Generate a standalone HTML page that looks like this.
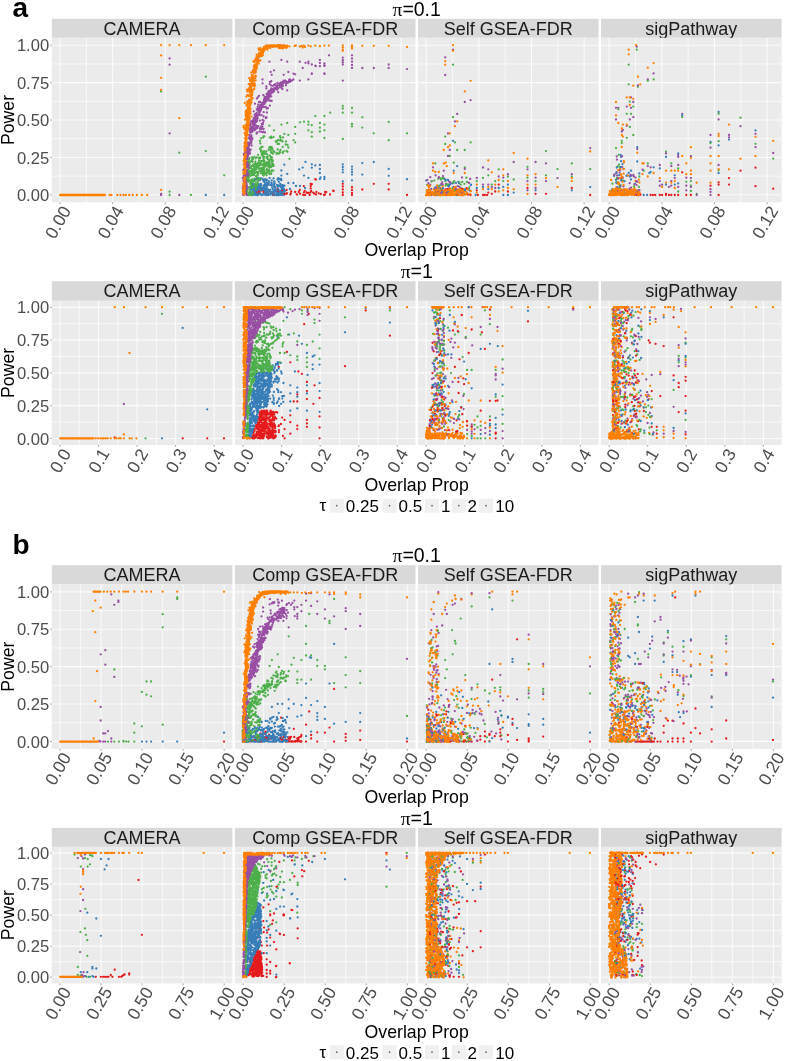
<!DOCTYPE html>
<html><head><meta charset="utf-8"><style>
html,body{margin:0;padding:0;background:#fff;width:785px;height:1061px;overflow:hidden}
svg{display:block;filter:blur(0.3px)}
text{font-family:"Liberation Sans", sans-serif}
</style></head><body>
<svg width="785" height="1061" viewBox="0 0 785 1061">
<text x="12.5" y="17.3" font-size="28" font-weight="bold" fill="#000">a</text>
<text x="12.5" y="554" font-size="28" font-weight="bold" fill="#000">b</text>
<text x="416.7" y="15.6" font-size="19.5" text-anchor="middle" fill="#000"><tspan font-family="Liberation Serif">π</tspan>=0.1</text>
<rect x="51.8" y="18.8" width="180.6" height="19" fill="#D9D9D9"/>
<text x="142.1" y="35" font-size="18" text-anchor="middle" fill="#1A1A1A">CAMERA</text>
<rect x="51.8" y="37.8" width="180.6" height="164.5" fill="#EBEBEB"/>
<path d="M51.8 176.13H232.4M51.8 138.74H232.4M51.8 101.36H232.4M51.8 63.97H232.4M86.32 37.8V202.3M138.94 37.8V202.3M191.57 37.8V202.3" stroke="#fff" stroke-opacity="0.75" stroke-width="0.9" fill="none"/>
<path d="M51.8 194.82H232.4M51.8 157.44H232.4M51.8 120.05H232.4M51.8 82.66H232.4M51.8 45.28H232.4M60.01 37.8V202.3M112.63 37.8V202.3M165.25 37.8V202.3M217.88 37.8V202.3" stroke="#fff" stroke-opacity="0.8" stroke-width="1.1" fill="none"/>
<path d="M60.01 202.3V204.1M112.63 202.3V204.1M165.25 202.3V204.1M217.88 202.3V204.1" stroke="#888" stroke-width="0.8" fill="none"/>
<text x="71.71" y="210.5" font-size="17.5" text-anchor="end" fill="#4D4D4D" transform="rotate(-60 71.71 210.5)">0.00</text>
<text x="124.33" y="210.5" font-size="17.5" text-anchor="end" fill="#4D4D4D" transform="rotate(-60 124.33 210.5)">0.04</text>
<text x="176.95" y="210.5" font-size="17.5" text-anchor="end" fill="#4D4D4D" transform="rotate(-60 176.95 210.5)">0.08</text>
<text x="229.58" y="210.5" font-size="17.5" text-anchor="end" fill="#4D4D4D" transform="rotate(-60 229.58 210.5)">0.12</text>
<path d="M205.8 195.0h0M224.2 195.0h0" stroke="#377EB8" stroke-width="2.3" stroke-linecap="round" fill="none"/>
<path d="M205.8 76.7h0M161.1 91.4h0M179.3 152.7h0M205.8 151.1h0M224.2 175.3h0M169.6 191.7h0M169.6 195.0h0M191.0 195.0h0" stroke="#4DAF4A" stroke-width="2.3" stroke-linecap="round" fill="none"/>
<path d="M169.6 58.4h0M169.6 64.7h0M169.6 133.4h0M161.1 193.8h0M161.1 195.0h0M179.3 195.0h0" stroke="#984EA3" stroke-width="2.3" stroke-linecap="round" fill="none"/>
<path d="M161.1 45.1h0M169.6 45.1h0M179.3 45.1h0M191.0 45.1h0M205.8 45.1h0M224.2 45.1h0M161.1 55.4h0M161.1 77.8h0M161.1 89.8h0M179.3 118.2h0M161.1 189.9h0M60.1 195.0h0M60.8 195.0h0M61.6 195.0h0M62.4 195.0h0M63.1 195.0h0M63.9 195.0h0M64.6 195.0h0M65.4 195.0h0M66.2 195.0h0M66.9 195.0h0M67.7 195.0h0M68.5 195.0h0M69.2 195.0h0M70.0 195.0h0M70.7 195.0h0M71.5 195.0h0M72.3 195.0h0M73.0 195.0h0M73.8 195.0h0M74.5 195.0h0M75.3 195.0h0M76.1 195.0h0M76.8 195.0h0M77.6 195.0h0M78.4 195.0h0M79.1 195.0h0M79.9 195.0h0M80.6 195.0h0M81.4 195.0h0M82.2 195.0h0M82.9 195.0h0M83.7 195.0h0M84.5 195.0h0M85.2 195.0h0M86.0 195.0h0M86.7 195.0h0M87.5 195.0h0M88.3 195.0h0M89.0 195.0h0M89.8 195.0h0M90.6 195.0h0M91.3 195.0h0M92.1 195.0h0M92.8 195.0h0M93.6 195.0h0M94.4 195.0h0M95.1 195.0h0M95.9 195.0h0M96.6 195.0h0M97.4 195.0h0M98.2 195.0h0M98.9 195.0h0M99.7 195.0h0M100.5 195.0h0M101.2 195.0h0M102.0 195.0h0M102.7 195.0h0M103.5 195.0h0M104.3 195.0h0M105.0 195.0h0M109.6 195.0h0M111.5 195.0h0M117.3 195.0h0M120.5 195.0h0M123.5 195.0h0M125.8 195.0h0M129.2 195.0h0M132.7 195.0h0M136.9 195.0h0M141.9 195.0h0M147.2 195.0h0" stroke="#FF7F00" stroke-width="2.3" stroke-linecap="round" fill="none"/>
<rect x="234.9" y="18.8" width="180.6" height="19" fill="#D9D9D9"/>
<text x="325.2" y="35" font-size="18" text-anchor="middle" fill="#1A1A1A">Comp GSEA-FDR</text>
<rect x="234.9" y="37.8" width="180.6" height="164.5" fill="#EBEBEB"/>
<path d="M234.9 176.13H415.5M234.9 138.74H415.5M234.9 101.36H415.5M234.9 63.97H415.5M269.42 37.8V202.3M322.04 37.8V202.3M374.67 37.8V202.3" stroke="#fff" stroke-opacity="0.75" stroke-width="0.9" fill="none"/>
<path d="M234.9 194.82H415.5M234.9 157.44H415.5M234.9 120.05H415.5M234.9 82.66H415.5M234.9 45.28H415.5M243.11 37.8V202.3M295.73 37.8V202.3M348.35 37.8V202.3M400.98 37.8V202.3" stroke="#fff" stroke-opacity="0.8" stroke-width="1.1" fill="none"/>
<path d="M243.11 202.3V204.1M295.73 202.3V204.1M348.35 202.3V204.1M400.98 202.3V204.1" stroke="#888" stroke-width="0.8" fill="none"/>
<text x="254.81" y="210.5" font-size="17.5" text-anchor="end" fill="#4D4D4D" transform="rotate(-60 254.81 210.5)">0.00</text>
<text x="307.43" y="210.5" font-size="17.5" text-anchor="end" fill="#4D4D4D" transform="rotate(-60 307.43 210.5)">0.04</text>
<text x="360.05" y="210.5" font-size="17.5" text-anchor="end" fill="#4D4D4D" transform="rotate(-60 360.05 210.5)">0.08</text>
<text x="412.68" y="210.5" font-size="17.5" text-anchor="end" fill="#4D4D4D" transform="rotate(-60 412.68 210.5)">0.12</text>
<path d="M303.9 192.3h0M277.9 193.0h0M277.1 192.7h0M278.4 191.0h0M280.8 191.6h0M281.8 191.1h0M283.6 193.4h0M303.2 194.9h0M316.4 191.9h0M333.6 191.1h0M282.2 192.9h0M318.8 193.4h0M326.3 192.1h0M323.9 195.0h0M300.1 193.8h0M257.9 193.6h0M268.3 193.3h0M256.7 192.0h0M268.5 194.7h0M267.5 194.7h0M286.6 190.0h0M261.6 190.5h0M263.5 192.2h0M274.9 190.7h0M256.1 191.7h0M286.5 193.5h0M284.0 194.2h0M259.3 193.1h0M258.0 189.4h0M266.9 189.3h0M256.0 190.0h0M259.2 191.4h0M256.8 194.7h0M275.7 190.0h0M303.8 186.1h0M310.7 186.0h0M310.7 188.4h0M315.3 179.2h0M342.8 183.8h0M342.8 186.5h0M342.8 189.5h0M342.8 192.5h0M342.8 195.0h0M352.0 187.2h0M352.0 195.0h0M362.3 189.5h0M373.8 183.8h0M315.9 179.6h0M325.0 194.5h0" stroke="#E41A1C" stroke-width="2.3" stroke-linecap="round" fill="none"/>
<path d="M261.1 185.4h0M251.4 194.9h0M266.8 185.7h0M267.3 184.3h0M279.5 192.0h0M255.0 192.9h0M267.0 193.0h0M277.7 192.5h0M256.7 190.0h0M257.7 192.0h0M283.2 188.2h0M255.8 186.4h0M278.6 189.5h0M281.4 193.0h0M275.1 189.5h0M260.1 193.2h0M283.8 188.6h0M262.4 194.9h0M253.9 185.7h0M254.4 193.5h0M254.0 184.2h0M283.8 191.5h0M266.7 194.7h0M263.5 194.0h0M257.5 187.4h0M257.2 190.7h0M257.7 188.8h0M254.0 194.5h0M263.0 194.6h0M265.9 190.1h0M263.7 186.1h0M274.1 190.4h0M259.9 190.0h0M267.8 193.0h0M253.3 190.4h0M257.4 187.2h0M275.9 189.8h0M281.5 189.1h0M266.2 192.0h0M265.0 194.8h0M273.1 194.1h0M282.7 187.0h0M267.9 194.8h0M278.6 185.6h0M253.7 189.1h0M252.5 186.8h0M254.6 192.2h0M271.7 185.6h0M262.3 189.6h0M284.6 193.6h0M254.8 189.0h0M266.4 187.9h0M255.8 187.7h0M274.0 184.2h0M267.7 189.1h0M251.3 187.8h0M252.3 195.0h0M253.3 187.1h0M251.7 193.0h0M263.1 194.5h0M268.3 192.1h0M252.9 184.7h0M272.7 188.9h0M252.3 193.9h0M267.7 194.7h0M258.0 185.5h0M266.8 186.7h0M253.4 185.9h0M259.4 187.5h0M260.5 184.2h0M255.6 189.5h0M282.4 185.2h0M277.8 189.0h0M265.6 193.6h0M272.7 195.0h0M260.4 193.6h0M273.4 191.3h0M252.4 192.5h0M254.7 189.1h0M257.9 195.0h0M283.9 190.3h0M257.3 195.0h0M259.3 188.1h0M251.0 188.4h0M264.9 189.8h0M256.0 189.8h0M251.1 187.0h0M251.8 184.3h0M275.1 191.6h0M262.0 187.8h0M284.4 185.7h0M274.1 191.4h0M280.6 191.2h0M274.5 193.3h0M254.2 190.0h0M254.0 188.1h0M265.4 184.0h0M274.6 186.9h0M252.5 187.1h0M274.3 186.4h0M265.6 188.4h0M271.0 184.9h0M268.2 184.1h0M252.2 187.1h0M272.2 187.3h0M280.7 186.3h0M284.1 194.8h0M264.0 187.1h0M256.2 194.9h0M264.1 187.5h0M278.5 185.4h0M281.0 187.3h0M261.0 188.9h0M258.2 184.6h0M253.2 193.6h0M257.4 187.1h0M266.2 186.2h0M282.6 190.3h0M273.6 178.4h0M274.0 181.6h0M266.2 180.7h0M260.9 183.9h0M271.7 180.4h0M257.0 179.3h0M258.2 185.2h0M279.2 186.0h0M265.5 179.1h0M262.3 178.7h0M269.1 185.1h0M274.5 181.3h0M264.4 182.2h0M263.3 180.7h0M267.1 183.0h0M277.9 179.7h0M264.0 181.6h0M276.8 184.8h0M281.2 180.0h0M255.3 179.2h0M271.4 184.1h0M342.8 164.3h0M342.8 169.6h0M342.8 181.5h0M352.0 169.3h0M352.0 172.0h0M362.3 163.1h0M388.7 168.9h0M388.7 175.8h0M311.8 164.3h0M324.4 177.0h0M324.4 179.0h0M269.4 164.7h0M284.3 164.7h0M305.5 161.9h0M299.2 169.3h0M281.4 170.5h0M304.0 175.6h0M308.4 177.9h0M320.6 177.3h0M264.3 179.6h0M271.7 183.0h0M305.0 188.0h0M290.0 189.0h0" stroke="#377EB8" stroke-width="2.3" stroke-linecap="round" fill="none"/>
<path d="M258.5 178.1h0M248.7 158.8h0M256.6 164.9h0M252.2 165.9h0M257.5 166.3h0M255.1 172.8h0M268.9 165.2h0M251.8 186.4h0M259.6 163.5h0M249.7 171.7h0M249.5 158.1h0M250.8 193.4h0M266.8 157.3h0M264.4 171.1h0M256.2 169.3h0M253.5 170.1h0M273.0 164.3h0M246.9 174.9h0M251.0 170.6h0M271.7 166.3h0M255.2 166.9h0M253.0 184.7h0M252.2 175.0h0M262.8 169.1h0M254.6 170.5h0M267.8 159.2h0M251.1 186.1h0M253.0 159.4h0M248.2 175.9h0M265.7 173.9h0M269.5 167.8h0M266.5 164.0h0M262.0 169.1h0M260.0 165.3h0M272.5 160.2h0M256.8 178.0h0M250.2 183.8h0M254.4 178.7h0M255.9 163.9h0M258.6 162.5h0M245.9 178.1h0M248.0 180.9h0M256.1 176.2h0M249.7 167.3h0M248.6 175.6h0M259.3 158.1h0M269.0 162.4h0M267.9 164.9h0M269.1 163.3h0M260.3 171.3h0M246.7 178.5h0M269.4 160.7h0M263.4 168.2h0M246.2 180.8h0M259.5 165.4h0M258.6 163.2h0M260.0 157.6h0M259.9 171.1h0M267.1 162.4h0M250.1 193.5h0M250.3 187.4h0M248.8 177.2h0M263.6 170.4h0M263.4 171.8h0M268.2 166.6h0M258.1 163.1h0M266.7 157.9h0M263.1 173.3h0M249.3 165.1h0M248.5 170.3h0M249.3 193.5h0M252.4 162.0h0M248.2 181.5h0M245.8 181.8h0M261.5 170.0h0M246.8 177.3h0M245.9 178.0h0M251.2 180.3h0M268.7 163.0h0M254.3 168.0h0M246.9 191.6h0M245.7 189.8h0M251.9 160.2h0M265.8 166.6h0M273.0 164.7h0M252.9 165.4h0M266.8 169.1h0M252.3 192.3h0M261.8 168.3h0M251.5 180.9h0M247.7 192.4h0M255.3 161.7h0M247.4 190.7h0M263.5 167.5h0M267.1 164.2h0M254.6 173.0h0M253.6 184.6h0M246.4 172.5h0M260.8 164.7h0M250.8 175.8h0M255.4 189.3h0M256.9 171.8h0M249.9 189.7h0M249.1 174.5h0M270.7 165.5h0M251.0 168.1h0M260.4 162.4h0M254.9 163.6h0M248.4 194.5h0M251.1 181.5h0M248.5 164.3h0M256.6 157.4h0M248.3 172.8h0M263.4 166.0h0M257.6 174.2h0M267.7 171.5h0M250.1 187.3h0M256.7 186.5h0M249.0 195.0h0M255.6 158.3h0M253.3 172.0h0M249.2 187.1h0M255.6 181.6h0M261.1 161.0h0M269.7 166.7h0M257.6 163.4h0M253.5 165.8h0M247.1 189.1h0M249.5 189.3h0M264.2 166.0h0M262.0 170.2h0M263.9 154.0h0M268.3 170.3h0M271.4 171.8h0M262.0 153.6h0M265.9 153.8h0M267.2 172.4h0M258.1 171.9h0M274.3 152.0h0M268.8 166.5h0M258.5 165.9h0M269.6 174.2h0M263.6 175.5h0M266.7 162.6h0M261.6 161.3h0M265.2 164.4h0M266.6 157.1h0M269.1 170.6h0M263.6 158.2h0M263.1 165.2h0M258.7 168.8h0M258.8 157.8h0M273.7 165.8h0M273.5 165.9h0M268.5 166.3h0M271.0 152.6h0M261.1 151.0h0M271.2 173.8h0M269.1 159.6h0M263.4 161.2h0M278.0 153.7h0M285.7 144.5h0M260.4 143.4h0M271.5 137.9h0M278.0 140.0h0M260.1 149.0h0M263.4 154.4h0M280.1 140.6h0M280.5 139.6h0M280.0 152.3h0M280.4 137.6h0M277.6 149.5h0M267.1 154.3h0M282.9 137.5h0M273.6 137.1h0M277.6 143.9h0M270.8 150.9h0M287.4 151.8h0M270.5 149.0h0M276.0 141.2h0M283.8 151.3h0M279.2 153.4h0M269.7 137.6h0M269.4 125.7h0M274.0 130.3h0M284.3 133.8h0M295.2 126.9h0M295.2 133.8h0M293.5 140.1h0M295.2 142.4h0M304.0 121.7h0M308.4 121.7h0M308.4 124.6h0M308.4 130.3h0M311.8 125.1h0M319.9 122.9h0M319.9 127.7h0M319.9 131.5h0M324.4 124.6h0M324.4 130.3h0M324.4 138.0h0M342.8 105.8h0M342.8 112.7h0M352.0 108.0h0M352.0 124.0h0M352.0 126.4h0M388.7 121.9h0M407.0 133.3h0M315.3 116.1h0M289.4 158.8h0M263.2 137.6h0M271.1 136.7h0M286.0 141.5h0M279.0 143.9h0" stroke="#4DAF4A" stroke-width="2.3" stroke-linecap="round" fill="none"/>
<path d="M265.8 99.8h0M255.7 115.7h0M267.5 95.9h0M257.5 118.8h0M246.2 171.4h0M246.1 189.6h0M243.5 180.0h0M244.4 174.3h0M289.9 79.5h0M254.5 124.0h0M251.8 139.1h0M271.2 92.7h0M246.7 185.0h0M281.1 85.9h0M251.6 145.5h0M252.2 139.5h0M289.0 81.1h0M245.1 155.2h0M244.7 182.5h0M247.7 165.6h0M284.2 82.0h0M244.8 177.3h0M247.5 159.0h0M244.4 173.5h0M247.0 162.7h0M292.1 80.5h0M290.0 81.5h0M255.4 121.9h0M266.2 97.2h0M251.6 131.7h0M256.0 114.2h0M255.5 120.3h0M261.8 103.2h0M273.5 89.8h0M244.7 177.5h0M273.8 90.5h0M248.7 145.1h0M277.1 87.8h0M250.6 128.3h0M245.6 192.6h0M246.6 172.1h0M270.6 93.1h0M261.4 106.1h0M263.3 104.1h0M244.7 179.8h0M272.2 91.8h0M250.3 139.2h0M252.4 138.2h0M282.3 85.1h0M256.5 114.9h0M268.7 96.7h0M271.6 92.2h0M253.6 126.5h0M255.5 116.4h0M248.7 148.6h0M253.0 123.2h0M248.1 175.7h0M251.3 138.4h0M250.0 137.4h0M244.8 176.1h0M264.5 99.6h0M266.7 93.9h0M264.6 97.8h0M284.3 81.6h0M268.8 95.4h0M262.6 104.4h0M253.2 124.0h0M268.7 95.1h0M246.1 183.4h0M274.4 88.2h0M254.0 129.6h0M255.1 125.4h0M283.1 81.8h0M251.8 121.5h0M284.3 82.2h0M253.4 125.8h0M254.6 130.3h0M276.3 87.2h0M245.3 157.3h0M267.0 97.9h0M255.0 118.8h0M253.7 111.3h0M245.5 174.3h0M246.0 183.6h0M245.6 173.8h0M274.2 85.1h0M247.3 188.7h0M248.6 143.6h0M248.4 153.9h0M268.2 96.4h0M246.4 157.1h0M246.8 188.5h0M262.7 105.7h0M247.9 148.1h0M245.8 162.6h0M253.3 127.0h0M247.7 143.8h0M246.8 155.0h0M260.5 111.1h0M247.1 148.1h0M251.1 141.5h0M277.0 86.8h0M248.9 159.5h0M258.3 111.0h0M263.7 101.7h0M245.2 190.9h0M246.7 154.1h0M244.6 162.8h0M250.7 149.7h0M266.8 97.7h0M248.1 166.9h0M265.2 99.6h0M253.0 128.5h0M269.0 95.7h0M251.4 136.9h0M253.9 123.5h0M266.4 98.0h0M246.4 158.1h0M243.7 181.3h0M245.7 170.5h0M279.3 83.4h0M281.8 83.1h0M246.7 163.4h0M244.1 169.3h0M282.6 86.1h0M264.6 103.5h0M266.7 96.7h0M257.6 110.2h0M271.6 91.8h0M245.4 157.2h0M244.0 155.2h0M244.3 183.3h0M254.0 122.5h0M245.9 180.0h0M244.1 182.8h0M250.6 131.4h0M256.2 122.1h0M256.8 119.8h0M247.5 180.3h0M245.8 181.0h0M247.4 172.6h0M268.3 99.1h0M245.0 189.1h0M246.7 154.9h0M245.6 172.3h0M243.7 180.8h0M257.7 118.2h0M245.9 180.6h0M246.5 156.3h0M246.7 175.5h0M261.9 104.2h0M244.1 194.3h0M253.7 128.5h0M258.7 108.9h0M256.4 119.3h0M255.0 120.6h0M251.1 135.4h0M244.9 175.5h0M249.1 153.0h0M273.9 88.7h0M244.5 187.8h0M260.1 101.9h0M245.8 186.4h0M287.0 82.4h0M247.5 161.8h0M246.5 159.5h0M274.1 88.3h0M265.6 101.6h0M254.7 124.4h0M281.2 85.6h0M264.0 99.3h0M259.7 108.5h0M268.2 94.0h0M253.6 118.6h0M246.1 159.7h0M286.3 81.6h0M253.4 127.1h0M242.9 194.6h0M245.0 192.1h0M251.2 129.8h0M282.4 84.1h0M245.5 169.5h0M248.0 174.6h0M248.1 163.5h0M256.4 115.2h0M249.3 137.7h0M249.9 139.5h0M264.8 98.4h0M246.8 158.2h0M278.4 88.2h0M254.2 118.6h0M277.2 89.7h0M248.8 145.9h0M248.8 168.6h0M247.8 156.5h0M245.4 175.1h0M249.8 150.0h0M243.7 190.5h0M249.9 139.3h0M256.5 116.9h0M256.1 117.6h0M261.0 109.5h0M266.4 117.5h0M257.8 110.3h0M263.6 116.5h0M261.6 115.1h0M259.6 112.1h0M259.9 120.6h0M257.6 115.9h0M256.8 109.5h0M263.7 112.2h0M255.0 103.7h0M259.2 102.2h0M267.8 99.1h0M264.5 102.0h0M267.2 98.2h0M266.3 101.1h0M263.5 103.4h0M264.4 100.2h0M264.4 100.9h0M269.6 97.1h0M258.1 104.7h0M261.9 104.8h0M256.9 98.6h0M262.1 107.0h0M281.5 82.9h0M271.0 85.4h0M266.4 88.4h0M262.6 83.3h0M280.4 84.6h0M283.5 82.2h0M272.9 85.8h0M272.0 89.4h0M271.1 89.7h0M269.9 81.9h0M249.4 129.3h0M262.4 126.8h0M256.6 133.5h0M260.4 127.8h0M263.0 123.0h0M249.1 134.8h0M253.4 124.7h0M254.0 124.6h0M262.7 128.8h0M257.2 126.9h0M249.8 125.3h0M262.9 132.2h0M252.2 121.7h0M257.6 126.2h0M258.3 126.1h0M261.8 123.8h0M263.7 128.8h0M269.4 61.7h0M308.4 63.4h0M319.9 59.9h0M302.7 68.0h0M270.6 72.0h0M271.7 74.8h0M283.7 74.8h0M293.5 73.7h0M293.5 79.4h0M342.8 57.6h0M342.8 62.2h0M342.8 64.5h0M342.8 80.6h0M352.0 61.7h0M352.0 65.0h0M352.0 68.0h0M373.8 68.0h0M388.7 68.0h0M319.9 63.0h0M324.4 65.7h0M329.0 55.3h0M324.4 73.7h0M311.8 73.7h0" stroke="#984EA3" stroke-width="2.3" stroke-linecap="round" fill="none"/>
<path d="M244.9 159.0h0M245.6 144.8h0M245.7 158.3h0M244.5 180.8h0M246.1 135.6h0M243.9 191.0h0M245.8 141.3h0M246.6 141.8h0M244.3 169.7h0M245.6 160.1h0M244.7 148.3h0M244.3 187.1h0M244.8 161.7h0M242.9 189.1h0M244.9 156.0h0M243.7 192.7h0M245.7 159.4h0M244.9 186.4h0M245.0 164.1h0M246.6 138.6h0M245.5 160.9h0M243.5 184.1h0M244.8 172.1h0M244.8 138.3h0M244.6 193.6h0M245.0 142.9h0M243.7 189.2h0M245.3 154.8h0M244.0 192.3h0M245.6 149.2h0M244.5 142.8h0M245.0 168.9h0M246.8 129.1h0M245.1 160.5h0M245.8 152.9h0M246.4 147.9h0M247.2 133.2h0M246.2 139.6h0M245.3 160.3h0M246.6 131.3h0M246.0 141.2h0M246.4 149.9h0M245.4 169.3h0M245.5 141.8h0M246.0 140.5h0M245.2 163.2h0M245.2 142.9h0M245.0 170.8h0M244.8 176.4h0M246.5 143.6h0M244.9 177.1h0M244.9 179.5h0M245.6 137.6h0M244.6 132.7h0M245.3 160.7h0M245.3 134.1h0M245.5 158.1h0M245.7 169.6h0M246.1 152.3h0M245.3 165.9h0M244.9 151.3h0M243.8 164.7h0M245.0 156.7h0M244.6 168.1h0M244.5 175.9h0M245.6 151.4h0M245.3 150.7h0M245.0 173.3h0M246.6 139.4h0M244.1 184.2h0M243.3 177.4h0M244.8 179.7h0M245.2 170.8h0M244.1 175.7h0M246.8 145.3h0M244.9 152.2h0M243.7 173.9h0M245.0 174.1h0M246.6 137.1h0M245.6 138.5h0M244.2 168.4h0M246.3 138.2h0M246.0 145.4h0M246.8 139.0h0M245.1 148.7h0M244.5 177.9h0M245.2 144.0h0M246.3 141.7h0M245.3 159.8h0M246.0 160.4h0M243.3 193.1h0M243.4 189.7h0M245.3 158.7h0M245.3 164.7h0M245.2 149.5h0M244.7 173.7h0M244.8 178.2h0M245.6 150.0h0M244.6 156.0h0M245.5 181.8h0M245.2 147.5h0M245.0 173.1h0M243.4 185.3h0M245.6 142.8h0M246.1 164.2h0M244.7 143.6h0M245.0 162.7h0M270.9 46.5h0M247.6 106.3h0M255.2 72.7h0M257.9 62.0h0M257.4 62.0h0M277.2 46.4h0M256.3 66.8h0M250.5 79.9h0M259.3 54.6h0M250.2 85.2h0M247.8 102.7h0M256.8 65.8h0M286.8 47.4h0M266.3 46.8h0M285.5 46.1h0M247.3 104.1h0M258.1 60.9h0M250.7 113.6h0M248.9 109.2h0M276.1 46.1h0M269.2 45.7h0M266.9 47.6h0M246.7 129.0h0M253.9 71.4h0M262.6 50.6h0M246.8 119.6h0M264.2 50.5h0M249.7 84.9h0M279.8 45.1h0M245.7 124.9h0M251.5 95.4h0M265.4 46.7h0M252.5 85.4h0M246.2 112.2h0M279.0 46.2h0M251.1 81.2h0M261.7 49.9h0M251.6 102.4h0M255.4 64.8h0M247.5 123.1h0M251.2 91.2h0M249.6 99.7h0M272.5 46.8h0M258.0 58.1h0M249.3 109.1h0M248.9 110.8h0M284.5 47.4h0M248.3 114.3h0M250.1 90.2h0M249.6 102.3h0M248.9 109.9h0M275.9 46.7h0M270.2 46.7h0M253.2 83.3h0M253.4 78.8h0M252.4 82.6h0M247.3 91.3h0M255.4 70.4h0M280.8 46.0h0M252.4 79.7h0M285.3 46.5h0M244.4 127.7h0M254.3 73.2h0M255.5 64.4h0M278.2 46.5h0M248.6 107.9h0M279.6 47.0h0M249.2 78.2h0M255.2 76.7h0M249.4 105.9h0M252.4 91.1h0M251.1 72.6h0M247.3 124.4h0M274.3 45.1h0M254.5 86.5h0M249.0 118.8h0M252.6 98.2h0M248.7 84.1h0M256.4 64.8h0M276.0 45.9h0M248.6 90.1h0M244.5 129.2h0M283.7 45.5h0M248.0 126.9h0M253.4 85.0h0M258.8 54.9h0M255.2 78.1h0M245.7 114.4h0M264.4 48.0h0M248.8 107.9h0M273.1 45.4h0M260.3 54.0h0M251.5 116.6h0M247.2 114.9h0M249.9 102.1h0M250.1 113.1h0M250.3 109.0h0M248.5 125.7h0M256.3 68.3h0M267.1 46.5h0M246.6 118.8h0M248.8 116.2h0M247.7 102.5h0M248.4 107.4h0M256.6 54.6h0M247.9 109.2h0M249.9 102.3h0M264.9 47.6h0M283.9 45.4h0M250.0 95.5h0M256.5 64.6h0M255.6 76.4h0M273.7 46.4h0M246.1 117.0h0M264.6 49.0h0M258.2 59.1h0M247.6 90.5h0M280.3 45.7h0M251.6 80.1h0M250.3 125.7h0M254.4 88.8h0M246.5 126.1h0M248.5 115.6h0M251.3 84.3h0M249.9 103.6h0M273.9 46.5h0M249.0 113.2h0M248.4 110.3h0M272.9 46.2h0M260.5 48.1h0M268.1 47.4h0M262.4 52.1h0M269.3 47.1h0M246.7 115.3h0M266.8 48.1h0M281.2 45.1h0M260.3 60.5h0M253.0 71.1h0M247.5 119.3h0M259.9 53.7h0M256.6 69.0h0M267.7 46.3h0M253.1 83.9h0M247.9 108.2h0M244.9 119.7h0M264.8 48.6h0M250.1 86.5h0M248.3 109.0h0M252.9 75.4h0M285.2 46.2h0M267.4 49.7h0M254.6 68.5h0M251.6 90.5h0M278.9 45.8h0M279.9 45.8h0M249.9 84.4h0M249.0 120.0h0M260.3 52.7h0M256.8 64.7h0M259.7 53.2h0M281.3 46.3h0M248.0 121.0h0M286.4 47.9h0M249.5 104.0h0M247.9 110.1h0M246.9 110.2h0M253.3 80.3h0M248.4 114.7h0M258.3 56.4h0M271.4 45.4h0M257.4 56.4h0M263.7 47.1h0M252.2 92.7h0M277.0 45.9h0M251.9 90.0h0M252.1 79.3h0M256.4 63.7h0M249.8 90.5h0M247.5 123.0h0M279.0 45.4h0M253.6 89.3h0M248.3 118.4h0M254.3 62.1h0M252.3 90.8h0M251.1 88.4h0M253.8 80.2h0M247.5 94.9h0M274.4 45.7h0M248.8 115.4h0M261.7 56.1h0M265.0 48.2h0M264.4 48.3h0M254.7 67.5h0M287.0 45.6h0M282.6 47.2h0M263.9 51.1h0M256.7 67.4h0M252.3 83.6h0M248.9 116.9h0M258.8 60.9h0M255.9 66.8h0M253.4 79.9h0M281.8 46.2h0M263.2 51.5h0M251.0 91.0h0M250.2 80.1h0M248.6 118.1h0M252.1 95.5h0M254.8 83.3h0M257.2 56.4h0M284.4 46.2h0M254.2 71.1h0M256.4 58.4h0M256.7 59.1h0M250.9 97.3h0M258.4 57.2h0M269.9 46.5h0M280.3 48.1h0M251.2 85.8h0M270.3 46.4h0M289.4 46.4h0M252.4 72.1h0M245.9 112.9h0M246.3 112.6h0M251.8 79.0h0M263.6 50.8h0M268.3 46.8h0M278.9 45.6h0M248.5 122.9h0M249.9 104.2h0M249.2 115.5h0M247.9 112.8h0M253.1 75.6h0M294.6 46.0h0M310.7 46.4h0M329.0 45.6h0M342.8 50.8h0M373.8 45.8h0M299.8 46.5h0M302.7 47.5h0" stroke="#FF7F00" stroke-width="2.3" stroke-linecap="round" fill="none"/>
<path d="M291.2 191.3h0M311.2 190.9h0M297.1 194.6h0M309.7 195.0h0M306.5 192.5h0M333.3 190.7h0M325.1 191.9h0M290.4 194.6h0M310.5 192.4h0M304.7 190.8h0M278.0 191.5h0M313.2 192.6h0M290.7 193.4h0M298.8 192.0h0M320.8 194.0h0M286.9 193.4h0M296.7 194.3h0M277.2 193.8h0M314.1 193.5h0M306.7 192.8h0M276.7 195.0h0M282.3 190.8h0M261.4 189.8h0M257.9 194.0h0M260.1 190.6h0M258.6 191.9h0M273.6 194.7h0M282.2 194.6h0M264.9 191.7h0M267.8 192.7h0M272.5 193.0h0M277.6 189.4h0M284.8 194.1h0M268.6 191.6h0M262.7 190.1h0M264.1 191.3h0M310.7 183.8h0M352.0 190.0h0M352.0 193.0h0M388.7 183.8h0M388.7 189.5h0M407.0 195.0h0M311.8 184.2h0M299.8 190.0h0M295.2 192.0h0M308.4 193.0h0M316.0 194.5h0M330.0 194.5h0M305.0 195.0h0" stroke="#E41A1C" stroke-width="2.3" stroke-linecap="round" fill="none"/>
<path d="M278.9 195.0h0M264.6 189.6h0M252.8 185.2h0M260.4 187.0h0M278.1 185.9h0M266.8 195.0h0M257.8 188.2h0M260.0 186.6h0M277.5 195.0h0M279.1 193.3h0M260.8 184.3h0M251.5 187.2h0M283.2 189.1h0M282.4 195.0h0M256.5 186.6h0M270.3 194.4h0M271.4 193.2h0M252.8 191.6h0M255.3 193.1h0M274.1 186.0h0M281.2 193.3h0M284.2 191.6h0M260.7 190.3h0M278.0 186.4h0M260.8 189.3h0M268.8 194.4h0M266.6 184.2h0M251.0 193.2h0M255.1 189.4h0M268.0 192.7h0M269.9 189.8h0M264.1 190.1h0M252.5 191.7h0M276.4 194.3h0M280.3 195.0h0M256.5 195.0h0M270.3 189.9h0M276.6 195.0h0M258.1 185.5h0M277.8 187.0h0M254.5 194.6h0M252.5 194.8h0M270.7 193.2h0M252.7 193.8h0M264.2 187.9h0M251.9 186.3h0M275.4 187.3h0M265.8 186.0h0M257.5 184.2h0M274.4 190.3h0M262.1 189.8h0M262.5 188.0h0M252.0 185.5h0M257.6 185.9h0M252.8 193.7h0M279.8 191.7h0M258.4 186.8h0M258.8 189.3h0M252.9 188.6h0M259.2 186.7h0M268.9 190.1h0M273.8 194.1h0M251.8 193.6h0M266.0 193.6h0M277.2 193.5h0M268.8 194.3h0M272.5 192.0h0M256.8 184.4h0M253.3 193.6h0M267.9 191.2h0M270.4 191.8h0M276.9 192.6h0M265.9 190.2h0M271.6 184.8h0M274.7 195.0h0M265.1 191.9h0M275.7 191.1h0M254.4 186.9h0M274.8 187.5h0M272.1 192.0h0M266.4 189.3h0M264.6 185.4h0M251.3 189.3h0M277.8 195.0h0M256.2 190.7h0M254.3 190.0h0M283.1 185.5h0M277.8 189.9h0M280.4 192.1h0M256.9 194.3h0M265.3 184.3h0M251.0 189.7h0M254.2 188.0h0M259.5 193.7h0M251.0 192.6h0M282.0 192.2h0M261.4 188.5h0M285.0 190.8h0M258.6 194.8h0M261.4 195.0h0M280.3 193.3h0M270.6 194.5h0M274.6 183.2h0M260.6 178.4h0M279.8 179.0h0M281.3 180.1h0M268.7 181.2h0M266.9 179.8h0M257.8 178.7h0M259.2 180.1h0M253.9 180.2h0M281.0 179.0h0M260.1 180.0h0M280.6 184.8h0M278.2 178.2h0M253.0 183.7h0M278.9 181.8h0M269.6 178.0h0M263.7 185.4h0M267.7 183.5h0M280.2 183.8h0M342.8 167.0h0M342.8 172.3h0M352.0 166.6h0M352.0 174.6h0M352.0 180.3h0M362.3 174.6h0M373.8 162.0h0M407.0 179.2h0M311.8 167.7h0M315.3 165.4h0M319.9 165.0h0M319.9 169.0h0M319.9 173.0h0M319.9 179.0h0M302.7 167.6h0M287.2 173.9h0M281.4 175.6h0M277.6 179.6h0M288.3 183.0h0M293.5 183.0h0M259.8 184.3h0M269.4 182.5h0M296.0 186.0h0M300.0 186.0h0M284.0 190.0h0" stroke="#377EB8" stroke-width="2.3" stroke-linecap="round" fill="none"/>
<path d="M246.6 187.3h0M252.1 192.8h0M263.9 168.2h0M249.1 166.1h0M260.4 179.3h0M262.6 156.4h0M254.1 174.4h0M254.3 156.9h0M252.0 157.4h0M265.0 163.9h0M259.9 164.2h0M251.9 172.7h0M251.6 195.0h0M247.2 171.7h0M272.7 160.9h0M255.7 188.9h0M271.1 157.2h0M267.4 157.6h0M254.5 167.0h0M256.5 166.0h0M257.8 175.7h0M272.0 163.3h0M252.5 158.6h0M246.5 178.1h0M252.2 172.7h0M264.4 160.8h0M261.7 170.9h0M252.6 165.8h0M249.9 191.4h0M246.7 167.7h0M248.9 163.6h0M252.9 187.1h0M251.7 170.7h0M249.5 164.2h0M252.8 180.0h0M264.1 164.1h0M264.8 163.4h0M254.4 164.1h0M263.7 159.6h0M257.2 167.3h0M255.7 172.7h0M266.2 164.1h0M245.7 192.1h0M251.1 161.1h0M251.7 172.0h0M249.0 165.9h0M267.1 157.5h0M257.5 179.3h0M257.6 182.4h0M258.2 173.5h0M259.0 160.3h0M249.2 173.2h0M248.1 173.7h0M263.6 159.3h0M260.1 158.2h0M272.6 161.4h0M251.0 195.0h0M271.6 162.6h0M247.4 170.0h0M271.1 167.0h0M268.7 161.7h0M251.4 166.5h0M259.9 168.8h0M248.5 195.0h0M255.8 186.6h0M268.9 166.1h0M264.1 156.9h0M251.9 179.3h0M262.3 164.2h0M263.3 175.0h0M257.0 166.6h0M263.9 173.8h0M252.6 192.1h0M257.1 165.5h0M247.2 187.2h0M272.3 161.7h0M252.1 157.6h0M255.1 186.0h0M261.3 173.4h0M253.1 181.7h0M248.5 193.2h0M247.4 179.6h0M248.6 164.2h0M248.3 159.9h0M256.0 168.8h0M255.4 184.2h0M270.1 159.6h0M268.9 162.8h0M252.9 193.8h0M253.6 164.6h0M248.6 181.5h0M247.8 187.5h0M263.4 170.2h0M270.9 159.4h0M270.8 157.0h0M251.4 166.5h0M252.2 174.4h0M255.4 169.1h0M250.3 173.6h0M249.9 162.2h0M252.6 169.1h0M248.4 171.4h0M266.4 173.4h0M263.5 174.5h0M249.5 180.1h0M257.0 185.6h0M257.5 165.1h0M263.8 174.2h0M254.4 181.1h0M263.2 172.4h0M250.7 182.2h0M246.6 177.7h0M248.4 179.0h0M251.5 183.4h0M257.5 183.9h0M255.5 166.6h0M251.9 185.7h0M251.7 188.1h0M256.7 164.5h0M258.9 178.5h0M251.9 194.6h0M258.8 167.8h0M269.3 170.2h0M256.2 166.1h0M254.1 175.2h0M257.7 181.5h0M264.3 170.5h0M263.5 156.6h0M245.8 194.1h0M248.4 161.7h0M273.4 170.6h0M260.9 173.2h0M269.4 173.2h0M261.4 168.0h0M267.0 169.3h0M265.5 172.9h0M267.4 156.9h0M266.4 151.5h0M266.4 163.0h0M266.0 164.6h0M269.3 171.9h0M264.4 160.9h0M273.3 150.9h0M270.2 166.3h0M263.8 172.4h0M264.2 162.3h0M266.9 170.0h0M272.1 157.6h0M272.1 160.5h0M266.6 175.3h0M268.8 170.4h0M273.1 164.2h0M258.1 154.9h0M269.2 170.5h0M269.8 165.5h0M269.6 155.5h0M269.3 161.9h0M272.0 170.5h0M267.6 156.7h0M263.1 161.0h0M261.5 146.8h0M261.1 138.3h0M282.7 146.9h0M276.6 153.8h0M287.5 145.0h0M264.2 136.3h0M262.5 152.5h0M263.6 136.3h0M261.4 150.7h0M272.9 153.7h0M280.1 136.2h0M260.4 148.4h0M268.7 149.9h0M264.6 152.4h0M270.3 146.9h0M272.3 148.9h0M264.1 151.1h0M270.2 148.3h0M286.5 150.9h0M275.9 141.6h0M261.7 154.5h0M279.7 151.7h0M269.3 147.5h0M276.8 141.9h0M272.0 152.9h0M276.8 153.0h0M282.6 141.4h0M260.0 141.0h0M271.8 147.1h0M282.8 152.9h0M261.2 151.8h0M282.7 152.5h0M281.4 124.6h0M287.2 122.9h0M288.3 134.9h0M300.0 122.3h0M311.8 132.2h0M311.8 136.7h0M324.4 116.0h0M330.2 112.7h0M342.8 108.5h0M342.8 139.0h0M352.0 112.7h0M362.3 117.3h0M362.3 127.6h0M373.8 133.3h0M388.7 140.2h0M281.4 140.6h0M262.5 146.8h0M288.3 147.5h0M280.5 150.0h0" stroke="#4DAF4A" stroke-width="2.3" stroke-linecap="round" fill="none"/>
<path d="M254.3 122.8h0M246.0 170.4h0M269.3 93.3h0M250.8 127.7h0M260.3 106.8h0M248.3 142.7h0M252.9 127.8h0M245.0 191.2h0M272.0 89.1h0M244.8 161.1h0M284.2 81.5h0M289.1 80.8h0M244.8 164.0h0M279.0 85.3h0M267.1 94.6h0M267.2 99.0h0M244.5 179.3h0M244.4 193.1h0M245.6 190.4h0M282.7 82.8h0M249.0 138.2h0M250.7 132.7h0M248.3 167.1h0M255.8 125.5h0M246.0 160.9h0M281.5 87.9h0M246.5 186.9h0M245.0 167.9h0M244.4 185.2h0M244.7 187.0h0M247.9 150.8h0M270.6 91.6h0M250.7 138.1h0M246.6 185.9h0M245.3 187.2h0M245.9 192.7h0M275.3 89.0h0M270.9 92.3h0M248.3 146.8h0M251.0 128.2h0M254.5 117.2h0M263.8 107.0h0M250.6 131.1h0M256.2 118.3h0M254.9 120.4h0M251.2 142.9h0M247.9 152.2h0M280.8 83.0h0M242.9 188.1h0M243.4 187.0h0M247.0 195.0h0M244.0 190.2h0M259.7 109.7h0M280.3 83.8h0M249.5 128.9h0M246.3 159.4h0M242.9 178.0h0M252.2 129.9h0M245.0 179.4h0M247.0 158.2h0M254.8 123.1h0M254.2 120.8h0M260.4 105.0h0M246.8 165.1h0M248.5 145.2h0M287.9 82.7h0M248.5 165.4h0M257.7 107.0h0M268.1 92.4h0M245.4 178.7h0M247.1 146.2h0M250.6 138.4h0M243.8 175.7h0M243.3 169.8h0M246.3 194.5h0M251.9 127.0h0M247.1 148.0h0M244.1 183.4h0M258.6 114.8h0M250.0 153.5h0M262.5 103.6h0M246.7 172.3h0M253.5 120.5h0M259.3 113.7h0M243.6 195.0h0M250.8 130.2h0M254.4 121.3h0M268.7 91.1h0M247.3 187.5h0M247.2 152.0h0M277.6 85.1h0M250.0 136.9h0M249.2 137.4h0M249.4 152.9h0M244.3 153.8h0M252.8 130.6h0M249.6 151.5h0M252.1 126.8h0M248.1 150.2h0M247.0 158.6h0M258.8 110.5h0M272.8 92.4h0M272.2 90.7h0M286.0 85.3h0M252.3 131.0h0M245.0 177.4h0M277.0 85.3h0M276.7 89.2h0M246.5 171.4h0M244.5 187.6h0M245.1 178.0h0M258.6 109.7h0M271.7 91.8h0M248.1 173.4h0M246.8 155.9h0M270.2 90.3h0M273.3 89.6h0M248.4 164.8h0M244.6 183.1h0M246.5 183.3h0M281.0 82.3h0M270.2 90.9h0M244.4 187.2h0M267.9 99.4h0M285.3 80.7h0M247.8 163.1h0M249.6 142.6h0M244.8 175.8h0M246.5 165.7h0M247.7 155.8h0M253.2 124.3h0M258.1 108.9h0M244.7 188.4h0M260.8 105.8h0M246.2 153.1h0M245.8 173.5h0M289.1 80.0h0M264.4 103.7h0M267.4 96.7h0M271.2 90.8h0M246.4 170.3h0M247.1 146.8h0M271.4 92.1h0M252.8 120.3h0M250.9 131.0h0M246.6 155.9h0M261.3 108.2h0M286.8 82.0h0M250.8 139.8h0M246.0 193.1h0M245.9 151.7h0M248.2 150.3h0M243.9 153.8h0M281.8 82.9h0M283.6 80.7h0M244.0 186.1h0M250.6 131.9h0M248.1 150.3h0M245.2 169.5h0M253.7 120.9h0M247.1 170.8h0M242.9 186.7h0M253.4 122.0h0M243.8 193.0h0M275.0 85.1h0M256.9 121.2h0M264.8 96.7h0M283.8 82.7h0M271.3 96.3h0M259.7 109.4h0M251.2 135.7h0M269.4 96.2h0M245.8 192.9h0M246.3 173.7h0M275.1 87.9h0M248.2 154.8h0M246.4 148.5h0M248.7 144.8h0M245.7 159.6h0M251.3 121.1h0M290.8 80.8h0M268.1 96.5h0M256.8 112.9h0M247.7 156.2h0M282.3 82.7h0M265.8 97.3h0M256.8 114.7h0M250.3 142.7h0M248.4 148.2h0M248.1 149.8h0M254.4 122.4h0M249.5 150.1h0M250.0 139.1h0M252.3 131.7h0M249.6 144.7h0M246.1 182.8h0M248.4 151.3h0M251.2 141.7h0M245.8 151.7h0M246.4 161.8h0M277.4 83.0h0M243.2 186.9h0M248.3 152.7h0M245.5 176.2h0M255.0 119.3h0M266.0 99.3h0M264.0 100.4h0M246.3 165.0h0M245.1 180.9h0M256.0 113.6h0M243.6 187.1h0M282.3 84.2h0M246.2 167.0h0M289.7 81.9h0M247.4 173.1h0M246.1 159.6h0M290.1 81.7h0M245.4 172.8h0M276.8 87.4h0M246.9 162.9h0M287.7 82.8h0M255.7 114.3h0M255.9 113.6h0M259.0 114.5h0M266.9 112.5h0M257.0 120.6h0M257.7 108.9h0M254.6 114.6h0M259.7 115.2h0M259.1 108.1h0M263.7 120.8h0M266.2 117.3h0M259.4 113.0h0M259.7 109.9h0M268.0 108.1h0M262.5 120.0h0M259.3 111.1h0M265.8 118.2h0M266.7 108.6h0M266.6 101.1h0M260.7 106.6h0M270.4 100.6h0M265.7 106.9h0M268.4 98.9h0M259.0 102.0h0M259.8 105.8h0M259.0 95.8h0M271.7 100.9h0M263.3 102.3h0M269.9 105.6h0M270.6 94.6h0M269.7 95.6h0M257.8 97.3h0M269.5 100.8h0M263.2 95.1h0M279.8 86.8h0M273.9 91.4h0M279.4 85.8h0M275.1 84.1h0M271.3 81.2h0M269.7 84.1h0M278.2 92.2h0M266.4 86.5h0M282.4 89.0h0M271.0 81.6h0M280.2 84.8h0M282.9 85.6h0M271.4 88.5h0M286.0 83.5h0M287.2 90.3h0M261.1 126.3h0M257.4 128.0h0M263.4 131.6h0M256.4 127.5h0M256.0 127.9h0M257.2 132.5h0M259.7 131.4h0M255.4 121.6h0M259.9 128.8h0M261.3 131.8h0M250.9 124.1h0M250.2 132.4h0M250.6 122.2h0M261.1 128.9h0M249.9 130.5h0M249.9 130.7h0M255.7 129.2h0M265.0 132.4h0M254.3 128.3h0M262.7 124.6h0M256.4 127.8h0M249.8 125.4h0M257.5 126.7h0M281.4 59.9h0M287.2 61.7h0M299.8 61.7h0M305.5 62.8h0M308.4 61.7h0M311.8 64.5h0M315.8 66.2h0M319.9 66.2h0M324.4 63.4h0M324.4 65.7h0M274.0 70.3h0M288.3 72.0h0M295.2 74.3h0M311.8 73.7h0M324.4 73.7h0M262.5 79.4h0M299.8 80.6h0M308.4 79.4h0M342.8 60.0h0M352.0 55.3h0M352.0 58.5h0M362.3 68.0h0M388.7 64.5h0M407.0 69.1h0M315.3 65.7h0" stroke="#984EA3" stroke-width="2.3" stroke-linecap="round" fill="none"/>
<path d="M245.3 142.2h0M245.2 134.9h0M243.2 191.8h0M244.1 191.5h0M245.3 157.4h0M245.1 150.4h0M246.4 135.8h0M244.4 186.4h0M244.4 167.4h0M244.8 158.3h0M244.6 184.5h0M246.4 131.5h0M247.7 134.9h0M244.2 146.3h0M244.0 188.0h0M246.2 142.3h0M242.9 191.4h0M245.4 172.1h0M244.3 178.3h0M245.7 144.1h0M245.2 143.1h0M243.7 192.8h0M245.8 153.9h0M243.9 173.1h0M245.2 171.7h0M244.6 182.3h0M244.3 179.5h0M245.0 178.0h0M244.6 163.3h0M247.3 131.5h0M244.5 193.9h0M245.4 146.8h0M244.8 173.1h0M243.5 183.1h0M245.4 145.6h0M244.0 188.1h0M245.1 184.1h0M245.2 165.1h0M245.6 140.8h0M244.8 166.4h0M245.9 134.5h0M244.8 167.8h0M244.6 165.8h0M244.6 149.9h0M244.1 191.7h0M244.4 182.2h0M244.2 179.1h0M244.4 159.1h0M244.5 190.0h0M244.1 159.3h0M246.0 135.4h0M243.8 193.2h0M246.7 132.7h0M243.6 160.9h0M245.5 169.9h0M245.6 156.0h0M246.7 133.3h0M246.6 134.5h0M245.1 167.0h0M243.5 171.1h0M245.2 164.5h0M245.6 144.9h0M244.9 146.0h0M245.4 150.6h0M244.2 160.0h0M244.4 178.1h0M245.0 157.8h0M244.8 167.7h0M243.5 173.0h0M245.5 168.7h0M244.1 160.2h0M243.4 191.3h0M243.7 183.7h0M245.9 161.2h0M243.1 189.5h0M243.3 186.5h0M244.3 189.6h0M243.7 194.4h0M245.0 177.5h0M245.1 158.6h0M244.9 154.8h0M244.9 179.9h0M244.5 157.7h0M247.1 127.9h0M244.7 173.5h0M244.6 161.7h0M246.9 145.7h0M245.5 147.7h0M246.5 130.8h0M244.7 189.5h0M244.7 187.5h0M244.7 192.8h0M247.0 133.4h0M259.0 53.2h0M248.0 127.5h0M255.6 80.4h0M262.2 53.1h0M254.8 80.7h0M262.1 51.2h0M247.3 127.0h0M250.0 118.5h0M255.6 75.7h0M251.9 74.8h0M253.9 72.1h0M270.1 45.4h0M247.3 116.2h0M254.9 85.3h0M285.7 46.2h0M249.2 122.9h0M254.2 65.4h0M278.6 45.1h0M252.5 82.9h0M279.6 46.7h0M248.8 103.5h0M283.9 45.1h0M261.8 50.7h0M276.8 45.8h0M264.2 46.9h0M265.3 47.6h0M268.2 47.8h0M247.0 89.6h0M255.5 71.5h0M277.2 45.1h0M247.9 121.1h0M261.1 53.5h0M248.6 109.9h0M255.3 60.0h0M255.4 76.3h0M247.2 120.1h0M256.7 56.7h0M248.9 119.3h0M250.6 104.0h0M255.8 58.4h0M255.0 68.9h0M247.2 128.0h0M282.4 47.5h0M251.1 88.0h0M249.7 89.5h0M260.6 54.3h0M258.8 50.0h0M284.4 45.9h0M249.1 111.0h0M247.2 123.3h0M251.9 81.6h0M257.3 59.2h0M245.7 127.8h0M269.1 46.6h0M270.3 47.9h0M248.8 111.6h0M246.2 126.3h0M247.8 128.4h0M286.9 46.7h0M283.1 47.2h0M250.3 92.6h0M245.7 129.5h0M250.1 80.3h0M248.1 115.6h0M284.2 46.7h0M253.9 67.2h0M282.9 48.6h0M266.1 46.0h0M247.9 118.8h0M284.1 46.6h0M259.0 56.6h0M247.3 120.6h0M251.4 77.4h0M259.3 53.7h0M252.8 83.2h0M254.5 85.2h0M248.9 103.8h0M257.9 58.2h0M249.2 106.6h0M280.5 45.7h0M255.8 59.3h0M250.2 101.0h0M250.5 108.6h0M260.6 53.0h0M247.7 130.9h0M246.8 130.4h0M248.6 95.9h0M259.1 57.2h0M259.9 53.3h0M250.8 87.6h0M266.4 47.1h0M247.0 117.7h0M263.0 53.0h0M250.4 89.5h0M250.0 88.1h0M252.2 76.8h0M245.9 116.3h0M252.1 98.2h0M263.1 49.2h0M245.6 111.8h0M249.6 113.2h0M249.1 99.7h0M255.6 66.0h0M260.1 53.0h0M249.3 108.9h0M267.1 47.3h0M244.8 102.9h0M246.2 110.6h0M281.4 47.9h0M250.0 90.2h0M248.3 120.2h0M249.4 83.9h0M262.7 49.2h0M255.5 60.8h0M272.0 46.0h0M265.5 46.4h0M248.2 107.4h0M266.2 48.0h0M247.3 122.0h0M250.3 81.1h0M282.2 47.5h0M273.4 46.5h0M283.2 45.7h0M280.6 46.3h0M251.5 82.1h0M262.0 50.1h0M276.9 46.1h0M261.7 53.1h0M243.6 127.4h0M257.3 61.1h0M255.8 66.0h0M248.4 102.2h0M255.0 65.3h0M270.8 46.3h0M246.0 114.9h0M250.5 85.0h0M248.4 112.8h0M281.5 46.5h0M261.0 54.8h0M249.4 92.0h0M273.1 46.2h0M258.1 61.7h0M251.3 84.4h0M246.2 115.7h0M251.6 86.8h0M248.4 95.1h0M255.9 71.9h0M277.4 45.9h0M250.7 93.4h0M259.9 56.2h0M250.1 105.5h0M260.5 49.7h0M249.0 119.8h0M248.6 107.1h0M258.7 48.4h0M247.7 126.0h0M246.3 126.3h0M287.6 46.3h0M248.8 111.5h0M250.5 91.6h0M253.8 72.5h0M252.5 81.1h0M255.7 64.7h0M251.6 99.8h0M267.3 45.3h0M257.8 57.8h0M248.7 101.2h0M271.3 46.4h0M265.3 49.1h0M260.6 54.2h0M261.0 54.4h0M247.2 101.5h0M283.4 46.1h0M249.0 124.1h0M262.9 52.2h0M246.3 126.5h0M272.1 46.2h0M258.9 54.2h0M250.4 111.3h0M253.0 78.0h0M279.1 48.2h0M258.8 63.7h0M253.9 61.7h0M266.0 45.6h0M246.3 105.3h0M284.7 46.0h0M249.5 112.7h0M253.0 77.6h0M254.6 68.9h0M249.4 111.8h0M256.8 67.0h0M249.6 108.4h0M253.4 61.3h0M254.0 61.3h0M285.2 46.4h0M254.9 71.4h0M249.0 115.9h0M262.9 55.3h0M243.6 125.8h0M249.8 96.0h0M253.1 84.2h0M248.8 110.2h0M251.9 76.6h0M261.6 51.2h0M248.8 88.4h0M258.8 61.1h0M249.8 102.8h0M253.0 70.2h0M248.2 128.7h0M249.1 103.6h0M268.9 46.9h0M246.6 119.5h0M246.4 96.4h0M252.2 94.0h0M252.0 83.8h0M261.1 49.8h0M247.6 110.8h0M295.8 45.5h0M301.5 46.0h0M303.8 45.6h0M305.0 47.0h0M308.4 45.6h0M315.3 45.6h0M319.9 46.2h0M324.4 45.6h0M342.8 45.3h0M342.8 47.5h0M342.8 49.8h0M352.0 45.3h0M352.0 47.0h0M352.0 48.5h0M362.3 45.8h0M388.7 45.8h0M407.0 47.0h0" stroke="#FF7F00" stroke-width="2.3" stroke-linecap="round" fill="none"/>
<rect x="418" y="18.8" width="180.6" height="19" fill="#D9D9D9"/>
<text x="508.3" y="35" font-size="18" text-anchor="middle" fill="#1A1A1A">Self GSEA-FDR</text>
<rect x="418" y="37.8" width="180.6" height="164.5" fill="#EBEBEB"/>
<path d="M418 176.13H598.6M418 138.74H598.6M418 101.36H598.6M418 63.97H598.6M452.52 37.8V202.3M505.14 37.8V202.3M557.77 37.8V202.3" stroke="#fff" stroke-opacity="0.75" stroke-width="0.9" fill="none"/>
<path d="M418 194.82H598.6M418 157.44H598.6M418 120.05H598.6M418 82.66H598.6M418 45.28H598.6M426.21 37.8V202.3M478.83 37.8V202.3M531.45 37.8V202.3M584.08 37.8V202.3" stroke="#fff" stroke-opacity="0.8" stroke-width="1.1" fill="none"/>
<path d="M426.21 202.3V204.1M478.83 202.3V204.1M531.45 202.3V204.1M584.08 202.3V204.1" stroke="#888" stroke-width="0.8" fill="none"/>
<text x="437.91" y="210.5" font-size="17.5" text-anchor="end" fill="#4D4D4D" transform="rotate(-60 437.91 210.5)">0.00</text>
<text x="490.53" y="210.5" font-size="17.5" text-anchor="end" fill="#4D4D4D" transform="rotate(-60 490.53 210.5)">0.04</text>
<text x="543.15" y="210.5" font-size="17.5" text-anchor="end" fill="#4D4D4D" transform="rotate(-60 543.15 210.5)">0.08</text>
<text x="595.78" y="210.5" font-size="17.5" text-anchor="end" fill="#4D4D4D" transform="rotate(-60 595.78 210.5)">0.12</text>
<path d="M436.1 191.2h0M457.0 195.0h0M445.4 189.3h0M430.6 192.1h0M448.0 189.6h0M462.4 190.4h0M452.1 195.0h0M507.9 191.5h0" stroke="#E41A1C" stroke-width="2.3" stroke-linecap="round" fill="none"/>
<path d="M430.2 191.7h0M443.2 190.8h0M426.2 180.6h0M469.7 190.4h0M468.7 189.1h0M438.5 188.1h0M448.7 186.7h0M461.2 188.3h0M442.2 184.9h0M436.6 192.6h0M453.7 170.7h0M476.8 188.0h0M507.9 184.6h0M571.8 190.3h0M590.2 187.1h0" stroke="#377EB8" stroke-width="2.3" stroke-linecap="round" fill="none"/>
<path d="M455.5 190.1h0M438.3 178.8h0M456.2 195.0h0M461.8 191.2h0M440.2 195.0h0M445.3 181.2h0M431.4 194.3h0M427.0 184.8h0M441.0 190.2h0M453.5 183.1h0M453.1 187.1h0M453.0 117.2h0M454.9 142.4h0M470.6 142.4h0M464.8 150.0h0M571.8 163.4h0M476.8 181.1h0M483.0 177.9h0M535.6 181.1h0" stroke="#4DAF4A" stroke-width="2.3" stroke-linecap="round" fill="none"/>
<path d="M431.3 195.0h0M447.6 195.0h0M450.7 183.4h0M430.2 184.9h0M448.9 181.3h0M457.6 186.1h0M449.0 185.6h0M442.2 182.3h0M444.1 178.7h0M446.1 183.8h0M442.9 190.6h0M427.4 179.9h0M454.9 121.4h0M448.0 156.0h0M590.2 148.1h0M483.0 167.5h0M488.3 184.6h0M495.2 188.0h0M498.7 176.5h0M443.8 170.7h0M431.8 181.1h0M459.5 186.9h0" stroke="#984EA3" stroke-width="2.3" stroke-linecap="round" fill="none"/>
<path d="M452.5 191.6h0M449.4 190.9h0M447.8 191.3h0M439.9 192.9h0M450.9 190.3h0M461.6 195.0h0M442.8 195.0h0M458.9 191.1h0M449.8 190.4h0M436.7 195.0h0M460.5 195.0h0M463.7 192.9h0M447.1 194.0h0M458.9 190.6h0M433.6 195.0h0M436.8 194.7h0M457.7 191.5h0M434.6 191.3h0M439.6 191.2h0M439.3 194.6h0M446.0 190.7h0M461.0 193.1h0M440.4 193.7h0M434.4 192.9h0M462.3 191.0h0M429.9 192.7h0M434.5 195.0h0M433.0 193.7h0M445.2 195.0h0M426.7 195.0h0M455.3 193.7h0M455.8 191.9h0M428.6 194.1h0M452.4 190.7h0M447.0 194.7h0M435.5 190.0h0M453.6 190.3h0M434.6 189.0h0M438.6 190.3h0M464.0 191.2h0M457.7 193.1h0M460.0 192.7h0M459.0 190.0h0M463.3 189.1h0M449.9 194.1h0M458.1 193.1h0M451.1 194.2h0M441.1 193.3h0M441.9 190.4h0M446.0 191.9h0M442.6 191.3h0M462.9 192.1h0M450.7 195.0h0M459.3 191.1h0M441.9 189.4h0M430.9 193.1h0M434.5 190.0h0M429.5 191.1h0M435.7 191.4h0M454.3 190.2h0M452.5 193.8h0M445.0 191.0h0M429.3 195.0h0M460.0 191.7h0M435.9 195.0h0M464.0 194.2h0M456.9 193.6h0M429.1 195.0h0M437.2 185.5h0M434.7 187.9h0M428.8 187.6h0M460.1 191.6h0M450.4 195.0h0M467.0 189.1h0M469.5 194.6h0M465.6 191.3h0M453.3 189.3h0M446.0 194.8h0M445.2 61.2h0M470.6 80.8h0M454.9 126.2h0M491.8 172.3h0M476.8 192.6h0M513.7 189.2h0M527.5 184.6h0M527.5 193.8h0M535.6 184.6h0M571.8 181.1h0M438.8 171.9h0M445.7 162.7h0M426.1 195.0h0" stroke="#FF7F00" stroke-width="2.3" stroke-linecap="round" fill="none"/>
<path d="M455.8 188.8h0M466.7 188.1h0M435.0 188.7h0M456.2 189.8h0M429.2 192.4h0M468.1 194.6h0M447.4 189.2h0M428.1 193.8h0M462.1 188.9h0M452.3 193.9h0M441.7 193.6h0M476.8 190.3h0M483.0 195.0h0M488.3 192.6h0M491.8 193.8h0M527.5 188.0h0M571.8 188.0h0M477.9 195.0h0M484.9 195.0h0" stroke="#E41A1C" stroke-width="2.3" stroke-linecap="round" fill="none"/>
<path d="M442.6 191.5h0M438.5 195.0h0M458.3 181.8h0M466.9 192.6h0M447.8 185.4h0M452.5 183.5h0M455.9 182.9h0M439.1 186.4h0M459.0 183.3h0M457.2 166.1h0M483.0 186.9h0M488.3 189.2h0M513.7 192.6h0M535.6 190.3h0M448.0 180.0h0M444.5 178.8h0M471.0 184.6h0M507.9 195.0h0" stroke="#377EB8" stroke-width="2.3" stroke-linecap="round" fill="none"/>
<path d="M442.3 178.2h0M441.2 179.7h0M448.0 184.5h0M458.1 194.2h0M464.2 193.7h0M445.8 185.4h0M434.3 180.6h0M452.8 182.4h0M443.1 177.9h0M442.8 191.7h0M454.2 181.1h0M452.4 188.3h0M440.1 185.3h0M442.4 194.3h0M445.2 136.6h0M449.8 156.0h0M546.0 151.1h0M495.2 181.1h0M503.3 181.1h0M507.9 176.5h0M513.7 179.5h0M527.5 177.7h0M546.0 175.3h0M435.3 163.4h0" stroke="#4DAF4A" stroke-width="2.3" stroke-linecap="round" fill="none"/>
<path d="M437.0 187.5h0M438.2 191.5h0M461.0 192.8h0M437.8 191.0h0M442.7 184.3h0M442.8 193.2h0M453.7 187.0h0M438.8 177.1h0M431.2 189.0h0M441.3 184.0h0M436.5 191.7h0M453.0 49.7h0M445.2 57.3h0M445.2 75.0h0M464.8 102.0h0M470.6 100.2h0M457.2 114.0h0M448.0 133.4h0M513.7 162.0h0M546.0 163.4h0M527.5 169.3h0M483.0 184.6h0M491.8 186.9h0M527.5 190.3h0M535.6 177.7h0M535.6 188.0h0M557.5 178.1h0M571.8 174.2h0M433.0 167.3h0" stroke="#984EA3" stroke-width="2.3" stroke-linecap="round" fill="none"/>
<path d="M444.0 191.1h0M450.6 190.5h0M445.5 192.0h0M451.9 193.5h0M442.9 195.0h0M447.6 194.8h0M453.8 191.6h0M458.2 190.9h0M426.7 195.0h0M427.1 192.2h0M456.3 191.8h0M461.3 195.0h0M453.9 191.3h0M429.6 195.0h0M452.5 192.6h0M462.4 192.4h0M445.5 193.3h0M427.1 194.8h0M454.4 195.0h0M451.1 192.6h0M433.6 194.6h0M429.7 191.7h0M435.7 195.0h0M447.1 193.9h0M442.7 194.3h0M440.8 190.7h0M446.5 192.9h0M433.7 189.5h0M446.5 191.3h0M453.7 191.3h0M447.9 194.2h0M440.2 193.1h0M429.9 195.0h0M459.2 189.6h0M440.2 195.0h0M452.6 194.9h0M441.7 195.0h0M441.0 192.0h0M428.8 195.0h0M445.6 192.9h0M442.7 194.9h0M432.8 192.6h0M433.9 194.1h0M438.4 193.9h0M438.9 190.5h0M451.6 191.8h0M446.8 195.0h0M428.7 195.0h0M427.0 194.6h0M462.9 192.5h0M445.8 192.8h0M461.8 195.0h0M435.1 193.6h0M437.6 193.8h0M458.0 189.6h0M462.0 192.7h0M448.8 195.0h0M453.5 191.7h0M442.7 191.8h0M448.4 191.9h0M436.5 194.1h0M444.9 191.3h0M440.3 192.7h0M463.7 195.0h0M449.4 191.1h0M428.9 186.8h0M427.9 185.4h0M442.7 186.4h0M456.4 190.3h0M453.6 190.3h0M465.9 194.6h0M467.1 193.0h0M460.1 188.8h0M454.2 187.8h0M449.6 193.5h0M454.0 194.7h0M456.7 190.4h0M464.8 91.4h0M449.8 133.4h0M449.8 145.4h0M443.8 150.0h0M513.7 153.0h0M503.3 169.3h0M495.2 184.6h0M498.7 191.5h0M503.3 175.3h0M507.9 181.1h0M557.5 186.9h0M433.0 163.4h0M435.3 171.9h0M443.8 163.4h0M453.7 173.0h0" stroke="#FF7F00" stroke-width="2.3" stroke-linecap="round" fill="none"/>
<path d="M441.1 190.2h0M444.1 193.6h0M470.6 195.0h0M456.2 192.0h0M447.8 189.1h0M456.9 193.7h0M440.5 188.5h0M495.2 191.5h0M498.7 184.6h0M535.6 193.8h0M546.0 193.8h0M590.2 195.0h0M487.2 195.0h0" stroke="#E41A1C" stroke-width="2.3" stroke-linecap="round" fill="none"/>
<path d="M445.8 180.0h0M464.9 190.2h0M433.1 194.0h0M442.0 194.1h0M470.9 185.1h0M465.0 189.5h0M434.9 188.3h0M442.9 188.2h0M450.0 184.4h0M460.7 191.3h0M437.3 194.9h0M449.0 186.0h0M457.9 193.2h0M447.8 191.8h0M435.6 187.3h0M442.2 192.1h0M453.0 140.8h0M498.7 188.0h0M503.3 186.9h0M503.3 195.0h0M475.6 195.0h0" stroke="#377EB8" stroke-width="2.3" stroke-linecap="round" fill="none"/>
<path d="M454.6 190.4h0M469.3 187.3h0M462.2 181.9h0M438.2 186.6h0M438.7 194.7h0M464.4 183.8h0M464.4 194.1h0M460.8 184.6h0M445.8 185.0h0M427.0 190.1h0M435.1 193.4h0M467.0 182.0h0M440.5 178.3h0M440.7 189.5h0M431.6 181.6h0M453.0 64.7h0M445.2 144.0h0M457.2 150.0h0M590.2 169.1h0M557.5 169.1h0M498.7 169.3h0M527.5 166.8h0M488.3 175.3h0M491.8 184.6h0M571.8 176.5h0M453.7 162.7h0M464.8 167.3h0M466.4 177.7h0M459.5 182.3h0" stroke="#4DAF4A" stroke-width="2.3" stroke-linecap="round" fill="none"/>
<path d="M436.9 193.1h0M443.0 176.1h0M461.9 192.2h0M428.5 183.2h0M436.3 188.3h0M462.0 177.5h0M445.9 195.0h0M435.6 175.4h0M430.3 177.2h0M470.2 178.9h0M435.5 193.6h0M469.0 183.0h0M450.0 182.1h0M440.8 192.9h0M469.1 182.8h0M455.9 189.1h0M446.6 192.6h0M449.8 150.0h0M535.6 162.0h0M488.3 169.3h0M476.8 177.9h0M503.3 177.7h0M507.9 174.2h0M527.5 181.1h0M546.0 181.1h0M464.8 168.9h0M438.8 177.7h0" stroke="#984EA3" stroke-width="2.3" stroke-linecap="round" fill="none"/>
<path d="M462.6 194.4h0M451.8 193.2h0M432.7 194.1h0M447.0 190.5h0M444.5 194.0h0M431.2 192.0h0M449.5 194.9h0M463.0 195.0h0M449.3 189.4h0M457.6 193.4h0M452.3 193.5h0M460.3 192.2h0M428.6 189.9h0M432.1 191.8h0M452.7 193.0h0M456.0 193.0h0M445.4 195.0h0M439.5 195.0h0M450.3 193.1h0M426.1 195.0h0M449.9 190.4h0M455.6 191.8h0M458.9 195.0h0M451.9 195.0h0M445.5 190.7h0M433.3 193.1h0M435.7 190.0h0M444.7 191.5h0M437.5 193.0h0M427.5 194.8h0M451.2 193.6h0M443.6 193.7h0M435.4 193.6h0M440.1 195.0h0M431.1 191.9h0M453.2 194.6h0M426.9 192.9h0M456.2 191.9h0M430.5 194.6h0M440.1 190.9h0M441.0 194.8h0M436.7 190.3h0M427.7 192.9h0M442.8 194.8h0M436.6 190.7h0M443.0 195.0h0M453.1 189.8h0M461.2 190.3h0M437.5 194.6h0M426.8 192.4h0M426.7 190.7h0M445.8 190.6h0M457.3 192.7h0M429.9 189.8h0M430.4 193.3h0M445.2 194.6h0M463.4 195.0h0M430.1 185.8h0M437.7 187.7h0M463.3 193.7h0M462.2 190.6h0M470.1 194.0h0M470.8 191.2h0M464.5 193.5h0M468.0 189.3h0M450.0 188.3h0M451.3 194.7h0M455.7 187.0h0M453.0 45.1h0M453.0 50.8h0M445.2 64.7h0M457.2 121.4h0M448.0 147.2h0M590.2 151.4h0M527.5 158.7h0M488.3 160.4h0M476.8 184.6h0M483.0 189.2h0M488.3 186.9h0M491.8 189.2h0M498.7 180.0h0M503.3 190.3h0M507.9 188.0h0M527.5 175.3h0M535.6 174.2h0M546.0 178.1h0M571.8 178.1h0M433.0 170.7h0M446.8 166.1h0M464.8 173.0h0M427.2 195.0h0" stroke="#FF7F00" stroke-width="2.3" stroke-linecap="round" fill="none"/>
<rect x="601" y="18.8" width="180.6" height="19" fill="#D9D9D9"/>
<text x="691.3" y="35" font-size="18" text-anchor="middle" fill="#1A1A1A">sigPathway</text>
<rect x="601" y="37.8" width="180.6" height="164.5" fill="#EBEBEB"/>
<path d="M601 176.13H781.6M601 138.74H781.6M601 101.36H781.6M601 63.97H781.6M635.52 37.8V202.3M688.14 37.8V202.3M740.77 37.8V202.3" stroke="#fff" stroke-opacity="0.75" stroke-width="0.9" fill="none"/>
<path d="M601 194.82H781.6M601 157.44H781.6M601 120.05H781.6M601 82.66H781.6M601 45.28H781.6M609.21 37.8V202.3M661.83 37.8V202.3M714.45 37.8V202.3M767.08 37.8V202.3" stroke="#fff" stroke-opacity="0.8" stroke-width="1.1" fill="none"/>
<path d="M609.21 202.3V204.1M661.83 202.3V204.1M714.45 202.3V204.1M767.08 202.3V204.1" stroke="#888" stroke-width="0.8" fill="none"/>
<text x="620.91" y="210.5" font-size="17.5" text-anchor="end" fill="#4D4D4D" transform="rotate(-60 620.91 210.5)">0.00</text>
<text x="673.53" y="210.5" font-size="17.5" text-anchor="end" fill="#4D4D4D" transform="rotate(-60 673.53 210.5)">0.04</text>
<text x="726.15" y="210.5" font-size="17.5" text-anchor="end" fill="#4D4D4D" transform="rotate(-60 726.15 210.5)">0.08</text>
<text x="778.78" y="210.5" font-size="17.5" text-anchor="end" fill="#4D4D4D" transform="rotate(-60 778.78 210.5)">0.12</text>
<path d="M636.1 195.0h0M755.5 186.2h0M718.6 184.6h0M674.8 195.0h0M669.0 195.0h0M666.0 193.8h0M659.8 195.0h0M662.1 195.0h0M650.6 195.0h0" stroke="#E41A1C" stroke-width="2.3" stroke-linecap="round" fill="none"/>
<path d="M729.0 139.6h0M718.6 145.4h0M710.5 141.9h0M678.2 183.4h0M628.7 173.0h0M626.8 175.3h0M629.8 176.5h0M643.7 195.0h0M621.2 180.5h0M620.7 154.9h0M621.0 156.9h0M614.1 175.9h0M634.9 183.8h0M621.5 179.3h0M616.0 179.9h0" stroke="#377EB8" stroke-width="2.3" stroke-linecap="round" fill="none"/>
<path d="M636.7 49.7h0M629.8 101.6h0M631.0 113.8h0M633.3 135.0h0M616.0 148.1h0M755.5 143.8h0M666.0 151.6h0M690.9 185.7h0M647.8 163.4h0M643.7 170.7h0M616.9 178.8h0M621.5 189.6h0M620.0 167.5h0M619.6 185.6h0M617.9 166.4h0M620.0 169.9h0M619.4 187.3h0M616.9 178.0h0M623.1 180.6h0M639.3 176.5h0" stroke="#4DAF4A" stroke-width="2.3" stroke-linecap="round" fill="none"/>
<path d="M647.8 79.4h0M631.0 97.4h0M616.0 107.8h0M618.3 107.8h0M616.0 119.5h0M629.8 119.5h0M622.9 129.9h0M621.8 131.5h0M682.2 113.8h0M729.0 135.0h0M755.5 147.2h0M773.2 153.0h0M718.6 165.0h0M678.2 156.9h0M678.2 165.0h0M671.3 166.1h0M659.8 165.0h0M669.0 186.9h0M642.5 169.6h0M621.1 178.0h0M619.6 172.6h0M617.0 159.7h0M616.6 172.2h0M622.7 177.5h0M616.8 183.2h0M616.5 173.1h0M634.4 184.3h0M629.7 183.2h0" stroke="#984EA3" stroke-width="2.3" stroke-linecap="round" fill="none"/>
<path d="M628.7 49.7h0M647.8 67.7h0M629.8 97.4h0M622.9 124.6h0M622.9 136.6h0M621.8 147.0h0M718.6 133.8h0M755.5 156.2h0M710.5 163.4h0M682.2 156.2h0M666.0 170.7h0M671.3 170.7h0M666.0 182.7h0M710.5 182.7h0M643.7 163.4h0M618.1 170.1h0M623.8 161.2h0M621.2 174.3h0M617.8 183.5h0M638.8 179.7h0M618.2 188.7h0M639.4 182.6h0M629.7 191.5h0M614.9 194.6h0M623.3 193.8h0M627.7 193.3h0M621.4 192.6h0M623.0 195.0h0M631.1 190.4h0M634.5 195.0h0M621.3 194.2h0M633.5 192.5h0M616.0 191.8h0M629.0 191.6h0M615.7 192.3h0M627.8 193.9h0M620.1 193.9h0M636.6 195.0h0M618.1 194.1h0M615.4 191.5h0M617.7 189.7h0M612.9 191.0h0M625.6 194.3h0M631.7 190.8h0M626.7 191.9h0M629.9 189.6h0M628.7 191.5h0M613.9 192.3h0M612.3 193.1h0M616.0 194.2h0M619.7 191.2h0M632.5 192.9h0M638.1 191.1h0M622.4 195.0h0M622.9 192.8h0M634.5 190.2h0M617.7 188.4h0M613.5 195.0h0M613.4 191.4h0M613.4 195.0h0M616.7 191.7h0M613.1 191.4h0M610.4 195.0h0M632.7 190.5h0M626.4 192.8h0M619.9 194.7h0M633.4 192.2h0M626.7 195.0h0M632.7 192.6h0M613.3 191.5h0M621.4 191.5h0M631.6 191.2h0M623.7 190.6h0M638.1 193.0h0M619.3 191.6h0M619.4 192.9h0M628.6 193.2h0M617.4 191.6h0M615.2 189.1h0M621.5 194.3h0M636.7 190.9h0M630.9 191.7h0M625.6 189.7h0M614.8 190.7h0M630.4 192.4h0M619.4 190.0h0M620.0 194.4h0M633.7 193.7h0M627.4 191.5h0M617.2 194.9h0M618.5 188.8h0M639.5 193.2h0M630.4 190.3h0M612.7 189.4h0M631.8 195.0h0M619.1 189.2h0M635.6 193.6h0M612.7 193.6h0M619.2 189.1h0M614.4 191.3h0M612.0 190.7h0M637.8 194.2h0M617.2 188.8h0M630.7 191.0h0" stroke="#FF7F00" stroke-width="2.3" stroke-linecap="round" fill="none"/>
<path d="M637.5 194.3h0M740.5 170.7h0M755.5 167.7h0M773.2 188.7h0M729.0 178.1h0M678.2 195.0h0M718.6 195.0h0M652.9 195.0h0M655.2 195.0h0" stroke="#E41A1C" stroke-width="2.3" stroke-linecap="round" fill="none"/>
<path d="M637.2 147.2h0M718.6 111.9h0M718.6 173.0h0M659.8 168.4h0M674.8 184.6h0M666.0 184.6h0M637.2 161.5h0M631.0 179.5h0M653.6 167.3h0M649.4 173.0h0M624.0 189.3h0M616.2 182.4h0M616.8 167.5h0M621.1 161.2h0M639.3 173.4h0M619.0 175.1h0M617.0 187.1h0" stroke="#377EB8" stroke-width="2.3" stroke-linecap="round" fill="none"/>
<path d="M628.7 64.7h0M653.6 79.4h0M626.8 137.8h0M621.8 140.8h0M718.6 141.2h0M710.5 143.1h0M773.2 158.7h0M718.6 170.3h0M671.3 163.4h0M690.9 181.1h0M686.3 181.8h0M690.9 191.0h0M678.2 191.5h0M617.5 182.3h0M618.7 154.8h0M618.9 187.9h0M617.3 178.5h0" stroke="#4DAF4A" stroke-width="2.3" stroke-linecap="round" fill="none"/>
<path d="M633.3 102.0h0M626.8 106.6h0M631.0 107.8h0M633.3 117.2h0M626.8 125.8h0M740.5 126.2h0M755.5 133.8h0M678.2 155.1h0M690.9 156.2h0M686.3 185.7h0M690.9 186.9h0M686.3 190.3h0M671.3 185.7h0M662.1 184.6h0M659.8 181.1h0M659.8 185.7h0M710.5 195.0h0M650.6 167.3h0M617.2 175.6h0M623.4 186.4h0M623.5 169.0h0M622.1 166.9h0M618.6 178.3h0M616.7 156.5h0M620.0 170.3h0M622.4 177.9h0M622.1 156.2h0M626.8 192.7h0M631.1 187.6h0M624.1 190.3h0M614.3 174.6h0M637.3 181.7h0M621.3 192.6h0M622.4 194.1h0" stroke="#984EA3" stroke-width="2.3" stroke-linecap="round" fill="none"/>
<path d="M636.0 45.1h0M653.6 63.1h0M640.2 84.3h0M626.8 97.4h0M633.3 98.8h0M616.0 115.4h0M618.3 123.0h0M626.8 124.6h0M621.8 128.5h0M621.8 135.0h0M637.2 152.7h0M718.6 136.1h0M729.0 169.3h0M710.5 156.2h0M718.6 169.1h0M690.9 158.1h0M690.9 170.7h0M690.9 174.2h0M662.1 186.9h0M642.5 163.4h0M622.5 181.8h0M622.3 177.5h0M620.4 169.2h0M619.7 190.7h0M634.2 189.3h0M634.5 188.2h0M619.0 184.0h0M618.4 182.5h0M638.3 192.7h0M635.5 181.0h0M620.0 194.5h0M630.1 192.3h0M619.6 189.9h0M633.5 193.8h0M621.0 195.0h0M610.2 192.4h0M632.6 192.0h0M610.4 194.2h0M619.9 188.8h0M627.1 189.4h0M612.3 190.1h0M630.8 192.6h0M617.2 195.0h0M619.5 190.6h0M635.1 190.5h0M609.7 195.0h0M637.7 194.4h0M620.1 192.0h0M623.8 195.0h0M615.5 192.4h0M635.5 194.3h0M612.5 194.3h0M635.8 193.5h0M638.6 195.0h0M611.8 193.7h0M632.2 189.7h0M613.8 195.0h0M625.1 194.5h0M622.3 190.2h0M629.3 192.6h0M636.8 192.2h0M630.9 193.9h0M631.8 189.7h0M634.2 195.0h0M629.3 193.3h0M627.5 192.0h0M622.3 191.5h0M620.6 190.0h0M609.8 195.0h0M638.3 190.3h0M621.3 189.9h0M634.0 195.0h0M627.6 195.0h0M634.3 193.4h0M623.9 195.0h0M622.3 190.0h0M638.0 193.9h0M613.1 189.9h0M631.6 190.7h0M612.7 191.3h0M628.4 195.0h0M625.2 190.1h0M637.2 191.5h0M639.5 192.3h0M617.7 189.1h0M617.3 189.7h0M618.3 190.3h0M636.6 193.3h0M625.6 194.7h0M615.4 194.5h0M617.7 188.7h0M628.2 190.8h0M615.1 191.5h0M629.6 192.1h0M614.9 195.0h0M616.8 192.2h0M627.9 194.3h0M613.3 190.4h0M633.8 191.3h0M613.2 191.1h0M626.3 192.5h0M621.8 194.5h0M625.9 194.4h0M636.3 190.6h0" stroke="#FF7F00" stroke-width="2.3" stroke-linecap="round" fill="none"/>
<path d="M640.5 194.7h0M636.9 194.3h0M638.5 195.0h0M636.8 194.8h0M729.0 184.6h0M718.6 182.3h0M682.2 172.3h0M686.3 195.0h0M690.9 195.0h0M671.3 195.0h0M666.0 195.0h0M710.5 185.7h0" stroke="#E41A1C" stroke-width="2.3" stroke-linecap="round" fill="none"/>
<path d="M682.2 115.4h0M755.5 130.4h0M666.0 156.9h0M678.2 153.4h0M674.8 175.3h0M631.0 170.7h0M650.6 171.9h0M647.1 195.0h0M617.0 187.8h0M620.6 167.2h0M622.5 164.1h0M616.1 173.3h0M637.1 190.6h0M612.2 189.3h0M626.6 175.9h0M631.6 175.7h0M623.0 194.1h0M624.6 181.2h0" stroke="#377EB8" stroke-width="2.3" stroke-linecap="round" fill="none"/>
<path d="M647.8 80.8h0M637.9 86.8h0M628.7 84.3h0M633.3 106.6h0M618.3 109.2h0M626.8 113.8h0M629.8 126.9h0M621.8 143.1h0M682.2 117.0h0M718.6 113.8h0M740.5 117.7h0M678.2 168.4h0M696.7 193.8h0M620.6 185.1h0M619.3 187.9h0M619.1 164.7h0M634.0 186.5h0M612.4 183.7h0M638.9 187.0h0M624.5 193.5h0M613.6 192.6h0" stroke="#4DAF4A" stroke-width="2.3" stroke-linecap="round" fill="none"/>
<path d="M636.7 46.7h0M653.6 73.4h0M637.9 85.4h0M637.2 149.1h0M718.6 119.5h0M710.5 135.0h0M729.0 137.3h0M710.5 147.7h0M666.0 153.4h0M686.3 177.7h0M690.9 178.1h0M696.7 195.0h0M674.8 178.1h0M671.3 181.1h0M678.2 186.9h0M710.5 189.2h0M710.5 191.9h0M647.8 166.1h0M620.4 186.4h0M621.7 191.1h0M623.6 193.7h0M621.6 192.5h0M636.2 181.5h0M635.6 177.6h0M639.4 190.2h0M635.9 193.9h0M636.5 185.1h0M618.0 178.4h0M636.8 191.9h0M616.9 187.8h0M630.8 175.6h0M618.2 189.4h0M614.2 175.3h0M633.4 175.0h0M630.6 174.8h0M618.2 191.4h0M633.9 176.4h0M636.2 192.0h0M629.6 188.7h0M624.2 192.4h0" stroke="#984EA3" stroke-width="2.3" stroke-linecap="round" fill="none"/>
<path d="M628.7 54.3h0M637.9 76.7h0M633.3 85.7h0M629.8 105.0h0M616.0 102.0h0M729.0 124.6h0M690.9 147.2h0M755.5 136.8h0M773.2 140.8h0M740.5 158.7h0M718.6 156.2h0M710.5 170.7h0M686.3 163.4h0M674.8 170.7h0M678.2 170.7h0M686.3 174.2h0M696.7 182.7h0M674.8 181.1h0M674.8 188.0h0M671.3 182.7h0M659.8 178.1h0M647.8 176.5h0M642.5 174.2h0M653.6 173.0h0M609.1 195.0h0M623.8 169.0h0M623.6 185.0h0M619.3 192.0h0M624.0 162.3h0M623.0 193.3h0M611.1 180.0h0M627.8 175.6h0M613.7 190.4h0M620.3 191.7h0M623.6 173.7h0M620.1 178.2h0M627.4 191.3h0M621.2 175.7h0M609.9 191.0h0M615.2 195.0h0M618.6 189.9h0M631.6 190.9h0M632.8 192.7h0M609.6 195.0h0M619.0 189.7h0M629.9 194.2h0M631.9 193.4h0M615.4 190.5h0M625.2 190.2h0M613.0 189.5h0M617.0 192.7h0M623.1 190.5h0M619.5 189.1h0M636.7 192.9h0M612.3 195.0h0M630.9 189.9h0M625.8 194.8h0M617.8 189.0h0M614.7 194.4h0M639.2 195.0h0M612.4 195.0h0M631.6 190.6h0M630.5 191.3h0M634.1 191.8h0M634.4 190.5h0M631.8 192.9h0M609.8 195.0h0M610.2 195.0h0M629.8 192.7h0M638.8 194.8h0M630.8 192.0h0M624.5 189.2h0M625.1 195.0h0M615.9 188.2h0M619.5 190.6h0M624.3 195.0h0M613.0 189.7h0M612.6 193.9h0M632.3 193.3h0M626.6 190.9h0M620.8 195.0h0M623.2 192.8h0M611.1 195.0h0M635.1 190.0h0M617.2 193.7h0M633.9 191.8h0M631.4 191.7h0M612.4 192.8h0M619.9 192.6h0M638.5 195.0h0M613.1 192.5h0M614.6 190.5h0M627.4 190.3h0M615.9 190.7h0M621.5 194.2h0M621.8 191.9h0M630.4 191.1h0M609.4 193.8h0M634.7 192.5h0M614.4 190.1h0M616.8 195.0h0M632.6 190.8h0M610.7 195.0h0M612.9 193.3h0M620.3 195.0h0M614.4 193.1h0M624.0 192.5h0M614.1 193.3h0M638.1 195.0h0M621.9 192.4h0M612.4 193.7h0M633.9 194.5h0M636.5 190.6h0M613.8 194.2h0" stroke="#FF7F00" stroke-width="2.3" stroke-linecap="round" fill="none"/>
<text x="49.2" y="200.92" font-size="16.6" text-anchor="end" fill="#4D4D4D">0.00</text>
<text x="49.2" y="163.54" font-size="16.6" text-anchor="end" fill="#4D4D4D">0.25</text>
<text x="49.2" y="126.15" font-size="16.6" text-anchor="end" fill="#4D4D4D">0.50</text>
<text x="49.2" y="88.76" font-size="16.6" text-anchor="end" fill="#4D4D4D">0.75</text>
<text x="49.2" y="51.38" font-size="16.6" text-anchor="end" fill="#4D4D4D">1.00</text>
<path d="M50.2 194.82H51.8M50.2 157.44H51.8M50.2 120.05H51.8M50.2 82.66H51.8M50.2 45.28H51.8" stroke="#888" stroke-width="0.8" fill="none"/>
<text x="14.3" y="120.05" font-size="17.7" text-anchor="middle" fill="#000" transform="rotate(-90 14.3 120.05)">Power</text>
<text x="416.7" y="256.1" font-size="17.7" text-anchor="middle" fill="#000">Overlap Prop</text>
<text x="416.7" y="278" font-size="19.5" text-anchor="middle" fill="#000"><tspan font-family="Liberation Serif">π</tspan>=1</text>
<rect x="51.8" y="281.2" width="180.6" height="19.6" fill="#D9D9D9"/>
<text x="142.1" y="297.4" font-size="18" text-anchor="middle" fill="#1A1A1A">CAMERA</text>
<rect x="51.8" y="300.8" width="180.6" height="144.2" fill="#EBEBEB"/>
<path d="M51.8 422.06H232.4M51.8 389.29H232.4M51.8 356.51H232.4M51.8 323.74H232.4M79.28 300.8V445M117.82 300.8V445M156.36 300.8V445M194.9 300.8V445" stroke="#fff" stroke-opacity="0.75" stroke-width="0.9" fill="none"/>
<path d="M51.8 438.45H232.4M51.8 405.67H232.4M51.8 372.9H232.4M51.8 340.13H232.4M51.8 307.35H232.4M60.01 300.8V445M98.55 300.8V445M137.09 300.8V445M175.63 300.8V445M214.17 300.8V445" stroke="#fff" stroke-opacity="0.8" stroke-width="1.1" fill="none"/>
<path d="M60.01 445V446.8M98.55 445V446.8M137.09 445V446.8M175.63 445V446.8M214.17 445V446.8" stroke="#888" stroke-width="0.8" fill="none"/>
<text x="71.71" y="453.2" font-size="17.5" text-anchor="end" fill="#4D4D4D" transform="rotate(-60 71.71 453.2)">0.0</text>
<text x="110.25" y="453.2" font-size="17.5" text-anchor="end" fill="#4D4D4D" transform="rotate(-60 110.25 453.2)">0.1</text>
<text x="148.79" y="453.2" font-size="17.5" text-anchor="end" fill="#4D4D4D" transform="rotate(-60 148.79 453.2)">0.2</text>
<text x="187.33" y="453.2" font-size="17.5" text-anchor="end" fill="#4D4D4D" transform="rotate(-60 187.33 453.2)">0.3</text>
<text x="225.87" y="453.2" font-size="17.5" text-anchor="end" fill="#4D4D4D" transform="rotate(-60 225.87 453.2)">0.4</text>
<path d="M114.7 437.4h0M182.7 438.3h0M207.2 438.3h0M224.0 438.3h0" stroke="#E41A1C" stroke-width="2.3" stroke-linecap="round" fill="none"/>
<path d="M182.7 327.9h0M207.2 409.3h0M162.0 438.3h0" stroke="#377EB8" stroke-width="2.3" stroke-linecap="round" fill="none"/>
<path d="M162.0 313.8h0M145.6 438.3h0" stroke="#4DAF4A" stroke-width="2.3" stroke-linecap="round" fill="none"/>
<path d="M123.9 404.0h0" stroke="#984EA3" stroke-width="2.3" stroke-linecap="round" fill="none"/>
<path d="M114.7 307.2h0M123.9 307.2h0M145.6 307.2h0M162.0 307.2h0M182.7 307.2h0M207.2 307.2h0M224.0 307.2h0M129.5 353.0h0M123.9 434.4h0M60.1 438.3h0M60.8 438.3h0M61.6 438.3h0M62.3 438.3h0M63.1 438.3h0M63.9 438.3h0M64.6 438.3h0M65.4 438.3h0M66.1 438.3h0M66.9 438.3h0M67.7 438.3h0M68.4 438.3h0M69.2 438.3h0M69.9 438.3h0M70.7 438.3h0M71.5 438.3h0M72.2 438.3h0M73.0 438.3h0M73.7 438.3h0M74.5 438.3h0M75.3 438.3h0M76.0 438.3h0M76.8 438.3h0M77.5 438.3h0M78.3 438.3h0M79.1 438.3h0M79.8 438.3h0M80.6 438.3h0M81.3 438.3h0M82.1 438.3h0M82.9 438.3h0M83.6 438.3h0M84.4 438.3h0M85.1 438.3h0M85.9 438.3h0M86.7 438.3h0M87.4 438.3h0M88.2 438.3h0M88.9 438.3h0M89.7 438.3h0M90.5 438.3h0M91.2 438.3h0M92.0 438.3h0M92.7 438.3h0M93.5 438.3h0M95.8 438.3h0M98.1 438.3h0M100.4 438.3h0M102.3 438.3h0M103.9 438.3h0M105.7 438.3h0M107.8 438.3h0M110.8 438.3h0M114.7 438.3h0M116.6 438.3h0M118.9 438.3h0M120.7 438.3h0M123.9 438.3h0M129.5 438.3h0M131.8 438.3h0M136.4 438.3h0" stroke="#FF7F00" stroke-width="2.3" stroke-linecap="round" fill="none"/>
<rect x="234.9" y="281.2" width="180.6" height="19.6" fill="#D9D9D9"/>
<text x="325.2" y="297.4" font-size="18" text-anchor="middle" fill="#1A1A1A">Comp GSEA-FDR</text>
<rect x="234.9" y="300.8" width="180.6" height="144.2" fill="#EBEBEB"/>
<path d="M234.9 422.06H415.5M234.9 389.29H415.5M234.9 356.51H415.5M234.9 323.74H415.5M262.38 300.8V445M300.92 300.8V445M339.46 300.8V445M378 300.8V445" stroke="#fff" stroke-opacity="0.75" stroke-width="0.9" fill="none"/>
<path d="M234.9 438.45H415.5M234.9 405.67H415.5M234.9 372.9H415.5M234.9 340.13H415.5M234.9 307.35H415.5M243.11 300.8V445M281.65 300.8V445M320.19 300.8V445M358.73 300.8V445M397.27 300.8V445" stroke="#fff" stroke-opacity="0.8" stroke-width="1.1" fill="none"/>
<path d="M243.11 445V446.8M281.65 445V446.8M320.19 445V446.8M358.73 445V446.8M397.27 445V446.8" stroke="#888" stroke-width="0.8" fill="none"/>
<text x="254.81" y="453.2" font-size="17.5" text-anchor="end" fill="#4D4D4D" transform="rotate(-60 254.81 453.2)">0.0</text>
<text x="293.35" y="453.2" font-size="17.5" text-anchor="end" fill="#4D4D4D" transform="rotate(-60 293.35 453.2)">0.1</text>
<text x="331.89" y="453.2" font-size="17.5" text-anchor="end" fill="#4D4D4D" transform="rotate(-60 331.89 453.2)">0.2</text>
<text x="370.43" y="453.2" font-size="17.5" text-anchor="end" fill="#4D4D4D" transform="rotate(-60 370.43 453.2)">0.3</text>
<text x="408.97" y="453.2" font-size="17.5" text-anchor="end" fill="#4D4D4D" transform="rotate(-60 408.97 453.2)">0.4</text>
<path d="M259.6 414.2h0M271.8 423.0h0M271.3 419.6h0M259.0 424.5h0M269.6 435.1h0M259.8 429.7h0M261.1 434.5h0M270.0 425.7h0M260.1 417.7h0M273.1 432.8h0M255.9 437.5h0M264.2 425.7h0M264.5 421.6h0M264.9 412.4h0M274.0 412.8h0M254.5 429.1h0M267.0 433.0h0M268.3 436.5h0M256.9 432.2h0M270.3 414.3h0M264.2 435.7h0M269.7 421.2h0M263.0 417.8h0M275.0 432.3h0M268.0 418.5h0M269.3 423.8h0M271.0 420.2h0M273.0 429.4h0M262.3 426.0h0M271.1 425.0h0M273.4 430.3h0M263.2 434.2h0M268.8 433.4h0M260.3 438.3h0M267.2 411.1h0M265.2 419.0h0M257.5 422.6h0M253.0 435.9h0M272.0 425.8h0M262.1 418.7h0M266.1 419.8h0M275.4 437.2h0M269.2 433.5h0M259.6 413.4h0M261.6 438.1h0M271.9 437.3h0M258.5 429.1h0M265.0 426.9h0M258.5 430.9h0M268.2 430.3h0M262.8 423.1h0M262.7 427.5h0M255.7 434.5h0M273.0 434.3h0M271.4 423.8h0M269.4 438.1h0M259.8 419.8h0M265.9 413.0h0M272.1 419.5h0M273.7 419.2h0M275.1 426.7h0M271.6 411.6h0M264.6 430.8h0M275.6 436.7h0M274.9 417.1h0M251.6 437.0h0M257.6 425.9h0M260.0 426.4h0M274.3 437.0h0M272.9 417.2h0M261.4 436.9h0M257.4 420.3h0M265.5 416.6h0M268.7 428.5h0M253.4 436.2h0M259.7 413.9h0M252.9 438.4h0M271.0 423.0h0M270.9 437.6h0M274.2 425.1h0M257.9 424.7h0M275.5 430.8h0M267.7 434.0h0M261.2 425.8h0M272.2 415.5h0M264.4 426.3h0M254.7 436.3h0M262.0 415.1h0M261.3 426.8h0M253.3 430.3h0M271.2 434.5h0M273.0 414.8h0M266.0 420.3h0M256.9 426.7h0M262.0 438.1h0M259.1 418.9h0M262.9 414.5h0M261.1 429.9h0M259.1 432.7h0M266.7 422.8h0M274.0 412.8h0M269.7 429.0h0M260.3 413.5h0M266.3 431.6h0M262.8 423.4h0M268.1 427.3h0M261.6 415.1h0M262.6 425.6h0M273.4 438.4h0M264.9 419.2h0M256.6 427.9h0M269.5 416.9h0M268.3 438.5h0M260.8 436.7h0M261.9 428.5h0M272.7 415.6h0M259.6 438.0h0M262.9 431.2h0M266.8 436.5h0M261.8 410.6h0M264.1 428.0h0M256.1 434.4h0M261.3 437.4h0M259.9 427.6h0M264.5 417.3h0M273.1 424.2h0M266.2 433.0h0M253.7 432.2h0M260.8 424.8h0M261.5 422.4h0M275.8 436.2h0M273.9 430.9h0M268.5 413.9h0M267.8 427.9h0M258.8 417.5h0M274.0 425.1h0M259.7 411.7h0M275.5 435.7h0M261.4 413.0h0M269.1 433.0h0M270.7 432.5h0M253.3 434.0h0M271.7 424.6h0M256.9 434.4h0M261.4 431.9h0M271.0 426.5h0M275.7 432.0h0M274.2 437.4h0M253.1 431.3h0M259.5 438.2h0M254.2 438.4h0M263.4 429.9h0M264.0 431.8h0M259.4 421.7h0M269.6 430.0h0M273.2 418.7h0M272.2 431.0h0M265.3 421.5h0M265.2 412.0h0M268.9 430.8h0M266.4 415.7h0M269.1 433.5h0M266.5 416.3h0M265.1 421.1h0M272.6 427.9h0M274.3 414.7h0M257.6 424.4h0M264.5 423.6h0M273.7 426.4h0M266.9 426.6h0M270.6 420.3h0M270.8 413.4h0M267.5 413.6h0M260.6 415.7h0M261.4 420.1h0M271.9 431.0h0M256.8 435.6h0M262.4 415.7h0M271.5 435.4h0M265.0 413.2h0M259.0 427.5h0M267.8 427.8h0M266.5 420.6h0M271.9 434.6h0M273.6 412.0h0M270.2 414.7h0M259.7 415.5h0M272.5 433.3h0M271.8 420.7h0M274.4 417.3h0M265.4 429.1h0M256.8 420.8h0M253.5 432.7h0M257.9 428.2h0M266.9 424.9h0M272.3 431.4h0M256.2 425.1h0M259.8 435.2h0M267.4 412.3h0M256.5 426.8h0M264.2 410.6h0M266.0 412.1h0M270.3 416.7h0M265.7 425.0h0M259.5 437.0h0M260.9 421.9h0M264.5 433.9h0M275.7 431.9h0M264.5 430.4h0M267.0 437.3h0M275.3 431.6h0M256.4 426.1h0M262.0 416.4h0M270.5 416.1h0M268.7 423.8h0M261.7 430.1h0M269.1 438.2h0M257.6 429.0h0M263.4 436.8h0M262.2 420.1h0M264.3 418.6h0M262.1 419.8h0M263.5 425.0h0M260.7 413.6h0M275.3 417.9h0M259.8 419.0h0M269.6 424.0h0M260.2 421.3h0M260.6 437.5h0M262.0 426.3h0M275.1 428.2h0M265.9 433.6h0M274.9 425.1h0M265.6 411.7h0M269.6 420.5h0M267.1 417.9h0M274.0 420.4h0M257.9 435.5h0M263.2 438.0h0M270.9 412.0h0M261.4 432.3h0M268.8 432.6h0M253.9 435.3h0M259.9 433.2h0M262.8 435.4h0M262.9 417.2h0M272.9 426.3h0M272.6 414.1h0M263.0 423.2h0M274.0 430.6h0M263.7 427.3h0M272.5 437.2h0M265.9 411.2h0M272.8 414.5h0M263.8 426.5h0M262.5 423.3h0M254.5 430.4h0M264.4 418.7h0M271.8 436.7h0M274.1 438.1h0M262.2 417.2h0M269.6 435.8h0M275.2 435.3h0M262.3 412.8h0M262.4 424.7h0M270.6 415.1h0M258.0 438.1h0M253.4 431.3h0M261.6 436.4h0M256.6 435.0h0M260.7 437.7h0M259.9 430.4h0M264.5 412.6h0M265.5 422.6h0M259.2 433.6h0M268.3 413.3h0M257.6 428.1h0M275.2 437.6h0M272.6 413.4h0M270.8 431.7h0M262.8 438.4h0M266.0 413.2h0M266.3 427.7h0M251.2 437.7h0M272.7 413.0h0M270.8 435.5h0M265.1 427.3h0M266.3 431.9h0M263.9 413.1h0M256.6 428.5h0M257.3 432.7h0M264.7 420.0h0M275.1 426.5h0M257.0 426.0h0M272.4 420.4h0M261.9 426.4h0M255.5 426.5h0M259.0 423.4h0M263.7 418.8h0M266.0 433.4h0M262.7 427.9h0M258.2 417.1h0M263.8 425.1h0M256.6 431.8h0M263.5 420.0h0M257.3 433.8h0M273.6 436.7h0M266.8 410.5h0M272.4 429.3h0M259.4 422.5h0M268.1 414.4h0M260.1 432.4h0M268.0 426.6h0M267.0 426.2h0M274.1 425.7h0M274.0 423.3h0M263.9 417.9h0M262.6 436.7h0M259.8 415.5h0M266.6 424.4h0M262.9 436.4h0M270.1 412.3h0M265.9 428.5h0M263.5 410.8h0M262.3 433.8h0M266.0 411.1h0M254.1 435.8h0M264.6 414.5h0M268.7 436.3h0M272.6 428.3h0M277.2 412.5h0M268.6 433.1h0M266.2 414.1h0M278.9 430.1h0M262.0 411.8h0M270.7 437.2h0M272.2 435.0h0M262.7 426.4h0M263.6 419.5h0M263.2 423.2h0M262.2 428.7h0M272.9 435.8h0M276.1 412.2h0M279.0 425.5h0M281.0 424.0h0M262.5 430.1h0M263.5 438.0h0M270.3 435.7h0M269.3 419.3h0M273.3 430.2h0M268.6 417.9h0M267.7 430.4h0M264.3 414.5h0M269.1 428.8h0M262.4 417.7h0M282.1 417.6h0M276.2 418.7h0M262.5 423.9h0M279.0 432.1h0M262.2 430.0h0M272.3 423.7h0M273.4 424.9h0M263.6 429.8h0M263.0 418.8h0M278.5 426.2h0M269.7 430.2h0M269.3 420.9h0M270.6 410.6h0M266.4 411.1h0M282.9 435.9h0M304.2 324.2h0M308.8 313.8h0M365.7 310.4h0M389.9 335.7h0M345.0 366.2h0M286.9 351.9h0M301.9 373.8h0M298.4 371.5h0M314.5 385.3h0M306.9 381.9h0M306.9 391.1h0M306.9 399.1h0M297.3 394.5h0M297.3 401.5h0M293.8 401.5h0M313.4 403.8h0M319.6 398.0h0M319.6 416.4h0M319.6 427.5h0M319.6 438.3h0M306.9 419.9h0M306.9 423.4h0M306.9 426.8h0M297.3 425.7h0M297.3 429.1h0M290.3 415.3h0M290.3 422.2h0M290.3 433.7h0M284.6 419.9h0M284.6 429.1h0M284.6 438.3h0M278.8 366.9h0M290.3 362.3h0" stroke="#E41A1C" stroke-width="2.3" stroke-linecap="round" fill="none"/>
<path d="M264.1 382.5h0M269.1 390.8h0M268.8 388.9h0M257.9 396.0h0M249.5 430.2h0M264.9 404.6h0M260.1 389.2h0M253.2 416.6h0M254.6 406.2h0M249.5 405.4h0M256.8 390.4h0M271.1 375.5h0M249.3 435.2h0M263.9 397.9h0M258.3 412.5h0M252.5 414.2h0M266.2 382.5h0M264.5 383.9h0M256.1 393.6h0M255.9 377.1h0M258.7 402.6h0M260.8 403.8h0M258.5 375.9h0M271.2 381.1h0M269.9 375.0h0M264.0 381.7h0M254.2 400.0h0M266.6 400.9h0M258.1 398.8h0M260.7 390.7h0M271.6 384.7h0M250.9 408.5h0M256.5 420.0h0M255.2 400.8h0M255.6 407.5h0M254.7 416.5h0M254.9 402.4h0M264.0 400.5h0M252.2 416.0h0M253.5 388.3h0M253.9 425.9h0M264.6 400.5h0M258.7 378.1h0M257.0 414.5h0M249.8 423.5h0M257.0 406.1h0M254.0 386.0h0M250.8 417.7h0M258.6 400.2h0M251.3 408.4h0M254.5 380.1h0M269.7 391.5h0M262.1 390.4h0M268.5 385.9h0M255.8 377.3h0M259.9 406.8h0M268.2 385.5h0M252.3 392.3h0M267.8 387.4h0M263.6 374.1h0M249.7 419.1h0M260.1 379.5h0M257.5 409.0h0M258.2 405.6h0M248.7 430.7h0M262.2 395.1h0M254.8 384.4h0M257.1 412.1h0M261.5 385.3h0M251.7 409.6h0M251.7 415.5h0M264.2 406.7h0M247.9 435.7h0M248.7 427.5h0M259.6 386.4h0M257.8 377.0h0M262.2 386.6h0M265.3 383.6h0M255.0 417.4h0M262.7 389.4h0M259.1 398.3h0M259.3 378.5h0M268.8 377.9h0M269.8 387.0h0M251.0 422.1h0M264.7 399.3h0M261.2 402.7h0M250.4 418.0h0M261.3 395.5h0M269.4 384.2h0M252.3 394.3h0M258.9 392.1h0M258.2 386.9h0M256.7 416.0h0M260.0 372.8h0M260.5 383.6h0M258.8 387.5h0M262.7 379.5h0M249.8 408.5h0M255.4 421.5h0M262.9 384.2h0M252.3 418.8h0M268.0 376.2h0M258.1 390.8h0M266.9 390.5h0M263.2 396.9h0M259.6 407.3h0M264.4 383.2h0M268.7 382.7h0M271.6 374.5h0M271.7 385.4h0M251.7 422.0h0M256.6 377.6h0M259.5 395.0h0M266.2 404.8h0M251.9 433.0h0M260.9 383.3h0M255.7 386.6h0M252.5 412.8h0M255.8 423.0h0M249.8 428.3h0M253.6 418.3h0M262.3 381.3h0M255.2 422.0h0M255.9 403.7h0M249.4 405.9h0M254.1 411.2h0M254.1 385.7h0M266.1 389.9h0M261.6 372.6h0M250.4 406.5h0M263.3 376.8h0M255.3 419.3h0M249.4 427.7h0M253.9 425.3h0M264.9 403.0h0M264.5 398.6h0M260.2 405.8h0M253.0 389.4h0M264.4 372.5h0M252.8 403.1h0M268.4 374.2h0M269.5 389.1h0M254.3 379.0h0M268.4 388.6h0M252.4 419.3h0M255.6 407.0h0M249.5 427.4h0M265.0 394.6h0M259.6 373.0h0M251.0 431.1h0M250.8 421.8h0M267.6 393.0h0M263.2 397.7h0M258.2 393.0h0M265.0 384.1h0M250.3 411.8h0M264.6 376.2h0M259.7 389.9h0M262.9 398.4h0M259.1 407.8h0M254.7 390.3h0M255.3 376.4h0M253.9 405.4h0M255.9 378.0h0M248.7 425.5h0M271.7 386.7h0M263.9 381.7h0M253.4 403.7h0M252.9 429.9h0M263.3 376.0h0M261.0 390.5h0M260.6 386.2h0M252.9 405.8h0M259.2 405.9h0M264.7 380.0h0M254.1 392.9h0M256.5 404.7h0M266.1 396.7h0M251.6 413.8h0M255.7 381.6h0M267.9 399.6h0M256.4 402.8h0M252.0 396.6h0M256.2 383.8h0M259.6 380.8h0M264.1 399.3h0M253.8 417.6h0M255.9 373.6h0M269.7 391.5h0M254.3 418.3h0M251.3 436.3h0M251.2 411.4h0M249.6 436.6h0M266.5 384.0h0M253.7 374.6h0M261.5 377.4h0M250.1 424.5h0M256.1 374.8h0M250.1 420.1h0M252.6 390.6h0M252.9 428.6h0M265.3 382.3h0M265.9 374.6h0M259.4 389.1h0M264.8 385.1h0M265.1 372.6h0M256.7 406.5h0M264.0 406.3h0M267.0 404.6h0M258.0 394.3h0M257.5 386.7h0M255.5 421.7h0M268.9 380.3h0M267.3 397.8h0M256.3 379.5h0M262.0 398.9h0M266.6 380.9h0M262.7 384.6h0M249.9 418.9h0M254.0 404.4h0M270.5 377.9h0M267.1 372.9h0M263.4 407.5h0M249.5 405.9h0M267.6 379.8h0M256.2 385.9h0M264.2 372.0h0M258.1 373.5h0M250.9 425.8h0M260.9 406.9h0M264.7 398.9h0M249.9 403.8h0M249.5 408.7h0M250.4 407.9h0M254.1 401.0h0M260.9 397.2h0M261.8 378.0h0M257.7 405.6h0M266.2 397.4h0M265.5 385.3h0M263.1 373.1h0M256.5 421.1h0M248.1 430.3h0M249.9 435.2h0M248.5 423.9h0M264.9 383.9h0M254.0 426.5h0M258.7 399.8h0M259.4 380.3h0M252.0 431.8h0M258.9 388.2h0M261.8 392.7h0M268.5 374.8h0M263.6 394.5h0M258.2 408.1h0M261.8 385.1h0M267.5 404.3h0M261.4 380.7h0M259.2 376.2h0M257.2 381.0h0M258.6 376.0h0M262.9 387.2h0M253.1 414.4h0M270.9 372.9h0M259.9 400.0h0M260.8 394.3h0M260.1 379.0h0M266.6 406.5h0M251.8 430.3h0M267.5 394.4h0M271.0 373.3h0M253.6 392.6h0M269.0 378.8h0M253.7 420.9h0M262.1 380.7h0M254.8 376.4h0M254.0 384.7h0M260.9 392.9h0M251.1 421.7h0M256.1 378.9h0M270.8 376.2h0M262.6 386.8h0M249.6 421.4h0M259.0 380.3h0M261.7 389.6h0M259.0 400.7h0M269.9 391.8h0M265.5 386.3h0M267.2 393.9h0M255.7 422.6h0M268.9 381.3h0M254.5 397.1h0M260.9 407.1h0M255.0 376.0h0M265.1 398.4h0M269.2 373.2h0M261.6 406.8h0M253.3 406.9h0M249.3 415.6h0M260.4 407.8h0M270.7 379.7h0M268.3 393.3h0M257.4 406.8h0M267.3 375.9h0M265.7 394.7h0M257.2 417.3h0M260.9 404.2h0M268.7 390.0h0M254.8 398.1h0M264.0 382.3h0M266.0 399.4h0M262.0 378.0h0M259.2 373.9h0M253.8 394.4h0M264.0 383.6h0M259.8 390.0h0M263.3 377.6h0M264.1 404.2h0M253.4 415.2h0M258.8 402.2h0M260.1 396.8h0M253.4 418.0h0M263.4 375.6h0M254.7 391.5h0M262.2 396.8h0M251.9 401.6h0M254.8 416.8h0M269.9 376.7h0M255.4 380.9h0M258.5 396.2h0M263.8 380.8h0M269.9 381.3h0M251.8 432.0h0M249.3 413.1h0M267.6 393.4h0M256.8 393.9h0M256.8 386.7h0M258.7 392.7h0M257.7 400.1h0M257.4 372.5h0M260.9 395.6h0M264.6 404.5h0M249.9 427.3h0M266.8 403.8h0M260.1 403.6h0M266.1 394.3h0M267.2 397.0h0M264.6 397.1h0M267.2 397.3h0M256.5 400.8h0M262.8 374.2h0M249.2 431.3h0M266.6 400.0h0M250.6 428.8h0M253.1 405.2h0M260.6 396.2h0M259.9 402.4h0M252.1 423.3h0M257.2 411.7h0M255.2 417.1h0M268.6 396.1h0M258.2 396.4h0M256.2 399.4h0M269.0 376.0h0M255.1 422.8h0M260.2 386.6h0M263.8 401.7h0M263.7 384.3h0M262.1 384.3h0M261.3 393.6h0M254.2 421.2h0M266.5 397.0h0M248.4 428.0h0M270.5 372.6h0M258.0 410.2h0M268.5 380.8h0M268.9 392.7h0M253.9 374.5h0M251.9 391.2h0M257.0 414.6h0M256.5 416.5h0M264.5 376.4h0M251.6 399.2h0M260.1 398.4h0M268.7 392.0h0M257.8 417.2h0M258.5 398.7h0M252.9 395.6h0M267.5 384.5h0M259.6 390.9h0M250.5 404.3h0M252.3 415.0h0M264.7 386.7h0M253.4 392.2h0M257.5 402.4h0M252.7 402.6h0M271.6 378.1h0M257.5 385.0h0M268.9 392.0h0M259.9 375.5h0M265.0 406.2h0M266.4 389.5h0M253.9 411.8h0M248.8 434.3h0M265.8 404.8h0M256.7 377.1h0M264.9 403.2h0M267.5 399.4h0M255.7 407.7h0M262.4 402.0h0M268.2 388.8h0M260.3 408.1h0M262.3 373.1h0M251.6 428.9h0M270.6 375.7h0M256.0 382.9h0M263.6 386.6h0M252.0 407.9h0M259.1 402.9h0M254.0 378.1h0M257.7 383.1h0M259.3 382.9h0M255.8 376.8h0M271.9 377.6h0M251.3 419.9h0M257.2 389.0h0M251.1 433.8h0M255.4 395.4h0M258.5 379.0h0M256.8 391.3h0M248.8 431.8h0M249.5 424.4h0M262.6 390.9h0M257.1 418.0h0M266.8 384.9h0M261.3 379.1h0M258.4 384.1h0M258.3 412.4h0M255.8 373.6h0M268.3 380.3h0M263.8 392.4h0M259.8 405.5h0M261.3 374.9h0M253.2 415.3h0M250.5 414.8h0M256.3 397.8h0M266.4 401.7h0M249.6 432.0h0M264.2 385.1h0M251.8 432.4h0M265.3 396.3h0M251.8 402.3h0M251.2 403.5h0M250.1 420.3h0M250.3 414.0h0M263.8 385.2h0M263.1 384.3h0M263.2 388.2h0M260.5 400.6h0M255.0 402.0h0M252.6 393.1h0M264.5 380.7h0M270.3 375.6h0M249.0 438.2h0M257.8 408.9h0M262.6 379.9h0M256.1 396.5h0M265.1 384.0h0M252.0 395.2h0M259.2 407.2h0M268.8 378.4h0M262.7 393.1h0M258.1 382.1h0M256.9 402.5h0M253.1 406.6h0M254.9 375.2h0M269.0 381.0h0M262.6 397.1h0M254.6 393.8h0M250.1 431.3h0M257.9 397.4h0M269.7 377.8h0M248.1 434.6h0M252.5 426.1h0M257.8 386.9h0M262.7 375.6h0M254.1 398.8h0M254.8 395.6h0M260.3 387.8h0M260.3 375.7h0M256.4 409.9h0M253.4 397.8h0M261.7 396.2h0M252.2 430.2h0M249.3 432.3h0M250.0 408.8h0M261.3 399.2h0M255.6 376.0h0M252.6 430.4h0M257.4 393.5h0M270.6 382.7h0M256.2 418.0h0M267.4 379.3h0M263.7 393.9h0M265.1 391.8h0M252.3 389.9h0M249.2 425.8h0M254.1 419.7h0M259.9 401.5h0M266.5 402.6h0M261.0 375.6h0M269.6 382.0h0M262.2 390.0h0M257.2 403.0h0M254.9 383.4h0M249.6 436.7h0M254.7 396.2h0M250.1 410.2h0M263.3 389.1h0M273.7 381.6h0M282.2 396.2h0M275.7 365.0h0M273.7 397.9h0M274.9 379.2h0M278.2 363.8h0M278.4 392.2h0M269.8 380.4h0M281.7 373.5h0M276.5 377.2h0M276.8 379.2h0M273.5 402.7h0M279.1 405.9h0M273.4 382.5h0M273.8 400.1h0M273.9 391.9h0M270.8 385.9h0M272.3 402.2h0M273.9 403.9h0M277.1 377.0h0M276.8 403.0h0M279.1 398.3h0M277.1 389.2h0M270.2 398.6h0M278.2 390.5h0M272.9 395.6h0M276.4 376.1h0M283.9 396.0h0M278.9 399.0h0M279.1 378.9h0M283.3 401.9h0M278.7 381.1h0M276.0 364.0h0M282.2 398.6h0M277.5 382.5h0M280.9 362.9h0M274.4 373.0h0M277.7 377.6h0M277.7 401.5h0M274.6 367.1h0M268.2 398.8h0M275.5 381.4h0M268.5 366.5h0M268.0 401.4h0M268.8 376.2h0M271.5 367.7h0M266.4 368.5h0M274.8 371.8h0M263.9 365.0h0M264.1 364.9h0M266.3 362.3h0M278.1 364.8h0M276.9 370.1h0M277.9 362.2h0M273.7 370.5h0M274.6 368.0h0M270.5 370.2h0M272.7 365.5h0M271.9 366.7h0M265.7 368.7h0M278.7 368.5h0M262.2 366.1h0M277.3 363.3h0M272.1 368.8h0M272.7 365.3h0M262.3 369.0h0M265.3 368.0h0M272.5 369.2h0M264.2 371.7h0M277.0 370.7h0M345.0 332.3h0M389.9 322.6h0M365.7 308.1h0M389.9 307.2h0M301.9 343.8h0M314.5 355.3h0M319.6 364.6h0M312.7 369.2h0M306.9 353.0h0M286.9 317.3h0M277.7 336.9h0M289.2 334.6h0M299.1 335.7h0M307.6 374.9h0M294.9 371.5h0M281.1 371.5h0M277.7 378.4h0M283.4 383.0h0M290.3 385.3h0M290.3 393.4h0M290.3 401.5h0M297.3 387.6h0M297.3 392.2h0M297.3 396.8h0M306.9 385.3h0M306.9 393.4h0M319.6 383.0h0M319.6 391.1h0M319.6 411.8h0M306.9 410.7h0M297.3 408.4h0M290.3 410.7h0M281.1 392.2h0M281.1 403.8h0M312.7 356.5h0M312.7 364.6h0" stroke="#377EB8" stroke-width="2.3" stroke-linecap="round" fill="none"/>
<path d="M249.0 413.2h0M248.0 429.1h0M247.8 359.2h0M260.8 369.8h0M256.4 366.1h0M263.6 360.2h0M246.0 412.8h0M252.1 353.5h0M254.6 360.7h0M256.3 362.1h0M249.8 373.7h0M267.8 369.2h0M251.2 384.3h0M249.0 396.8h0M246.8 387.1h0M247.9 380.9h0M253.1 349.3h0M264.5 351.7h0M259.9 357.3h0M266.2 350.9h0M250.7 375.8h0M248.8 354.4h0M260.8 361.2h0M247.6 436.0h0M263.1 367.4h0M253.7 365.3h0M250.7 392.3h0M247.8 369.5h0M265.0 349.7h0M264.3 371.4h0M257.6 367.3h0M254.3 374.7h0M259.4 360.7h0M270.3 368.9h0M255.8 360.6h0M266.2 364.7h0M249.6 360.6h0M251.4 362.8h0M248.1 427.0h0M248.1 368.7h0M248.2 398.6h0M266.3 350.8h0M256.4 356.5h0M247.7 386.3h0M250.7 349.9h0M249.8 371.4h0M262.1 363.6h0M255.9 359.8h0M246.7 412.2h0M260.7 368.0h0M259.4 351.9h0M247.1 385.5h0M247.9 397.4h0M266.1 358.4h0M248.3 391.5h0M250.4 350.3h0M264.7 365.3h0M247.6 395.1h0M266.2 368.2h0M247.9 401.8h0M270.6 366.2h0M270.2 371.1h0M252.4 365.4h0M254.3 358.6h0M246.2 368.2h0M246.3 429.9h0M270.4 367.3h0M248.5 372.8h0M269.1 371.7h0M252.0 357.7h0M248.9 371.8h0M249.2 399.7h0M252.8 367.5h0M259.7 350.7h0M259.9 350.3h0M259.4 367.6h0M266.6 363.2h0M250.2 388.8h0M253.4 348.4h0M246.4 394.9h0M253.9 369.0h0M246.5 398.1h0M248.6 373.5h0M252.3 381.7h0M249.0 367.3h0M246.2 373.7h0M260.3 358.4h0M247.1 397.7h0M254.4 368.3h0M244.6 437.2h0M247.1 370.8h0M246.5 372.3h0M255.3 354.5h0M261.6 353.2h0M252.5 364.2h0M256.2 371.2h0M246.6 407.6h0M264.3 365.7h0M250.9 351.5h0M261.3 352.0h0M256.6 371.5h0M247.5 406.5h0M246.1 373.1h0M255.0 350.1h0M264.2 355.8h0M252.0 383.7h0M257.7 350.3h0M251.3 350.9h0M249.9 354.1h0M269.1 361.0h0M262.0 369.1h0M248.4 371.2h0M249.3 357.7h0M247.3 369.9h0M253.6 380.3h0M262.8 369.9h0M266.3 365.7h0M267.1 368.7h0M246.1 415.2h0M246.5 401.1h0M246.2 414.2h0M253.5 382.1h0M265.2 364.8h0M251.7 352.1h0M255.1 352.8h0M261.0 370.6h0M262.6 361.8h0M249.9 390.6h0M254.8 367.1h0M252.7 357.5h0M255.2 368.4h0M248.1 390.7h0M262.3 357.6h0M257.5 363.7h0M247.6 436.3h0M253.2 381.2h0M247.0 390.6h0M252.2 363.1h0M272.3 367.4h0M247.4 414.4h0M251.2 357.9h0M267.3 357.8h0M263.7 363.9h0M264.2 352.9h0M246.2 426.5h0M252.7 368.5h0M252.4 372.7h0M262.3 350.8h0M266.9 356.0h0M245.7 405.6h0M266.6 368.2h0M259.0 349.7h0M251.7 374.2h0M263.0 350.5h0M262.1 360.7h0M244.9 425.2h0M249.0 352.9h0M260.5 357.9h0M261.8 348.0h0M270.5 366.9h0M259.8 365.1h0M256.6 371.9h0M253.9 374.1h0M245.2 415.6h0M256.7 348.4h0M246.5 430.2h0M246.0 384.0h0M263.2 351.3h0M270.8 366.7h0M246.2 393.8h0M247.3 385.0h0M258.5 351.7h0M266.0 357.2h0M269.1 353.7h0M254.7 367.8h0M270.5 369.1h0M247.9 413.3h0M245.8 430.7h0M268.8 350.2h0M255.7 360.8h0M250.7 386.6h0M251.0 391.7h0M247.6 366.7h0M247.6 393.2h0M263.7 354.7h0M258.6 364.6h0M247.5 414.7h0M267.3 371.1h0M255.7 369.5h0M254.9 360.4h0M248.3 386.2h0M253.6 361.5h0M248.6 372.9h0M261.7 354.1h0M248.7 357.2h0M258.2 357.8h0M246.1 393.4h0M247.4 405.1h0M248.8 373.2h0M247.1 429.0h0M247.8 409.0h0M245.9 411.7h0M247.7 391.5h0M249.0 391.8h0M253.1 352.9h0M247.7 372.0h0M253.3 363.5h0M262.8 358.0h0M245.4 428.9h0M262.1 351.6h0M249.7 387.9h0M247.4 366.2h0M255.6 365.5h0M255.7 360.7h0M269.3 350.1h0M271.9 369.9h0M259.7 365.4h0M252.5 369.7h0M268.2 364.5h0M266.0 365.8h0M247.3 400.6h0M245.6 409.3h0M244.4 433.0h0M265.3 353.5h0M245.7 406.7h0M247.7 423.0h0M249.1 355.8h0M252.9 373.4h0M258.9 351.1h0M252.6 350.7h0M265.9 367.1h0M244.5 436.8h0M264.0 364.7h0M262.2 350.5h0M245.6 400.7h0M247.6 419.0h0M249.2 381.0h0M261.9 371.2h0M267.8 360.7h0M248.7 367.2h0M250.4 392.9h0M261.1 371.6h0M266.8 367.2h0M255.3 352.4h0M246.7 407.0h0M248.3 369.4h0M255.0 374.5h0M268.0 365.4h0M260.8 365.9h0M248.0 358.4h0M251.3 358.6h0M247.6 396.7h0M253.9 359.9h0M248.7 370.1h0M246.4 436.4h0M256.0 366.3h0M252.4 358.3h0M248.7 393.4h0M248.6 353.0h0M268.3 349.7h0M251.0 384.2h0M251.5 370.5h0M247.2 377.9h0M246.6 435.0h0M245.3 430.5h0M249.6 372.5h0M247.6 396.4h0M264.5 368.4h0M247.4 394.6h0M254.4 362.9h0M247.2 413.8h0M251.2 382.1h0M267.1 359.3h0M250.4 375.5h0M248.1 425.4h0M255.1 371.3h0M253.8 375.0h0M249.5 363.1h0M248.6 375.4h0M257.0 351.2h0M258.0 349.9h0M247.4 416.7h0M247.3 398.1h0M269.9 354.9h0M256.8 348.1h0M247.6 429.6h0M252.3 362.8h0M259.2 366.8h0M248.9 412.4h0M270.7 366.4h0M250.6 360.9h0M249.7 368.4h0M255.8 369.5h0M263.0 369.7h0M251.4 385.9h0M248.5 352.6h0M263.3 352.4h0M253.0 352.9h0M248.2 361.0h0M249.7 377.9h0M246.6 403.7h0M249.4 394.2h0M256.7 367.2h0M254.3 374.3h0M250.8 368.5h0M269.5 369.4h0M250.1 352.3h0M244.2 431.5h0M271.6 369.5h0M248.8 372.6h0M250.4 394.4h0M269.1 365.8h0M268.5 369.8h0M257.2 371.2h0M247.7 401.5h0M245.9 401.0h0M251.5 379.4h0M259.6 368.7h0M248.1 371.5h0M246.5 365.1h0M247.8 382.1h0M247.8 373.3h0M248.6 373.0h0M266.5 364.8h0M249.7 358.6h0M252.2 375.9h0M267.6 353.9h0M253.4 369.8h0M254.5 378.7h0M270.8 356.9h0M248.1 353.9h0M249.6 355.6h0M248.8 355.2h0M262.8 363.5h0M256.3 361.6h0M246.3 391.8h0M248.4 378.0h0M268.4 363.1h0M249.4 393.3h0M249.6 393.9h0M256.1 366.3h0M248.5 401.3h0M253.3 364.0h0M269.4 361.3h0M266.6 358.7h0M247.5 359.0h0M251.3 348.5h0M249.1 370.0h0M252.0 389.2h0M247.6 391.6h0M257.0 349.3h0M248.0 393.2h0M253.8 357.4h0M261.1 367.9h0M262.9 368.3h0M245.0 430.2h0M266.9 363.1h0M258.1 349.4h0M244.7 434.5h0M250.0 386.6h0M247.1 432.4h0M251.5 389.9h0M248.5 408.4h0M248.2 405.7h0M247.0 438.5h0M246.5 405.5h0M259.5 359.3h0M261.6 371.8h0M248.1 377.5h0M265.8 360.8h0M249.6 395.3h0M249.6 359.3h0M266.9 369.7h0M249.6 351.5h0M252.8 373.6h0M257.0 367.0h0M249.0 408.5h0M251.4 367.2h0M270.0 363.5h0M254.6 364.9h0M249.3 377.0h0M253.6 358.5h0M262.1 353.7h0M250.3 379.2h0M259.0 368.7h0M257.2 372.0h0M253.0 358.6h0M266.1 361.8h0M247.4 428.2h0M246.7 398.5h0M253.3 365.4h0M246.5 376.1h0M246.9 392.7h0M244.4 434.1h0M251.8 362.4h0M245.8 397.0h0M258.9 365.0h0M259.1 355.2h0M248.0 395.3h0M247.5 427.8h0M245.6 436.0h0M263.8 351.3h0M247.6 357.6h0M267.2 349.0h0M245.8 431.2h0M247.3 391.1h0M254.1 349.1h0M250.0 364.9h0M250.5 375.1h0M259.0 368.2h0M257.7 349.0h0M256.4 358.5h0M270.3 358.4h0M260.2 354.0h0M249.1 399.3h0M254.8 379.7h0M269.2 365.6h0M255.3 348.9h0M247.4 428.1h0M250.2 368.6h0M252.2 381.0h0M250.2 370.8h0M247.5 436.4h0M246.8 436.3h0M269.6 356.6h0M256.3 348.8h0M260.4 369.6h0M269.3 368.3h0M254.1 371.8h0M250.5 357.3h0M252.3 376.7h0M267.6 348.6h0M248.2 410.8h0M252.7 356.5h0M248.0 366.5h0M247.5 376.4h0M248.7 364.6h0M257.1 366.4h0M252.8 378.7h0M246.3 383.0h0M265.1 351.0h0M262.6 365.4h0M267.5 366.1h0M245.8 402.0h0M246.4 424.1h0M247.8 394.4h0M265.5 351.4h0M264.2 359.2h0M254.6 362.9h0M246.0 396.4h0M247.9 417.6h0M247.3 400.6h0M269.0 363.9h0M249.3 398.0h0M247.1 372.2h0M258.2 353.6h0M262.8 352.2h0M272.0 366.3h0M249.6 389.8h0M256.0 364.2h0M255.2 353.7h0M258.6 361.0h0M246.6 382.2h0M247.2 411.4h0M245.5 423.6h0M249.2 395.9h0M269.1 361.8h0M248.5 389.8h0M246.8 410.3h0M252.2 352.9h0M247.9 432.0h0M270.6 368.5h0M267.2 370.7h0M257.4 367.7h0M264.5 356.8h0M248.0 368.6h0M256.5 371.6h0M248.1 424.5h0M246.3 369.2h0M256.0 368.5h0M266.6 327.0h0M263.3 341.5h0M261.3 339.4h0M267.9 344.0h0M272.7 343.5h0M272.4 347.8h0M251.4 330.8h0M256.9 340.7h0M260.3 337.9h0M271.5 327.9h0M258.9 337.4h0M251.9 344.6h0M282.5 346.4h0M269.9 333.9h0M268.7 346.3h0M257.1 334.1h0M264.8 342.3h0M252.9 334.0h0M254.5 334.1h0M278.7 338.2h0M266.4 322.7h0M282.6 344.1h0M273.7 330.0h0M263.9 329.3h0M259.6 322.2h0M272.8 333.5h0M265.1 340.5h0M267.6 322.9h0M259.4 334.8h0M273.3 337.0h0M276.1 328.7h0M276.8 335.5h0M258.9 321.8h0M271.9 343.4h0M283.3 342.5h0M278.8 335.7h0M258.6 326.9h0M266.9 334.5h0M257.0 341.9h0M255.7 347.6h0M255.8 342.0h0M270.5 344.2h0M276.9 339.5h0M251.5 346.3h0M260.2 331.9h0M268.4 334.7h0M279.9 333.7h0M253.4 333.1h0M256.6 331.0h0M275.2 340.6h0M255.7 326.6h0M256.5 336.3h0M258.7 320.2h0M254.9 338.3h0M252.1 318.5h0M250.7 339.9h0M255.3 319.4h0M264.2 327.7h0M256.7 342.5h0M253.7 337.0h0M255.0 337.6h0M254.5 323.9h0M265.8 337.8h0M254.1 338.1h0M273.9 335.5h0M263.5 342.6h0M252.2 334.4h0M269.0 345.5h0M263.4 335.9h0M263.3 319.9h0M254.9 322.6h0M250.5 345.3h0M254.9 334.9h0M270.7 326.5h0M273.6 342.2h0M257.2 324.9h0M264.4 335.9h0M281.1 335.7h0M259.3 339.8h0M255.3 321.2h0M270.2 331.9h0M269.4 323.6h0M257.4 335.5h0M264.1 333.0h0M256.9 323.7h0M263.4 322.8h0M260.7 320.1h0M262.9 341.5h0M269.1 344.8h0M271.6 337.3h0M264.9 343.1h0M265.7 322.2h0M257.9 341.9h0M252.0 323.4h0M271.9 338.5h0M266.3 337.6h0M264.7 335.7h0M251.4 330.4h0M261.9 336.7h0M264.6 342.6h0M273.4 327.0h0M262.4 342.1h0M262.7 345.4h0M267.0 344.0h0M254.5 330.1h0M251.2 343.7h0M266.3 347.1h0M263.5 327.2h0M254.8 345.6h0M278.1 333.8h0M284.6 307.2h0M290.3 309.2h0M301.9 310.4h0M301.9 313.8h0M307.6 310.4h0M314.5 319.6h0M314.5 323.1h0M319.6 334.6h0M345.0 317.3h0M389.9 310.4h0M312.7 341.5h0M319.6 348.4h0M306.9 345.0h0M297.3 341.5h0M293.8 333.4h0M288.0 334.6h0M283.4 320.8h0M280.0 330.0h0M276.5 331.1h0M290.3 355.3h0M297.3 356.5h0M297.3 359.9h0M306.9 357.6h0M306.9 362.3h0M306.9 366.9h0M319.6 358.8h0M284.6 353.0h0M280.0 353.0h0M280.0 362.3h0" stroke="#4DAF4A" stroke-width="2.3" stroke-linecap="round" fill="none"/>
<path d="M247.9 357.1h0M250.6 330.2h0M247.2 372.8h0M277.0 310.8h0M250.4 318.0h0M271.9 310.3h0M248.4 341.8h0M249.4 362.4h0M280.4 309.7h0M255.9 333.9h0M260.0 320.3h0M252.0 337.3h0M249.0 341.7h0M273.9 313.8h0M253.3 309.5h0M248.2 323.7h0M248.0 350.0h0M264.6 312.5h0M251.1 312.6h0M249.9 313.0h0M270.6 315.7h0M257.8 330.3h0M249.7 356.5h0M248.9 334.3h0M278.4 311.1h0M250.3 345.7h0M256.4 310.3h0M254.4 335.5h0M255.8 322.3h0M255.8 322.5h0M252.3 334.9h0M254.7 328.4h0M266.5 311.0h0M248.8 349.9h0M269.0 312.8h0M250.4 344.7h0M246.0 395.3h0M253.0 335.2h0M257.5 313.0h0M252.4 313.3h0M266.7 310.3h0M248.2 365.4h0M249.6 328.4h0M269.0 311.1h0M248.2 325.6h0M271.8 314.4h0M245.6 396.3h0M261.1 319.7h0M246.2 395.3h0M249.7 328.8h0M271.0 315.2h0M272.1 314.6h0M247.1 353.8h0M251.8 314.5h0M258.2 318.0h0M254.0 324.2h0M269.6 312.1h0M263.2 319.8h0M259.8 323.7h0M254.8 325.4h0M249.1 358.4h0M271.4 312.9h0M255.2 319.1h0M255.8 325.0h0M261.0 319.8h0M248.7 351.5h0M258.8 327.5h0M258.2 324.8h0M247.0 360.7h0M275.3 308.6h0M258.3 314.0h0M256.9 308.9h0M267.2 311.5h0M255.3 327.6h0M251.8 334.1h0M251.7 345.4h0M254.9 332.1h0M252.4 341.1h0M254.8 336.3h0M274.8 308.7h0M248.0 320.0h0M246.2 360.5h0M260.3 319.2h0M247.2 378.3h0M262.3 319.9h0M254.0 328.7h0M243.6 422.9h0M250.9 323.2h0M266.4 314.7h0M246.9 325.3h0M249.8 317.8h0M245.6 409.5h0M244.9 424.4h0M248.5 346.0h0M260.7 315.8h0M264.5 321.2h0M276.0 310.9h0M253.3 319.3h0M252.2 337.0h0M249.0 362.6h0M253.7 310.2h0M257.2 311.7h0M252.8 322.5h0M248.7 368.0h0M256.5 328.4h0M253.9 329.3h0M253.0 324.4h0M244.4 410.1h0M270.7 312.2h0M262.8 321.0h0M259.9 326.8h0M248.9 370.3h0M271.4 310.7h0M247.8 368.2h0M249.4 366.3h0M257.6 319.4h0M247.3 330.3h0M245.5 406.8h0M260.1 326.3h0M256.2 322.9h0M274.3 314.3h0M251.7 350.4h0M259.8 325.5h0M254.8 315.4h0M264.5 320.5h0M252.5 332.8h0M265.0 313.4h0M274.1 311.2h0M254.5 313.4h0M266.8 317.2h0M246.0 390.2h0M247.6 385.6h0M248.8 336.7h0M261.1 322.2h0M247.2 366.4h0M250.1 323.6h0M253.5 332.9h0M249.6 331.6h0M249.7 356.7h0M260.4 317.1h0M245.4 382.8h0M248.8 309.1h0M268.1 313.0h0M250.1 337.4h0M247.3 338.9h0M266.0 313.9h0M248.4 331.2h0M255.9 333.7h0M270.5 316.4h0M258.4 316.0h0M267.6 309.0h0M252.4 325.8h0M247.0 331.5h0M247.8 326.9h0M248.0 312.3h0M246.4 399.9h0M245.3 417.6h0M249.5 332.5h0M262.4 310.6h0M260.2 325.2h0M250.6 356.1h0M263.3 308.9h0M249.9 319.5h0M258.9 326.7h0M256.7 324.9h0M251.9 308.7h0M256.0 317.2h0M269.1 313.3h0M250.9 349.3h0M255.7 314.9h0M249.0 351.6h0M265.2 314.6h0M249.6 339.2h0M248.2 359.7h0M266.4 314.7h0M246.4 396.3h0M282.4 309.8h0M244.7 415.1h0M262.1 322.3h0M253.6 319.7h0M247.0 376.2h0M267.9 309.1h0M260.6 310.9h0M245.0 396.8h0M248.9 344.2h0M246.9 339.8h0M269.0 309.1h0M258.6 327.8h0M246.4 376.9h0M246.3 390.4h0M256.7 315.8h0M247.6 352.6h0M259.2 315.8h0M259.6 323.5h0M252.7 338.4h0M242.9 437.9h0M248.6 316.0h0M249.9 316.7h0M248.0 345.2h0M260.0 314.6h0M247.0 381.4h0M251.6 327.6h0M261.6 311.0h0M246.9 369.8h0M254.8 329.8h0M255.3 326.7h0M247.3 319.2h0M276.9 312.1h0M249.9 340.5h0M257.2 311.8h0M253.4 325.7h0M247.2 338.4h0M245.7 413.5h0M246.7 352.5h0M250.4 350.1h0M245.4 407.7h0M246.6 402.3h0M271.2 309.4h0M246.4 404.0h0M251.1 343.4h0M248.7 362.3h0M246.8 368.1h0M247.6 379.5h0M246.7 335.8h0M251.8 348.0h0M244.6 405.3h0M266.9 309.0h0M250.3 337.5h0M249.3 344.3h0M275.7 312.6h0M250.6 309.0h0M263.3 313.9h0M246.4 341.2h0M248.2 350.4h0M280.3 309.7h0M251.7 343.3h0M266.8 313.8h0M243.5 428.7h0M246.8 362.4h0M247.9 381.4h0M244.4 426.4h0M247.1 393.2h0M244.4 422.4h0M248.9 354.7h0M255.7 317.8h0M259.2 315.2h0M250.6 354.7h0M268.2 309.7h0M257.4 325.6h0M248.2 356.9h0M255.4 333.1h0M243.0 431.8h0M273.7 309.3h0M253.4 318.5h0M264.3 309.6h0M249.2 365.2h0M256.6 316.6h0M249.2 326.2h0M255.9 331.0h0M256.0 311.1h0M256.4 331.7h0M265.9 311.0h0M246.2 369.9h0M251.1 318.3h0M277.1 310.1h0M265.8 309.8h0M249.2 325.6h0M278.8 311.3h0M243.5 430.3h0M257.6 328.9h0M247.1 374.3h0M249.7 344.5h0M258.6 326.3h0M275.9 312.1h0M248.2 314.8h0M244.9 421.9h0M272.2 312.9h0M244.3 423.5h0M246.6 350.2h0M267.7 316.3h0M266.8 313.1h0M266.2 315.7h0M251.5 317.1h0M246.7 342.1h0M253.2 330.9h0M255.1 316.0h0M253.9 316.8h0M252.1 313.6h0M247.7 348.7h0M258.3 324.3h0M247.3 349.3h0M263.4 321.0h0M267.2 315.7h0M247.7 318.7h0M265.1 319.9h0M251.8 346.4h0M252.1 330.6h0M251.7 313.2h0M252.7 342.7h0M249.9 325.2h0M246.8 347.1h0M249.9 328.8h0M262.5 318.1h0M251.6 330.7h0M250.4 359.7h0M251.9 334.4h0M249.9 335.9h0M247.4 371.1h0M264.3 319.6h0M245.0 415.0h0M252.1 335.9h0M251.3 337.2h0M263.8 318.9h0M245.6 417.7h0M251.9 315.4h0M248.1 344.9h0M251.2 314.9h0M247.9 330.5h0M246.6 358.7h0M260.0 322.7h0M272.0 310.0h0M251.2 331.7h0M262.7 313.1h0M250.1 359.5h0M249.7 353.9h0M245.6 385.7h0M252.4 336.3h0M246.6 403.3h0M246.3 364.6h0M252.8 335.6h0M251.9 320.3h0M248.1 332.5h0M247.7 327.7h0M250.0 317.9h0M252.4 329.6h0M247.2 359.7h0M249.3 317.8h0M252.7 311.8h0M254.0 330.2h0M250.3 345.7h0M261.1 312.9h0M244.1 434.3h0M254.6 325.1h0M251.4 311.6h0M260.9 323.1h0M244.2 407.2h0M254.7 310.1h0M247.0 331.8h0M251.1 313.5h0M253.7 333.1h0M252.9 311.6h0M248.4 331.3h0M249.0 337.9h0M244.5 411.0h0M256.6 332.6h0M256.1 319.3h0M249.5 314.5h0M244.5 412.5h0M258.2 327.6h0M244.0 433.5h0M249.6 357.9h0M246.9 368.0h0M243.7 423.9h0M248.0 340.3h0M249.7 308.8h0M264.9 309.0h0M248.9 341.5h0M258.4 313.6h0M247.0 372.8h0M254.2 337.4h0M247.7 312.9h0M279.8 310.5h0M247.4 379.0h0M257.3 322.7h0M270.7 311.5h0M243.6 430.7h0M246.3 378.8h0M255.8 315.9h0M248.2 316.9h0M267.9 308.9h0M248.5 327.5h0M252.3 308.9h0M248.3 373.6h0M264.3 316.0h0M249.9 308.8h0M245.3 384.9h0M278.4 311.3h0M246.7 333.6h0M247.1 382.8h0M258.4 324.3h0M255.7 315.5h0M248.1 361.7h0M261.7 311.6h0M246.3 397.9h0M256.3 327.8h0M244.7 406.2h0M247.4 388.5h0M243.1 433.6h0M256.0 331.6h0M248.4 335.2h0M265.3 318.1h0M247.4 354.7h0M263.4 317.4h0M246.7 383.3h0M249.9 348.6h0M253.8 326.5h0M248.0 381.2h0M253.1 330.6h0M254.2 325.6h0M250.0 356.1h0M245.6 416.0h0M247.1 388.1h0M282.9 310.1h0M246.2 408.7h0M266.9 314.9h0M249.7 312.1h0M268.4 317.0h0M260.0 316.8h0M247.0 335.2h0M250.8 333.6h0M248.4 345.1h0M249.2 358.3h0M247.7 376.7h0M247.4 313.0h0M250.7 352.4h0M256.1 326.3h0M247.0 346.9h0M247.4 373.5h0M259.7 314.9h0M259.3 311.3h0M248.6 351.6h0M248.1 331.2h0M247.0 371.3h0M248.4 310.7h0M246.8 317.2h0M244.5 420.4h0M247.2 317.2h0M246.8 370.5h0M248.4 365.9h0M244.6 407.0h0M257.1 322.4h0M265.2 308.9h0M255.6 332.7h0M245.4 404.0h0M273.0 312.7h0M256.4 317.9h0M258.2 311.6h0M264.6 313.2h0M254.3 328.9h0M253.3 325.3h0M248.3 334.7h0M246.4 347.2h0M247.3 390.9h0M251.2 349.6h0M249.6 341.8h0M246.5 384.7h0M268.7 309.1h0M246.0 372.5h0M246.5 367.0h0M251.6 338.8h0M250.3 320.3h0M273.5 312.5h0M246.9 325.9h0M252.6 310.8h0M262.5 310.8h0M247.8 320.7h0M255.0 318.5h0M265.2 312.3h0M246.5 360.7h0M249.0 313.5h0M271.2 312.5h0M247.2 382.8h0M250.5 313.3h0M242.9 437.2h0M259.1 309.8h0M247.2 355.9h0M258.0 312.6h0M243.4 424.2h0M245.3 406.3h0M256.3 318.2h0M248.5 331.3h0M243.5 431.5h0M246.5 381.4h0M257.0 322.9h0M265.0 318.1h0M251.1 323.3h0M249.4 334.7h0M247.0 352.9h0M255.5 316.0h0M248.9 323.0h0M254.5 321.5h0M258.5 322.7h0M254.2 322.3h0M254.5 313.6h0M251.9 331.5h0M247.1 374.0h0M252.9 337.5h0M253.2 310.7h0M257.8 308.7h0M248.7 358.6h0M282.7 308.9h0M248.0 310.6h0M268.7 317.2h0M247.2 348.6h0M247.0 310.7h0M259.6 323.8h0M267.3 318.1h0M247.0 384.7h0M247.5 327.5h0M247.5 331.1h0M244.1 420.9h0M248.1 317.9h0M253.9 312.0h0M248.1 361.1h0M247.5 389.7h0M247.5 326.4h0M266.6 313.4h0M244.6 403.5h0M246.4 358.4h0M255.5 309.7h0M249.8 361.2h0M264.8 311.1h0M247.5 372.8h0M248.8 347.0h0M246.4 373.5h0M245.7 393.1h0M258.3 321.5h0M247.7 360.3h0M249.9 313.9h0M273.8 311.9h0M260.3 319.7h0M257.6 325.7h0M264.1 316.5h0M261.9 318.2h0M257.7 308.6h0M248.0 371.4h0M270.2 314.4h0M264.9 313.5h0M273.7 310.1h0M247.2 313.4h0M249.7 315.5h0M262.3 318.3h0M252.5 312.4h0M248.5 351.2h0M273.6 310.9h0M270.4 308.6h0M265.8 314.9h0M247.0 350.3h0M249.0 354.0h0M247.2 315.2h0M250.7 318.3h0M245.1 411.8h0M249.4 336.8h0M257.4 328.5h0M250.4 324.0h0M261.9 317.6h0M248.3 348.4h0M248.1 313.1h0M273.1 308.9h0M251.7 322.4h0M246.6 370.4h0M246.0 380.6h0M249.9 321.7h0M263.9 317.6h0M250.4 352.7h0M253.3 312.9h0M258.3 325.6h0M243.8 424.5h0M248.2 321.6h0M263.6 313.2h0M257.9 319.6h0M248.1 346.8h0M246.3 375.6h0M255.9 332.2h0M248.0 370.5h0M255.4 313.3h0M247.4 338.6h0M256.7 313.7h0M244.9 418.5h0M269.8 312.1h0M267.2 315.8h0M246.4 341.7h0M247.5 349.8h0M249.9 345.2h0M274.1 311.3h0M247.3 327.4h0M256.6 316.0h0M246.4 374.6h0M248.5 376.1h0M246.0 408.5h0M248.8 368.8h0M248.8 310.2h0M257.7 314.1h0M266.3 315.3h0M256.8 324.6h0M246.2 370.0h0M268.8 314.9h0M255.6 326.7h0M248.2 352.9h0M251.4 337.7h0M268.7 314.2h0M247.7 369.1h0M268.1 314.7h0M263.4 315.5h0M257.8 316.8h0M259.5 311.6h0M249.1 308.8h0M246.9 376.7h0M250.3 346.5h0M267.5 315.0h0M267.8 316.2h0M267.3 311.6h0M267.7 315.7h0M246.7 367.4h0M272.6 315.5h0M251.4 332.7h0M246.8 324.1h0M248.4 369.2h0M247.8 372.4h0M258.8 324.0h0M299.6 309.2h0M307.6 309.2h0M307.6 312.0h0M307.6 315.0h0M314.5 308.1h0M319.6 308.1h0M319.6 313.8h0M319.6 320.8h0M297.3 345.0h0M283.4 311.5h0M389.9 308.1h0M294.9 309.7h0M292.6 311.1h0M288.0 312.7h0" stroke="#984EA3" stroke-width="2.3" stroke-linecap="round" fill="none"/>
<path d="M243.5 362.9h0M244.8 360.2h0M246.2 352.3h0M245.4 321.0h0M243.4 361.6h0M246.0 349.3h0M247.0 316.6h0M243.8 338.7h0M244.2 322.0h0M244.1 435.2h0M245.7 316.8h0M245.3 387.4h0M244.5 337.8h0M244.0 384.9h0M244.5 336.1h0M243.9 435.7h0M244.7 363.0h0M243.4 377.2h0M243.6 425.6h0M244.5 390.7h0M243.6 414.2h0M244.1 314.8h0M244.5 395.8h0M245.6 344.9h0M245.0 308.0h0M244.1 320.3h0M247.0 332.0h0M243.7 407.9h0M243.8 315.1h0M246.1 309.2h0M245.9 320.6h0M244.2 359.4h0M246.0 352.2h0M244.4 404.3h0M244.7 355.9h0M243.7 343.2h0M246.3 308.8h0M245.4 344.7h0M245.9 338.8h0M246.9 324.9h0M243.5 324.5h0M244.2 360.9h0M243.4 334.9h0M243.8 319.0h0M245.5 374.9h0M243.9 373.3h0M245.1 350.6h0M245.6 352.2h0M245.7 359.7h0M243.8 406.7h0M244.6 315.4h0M244.8 335.2h0M246.1 309.7h0M243.8 403.0h0M244.9 385.0h0M244.5 326.6h0M244.7 384.1h0M246.3 356.7h0M243.6 421.5h0M244.0 328.8h0M244.6 398.3h0M245.0 361.2h0M244.0 408.8h0M246.8 311.7h0M245.2 356.6h0M247.0 311.8h0M246.2 342.8h0M243.5 414.4h0M245.5 381.5h0M243.8 394.0h0M243.7 332.3h0M244.4 376.6h0M244.6 356.6h0M245.3 326.5h0M245.4 309.4h0M245.0 385.5h0M245.4 309.1h0M244.8 342.1h0M244.2 322.1h0M245.8 326.7h0M245.9 325.1h0M245.1 391.8h0M245.9 347.7h0M243.6 317.7h0M244.2 310.5h0M243.6 433.6h0M244.1 394.5h0M244.6 358.6h0M245.3 343.8h0M243.8 349.5h0M243.6 404.3h0M246.7 307.2h0M246.1 339.2h0M243.8 358.5h0M243.5 423.0h0M243.5 422.4h0M244.0 316.6h0M245.4 346.5h0M244.9 361.7h0M244.7 324.7h0M243.5 354.3h0M246.0 343.4h0M246.3 331.9h0M246.6 352.4h0M243.9 365.1h0M244.1 366.3h0M244.2 402.3h0M244.7 383.8h0M246.4 340.9h0M244.2 321.5h0M245.9 316.1h0M246.9 315.4h0M245.6 307.2h0M244.6 343.6h0M243.8 310.9h0M244.1 313.8h0M243.5 347.0h0M243.9 428.0h0M243.8 380.5h0M243.5 323.5h0M245.7 352.8h0M245.3 359.9h0M245.9 320.4h0M244.1 319.9h0M244.1 422.3h0M244.0 333.4h0M245.7 370.7h0M244.7 394.4h0M243.6 357.8h0M244.5 344.4h0M243.7 311.0h0M244.7 361.7h0M245.5 312.2h0M244.1 365.7h0M246.1 320.5h0M244.3 337.0h0M246.4 353.6h0M243.5 319.8h0M244.8 318.9h0M245.2 346.1h0M243.7 414.1h0M244.0 395.7h0M246.5 337.4h0M244.0 430.9h0M243.6 322.8h0M245.7 368.6h0M245.9 365.4h0M243.4 362.0h0M244.3 360.6h0M243.6 360.5h0M243.9 343.7h0M243.5 383.2h0M243.6 345.2h0M244.9 342.6h0M244.0 309.3h0M245.4 319.1h0M244.1 400.0h0M243.9 385.6h0M246.3 353.5h0M243.9 378.3h0M245.8 311.3h0M245.2 325.7h0M246.9 320.1h0M244.7 374.1h0M246.4 327.4h0M243.6 361.0h0M245.3 331.3h0M244.0 360.4h0M243.4 350.7h0M245.4 342.3h0M245.2 357.3h0M243.9 415.4h0M244.1 424.4h0M244.7 352.8h0M245.8 326.2h0M244.6 382.9h0M245.9 347.3h0M245.7 344.0h0M245.6 348.5h0M245.1 331.8h0M245.0 336.8h0M246.1 334.6h0M246.1 367.7h0M245.0 383.1h0M244.2 348.9h0M243.9 390.0h0M246.9 314.8h0M244.4 321.8h0M244.0 415.5h0M244.9 377.2h0M245.7 347.5h0M244.0 366.8h0M244.4 307.2h0M246.9 334.4h0M244.4 359.1h0M243.8 379.4h0M244.6 307.2h0M244.2 361.6h0M246.9 335.7h0M244.7 358.1h0M245.3 348.9h0M245.6 326.3h0M244.1 316.7h0M243.4 339.9h0M244.8 378.6h0M244.3 339.1h0M245.4 307.4h0M246.1 348.6h0M246.6 333.4h0M245.0 382.6h0M243.4 380.4h0M247.2 309.4h0M244.7 387.1h0M246.6 314.4h0M246.6 313.7h0M245.6 353.9h0M244.5 372.9h0M247.1 317.5h0M243.5 408.8h0M244.8 330.1h0M246.6 315.4h0M243.7 391.9h0M244.7 350.6h0M246.9 338.7h0M244.2 412.2h0M244.8 357.8h0M243.5 327.4h0M244.7 401.7h0M244.7 353.1h0M245.0 308.7h0M246.5 346.7h0M246.1 314.9h0M245.4 349.1h0M244.1 345.7h0M244.9 349.2h0M244.7 368.1h0M244.1 315.3h0M246.2 351.3h0M243.7 354.6h0M246.5 335.4h0M245.9 352.9h0M246.8 308.7h0M245.7 344.6h0M245.8 348.1h0M243.8 342.5h0M244.9 312.6h0M246.7 319.2h0M244.2 377.4h0M244.2 364.4h0M244.8 363.8h0M243.7 425.5h0M245.9 315.5h0M244.8 327.1h0M246.3 309.3h0M246.3 311.2h0M243.5 425.9h0M243.7 387.1h0M246.5 313.5h0M246.5 352.6h0M245.2 386.7h0M245.0 318.7h0M243.7 369.7h0M244.3 358.4h0M245.7 342.5h0M244.7 310.6h0M244.9 354.6h0M243.7 366.3h0M243.8 431.5h0M244.7 373.9h0M244.6 344.7h0M245.6 318.7h0M246.1 366.8h0M243.7 356.3h0M243.9 313.8h0M244.2 423.9h0M243.6 396.8h0M243.5 307.3h0M246.7 341.9h0M243.9 414.0h0M246.3 340.8h0M243.6 434.3h0M244.0 390.3h0M244.6 370.4h0M246.4 323.7h0M244.5 362.6h0M244.6 392.9h0M245.9 344.4h0M246.1 329.9h0M245.7 366.4h0M245.9 317.3h0M245.3 360.7h0M246.7 317.8h0M244.5 327.1h0M244.3 398.9h0M244.3 409.7h0M243.6 422.4h0M245.4 322.9h0M243.5 325.8h0M243.9 360.3h0M245.4 357.0h0M250.3 307.2h0M253.6 307.4h0M267.9 307.2h0M265.0 308.2h0M277.9 308.1h0M276.0 307.5h0M264.2 307.2h0M280.9 307.4h0M247.0 308.2h0M272.9 307.8h0M254.3 307.2h0M267.2 307.2h0M265.6 307.9h0M259.5 308.1h0M277.6 308.4h0M247.8 307.5h0M273.0 307.2h0M272.4 307.2h0M264.2 308.4h0M260.3 307.2h0M266.1 307.2h0M264.7 308.2h0M280.8 307.9h0M271.2 307.4h0M269.5 307.6h0M260.8 307.2h0M263.2 307.2h0M272.6 307.7h0M258.6 307.9h0M272.7 307.5h0M265.9 307.2h0M248.0 308.1h0M256.5 307.9h0M260.8 308.0h0M277.3 307.2h0M251.8 307.4h0M249.9 307.2h0M261.2 307.2h0M279.4 308.1h0M247.4 307.7h0M272.3 307.2h0M247.4 307.2h0M273.6 307.2h0M251.9 307.9h0M262.9 307.6h0M250.3 307.2h0M260.2 307.5h0M261.2 308.1h0M272.3 307.9h0M269.9 307.2h0M267.5 307.2h0M278.7 307.3h0M268.2 307.9h0M272.1 307.2h0M248.0 307.2h0M265.3 307.2h0M256.1 308.0h0M251.1 307.2h0M263.1 307.2h0M275.8 307.7h0M278.5 307.2h0M264.9 307.5h0M276.2 307.3h0M269.1 308.3h0M262.2 307.2h0M271.5 307.2h0M269.5 308.4h0M278.5 307.2h0M249.6 308.3h0M258.9 307.2h0M264.7 307.2h0M267.2 307.2h0M274.0 308.2h0M276.0 308.3h0M255.2 307.2h0M261.5 307.2h0M264.8 307.2h0M277.0 307.2h0M254.8 307.2h0M272.0 307.5h0M257.4 307.6h0M266.9 308.2h0M250.8 307.6h0M255.5 307.2h0M279.9 308.0h0M254.7 308.1h0M253.0 307.2h0M255.8 308.3h0M278.1 307.9h0M256.6 308.2h0M269.5 307.2h0M279.1 307.3h0M277.3 307.2h0M279.6 307.2h0M277.5 307.6h0M247.2 307.3h0M262.8 308.3h0M271.3 307.2h0M260.7 308.4h0M272.2 307.4h0M255.7 308.3h0M251.5 307.3h0M263.1 307.7h0M276.4 307.9h0M267.3 308.0h0M273.2 307.2h0M250.2 308.2h0M272.2 307.2h0M265.9 307.4h0M257.8 307.2h0M272.5 307.2h0M249.0 307.3h0M258.1 308.2h0M253.7 307.2h0M280.5 307.5h0M256.3 308.1h0M263.5 307.3h0M264.0 307.7h0M246.5 308.3h0M262.7 307.7h0M275.2 307.8h0M247.2 307.8h0M258.7 307.5h0M274.2 307.2h0M251.4 307.2h0M281.6 307.6h0M266.4 308.0h0M279.9 308.4h0M254.9 308.4h0M281.8 307.4h0M243.5 438.3h0M244.8 437.6h0M246.8 438.5h0M244.1 438.1h0M249.0 438.1h0M249.6 438.5h0M244.1 437.8h0M248.2 437.7h0M246.7 438.2h0M244.1 437.9h0M301.9 307.2h0M304.2 307.2h0M306.5 307.2h0M309.2 307.2h0M312.2 307.2h0M314.5 307.2h0M317.3 307.2h0M319.6 307.2h0M328.6 307.2h0M345.0 307.2h0M365.7 307.2h0M389.9 307.2h0M407.0 307.2h0" stroke="#FF7F00" stroke-width="2.3" stroke-linecap="round" fill="none"/>
<rect x="418" y="281.2" width="180.6" height="19.6" fill="#D9D9D9"/>
<text x="508.3" y="297.4" font-size="18" text-anchor="middle" fill="#1A1A1A">Self GSEA-FDR</text>
<rect x="418" y="300.8" width="180.6" height="144.2" fill="#EBEBEB"/>
<path d="M418 422.06H598.6M418 389.29H598.6M418 356.51H598.6M418 323.74H598.6M445.48 300.8V445M484.02 300.8V445M522.56 300.8V445M561.1 300.8V445" stroke="#fff" stroke-opacity="0.75" stroke-width="0.9" fill="none"/>
<path d="M418 438.45H598.6M418 405.67H598.6M418 372.9H598.6M418 340.13H598.6M418 307.35H598.6M426.21 300.8V445M464.75 300.8V445M503.29 300.8V445M541.83 300.8V445M580.37 300.8V445" stroke="#fff" stroke-opacity="0.8" stroke-width="1.1" fill="none"/>
<path d="M426.21 445V446.8M464.75 445V446.8M503.29 445V446.8M541.83 445V446.8M580.37 445V446.8" stroke="#888" stroke-width="0.8" fill="none"/>
<text x="437.91" y="453.2" font-size="17.5" text-anchor="end" fill="#4D4D4D" transform="rotate(-60 437.91 453.2)">0.0</text>
<text x="476.45" y="453.2" font-size="17.5" text-anchor="end" fill="#4D4D4D" transform="rotate(-60 476.45 453.2)">0.1</text>
<text x="514.99" y="453.2" font-size="17.5" text-anchor="end" fill="#4D4D4D" transform="rotate(-60 514.99 453.2)">0.2</text>
<text x="553.53" y="453.2" font-size="17.5" text-anchor="end" fill="#4D4D4D" transform="rotate(-60 553.53 453.2)">0.3</text>
<text x="592.07" y="453.2" font-size="17.5" text-anchor="end" fill="#4D4D4D" transform="rotate(-60 592.07 453.2)">0.4</text>
<path d="M436.6 358.0h0M439.3 355.0h0M439.9 318.2h0M433.8 351.3h0M442.4 409.9h0M437.6 408.1h0M433.6 401.3h0M432.9 412.6h0M432.0 387.8h0M441.8 397.4h0M447.1 408.4h0M456.6 420.3h0M443.3 421.4h0M495.7 400.8h0M489.9 309.7h0M481.9 332.3h0M454.9 366.9h0" stroke="#E41A1C" stroke-width="2.3" stroke-linecap="round" fill="none"/>
<path d="M444.5 325.9h0M441.9 339.7h0M444.1 350.0h0M441.8 355.6h0M434.3 366.7h0M444.3 353.2h0M443.2 348.5h0M437.1 320.8h0M440.0 361.2h0M438.1 383.1h0M439.0 387.9h0M432.4 413.2h0M432.6 385.2h0M432.2 424.3h0M441.9 381.1h0M434.0 384.6h0M461.2 407.2h0M431.0 421.9h0M430.0 419.7h0M430.0 419.9h0M480.7 348.9h0M471.7 388.3h0M448.0 354.4h0M471.7 438.3h0" stroke="#377EB8" stroke-width="2.3" stroke-linecap="round" fill="none"/>
<path d="M440.8 354.1h0M435.7 345.6h0M438.9 335.4h0M442.9 362.3h0M443.8 363.6h0M435.4 312.0h0M443.0 331.0h0M436.4 323.7h0M443.4 320.3h0M444.5 404.5h0M444.2 377.6h0M443.4 403.9h0M434.7 395.8h0M440.1 394.4h0M437.4 395.2h0M435.9 424.4h0M437.5 373.3h0M451.0 373.1h0M502.6 409.5h0M495.7 369.9h0M489.9 324.2h0M448.0 327.7h0M477.5 427.4h0M485.3 438.3h0" stroke="#4DAF4A" stroke-width="2.3" stroke-linecap="round" fill="none"/>
<path d="M436.8 352.1h0M438.8 339.1h0M432.3 347.2h0M437.1 368.8h0M440.7 344.0h0M436.9 345.0h0M442.4 343.7h0M432.7 363.1h0M436.7 348.5h0M439.1 322.8h0M438.3 337.8h0M434.1 316.9h0M445.2 423.8h0M437.1 387.7h0M443.2 409.8h0M445.3 376.3h0M445.5 422.5h0M435.6 399.5h0M432.0 422.5h0M445.5 415.3h0M435.5 404.8h0M442.4 423.9h0M443.3 420.1h0M434.6 371.0h0M438.7 421.4h0M438.9 403.3h0M429.7 424.0h0M442.7 403.7h0M453.9 423.1h0M441.6 423.0h0M430.8 426.2h0M437.2 429.8h0M438.7 418.6h0M454.9 324.4h0M458.4 377.9h0M471.7 426.8h0M502.6 438.3h0" stroke="#984EA3" stroke-width="2.3" stroke-linecap="round" fill="none"/>
<path d="M435.1 320.6h0M434.8 342.0h0M444.0 336.1h0M439.5 334.9h0M444.1 340.7h0M434.2 360.7h0M442.0 408.2h0M436.6 404.5h0M442.6 418.2h0M442.7 403.9h0M435.4 416.1h0M439.3 385.5h0M443.4 370.1h0M434.0 409.3h0M464.1 437.2h0M434.2 435.5h0M460.0 425.1h0M452.4 418.0h0M435.0 431.4h0M429.6 409.8h0M432.3 427.9h0M440.2 434.1h0M462.9 422.0h0M436.4 429.2h0M436.0 436.2h0M432.5 422.9h0M455.5 414.1h0M432.8 421.6h0M448.6 393.3h0M426.3 437.2h0M435.8 433.8h0M430.7 438.5h0M445.6 433.6h0M427.8 435.6h0M426.3 434.3h0M444.8 438.0h0M426.3 435.3h0M460.8 435.3h0M430.9 434.6h0M440.2 433.6h0M434.7 436.6h0M427.7 437.8h0M454.5 437.2h0M442.0 435.9h0M437.4 433.3h0M436.8 437.4h0M434.6 438.2h0M432.6 437.0h0M446.4 434.9h0M428.3 433.4h0M434.5 436.8h0M448.9 434.0h0M444.2 436.6h0M429.0 437.2h0M459.6 435.6h0M452.1 434.7h0M443.0 434.6h0M445.3 433.9h0M463.1 438.5h0M447.9 435.5h0M456.6 433.3h0M453.7 436.1h0M453.9 438.1h0M461.9 433.3h0M445.7 434.3h0M429.3 435.3h0M429.4 435.1h0M434.7 435.2h0M430.3 438.2h0M430.3 433.4h0M432.9 437.0h0M435.3 436.9h0M435.2 307.5h0M432.3 307.2h0M432.7 307.2h0M433.6 307.2h0M433.3 307.2h0M432.7 307.8h0M443.8 307.2h0M442.1 307.2h0M441.6 307.2h0M439.5 307.2h0M437.5 307.5h0M442.0 307.2h0M440.8 307.2h0M461.8 307.2h0M471.5 307.2h0M487.2 307.2h0M471.7 317.3h0M447.3 368.7h0M480.7 400.5h0M497.5 331.1h0M474.5 433.8h0M474.5 438.3h0M480.7 421.6h0" stroke="#FF7F00" stroke-width="2.3" stroke-linecap="round" fill="none"/>
<path d="M440.5 353.5h0M437.6 342.3h0M438.4 378.5h0M435.0 413.8h0M440.6 380.4h0M435.5 424.0h0M444.2 399.4h0M440.1 394.0h0M432.0 416.3h0M437.0 399.5h0M432.5 373.2h0M436.5 375.4h0M436.2 399.9h0M454.1 436.0h0M434.0 419.9h0M449.1 430.1h0M463.4 378.4h0M458.6 393.0h0M461.2 407.6h0M484.9 348.9h0M468.7 353.0h0M528.0 321.4h0M573.2 308.5h0M480.7 410.7h0M471.7 426.4h0M489.9 420.2h0" stroke="#E41A1C" stroke-width="2.3" stroke-linecap="round" fill="none"/>
<path d="M438.8 342.1h0M438.7 323.0h0M435.8 344.0h0M438.9 363.1h0M441.4 382.7h0M440.9 410.5h0M443.7 378.4h0M443.6 391.9h0M445.6 408.4h0M444.7 413.9h0M445.6 404.7h0M443.5 418.6h0M433.9 394.3h0M430.2 436.0h0M452.5 402.0h0M464.1 361.6h0M448.1 385.8h0M502.6 414.6h0M489.9 425.7h0M528.0 310.8h0M451.4 354.4h0M495.7 417.9h0" stroke="#377EB8" stroke-width="2.3" stroke-linecap="round" fill="none"/>
<path d="M434.1 312.7h0M444.3 350.7h0M440.2 321.1h0M439.5 366.8h0M433.2 334.0h0M434.7 369.1h0M435.7 358.5h0M437.1 314.8h0M438.3 314.1h0M440.3 345.5h0M436.1 309.3h0M437.0 313.0h0M438.5 319.2h0M438.7 390.6h0M435.0 403.1h0M440.4 413.9h0M439.0 420.1h0M442.4 389.8h0M440.1 372.9h0M441.2 383.2h0M458.3 416.9h0M459.2 415.0h0M444.0 426.5h0M458.4 332.2h0M502.6 359.5h0M495.7 396.8h0M484.9 310.4h0M471.7 436.0h0M477.5 416.4h0M477.5 438.3h0M489.9 416.5h0" stroke="#4DAF4A" stroke-width="2.3" stroke-linecap="round" fill="none"/>
<path d="M443.0 324.3h0M441.8 351.0h0M432.8 350.1h0M437.3 330.6h0M442.3 361.7h0M436.9 342.6h0M434.1 341.8h0M438.9 329.1h0M435.3 415.4h0M444.5 413.5h0M433.6 387.2h0M434.2 422.8h0M441.0 413.9h0M440.4 386.8h0M438.1 384.6h0M445.7 397.8h0M440.3 395.6h0M436.7 395.3h0M438.3 411.4h0M434.3 422.1h0M450.4 421.3h0M429.9 426.4h0M430.5 434.3h0M445.1 430.2h0M452.0 400.4h0M482.6 307.2h0M472.2 345.4h0M465.7 338.0h0M480.7 327.0h0M452.6 381.9h0M573.2 309.7h0M467.1 429.9h0M471.7 433.7h0M485.3 428.1h0M489.9 431.1h0" stroke="#984EA3" stroke-width="2.3" stroke-linecap="round" fill="none"/>
<path d="M434.9 344.5h0M437.0 319.3h0M437.5 310.0h0M434.4 334.1h0M443.4 355.6h0M442.4 383.0h0M442.4 414.4h0M437.1 388.0h0M439.2 379.1h0M432.6 412.6h0M437.2 416.4h0M434.1 403.9h0M432.0 393.4h0M437.3 418.3h0M441.4 376.2h0M439.0 378.2h0M442.5 432.4h0M439.0 428.3h0M450.6 417.3h0M432.4 433.7h0M431.3 427.3h0M435.4 425.3h0M448.0 427.6h0M446.3 430.1h0M429.7 431.0h0M437.1 425.0h0M460.8 376.5h0M455.2 436.4h0M438.6 434.5h0M431.0 437.1h0M458.8 436.8h0M433.2 435.1h0M431.0 437.7h0M428.2 434.7h0M433.1 434.9h0M438.1 437.2h0M457.7 438.4h0M452.0 434.2h0M434.1 434.3h0M439.4 433.4h0M439.4 438.4h0M449.0 437.2h0M444.3 437.6h0M430.6 436.8h0M447.4 435.2h0M428.1 437.5h0M427.7 435.2h0M460.5 436.5h0M431.6 436.4h0M450.0 436.2h0M435.8 435.5h0M441.0 438.6h0M435.0 435.5h0M444.6 434.7h0M429.2 438.1h0M456.5 435.0h0M438.6 435.5h0M426.5 436.4h0M431.3 436.7h0M455.1 434.8h0M449.0 438.3h0M436.4 436.7h0M427.4 431.6h0M437.3 438.0h0M428.0 428.8h0M427.9 438.1h0M430.6 433.8h0M426.3 437.1h0M430.9 434.7h0M439.8 307.9h0M440.7 307.2h0M439.4 307.2h0M442.8 307.2h0M436.5 307.2h0M435.2 307.2h0M439.2 307.2h0M441.5 307.5h0M432.2 307.2h0M442.6 307.5h0M439.4 307.2h0M453.7 307.2h0M468.7 307.2h0M490.9 307.2h0M489.9 315.0h0M468.7 383.0h0M468.7 400.5h0M467.1 421.5h0" stroke="#FF7F00" stroke-width="2.3" stroke-linecap="round" fill="none"/>
<path d="M432.5 342.8h0M437.8 328.7h0M443.1 363.1h0M442.6 396.8h0M436.2 393.4h0M441.0 402.9h0M444.8 406.2h0M443.5 381.6h0M437.3 385.4h0M456.2 431.4h0M462.3 414.2h0M430.0 420.5h0M433.6 429.9h0M429.7 425.9h0M435.7 437.9h0M464.1 384.2h0M495.7 433.7h0M489.9 400.8h0M471.7 329.5h0M458.4 381.9h0M461.8 315.0h0M497.5 400.5h0M466.9 421.1h0M467.1 425.7h0M495.7 438.3h0" stroke="#E41A1C" stroke-width="2.3" stroke-linecap="round" fill="none"/>
<path d="M443.1 355.3h0M438.5 351.8h0M442.2 334.8h0M435.7 317.1h0M433.9 364.0h0M440.4 361.7h0M433.7 399.4h0M440.1 386.6h0M439.1 405.8h0M437.1 404.7h0M441.8 394.4h0M438.8 393.3h0M459.3 411.1h0M456.1 433.3h0M448.7 415.9h0M436.8 436.4h0M433.2 415.4h0M446.0 433.6h0M431.8 420.6h0M445.7 378.6h0M449.5 330.7h0M502.6 384.6h0M495.7 424.5h0M489.9 343.8h0M497.8 346.1h0M468.7 307.2h0M449.8 315.0h0M480.7 434.1h0M489.9 423.8h0M495.7 428.1h0" stroke="#377EB8" stroke-width="2.3" stroke-linecap="round" fill="none"/>
<path d="M441.9 345.0h0M443.9 341.0h0M443.7 325.7h0M444.4 365.3h0M436.8 343.6h0M433.8 318.4h0M441.6 366.3h0M439.2 340.7h0M440.2 376.7h0M441.6 400.1h0M444.4 414.2h0M442.9 418.0h0M435.6 375.7h0M431.3 407.9h0M462.6 357.1h0M502.6 396.1h0M471.7 369.9h0M465.7 336.9h0M454.9 334.6h0M467.1 434.1h0M474.5 424.8h0M480.7 425.8h0M480.7 438.3h0M502.6 423.9h0" stroke="#4DAF4A" stroke-width="2.3" stroke-linecap="round" fill="none"/>
<path d="M443.7 329.1h0M438.2 314.1h0M443.8 344.8h0M435.6 347.5h0M436.9 333.9h0M435.6 325.6h0M441.5 339.9h0M437.9 331.4h0M435.2 367.6h0M435.1 360.5h0M440.8 390.5h0M444.2 381.1h0M435.7 419.5h0M434.5 418.7h0M433.7 378.1h0M436.8 388.7h0M439.7 404.0h0M439.9 377.9h0M444.1 396.8h0M435.9 386.5h0M435.4 410.4h0M435.2 383.4h0M434.3 437.2h0M437.5 434.1h0M438.9 429.4h0M448.4 409.0h0M447.1 434.3h0M463.4 395.9h0M453.3 347.4h0M451.3 357.9h0M502.6 368.7h0M495.7 373.8h0M489.9 318.9h0M474.5 429.3h0M480.7 429.9h0M485.3 433.2h0M502.6 431.1h0" stroke="#984EA3" stroke-width="2.3" stroke-linecap="round" fill="none"/>
<path d="M442.3 322.1h0M439.1 366.8h0M440.6 313.1h0M436.6 321.8h0M437.9 363.0h0M444.2 355.4h0M440.7 351.0h0M434.6 411.6h0M438.0 394.3h0M433.7 401.6h0M444.9 386.4h0M438.6 408.8h0M444.7 404.4h0M441.4 388.1h0M432.1 417.8h0M437.1 411.7h0M452.7 432.8h0M433.7 429.0h0M435.1 433.1h0M433.1 435.1h0M433.6 436.9h0M447.0 430.5h0M439.7 433.7h0M446.3 422.9h0M452.6 429.7h0M442.6 433.2h0M434.1 437.8h0M445.1 420.8h0M439.1 434.6h0M439.7 410.2h0M450.1 403.1h0M456.0 401.9h0M448.7 339.8h0M454.2 323.4h0M426.3 436.0h0M430.5 437.3h0M433.9 436.4h0M427.3 438.5h0M438.8 437.7h0M453.1 437.0h0M429.4 434.2h0M426.6 437.5h0M426.5 437.7h0M461.8 433.5h0M443.3 438.6h0M437.7 438.2h0M442.0 436.6h0M455.4 434.5h0M446.0 434.6h0M458.1 437.4h0M434.1 437.3h0M461.5 436.9h0M427.2 436.2h0M456.5 435.9h0M442.0 434.3h0M447.0 434.1h0M460.1 438.2h0M438.3 437.2h0M430.9 434.5h0M435.8 435.8h0M442.7 435.7h0M439.5 436.9h0M430.9 434.8h0M443.5 434.9h0M442.4 438.4h0M427.2 434.9h0M438.9 435.7h0M438.9 437.7h0M445.3 436.7h0M443.4 437.1h0M438.5 435.4h0M461.7 433.8h0M441.7 436.8h0M463.4 436.7h0M434.5 435.3h0M429.1 433.4h0M427.6 431.0h0M430.6 436.6h0M431.3 438.0h0M427.4 429.0h0M432.0 435.1h0M430.3 433.6h0M437.8 307.9h0M438.7 307.9h0M434.4 307.9h0M442.5 307.6h0M437.7 307.4h0M432.7 307.2h0M438.5 307.2h0M433.1 307.4h0M449.1 307.2h0M458.4 307.2h0M484.9 307.2h0M528.0 307.2h0M548.7 307.2h0M590.0 307.2h0M502.6 346.1h0M502.6 372.6h0M465.7 328.1h0M454.9 377.9h0M466.9 374.2h0M453.7 317.3h0M471.7 429.1h0M489.9 438.3h0" stroke="#FF7F00" stroke-width="2.3" stroke-linecap="round" fill="none"/>
<path d="M438.0 329.9h0M432.4 419.1h0M436.9 418.8h0M442.6 408.1h0M445.4 415.5h0M432.5 386.9h0M432.5 406.7h0M437.5 410.2h0M441.8 387.0h0M443.4 419.4h0M431.1 409.9h0M434.9 435.3h0M457.4 431.2h0M429.6 428.5h0M456.6 432.9h0M457.9 331.1h0M453.0 330.5h0M459.5 359.3h0M495.7 432.6h0" stroke="#E41A1C" stroke-width="2.3" stroke-linecap="round" fill="none"/>
<path d="M435.3 323.0h0M432.5 310.5h0M443.0 363.4h0M436.8 359.1h0M443.5 327.7h0M435.9 324.8h0M437.8 328.9h0M440.0 315.4h0M433.5 386.8h0M440.1 410.3h0M441.0 382.9h0M436.2 415.0h0M441.2 393.3h0M441.8 405.2h0M436.7 384.5h0M434.3 404.8h0M435.4 410.5h0M457.8 418.8h0M449.2 413.9h0M431.3 427.1h0M439.9 403.2h0M449.8 412.1h0M440.9 416.1h0M495.7 394.5h0M465.7 379.3h0M454.9 321.9h0M489.9 434.7h0" stroke="#377EB8" stroke-width="2.3" stroke-linecap="round" fill="none"/>
<path d="M437.3 346.4h0M439.7 349.5h0M440.8 329.0h0M441.7 363.1h0M440.0 347.5h0M439.4 309.9h0M434.3 360.6h0M440.2 366.5h0M444.4 344.3h0M440.6 380.3h0M436.9 390.3h0M442.6 401.8h0M439.1 384.8h0M437.9 406.0h0M441.3 372.6h0M448.7 420.1h0M464.0 394.0h0M467.1 369.9h0M480.7 334.6h0M449.8 310.4h0" stroke="#4DAF4A" stroke-width="2.3" stroke-linecap="round" fill="none"/>
<path d="M440.7 309.3h0M438.3 321.2h0M443.7 319.0h0M442.7 367.7h0M438.1 333.7h0M438.6 337.7h0M442.6 330.3h0M439.6 343.6h0M443.9 337.1h0M432.5 348.6h0M443.9 333.1h0M432.1 378.9h0M444.0 417.4h0M441.1 395.1h0M435.7 394.5h0M437.2 398.7h0M443.0 374.1h0M459.2 419.3h0M446.9 434.1h0M443.8 413.4h0M440.9 428.3h0M463.6 409.1h0M454.1 418.9h0M449.1 387.2h0M451.4 338.6h0M450.5 342.0h0M445.7 354.8h0M495.7 375.4h0M495.7 379.5h0M497.5 327.0h0M454.9 342.7h0M471.7 424.5h0M471.7 431.4h0" stroke="#984EA3" stroke-width="2.3" stroke-linecap="round" fill="none"/>
<path d="M443.0 368.8h0M438.3 314.1h0M443.1 360.2h0M436.6 329.2h0M444.1 368.4h0M442.6 420.9h0M439.8 415.9h0M441.0 375.3h0M433.1 405.1h0M443.5 398.6h0M444.6 410.5h0M436.5 422.8h0M435.1 423.5h0M439.5 422.1h0M434.0 408.9h0M443.7 418.5h0M441.7 405.0h0M438.7 375.7h0M438.6 423.6h0M447.1 414.3h0M459.7 428.1h0M442.5 422.4h0M431.7 438.2h0M437.5 419.7h0M448.3 406.4h0M435.8 416.2h0M430.2 436.3h0M430.1 428.2h0M462.6 426.8h0M439.5 426.2h0M460.5 432.8h0M430.7 416.3h0M442.1 427.9h0M458.3 347.0h0M436.9 435.5h0M439.5 435.3h0M430.1 436.5h0M430.9 434.2h0M429.6 437.0h0M427.8 438.1h0M457.6 433.5h0M429.1 436.6h0M446.3 433.3h0M438.1 434.0h0M431.9 435.4h0M463.9 435.6h0M456.0 436.4h0M436.0 434.3h0M432.1 434.7h0M451.5 436.3h0M429.8 434.5h0M443.2 437.5h0M432.8 438.0h0M455.9 434.1h0M444.2 433.9h0M426.3 434.2h0M444.9 435.5h0M436.5 437.4h0M460.6 437.1h0M457.8 436.9h0M434.7 437.4h0M460.3 438.5h0M460.8 437.9h0M430.1 437.8h0M444.0 438.6h0M429.1 433.4h0M462.2 437.9h0M437.3 436.0h0M449.8 435.9h0M451.2 434.3h0M438.8 434.6h0M437.6 437.5h0M426.7 431.0h0M427.1 428.0h0M434.7 438.0h0M426.5 432.4h0M428.0 435.7h0M429.6 432.1h0M428.7 430.8h0M428.7 438.5h0M434.3 435.2h0M438.9 307.2h0M434.5 307.8h0M433.0 307.2h0M441.2 307.2h0M440.5 307.2h0M437.8 307.2h0M440.1 307.2h0M437.5 307.2h0M483.0 307.2h0M511.6 307.2h0M573.2 307.2h0M495.7 366.9h0M457.7 326.5h0M467.1 438.3h0M474.5 420.3h0M485.3 422.9h0M489.9 427.4h0" stroke="#FF7F00" stroke-width="2.3" stroke-linecap="round" fill="none"/>
<rect x="601" y="281.2" width="180.6" height="19.6" fill="#D9D9D9"/>
<text x="691.3" y="297.4" font-size="18" text-anchor="middle" fill="#1A1A1A">sigPathway</text>
<rect x="601" y="300.8" width="180.6" height="144.2" fill="#EBEBEB"/>
<path d="M601 422.06H781.6M601 389.29H781.6M601 356.51H781.6M601 323.74H781.6M628.48 300.8V445M667.02 300.8V445M705.56 300.8V445M744.1 300.8V445" stroke="#fff" stroke-opacity="0.75" stroke-width="0.9" fill="none"/>
<path d="M601 438.45H781.6M601 405.67H781.6M601 372.9H781.6M601 340.13H781.6M601 307.35H781.6M609.21 300.8V445M647.75 300.8V445M686.29 300.8V445M724.83 300.8V445M763.37 300.8V445" stroke="#fff" stroke-opacity="0.8" stroke-width="1.1" fill="none"/>
<path d="M609.21 445V446.8M647.75 445V446.8M686.29 445V446.8M724.83 445V446.8M763.37 445V446.8" stroke="#888" stroke-width="0.8" fill="none"/>
<text x="620.91" y="453.2" font-size="17.5" text-anchor="end" fill="#4D4D4D" transform="rotate(-60 620.91 453.2)">0.0</text>
<text x="659.45" y="453.2" font-size="17.5" text-anchor="end" fill="#4D4D4D" transform="rotate(-60 659.45 453.2)">0.1</text>
<text x="697.99" y="453.2" font-size="17.5" text-anchor="end" fill="#4D4D4D" transform="rotate(-60 697.99 453.2)">0.2</text>
<text x="736.53" y="453.2" font-size="17.5" text-anchor="end" fill="#4D4D4D" transform="rotate(-60 736.53 453.2)">0.3</text>
<text x="775.07" y="453.2" font-size="17.5" text-anchor="end" fill="#4D4D4D" transform="rotate(-60 775.07 453.2)">0.4</text>
<path d="M614.7 429.5h0M616.1 318.9h0M638.3 421.2h0M615.9 409.5h0M624.4 371.8h0M617.1 414.0h0M621.9 311.8h0M636.2 413.6h0M629.3 382.7h0M635.0 375.5h0M625.3 407.2h0M632.7 378.0h0M632.4 376.6h0M634.7 370.5h0M613.2 431.2h0M620.8 321.3h0M631.4 421.5h0M673.6 317.3h0M663.7 346.1h0M648.7 340.4h0M678.7 383.0h0M685.6 376.8h0M660.3 396.1h0M685.6 434.4h0M656.8 426.8h0" stroke="#E41A1C" stroke-width="2.3" stroke-linecap="round" fill="none"/>
<path d="M640.7 421.0h0M638.3 325.7h0M616.8 314.2h0M614.1 340.7h0M625.6 409.5h0M618.9 357.8h0M628.9 362.1h0M631.3 312.7h0M635.0 400.2h0M636.9 410.4h0M615.9 418.5h0M634.2 408.8h0M623.8 313.0h0M626.8 363.6h0M640.5 390.7h0M615.7 422.7h0M651.8 416.1h0M678.7 360.4h0M641.4 336.9h0" stroke="#377EB8" stroke-width="2.3" stroke-linecap="round" fill="none"/>
<path d="M624.6 394.8h0M620.8 321.4h0M624.0 362.2h0M615.7 384.6h0M615.1 340.1h0M613.1 328.8h0M615.9 339.3h0M616.8 374.6h0M625.3 420.6h0M628.8 357.0h0M639.7 403.0h0M617.9 426.0h0M622.6 414.5h0M614.8 381.1h0M628.4 318.3h0M623.7 336.3h0M614.0 381.5h0M624.4 363.5h0M633.3 344.3h0M613.0 313.5h0M622.6 360.7h0M636.5 425.1h0M633.9 384.6h0M644.3 433.0h0M685.6 342.7h0M678.7 362.3h0M685.6 357.6h0M641.4 328.8h0" stroke="#4DAF4A" stroke-width="2.3" stroke-linecap="round" fill="none"/>
<path d="M627.6 405.2h0M620.1 393.9h0M625.4 333.0h0M613.5 408.6h0M617.9 369.1h0M613.7 343.1h0M622.1 363.9h0M618.9 376.0h0M633.6 383.9h0M616.0 419.8h0M620.7 317.5h0M617.5 341.0h0M620.0 389.3h0M613.0 375.0h0M613.6 318.4h0M615.3 379.5h0M621.4 322.8h0M615.7 357.5h0M641.1 321.4h0M629.8 315.1h0M613.9 311.9h0M620.2 335.2h0M613.1 345.7h0M619.8 335.2h0M621.7 416.0h0M634.8 340.7h0M638.0 402.5h0M634.4 334.7h0M617.5 324.7h0M620.0 392.5h0M615.6 382.8h0M630.2 394.4h0M620.5 376.9h0M613.1 424.8h0M624.1 321.8h0M653.5 432.5h0M648.2 394.8h0M646.3 379.4h0M655.6 318.9h0M678.7 345.2h0M673.6 406.8h0M647.1 396.8h0M649.9 413.0h0" stroke="#984EA3" stroke-width="2.3" stroke-linecap="round" fill="none"/>
<path d="M626.0 317.6h0M630.5 384.4h0M613.0 386.1h0M613.2 333.3h0M615.1 332.6h0M640.2 312.7h0M618.3 324.8h0M621.3 316.5h0M623.9 382.7h0M625.3 397.0h0M617.3 370.0h0M614.5 333.0h0M626.7 382.5h0M627.9 368.3h0M616.9 342.5h0M637.6 433.9h0M628.4 403.4h0M621.9 378.1h0M637.2 380.5h0M631.9 426.7h0M625.6 434.3h0M617.5 385.7h0M619.0 340.4h0M638.1 311.7h0M617.8 361.1h0M613.2 383.6h0M614.2 377.8h0M616.5 392.1h0M617.2 361.8h0M636.4 360.8h0M631.5 315.1h0M619.9 344.5h0M613.4 376.0h0M635.3 410.8h0M619.9 339.7h0M613.2 325.7h0M615.9 424.4h0M620.6 342.1h0M615.9 374.8h0M629.1 370.2h0M639.6 411.3h0M643.7 407.5h0M630.8 416.0h0M650.9 417.3h0M652.7 434.8h0M612.6 398.3h0M612.2 340.7h0M617.8 437.9h0M612.6 362.3h0M613.2 325.1h0M615.8 353.1h0M619.1 332.3h0M615.9 370.2h0M613.8 374.4h0M618.0 315.7h0M613.2 437.6h0M618.5 395.3h0M612.7 388.8h0M617.9 331.8h0M618.8 397.3h0M618.0 330.2h0M613.1 429.6h0M618.1 310.1h0M615.4 313.6h0M612.2 422.2h0M619.8 331.5h0M612.7 388.2h0M613.0 438.0h0M613.9 342.1h0M614.4 329.8h0M612.3 382.1h0M617.7 370.2h0M613.4 371.5h0M617.1 323.9h0M615.9 413.6h0M616.3 377.1h0M615.8 321.4h0M617.0 389.7h0M615.3 325.6h0M617.9 389.9h0M619.8 328.6h0M614.6 373.1h0M612.1 436.5h0M619.9 383.9h0M613.8 419.9h0M613.2 422.0h0M616.2 314.1h0M612.8 388.8h0M615.8 414.1h0M613.9 380.3h0M612.6 396.4h0M617.2 408.6h0M619.3 414.6h0M614.4 332.6h0M619.0 431.3h0M617.8 435.3h0M617.3 378.9h0M634.0 434.1h0M609.9 438.2h0M624.7 432.1h0M609.8 435.4h0M638.5 434.5h0M626.4 435.1h0M613.8 433.9h0M611.2 432.3h0M610.2 436.9h0M629.6 436.1h0M613.1 436.3h0M609.4 438.2h0M622.5 434.5h0M613.4 433.8h0M614.2 437.5h0M609.3 436.6h0M638.5 432.4h0M609.9 438.5h0M618.9 435.6h0M609.9 435.4h0M615.9 438.6h0M615.8 436.2h0M611.9 433.8h0M624.5 438.2h0M611.1 438.1h0M637.6 434.9h0M628.5 435.8h0M637.3 438.1h0M633.1 437.1h0M625.8 438.0h0M633.7 434.3h0M635.0 432.8h0M618.4 434.6h0M616.2 429.3h0M623.4 437.4h0M633.1 433.8h0M619.6 438.6h0M623.5 434.2h0M611.6 438.5h0M617.8 307.2h0M625.2 307.2h0M616.4 307.4h0M628.4 307.4h0M622.9 307.2h0M624.2 307.2h0M626.1 307.2h0M626.0 307.7h0M624.0 307.5h0M624.6 307.5h0M617.9 307.2h0M626.7 307.2h0M622.3 307.2h0M616.7 307.4h0M639.0 307.2h0M667.9 307.2h0M673.9 307.2h0M681.0 311.1h0M655.6 321.9h0M649.9 324.0h0M685.6 366.4h0M673.6 433.7h0M663.7 426.8h0" stroke="#FF7F00" stroke-width="2.3" stroke-linecap="round" fill="none"/>
<path d="M635.4 396.5h0M635.9 336.1h0M614.6 391.1h0M632.1 433.2h0M613.0 339.1h0M625.0 397.2h0M638.8 429.3h0M627.4 311.2h0M615.8 399.4h0M636.4 377.6h0M613.9 401.0h0M636.5 416.3h0M626.5 374.3h0M622.5 383.4h0M638.8 381.3h0M614.5 381.8h0M616.2 338.8h0M613.8 404.4h0M638.8 402.3h0M617.7 405.9h0M614.9 412.2h0M628.7 375.6h0M619.2 318.2h0M626.6 431.6h0M622.8 357.5h0M634.6 410.8h0M632.7 434.1h0M643.8 411.0h0M685.6 380.7h0M651.7 426.8h0" stroke="#E41A1C" stroke-width="2.3" stroke-linecap="round" fill="none"/>
<path d="M630.6 410.2h0M617.7 357.0h0M625.9 382.0h0M632.4 310.6h0M616.7 401.1h0M638.2 398.9h0M619.2 309.4h0M617.9 385.8h0M614.2 355.7h0M627.9 424.7h0M616.4 392.0h0M621.0 328.2h0M624.4 378.2h0M624.9 427.2h0M614.6 409.9h0M619.8 312.8h0M638.3 351.2h0M638.4 333.5h0M614.0 343.4h0M615.1 316.3h0M632.9 357.6h0M640.6 405.4h0M621.6 421.0h0M614.4 406.0h0M614.4 410.0h0M614.2 432.1h0M653.0 434.2h0M644.2 430.6h0M630.5 411.3h0M643.7 407.5h0M649.9 311.1h0M649.9 320.1h0M685.6 343.8h0M673.6 380.2h0" stroke="#377EB8" stroke-width="2.3" stroke-linecap="round" fill="none"/>
<path d="M616.2 360.4h0M616.3 410.6h0M613.1 320.1h0M626.0 371.8h0M623.6 312.2h0M634.0 409.5h0M613.0 308.8h0M634.7 351.2h0M613.1 343.5h0M625.8 350.5h0M621.0 397.0h0M630.4 359.5h0M621.8 373.3h0M614.0 397.7h0M624.9 376.8h0M621.6 370.5h0M624.7 422.4h0M631.8 330.4h0M640.0 326.7h0M638.7 392.6h0M621.5 319.2h0M623.1 397.0h0M622.4 409.3h0M623.2 323.0h0M614.0 360.7h0M614.0 433.1h0M646.1 407.3h0M640.8 429.5h0M636.1 382.3h0M649.5 427.7h0M673.6 389.9h0M656.8 430.3h0M648.3 405.6h0" stroke="#4DAF4A" stroke-width="2.3" stroke-linecap="round" fill="none"/>
<path d="M638.7 336.9h0M618.5 344.4h0M614.9 428.7h0M614.8 323.9h0M632.1 419.1h0M613.1 425.2h0M623.2 329.5h0M613.7 374.3h0M637.4 344.0h0M627.5 418.6h0M617.7 418.0h0M622.9 356.0h0M617.7 339.9h0M618.6 352.8h0M616.8 309.6h0M615.7 399.6h0M619.2 355.7h0M624.5 351.8h0M628.3 369.0h0M634.7 335.6h0M640.9 395.7h0M613.0 317.7h0M618.8 309.6h0M647.6 423.0h0M635.5 417.2h0M649.9 317.3h0M673.6 431.0h0M647.1 392.2h0" stroke="#984EA3" stroke-width="2.3" stroke-linecap="round" fill="none"/>
<path d="M613.3 423.7h0M614.8 401.0h0M615.2 424.6h0M616.9 399.8h0M624.9 394.1h0M630.5 368.0h0M614.1 309.9h0M613.7 407.0h0M626.0 361.8h0M617.8 342.3h0M623.4 401.1h0M619.9 390.3h0M628.9 368.0h0M613.9 427.5h0M615.2 318.8h0M628.2 366.9h0M613.0 325.4h0M628.0 420.0h0M613.2 404.3h0M637.6 383.0h0M616.7 318.5h0M620.4 373.2h0M613.3 403.0h0M613.8 378.2h0M618.4 392.0h0M614.2 422.7h0M617.9 362.9h0M616.6 401.3h0M643.6 416.4h0M645.0 404.3h0M616.7 387.8h0M612.5 309.7h0M619.4 375.7h0M615.5 340.1h0M612.3 382.5h0M616.8 367.0h0M616.3 377.6h0M617.2 417.8h0M613.2 321.9h0M617.0 389.9h0M618.2 428.2h0M616.4 375.9h0M616.0 366.2h0M616.0 415.9h0M615.7 344.5h0M617.5 365.0h0M614.7 378.1h0M617.9 417.3h0M612.3 387.9h0M619.3 340.1h0M619.6 429.4h0M619.4 406.8h0M618.0 422.4h0M612.9 394.6h0M612.8 392.7h0M614.2 349.8h0M618.5 374.3h0M613.1 366.4h0M616.4 401.4h0M617.0 413.5h0M613.9 400.8h0M615.3 380.6h0M612.6 354.3h0M616.2 347.8h0M615.6 357.7h0M618.3 427.5h0M613.5 415.4h0M617.2 429.9h0M613.8 406.2h0M616.2 398.8h0M618.3 409.0h0M615.1 311.1h0M616.0 432.3h0M614.3 310.4h0M616.0 387.9h0M616.7 436.1h0M616.4 330.2h0M617.7 398.9h0M615.1 342.7h0M613.5 409.3h0M615.1 381.1h0M617.3 370.7h0M613.4 311.0h0M619.5 406.5h0M613.2 335.0h0M618.2 406.6h0M619.2 411.4h0M619.6 417.1h0M618.1 390.1h0M617.5 339.3h0M627.4 438.0h0M618.1 435.2h0M633.6 431.1h0M623.5 437.3h0M622.4 431.1h0M616.2 436.2h0M633.6 434.2h0M611.5 435.4h0M627.1 430.0h0M625.9 437.4h0M624.1 438.6h0M627.2 437.7h0M625.4 432.3h0M614.4 436.2h0M624.5 432.4h0M617.5 434.2h0M624.7 438.6h0M634.8 436.9h0M626.0 436.0h0M636.1 436.2h0M627.9 435.8h0M632.9 436.9h0M626.5 438.0h0M633.3 438.6h0M613.8 432.5h0M624.0 432.9h0M611.1 433.4h0M617.1 435.5h0M629.8 430.2h0M623.2 307.3h0M617.1 307.2h0M622.2 307.4h0M613.8 307.2h0M614.1 307.4h0M625.3 307.2h0M616.0 307.2h0M619.6 307.7h0M617.5 307.8h0M618.8 307.7h0M621.5 307.3h0M618.3 307.2h0M626.3 307.4h0M619.8 307.2h0M614.7 307.4h0M636.7 307.2h0M644.8 307.2h0M651.7 307.2h0M654.5 307.2h0M665.1 307.2h0M670.2 307.2h0M694.6 307.2h0M731.7 307.2h0M773.0 307.2h0M673.6 309.7h0M678.7 327.0h0M678.7 347.7h0M660.3 371.9h0" stroke="#FF7F00" stroke-width="2.3" stroke-linecap="round" fill="none"/>
<path d="M616.3 401.2h0M636.1 355.7h0M621.5 364.9h0M613.5 404.6h0M634.0 396.9h0M633.8 416.0h0M616.5 403.7h0M613.4 314.3h0M625.0 308.9h0M635.9 382.7h0M616.6 330.8h0M639.7 406.3h0M613.2 353.3h0M626.1 423.6h0M627.6 319.3h0M613.0 381.8h0M626.7 338.2h0M630.3 314.5h0M648.5 399.3h0M649.9 342.7h0M673.6 375.4h0M678.7 387.2h0M685.6 396.1h0M678.7 412.1h0M685.6 410.7h0M656.8 433.7h0" stroke="#E41A1C" stroke-width="2.3" stroke-linecap="round" fill="none"/>
<path d="M634.1 384.7h0M613.1 345.9h0M641.3 309.3h0M613.6 342.6h0M614.3 418.3h0M618.8 419.8h0M630.0 355.3h0M617.9 435.0h0M633.6 377.7h0M641.1 358.0h0M634.9 389.6h0M634.5 414.7h0M616.4 375.6h0M619.2 369.8h0M633.0 409.7h0M613.5 326.3h0M618.4 321.2h0M614.0 324.6h0M615.6 408.8h0M624.9 385.7h0M621.0 410.3h0M634.0 433.8h0M647.8 400.2h0M651.1 407.5h0M685.6 356.0h0M673.6 428.0h0M651.7 423.4h0" stroke="#377EB8" stroke-width="2.3" stroke-linecap="round" fill="none"/>
<path d="M633.2 406.3h0M626.9 382.1h0M620.7 427.3h0M615.8 349.6h0M628.5 316.1h0M615.7 361.2h0M614.0 385.8h0M623.9 377.4h0M613.6 335.0h0M613.0 387.8h0M630.9 336.3h0M637.2 426.1h0M632.2 328.8h0M627.7 348.2h0M616.9 388.4h0M616.9 408.3h0M613.5 366.1h0M614.6 354.5h0M628.5 372.9h0M633.5 315.7h0M616.7 316.0h0M627.3 397.5h0M613.0 325.3h0M621.6 325.5h0M648.4 414.9h0M645.9 412.1h0M685.6 419.9h0M651.7 399.1h0" stroke="#4DAF4A" stroke-width="2.3" stroke-linecap="round" fill="none"/>
<path d="M618.2 368.1h0M636.5 417.4h0M613.0 395.1h0M615.8 425.3h0M614.8 355.7h0M615.7 396.5h0M613.8 363.7h0M629.2 309.5h0M639.2 398.1h0M613.7 347.7h0M620.3 335.7h0M619.3 355.0h0M614.1 423.9h0M613.8 367.5h0M626.7 340.4h0M618.8 381.7h0M613.9 309.9h0M615.0 350.6h0M631.2 370.6h0M620.9 323.1h0M627.9 320.3h0M628.5 384.8h0M617.2 341.8h0M638.4 380.4h0M623.8 422.5h0M633.5 398.8h0M643.0 401.4h0M685.6 338.5h0M678.7 358.8h0M678.7 366.2h0M685.6 362.3h0M660.3 374.2h0M651.7 374.9h0" stroke="#984EA3" stroke-width="2.3" stroke-linecap="round" fill="none"/>
<path d="M626.6 400.4h0M636.6 433.4h0M620.0 357.9h0M623.2 366.2h0M620.6 350.5h0M625.2 369.1h0M613.7 406.6h0M625.5 412.1h0M613.5 374.3h0M624.4 365.8h0M614.2 337.4h0M624.8 414.4h0M613.9 377.0h0M621.0 376.8h0M629.9 379.1h0M619.6 365.0h0M616.5 415.0h0M631.9 343.4h0M627.7 313.1h0M633.4 388.3h0M617.1 414.8h0M622.3 423.1h0M621.8 347.1h0M617.9 374.4h0M614.5 391.7h0M635.5 430.6h0M615.1 313.7h0M615.3 421.9h0M626.5 422.5h0M619.9 364.4h0M626.3 337.5h0M626.3 383.7h0M617.9 309.1h0M626.0 308.8h0M636.7 394.4h0M637.3 420.7h0M615.3 371.5h0M613.7 410.7h0M632.2 420.1h0M649.1 432.9h0M640.6 402.7h0M650.1 385.8h0M649.4 396.2h0M652.2 407.1h0M613.4 371.1h0M619.0 339.8h0M618.7 366.1h0M616.7 384.7h0M612.6 421.1h0M619.6 421.5h0M616.9 403.7h0M617.2 331.9h0M618.5 329.9h0M618.9 357.0h0M615.3 421.6h0M617.4 330.2h0M619.4 399.1h0M612.2 324.3h0M612.3 343.3h0M616.0 326.2h0M612.7 385.0h0M617.1 354.8h0M613.5 355.2h0M613.3 427.6h0M614.0 384.0h0M616.0 434.7h0M617.9 309.1h0M614.3 341.0h0M613.5 334.5h0M615.1 367.7h0M614.3 376.1h0M615.3 418.0h0M615.2 385.7h0M615.5 361.9h0M613.1 374.2h0M615.3 372.2h0M615.0 385.8h0M619.5 325.3h0M614.3 394.9h0M614.4 310.4h0M616.4 375.7h0M615.9 346.8h0M616.5 382.2h0M619.7 315.4h0M618.5 347.5h0M619.7 355.9h0M617.5 397.7h0M613.1 424.1h0M618.4 315.1h0M619.5 329.6h0M615.6 365.5h0M615.9 377.0h0M615.4 315.1h0M618.8 336.4h0M617.2 404.1h0M618.4 387.2h0M630.3 437.2h0M621.9 434.7h0M611.0 438.3h0M613.5 436.0h0M618.3 437.7h0M620.3 434.5h0M638.4 435.2h0M611.9 434.9h0M610.6 433.5h0M636.0 433.2h0M635.3 437.8h0M613.0 438.3h0M632.9 436.3h0M625.8 438.5h0M631.5 433.9h0M624.4 437.8h0M613.8 434.2h0M629.8 435.2h0M635.9 438.3h0M619.2 438.6h0M616.4 438.5h0M619.0 435.0h0M620.7 438.6h0M635.4 438.6h0M634.1 437.3h0M609.5 433.3h0M610.5 437.2h0M628.9 438.6h0M611.7 436.4h0M613.4 438.6h0M623.0 437.4h0M629.3 437.0h0M616.4 435.1h0M613.5 438.6h0M630.2 438.4h0M612.3 438.3h0M610.3 436.6h0M610.0 436.7h0M623.2 437.6h0M617.2 432.6h0M614.1 435.0h0M615.9 437.2h0M623.3 429.9h0M630.3 431.7h0M633.5 438.5h0M620.0 436.5h0M612.3 435.1h0M609.9 438.4h0M623.1 437.3h0M619.3 432.8h0M625.6 436.0h0M614.3 438.2h0M609.2 434.3h0M619.8 431.8h0M619.1 307.2h0M618.3 307.2h0M624.8 307.7h0M622.5 307.2h0M711.0 307.2h0M756.2 307.2h0M663.7 315.0h0M685.6 332.3h0M663.7 437.2h0M656.8 437.9h0M641.4 326.5h0" stroke="#FF7F00" stroke-width="2.3" stroke-linecap="round" fill="none"/>
<path d="M618.6 382.9h0M616.5 428.2h0M626.6 323.2h0M613.1 369.8h0M627.1 421.0h0M634.5 405.8h0M613.2 401.4h0M617.6 323.3h0M620.9 341.1h0M628.4 357.8h0M613.0 399.9h0M618.3 406.0h0M614.1 410.6h0M618.4 362.7h0M637.7 373.9h0M636.5 351.1h0M625.3 404.6h0M614.2 408.9h0M625.0 333.3h0M618.2 365.7h0M622.7 378.2h0M613.0 415.1h0M631.8 402.2h0M636.9 399.4h0M618.9 343.8h0M625.7 310.4h0M618.0 422.9h0M632.0 395.0h0M635.4 414.2h0M655.6 343.8h0M651.7 391.1h0" stroke="#E41A1C" stroke-width="2.3" stroke-linecap="round" fill="none"/>
<path d="M626.3 330.7h0M619.9 382.4h0M614.9 361.4h0M618.9 383.2h0M634.4 341.0h0M624.3 368.3h0M633.9 344.4h0M613.1 430.6h0M615.3 385.1h0M619.1 338.3h0M613.8 378.8h0M628.3 358.2h0M616.5 335.2h0M631.5 317.4h0M621.3 415.1h0M663.7 317.3h0M685.6 413.4h0" stroke="#377EB8" stroke-width="2.3" stroke-linecap="round" fill="none"/>
<path d="M632.4 394.9h0M613.2 366.3h0M620.0 407.4h0M614.9 368.8h0M639.3 419.8h0M623.4 410.1h0M628.3 431.7h0M613.1 410.5h0M621.5 318.6h0M613.1 390.2h0M613.6 396.9h0M615.1 421.9h0M635.6 312.1h0M614.7 364.4h0M623.5 370.4h0M613.7 315.2h0M616.8 381.1h0M634.1 373.8h0M632.9 337.4h0M626.1 367.7h0M613.0 404.9h0M628.6 368.9h0M614.8 417.4h0M623.9 371.1h0M639.6 339.3h0M637.2 354.4h0M639.7 359.9h0M649.7 434.1h0M640.2 431.3h0M629.1 430.2h0M678.7 356.0h0M649.9 416.9h0M641.4 330.0h0" stroke="#4DAF4A" stroke-width="2.3" stroke-linecap="round" fill="none"/>
<path d="M629.0 429.4h0M620.8 312.5h0M621.1 346.1h0M615.6 370.5h0M620.4 391.2h0M625.8 320.2h0M613.0 418.4h0M628.8 431.6h0M614.8 320.7h0M613.1 404.5h0M619.3 330.2h0M625.4 387.9h0M626.2 380.6h0M629.3 427.6h0M618.1 367.6h0M613.5 409.0h0M613.5 310.2h0M632.0 342.7h0M638.4 317.9h0M622.8 326.1h0M614.5 393.3h0M614.8 317.6h0M618.1 371.5h0M632.1 383.2h0M620.8 335.5h0M636.2 349.4h0M624.4 399.0h0M614.6 352.0h0M621.5 423.9h0M625.2 392.5h0M630.4 422.3h0M681.0 308.8h0M685.6 364.6h0M685.6 431.9h0M663.7 433.7h0" stroke="#984EA3" stroke-width="2.3" stroke-linecap="round" fill="none"/>
<path d="M616.4 427.0h0M626.5 328.4h0M629.3 428.7h0M620.5 366.4h0M623.4 387.0h0M614.7 418.5h0M614.0 324.9h0M635.2 361.0h0M630.8 332.2h0M622.3 314.6h0M619.5 356.4h0M613.0 390.8h0M625.1 337.7h0M613.7 379.3h0M613.4 345.7h0M618.1 323.6h0M624.8 432.5h0M613.0 384.0h0M613.0 425.6h0M613.1 340.3h0M617.4 356.9h0M632.3 435.0h0M613.1 316.7h0M617.9 353.9h0M634.5 389.8h0M630.2 395.6h0M623.9 328.6h0M638.0 406.4h0M616.5 380.0h0M618.1 352.6h0M613.5 416.1h0M616.0 369.9h0M615.8 409.5h0M621.2 353.3h0M621.6 373.7h0M613.2 427.5h0M618.7 314.9h0M623.5 318.1h0M639.1 406.1h0M645.9 395.2h0M646.8 417.8h0M616.6 338.4h0M619.0 402.9h0M614.8 367.6h0M615.2 350.7h0M618.6 364.7h0M612.3 408.8h0M612.4 341.8h0M612.3 431.5h0M612.7 406.1h0M615.9 374.6h0M616.2 404.9h0M615.8 311.2h0M618.6 345.1h0M616.3 429.9h0M615.6 351.5h0M618.9 365.9h0M613.4 362.6h0M616.9 403.0h0M618.5 400.1h0M616.2 435.5h0M615.6 410.2h0M619.5 331.8h0M614.6 374.0h0M613.4 419.7h0M616.5 322.2h0M612.1 389.6h0M619.5 368.9h0M614.2 408.6h0M613.4 421.2h0M616.9 354.7h0M614.9 395.6h0M618.9 346.4h0M617.4 336.2h0M612.7 313.9h0M613.6 326.2h0M617.3 387.2h0M613.1 397.9h0M616.4 427.5h0M613.0 398.5h0M617.5 435.5h0M612.6 425.8h0M612.4 348.7h0M614.1 344.7h0M615.6 314.4h0M612.5 410.6h0M614.5 397.6h0M615.5 379.7h0M614.9 338.5h0M613.1 364.5h0M614.9 418.8h0M616.1 413.3h0M617.1 341.4h0M612.5 366.7h0M617.9 405.9h0M615.9 348.5h0M616.2 422.9h0M617.6 430.6h0M613.2 434.6h0M617.8 432.9h0M611.1 432.8h0M638.5 438.0h0M630.8 436.4h0M630.5 433.8h0M625.3 436.8h0M615.7 435.2h0M612.8 434.7h0M622.2 438.3h0M632.4 437.9h0M609.8 435.9h0M620.7 437.4h0M629.0 436.6h0M610.0 436.1h0M629.5 438.4h0M636.5 434.5h0M620.7 435.3h0M617.2 432.5h0M611.7 437.4h0M609.9 436.3h0M613.1 435.8h0M627.8 434.1h0M625.9 437.7h0M613.6 435.1h0M613.1 436.0h0M609.2 437.6h0M627.5 307.5h0M615.1 307.2h0M615.1 307.2h0M619.2 307.2h0M621.5 307.2h0M626.2 307.2h0M615.8 307.7h0M632.1 307.2h0M649.9 313.1h0M685.6 359.9h0M673.6 437.9h0M685.6 438.3h0M663.7 430.3h0M642.5 373.8h0" stroke="#FF7F00" stroke-width="2.3" stroke-linecap="round" fill="none"/>
<text x="49.2" y="444.55" font-size="16.6" text-anchor="end" fill="#4D4D4D">0.00</text>
<text x="49.2" y="411.77" font-size="16.6" text-anchor="end" fill="#4D4D4D">0.25</text>
<text x="49.2" y="379" font-size="16.6" text-anchor="end" fill="#4D4D4D">0.50</text>
<text x="49.2" y="346.23" font-size="16.6" text-anchor="end" fill="#4D4D4D">0.75</text>
<text x="49.2" y="313.45" font-size="16.6" text-anchor="end" fill="#4D4D4D">1.00</text>
<path d="M50.2 438.45H51.8M50.2 405.67H51.8M50.2 372.9H51.8M50.2 340.13H51.8M50.2 307.35H51.8" stroke="#888" stroke-width="0.8" fill="none"/>
<text x="14.3" y="372.9" font-size="17.7" text-anchor="middle" fill="#000" transform="rotate(-90 14.3 372.9)">Power</text>
<text x="416.7" y="490.5" font-size="17.7" text-anchor="middle" fill="#000">Overlap Prop</text>
<text x="319.5" y="511.2" font-size="17" fill="#000" font-family="Liberation Serif">τ</text>
<rect x="329.7" y="498.7" width="14.1" height="14" fill="#F0F0F0"/>
<circle cx="336.75" cy="505.7" r="0.85" fill="#666"/>
<text x="345.8" y="512.4" font-size="17" fill="#000">0.25</text>
<rect x="382.5" y="498.7" width="14.1" height="14" fill="#F0F0F0"/>
<circle cx="389.55" cy="505.7" r="0.85" fill="#666"/>
<text x="398.6" y="512.4" font-size="17" fill="#000">0.5</text>
<rect x="425" y="498.7" width="14.1" height="14" fill="#F0F0F0"/>
<circle cx="432.05" cy="505.7" r="0.85" fill="#666"/>
<text x="441.1" y="512.4" font-size="17" fill="#000">1</text>
<rect x="451.8" y="498.7" width="14.1" height="14" fill="#F0F0F0"/>
<circle cx="458.85" cy="505.7" r="0.85" fill="#666"/>
<text x="467.6" y="512.4" font-size="17" fill="#000">2</text>
<rect x="479" y="498.7" width="14.1" height="14" fill="#F0F0F0"/>
<circle cx="486.05" cy="505.7" r="0.85" fill="#666"/>
<text x="495.3" y="512.4" font-size="17" fill="#000">10</text>
<text x="416.7" y="562" font-size="19.5" text-anchor="middle" fill="#000"><tspan font-family="Liberation Serif">π</tspan>=0.1</text>
<rect x="51.8" y="565.2" width="180.6" height="19.2" fill="#D9D9D9"/>
<text x="142.1" y="581.4" font-size="18" text-anchor="middle" fill="#1A1A1A">CAMERA</text>
<rect x="51.8" y="584.4" width="180.6" height="164.5" fill="#EBEBEB"/>
<path d="M51.8 722.73H232.4M51.8 685.34H232.4M51.8 647.96H232.4M51.8 610.57H232.4M80.53 584.4V748.9M121.58 584.4V748.9M162.62 584.4V748.9M203.67 584.4V748.9" stroke="#fff" stroke-opacity="0.75" stroke-width="0.9" fill="none"/>
<path d="M51.8 741.42H232.4M51.8 704.04H232.4M51.8 666.65H232.4M51.8 629.26H232.4M51.8 591.88H232.4M60.01 584.4V748.9M101.05 584.4V748.9M142.1 584.4V748.9M183.15 584.4V748.9M224.19 584.4V748.9" stroke="#fff" stroke-opacity="0.8" stroke-width="1.1" fill="none"/>
<path d="M60.01 748.9V750.7M101.05 748.9V750.7M142.1 748.9V750.7M183.15 748.9V750.7M224.19 748.9V750.7" stroke="#888" stroke-width="0.8" fill="none"/>
<text x="71.71" y="757.1" font-size="17.5" text-anchor="end" fill="#4D4D4D" transform="rotate(-60 71.71 757.1)">0.00</text>
<text x="112.75" y="757.1" font-size="17.5" text-anchor="end" fill="#4D4D4D" transform="rotate(-60 112.75 757.1)">0.05</text>
<text x="153.8" y="757.1" font-size="17.5" text-anchor="end" fill="#4D4D4D" transform="rotate(-60 153.8 757.1)">0.10</text>
<text x="194.85" y="757.1" font-size="17.5" text-anchor="end" fill="#4D4D4D" transform="rotate(-60 194.85 757.1)">0.15</text>
<text x="235.89" y="757.1" font-size="17.5" text-anchor="end" fill="#4D4D4D" transform="rotate(-60 235.89 757.1)">0.20</text>
<path d="M224.0 741.6h0" stroke="#E41A1C" stroke-width="2.3" stroke-linecap="round" fill="none"/>
<path d="M224.0 732.7h0M141.9 741.6h0M146.5 741.6h0M151.1 741.6h0M162.7 741.6h0M177.2 741.6h0" stroke="#377EB8" stroke-width="2.3" stroke-linecap="round" fill="none"/>
<path d="M162.7 614.2h0M162.7 627.3h0M177.2 597.4h0M177.2 599.0h0M114.3 669.5h0M146.5 681.5h0M151.1 681.5h0M141.9 691.9h0M146.5 694.7h0M151.1 696.3h0M134.3 723.5h0M141.9 726.3h0M162.7 724.7h0M134.3 732.7h0M108.0 741.6h0M114.3 741.6h0M118.9 741.6h0M123.5 740.8h0M123.5 741.6h0M126.2 741.6h0M128.6 741.6h0M134.3 741.6h0" stroke="#4DAF4A" stroke-width="2.3" stroke-linecap="round" fill="none"/>
<path d="M111.3 594.4h0M118.4 600.6h0M118.4 602.0h0M114.3 604.8h0M105.3 650.2h0M100.7 654.3h0M105.3 664.7h0M114.3 676.9h0M100.7 706.9h0M100.7 720.5h0M103.2 733.4h0M105.3 733.4h0M108.0 731.1h0M111.3 738.5h0M99.3 740.8h0M100.4 741.6h0M103.2 741.6h0M105.3 741.6h0M111.3 741.6h0" stroke="#984EA3" stroke-width="2.3" stroke-linecap="round" fill="none"/>
<path d="M93.5 591.7h0M94.7 591.7h0M95.8 591.7h0M97.0 591.7h0M98.1 591.7h0M99.3 591.7h0M100.4 591.7h0M103.9 591.7h0M107.3 591.7h0M110.8 591.7h0M114.3 591.7h0M118.9 591.7h0M123.5 591.7h0M125.8 591.7h0M128.1 591.7h0M134.3 591.7h0M141.9 591.7h0M146.5 591.7h0M151.1 591.7h0M162.7 591.7h0M177.2 591.7h0M224.0 591.7h0M95.3 600.6h0M100.7 607.7h0M92.8 611.2h0M95.3 632.2h0M97.0 671.2h0M95.3 701.1h0M93.7 738.5h0M60.1 741.6h0M60.8 741.6h0M61.6 741.6h0M62.4 741.6h0M63.2 741.6h0M64.0 741.6h0M64.7 741.6h0M65.5 741.6h0M66.3 741.6h0M67.1 741.6h0M67.8 741.6h0M68.6 741.6h0M69.4 741.6h0M70.2 741.6h0M70.9 741.6h0M71.7 741.6h0M72.5 741.6h0M73.3 741.6h0M74.0 741.6h0M74.8 741.6h0M75.6 741.6h0M76.4 741.6h0M77.2 741.6h0M77.9 741.6h0M78.7 741.6h0M79.5 741.6h0M80.3 741.6h0M81.0 741.6h0M81.8 741.6h0M82.6 741.6h0M83.4 741.6h0M84.1 741.6h0M84.9 741.6h0M85.7 741.6h0M86.5 741.6h0M87.2 741.6h0M88.0 741.6h0M88.8 741.6h0M89.6 741.6h0M90.4 741.6h0M91.1 741.6h0M91.9 741.6h0M92.7 741.6h0M93.5 741.6h0M94.2 741.6h0M95.0 741.6h0M95.8 741.6h0M96.6 741.6h0M97.3 741.6h0M98.1 741.6h0" stroke="#FF7F00" stroke-width="2.3" stroke-linecap="round" fill="none"/>
<rect x="234.9" y="565.2" width="180.6" height="19.2" fill="#D9D9D9"/>
<text x="325.2" y="581.4" font-size="18" text-anchor="middle" fill="#1A1A1A">Comp GSEA-FDR</text>
<rect x="234.9" y="584.4" width="180.6" height="164.5" fill="#EBEBEB"/>
<path d="M234.9 722.73H415.5M234.9 685.34H415.5M234.9 647.96H415.5M234.9 610.57H415.5M263.63 584.4V748.9M304.68 584.4V748.9M345.72 584.4V748.9M386.77 584.4V748.9" stroke="#fff" stroke-opacity="0.75" stroke-width="0.9" fill="none"/>
<path d="M234.9 741.42H415.5M234.9 704.04H415.5M234.9 666.65H415.5M234.9 629.26H415.5M234.9 591.88H415.5M243.11 584.4V748.9M284.15 584.4V748.9M325.2 584.4V748.9M366.25 584.4V748.9M407.29 584.4V748.9" stroke="#fff" stroke-opacity="0.8" stroke-width="1.1" fill="none"/>
<path d="M243.11 748.9V750.7M284.15 748.9V750.7M325.2 748.9V750.7M366.25 748.9V750.7M407.29 748.9V750.7" stroke="#888" stroke-width="0.8" fill="none"/>
<text x="254.81" y="757.1" font-size="17.5" text-anchor="end" fill="#4D4D4D" transform="rotate(-60 254.81 757.1)">0.00</text>
<text x="295.85" y="757.1" font-size="17.5" text-anchor="end" fill="#4D4D4D" transform="rotate(-60 295.85 757.1)">0.05</text>
<text x="336.9" y="757.1" font-size="17.5" text-anchor="end" fill="#4D4D4D" transform="rotate(-60 336.9 757.1)">0.10</text>
<text x="377.95" y="757.1" font-size="17.5" text-anchor="end" fill="#4D4D4D" transform="rotate(-60 377.95 757.1)">0.15</text>
<text x="418.99" y="757.1" font-size="17.5" text-anchor="end" fill="#4D4D4D" transform="rotate(-60 418.99 757.1)">0.20</text>
<path d="M297.3 738.4h0M287.8 741.6h0M289.5 737.4h0M300.4 741.6h0M280.6 736.9h0M297.1 740.7h0M261.9 738.2h0M289.4 737.4h0M282.5 739.7h0M301.4 741.5h0M273.8 739.2h0M267.4 737.9h0M298.6 739.9h0M259.3 741.6h0M292.0 741.3h0M274.6 741.4h0M264.1 740.1h0M298.2 738.1h0M295.4 741.6h0M281.8 738.9h0M264.8 733.8h0M261.6 739.0h0M254.1 737.0h0M260.5 733.5h0M262.4 739.8h0M267.3 739.6h0M265.3 733.9h0M268.4 739.7h0M281.1 717.7h0M309.2 711.5h0M334.1 688.9h0M293.8 728.8h0M311.1 735.0h0M301.4 735.0h0M345.7 733.9h0M345.7 737.3h0M345.7 740.8h0M317.3 741.6h0M293.8 741.6h0M297.3 738.5h0" stroke="#E41A1C" stroke-width="2.3" stroke-linecap="round" fill="none"/>
<path d="M260.9 741.6h0M271.1 736.8h0M257.7 736.3h0M255.0 727.5h0M275.6 741.6h0M254.0 735.8h0M255.9 730.9h0M279.1 726.7h0M283.3 735.0h0M269.6 737.0h0M246.2 727.6h0M267.8 728.9h0M271.6 738.1h0M255.4 731.4h0M283.2 729.5h0M259.1 741.6h0M283.3 741.2h0M246.2 733.4h0M282.5 741.6h0M280.8 728.6h0M244.9 741.6h0M256.8 740.1h0M253.2 741.2h0M283.3 739.1h0M285.4 736.4h0M257.4 727.7h0M271.1 738.9h0M259.7 736.2h0M244.6 726.9h0M263.1 729.5h0M277.0 734.0h0M273.3 738.2h0M281.1 733.9h0M282.7 732.1h0M259.8 741.6h0M251.1 739.3h0M244.9 738.4h0M279.3 730.4h0M276.1 741.6h0M278.4 733.4h0M248.6 741.2h0M266.4 736.7h0M254.0 739.6h0M273.2 741.0h0M259.4 740.3h0M247.9 741.6h0M255.5 741.6h0M260.2 739.3h0M272.3 741.6h0M259.9 739.8h0M253.5 739.8h0M245.3 731.8h0M263.4 740.0h0M260.8 729.9h0M265.4 738.8h0M259.8 734.8h0M256.8 731.4h0M270.9 737.5h0M254.6 731.9h0M249.4 726.8h0M249.1 737.9h0M260.6 730.3h0M283.5 733.5h0M263.1 730.7h0M251.7 730.9h0M262.8 738.4h0M247.5 735.8h0M253.7 741.1h0M273.7 741.6h0M261.1 740.4h0M269.3 728.9h0M284.8 735.0h0M245.4 731.9h0M253.0 728.9h0M251.2 736.7h0M271.2 737.0h0M252.0 741.6h0M285.5 736.5h0M281.2 734.5h0M284.3 729.4h0M256.0 741.5h0M245.4 740.5h0M244.6 737.9h0M268.4 741.6h0M261.9 740.1h0M270.9 728.5h0M287.7 737.1h0M264.0 729.0h0M257.7 740.4h0M247.4 732.4h0M285.1 741.0h0M267.4 731.9h0M245.1 732.0h0M271.8 728.0h0M285.2 740.4h0M266.1 733.0h0M255.7 733.5h0M258.0 739.3h0M275.1 730.5h0M258.9 728.6h0M282.7 727.1h0M262.5 729.8h0M281.1 730.3h0M264.7 741.6h0M274.2 737.1h0M274.2 739.8h0M280.6 725.8h0M283.8 732.0h0M282.2 738.1h0M273.9 735.1h0M268.3 735.9h0M251.3 738.5h0M247.8 740.1h0M280.8 735.4h0M266.0 738.4h0M280.8 741.6h0M269.1 738.1h0M246.6 734.9h0M249.8 732.4h0M245.9 734.5h0M258.0 741.6h0M256.2 730.9h0M271.8 741.6h0M257.0 740.8h0M274.3 731.5h0M267.6 731.5h0M273.4 716.9h0M265.8 727.8h0M277.6 718.9h0M282.7 718.1h0M285.0 720.0h0M272.0 721.6h0M275.0 722.9h0M274.8 726.6h0M270.0 718.3h0M265.7 720.9h0M270.4 719.6h0M258.1 717.0h0M274.0 723.7h0M283.6 726.6h0M282.3 703.9h0M293.8 703.9h0M301.4 705.1h0M311.1 705.1h0M317.3 701.1h0M271.9 706.9h0M278.8 713.1h0M297.3 716.6h0M301.4 715.4h0M317.3 716.6h0M317.3 720.0h0M324.9 718.9h0M334.1 723.7h0M345.7 721.9h0M360.2 713.1h0M360.2 721.9h0M311.1 657.8h0M309.9 657.3h0M306.0 683.6h0M276.5 720.0h0M283.4 721.2h0M311.1 731.6h0" stroke="#377EB8" stroke-width="2.3" stroke-linecap="round" fill="none"/>
<path d="M259.5 694.3h0M264.7 687.0h0M245.3 728.0h0M245.8 737.4h0M242.9 735.1h0M255.8 708.5h0M283.9 677.6h0M253.1 714.2h0M253.4 692.2h0M277.2 677.0h0M243.8 719.2h0M251.7 724.2h0M280.6 677.7h0M242.9 730.8h0M255.0 722.3h0M242.9 737.9h0M259.6 692.5h0M249.9 708.9h0M258.4 704.4h0M249.1 705.8h0M256.5 704.5h0M242.9 721.9h0M244.3 732.3h0M258.5 692.8h0M249.2 708.4h0M253.9 706.1h0M254.5 697.3h0M252.3 704.9h0M249.1 730.4h0M244.5 723.2h0M267.0 686.3h0M262.7 691.7h0M267.5 687.5h0M258.1 701.8h0M242.9 734.9h0M251.8 721.7h0M265.6 696.5h0M260.0 699.6h0M252.7 701.3h0M249.4 707.0h0M253.8 706.3h0M254.0 701.9h0M282.3 677.8h0M242.9 731.8h0M249.6 722.7h0M254.9 696.4h0M245.3 714.4h0M268.2 685.7h0M248.5 708.9h0M247.9 716.9h0M285.5 681.2h0M251.4 701.9h0M283.8 678.0h0M258.7 692.4h0M255.6 701.6h0M286.0 676.9h0M262.7 690.5h0M243.8 727.9h0M265.8 688.8h0M249.5 716.5h0M267.4 681.5h0M242.9 741.6h0M263.6 695.3h0M286.3 675.4h0M271.4 677.9h0M267.3 685.5h0M242.9 730.6h0M242.9 739.2h0M247.8 723.2h0M252.1 698.5h0M261.2 699.4h0M266.4 686.2h0M248.7 702.7h0M250.2 717.9h0M247.0 737.5h0M246.7 735.1h0M274.7 690.8h0M263.3 686.0h0M246.5 715.9h0M242.9 726.8h0M271.6 684.4h0M251.1 724.3h0M269.1 686.0h0M254.8 698.2h0M255.3 699.7h0M256.6 698.4h0M242.9 735.2h0M246.5 726.3h0M248.7 712.1h0M250.6 704.9h0M248.6 729.9h0M244.6 719.9h0M243.4 727.4h0M264.4 695.7h0M276.9 684.9h0M244.6 726.5h0M270.5 688.0h0M246.3 724.6h0M279.8 682.6h0M244.3 718.5h0M255.5 698.1h0M244.4 732.8h0M260.3 703.4h0M260.8 692.0h0M261.5 688.2h0M250.6 707.5h0M278.6 684.3h0M242.9 732.4h0M244.4 724.0h0M248.0 711.9h0M254.9 714.0h0M242.9 738.2h0M280.9 682.1h0M256.3 704.2h0M255.7 693.5h0M276.2 687.7h0M242.9 722.4h0M247.1 711.9h0M249.2 713.4h0M268.7 686.1h0M277.5 681.2h0M263.3 691.0h0M244.7 729.2h0M268.5 685.8h0M251.3 707.0h0M248.9 717.9h0M280.4 678.6h0M245.6 720.3h0M246.9 721.6h0M258.3 735.2h0M248.1 721.8h0M259.7 722.2h0M256.9 722.6h0M249.5 722.2h0M257.2 738.0h0M249.4 727.9h0M260.3 720.2h0M255.8 736.8h0M254.1 726.1h0M251.7 715.7h0M257.7 721.5h0M253.9 732.3h0M258.5 730.1h0M254.3 715.2h0M255.8 714.9h0M246.9 727.8h0M260.0 718.6h0M248.8 732.7h0M257.1 738.2h0M251.3 734.8h0M255.9 716.3h0M250.3 717.3h0M247.6 729.9h0M244.4 727.2h0M249.6 730.9h0M277.7 654.3h0M278.8 667.0h0M301.4 660.1h0M297.3 671.6h0M306.0 655.5h0M311.1 655.5h0M317.3 660.1h0M324.9 665.9h0M324.9 669.3h0M288.7 671.2h0M297.3 679.7h0M329.5 623.2h0M334.1 683.1h0M360.2 683.1h0M407.0 715.9h0M288.7 636.3h0M306.0 626.0h0M309.2 614.0h0M283.4 673.9h0M276.5 671.6h0" stroke="#4DAF4A" stroke-width="2.3" stroke-linecap="round" fill="none"/>
<path d="M269.6 604.3h0M277.7 599.7h0M278.3 602.4h0M291.0 604.8h0M294.3 600.6h0M297.3 614.0h0M297.3 616.3h0M297.3 618.6h0M306.0 600.6h0M311.1 605.9h0M317.3 601.3h0M317.3 614.0h0M324.9 609.4h0M324.9 618.6h0M329.5 594.4h0M345.7 611.2h0M360.2 626.0h0M297.3 607.1h0M285.7 614.0h0M281.1 609.4h0M283.4 620.9h0M246.0 714.1h0M248.1 685.6h0M245.3 723.9h0M246.3 694.4h0M247.8 701.9h0M245.6 715.7h0M242.9 736.6h0M243.3 722.9h0M248.0 694.4h0M244.4 724.5h0M249.9 677.7h0M248.8 675.1h0M246.9 692.8h0M251.6 677.5h0M244.8 703.1h0M244.7 701.4h0M247.8 685.1h0M245.5 720.5h0M247.9 681.7h0M245.3 717.8h0M245.4 717.4h0M242.9 732.9h0M244.3 739.7h0M245.9 716.3h0M245.9 718.7h0M246.1 725.3h0M244.1 736.1h0M244.7 726.6h0M246.3 720.1h0M247.0 708.0h0M246.2 690.2h0M245.2 728.8h0M243.9 722.8h0M249.7 688.3h0M248.6 685.5h0M245.9 707.8h0M245.2 733.3h0M246.7 686.8h0M245.5 713.1h0M246.9 702.9h0M249.2 680.8h0M247.0 720.0h0M251.4 674.8h0M252.1 674.3h0M247.4 700.6h0M249.0 676.3h0M246.2 715.1h0M250.8 675.2h0M244.7 728.6h0M248.4 694.4h0M243.5 736.2h0M249.7 679.9h0M247.5 699.7h0M245.8 738.7h0M242.9 739.9h0M247.3 726.8h0M250.3 676.4h0M248.8 687.5h0M244.6 726.7h0M243.7 730.1h0M245.2 738.6h0M247.2 702.1h0M246.6 698.2h0M242.9 741.6h0M243.7 738.7h0M246.0 711.1h0M243.9 735.1h0M246.0 700.0h0M244.1 731.5h0M248.5 722.6h0M244.4 722.7h0M246.4 741.6h0M247.2 692.9h0M244.3 736.2h0M269.7 628.8h0M262.8 638.2h0M273.0 620.5h0M267.4 624.4h0M261.7 641.3h0M267.7 628.5h0M284.3 608.4h0M273.6 618.4h0M280.9 616.2h0M264.9 637.7h0M265.6 632.4h0M278.4 621.0h0M255.5 657.4h0M277.6 617.9h0M261.0 644.1h0M265.4 626.9h0M257.6 639.1h0M253.5 666.7h0M282.5 610.9h0M254.7 662.5h0M261.3 640.2h0M259.2 648.6h0M265.4 631.7h0M277.0 618.0h0M273.9 619.7h0M268.2 619.0h0M263.8 637.9h0M250.2 671.9h0M252.4 666.5h0M253.3 673.8h0M257.5 650.4h0M254.4 664.1h0M255.4 655.0h0M264.0 632.2h0M264.1 628.0h0M275.8 615.0h0M267.5 625.9h0M255.3 655.0h0M261.5 645.3h0M254.7 659.5h0M265.6 637.9h0M268.1 625.4h0M259.0 635.9h0M254.8 664.8h0M252.6 671.9h0M260.8 638.1h0M275.3 619.3h0M257.5 650.1h0M281.8 613.8h0M259.6 648.9h0M257.4 661.7h0M255.0 676.2h0M263.8 630.0h0M283.0 615.7h0M255.5 668.0h0M255.1 670.2h0M274.8 619.2h0M250.2 670.2h0M273.1 619.0h0M273.5 618.9h0M271.4 627.8h0M264.1 632.5h0M263.2 641.9h0M256.4 661.5h0M254.2 665.8h0M258.6 659.8h0M272.3 624.8h0M276.0 614.7h0M251.1 664.5h0M257.2 647.5h0M282.9 609.5h0M271.8 617.9h0M263.3 628.8h0M252.1 663.1h0M250.9 666.5h0M253.9 669.8h0M258.8 661.4h0M260.3 646.3h0M266.3 625.2h0M252.1 674.2h0M254.9 662.1h0M258.0 645.9h0M258.4 647.5h0M272.8 622.9h0M254.2 647.5h0M255.1 666.0h0M251.1 657.9h0M251.4 661.7h0M252.9 670.6h0M270.8 613.4h0M252.1 668.1h0M266.6 629.0h0M255.7 668.9h0M257.8 642.4h0M266.0 626.4h0M259.3 657.4h0M251.2 671.3h0M282.3 608.0h0M260.8 648.9h0M263.4 634.2h0M258.4 666.8h0M259.6 649.6h0M250.7 668.2h0M277.4 611.9h0M279.5 616.6h0M267.3 629.3h0M258.1 651.4h0M273.7 615.3h0M255.5 667.3h0M262.7 635.2h0M267.6 632.0h0M257.4 655.8h0M250.1 671.7h0M255.1 652.8h0M260.5 648.2h0M260.3 644.2h0M254.7 644.2h0M268.5 625.0h0M273.5 621.5h0M259.5 631.7h0M259.2 657.2h0M258.6 640.5h0M264.3 635.1h0M255.4 661.5h0M255.2 654.2h0M249.7 671.2h0M279.2 618.1h0M256.6 671.6h0M257.8 670.0h0M283.9 616.8h0M270.3 627.5h0M260.2 642.8h0M287.0 604.2h0M257.8 659.8h0M279.7 612.1h0M260.8 640.8h0M255.4 669.0h0M264.9 638.4h0M258.5 648.4h0M255.0 653.7h0M262.1 647.4h0M256.5 660.2h0M281.1 618.2h0M256.3 664.0h0M270.1 620.3h0M258.9 642.7h0M256.9 650.2h0M250.5 672.2h0M267.3 623.5h0M262.2 634.5h0M256.3 658.4h0M264.8 630.2h0M286.8 610.1h0M271.0 621.4h0M268.4 628.4h0M258.5 648.1h0M257.6 651.0h0M283.2 611.6h0M266.7 628.8h0M254.6 664.9h0M258.8 635.2h0M260.4 644.7h0M279.0 612.7h0M254.9 664.9h0M279.5 612.7h0M271.8 603.4h0M267.6 617.6h0M278.2 605.6h0M273.2 619.5h0M286.5 605.0h0M288.9 603.1h0M274.3 602.2h0" stroke="#984EA3" stroke-width="2.3" stroke-linecap="round" fill="none"/>
<path d="M242.9 731.1h0M243.1 719.4h0M245.0 679.4h0M244.2 717.0h0M244.3 735.5h0M244.5 732.0h0M245.5 674.6h0M247.0 670.4h0M244.0 705.7h0M245.5 669.5h0M246.2 670.6h0M246.5 698.0h0M246.6 688.0h0M245.1 702.2h0M247.9 667.0h0M244.4 729.6h0M248.3 666.6h0M244.5 696.0h0M245.1 694.8h0M247.2 656.6h0M243.0 706.4h0M246.9 655.5h0M244.9 730.8h0M247.4 665.5h0M244.8 663.3h0M246.5 688.0h0M245.9 681.6h0M243.7 719.5h0M245.7 720.1h0M244.4 713.3h0M245.5 674.0h0M246.5 687.2h0M244.0 684.6h0M247.7 664.6h0M245.7 661.7h0M244.9 717.3h0M242.9 735.5h0M245.4 717.6h0M245.2 739.6h0M243.6 719.1h0M245.9 675.3h0M245.7 654.4h0M245.2 719.1h0M246.0 667.3h0M244.1 696.3h0M247.7 664.0h0M244.5 687.8h0M245.3 738.0h0M246.2 685.4h0M245.5 675.4h0M246.1 712.6h0M245.3 678.6h0M244.2 731.9h0M243.2 719.2h0M244.8 736.7h0M249.0 654.2h0M243.8 724.9h0M245.8 662.3h0M242.9 716.7h0M246.8 686.0h0M244.9 677.8h0M246.9 676.3h0M246.6 663.9h0M245.4 702.2h0M245.8 698.0h0M245.3 672.9h0M245.6 719.0h0M243.5 726.5h0M248.3 667.5h0M242.9 734.0h0M244.3 714.5h0M245.6 661.3h0M242.9 716.2h0M244.3 710.9h0M244.5 739.4h0M247.2 680.6h0M244.7 716.4h0M244.5 729.7h0M247.3 664.5h0M246.6 683.1h0M246.4 678.8h0M245.3 687.3h0M249.4 659.1h0M248.2 665.9h0M246.9 655.4h0M245.1 713.3h0M244.1 721.9h0M244.5 701.8h0M243.8 735.5h0M245.7 680.1h0M244.9 691.8h0M244.4 700.9h0M246.4 664.7h0M248.2 660.1h0M244.0 698.3h0M245.9 663.0h0M248.6 653.5h0M245.5 730.6h0M244.2 715.7h0M245.8 688.3h0M242.9 733.9h0M243.5 709.0h0M242.9 730.3h0M247.3 656.9h0M244.2 700.9h0M245.1 711.6h0M244.5 682.5h0M246.4 658.6h0M247.4 664.6h0M244.0 731.4h0M243.9 715.5h0M245.9 703.2h0M245.7 718.9h0M245.0 689.3h0M245.8 698.9h0M242.9 722.2h0M244.1 694.9h0M246.6 688.0h0M244.6 704.4h0M244.3 708.6h0M246.1 675.3h0M244.8 724.1h0M246.0 681.6h0M245.2 651.7h0M249.1 621.5h0M251.5 613.6h0M249.4 625.3h0M252.1 610.0h0M249.2 627.1h0M260.2 594.6h0M250.3 616.9h0M252.9 603.6h0M249.7 619.2h0M249.0 635.7h0M254.0 613.6h0M253.4 609.7h0M251.7 622.7h0M250.2 616.5h0M250.6 614.9h0M245.6 647.6h0M250.3 648.5h0M252.7 602.0h0M248.8 624.0h0M247.7 648.2h0M251.1 612.1h0M251.1 615.6h0M252.5 614.9h0M249.6 649.2h0M251.7 612.4h0M249.1 616.3h0M250.9 629.8h0M247.8 649.4h0M264.3 597.2h0M249.3 632.9h0M247.2 645.5h0M247.6 630.3h0M257.0 601.3h0M244.8 638.3h0M248.9 641.6h0M248.6 636.3h0M246.4 634.7h0M248.7 642.4h0M248.9 639.8h0M248.7 629.3h0M245.6 651.1h0M251.3 618.3h0M258.3 598.5h0M251.7 617.1h0M259.1 596.4h0M254.4 604.7h0M253.1 605.7h0M247.5 652.8h0M262.6 594.6h0M252.7 605.2h0M262.2 594.0h0M247.2 648.5h0M246.7 645.7h0M245.3 645.4h0M257.3 597.2h0M251.8 618.7h0M249.2 630.3h0M255.5 599.6h0M252.8 609.7h0M249.5 622.5h0M248.1 638.8h0M255.1 603.2h0M244.4 644.3h0M249.1 626.0h0M250.0 602.7h0M249.5 622.3h0M247.9 645.3h0M255.8 601.1h0M259.9 594.9h0M252.1 612.7h0M249.5 627.2h0M249.2 618.9h0M248.7 639.0h0M248.7 653.3h0M257.1 598.7h0M252.2 611.9h0M254.5 602.7h0M249.3 619.4h0M247.2 652.1h0M250.9 621.0h0M261.1 594.6h0M250.6 620.6h0M252.2 607.1h0M249.1 632.2h0M254.3 603.8h0M247.5 649.2h0M251.3 612.8h0M247.6 640.6h0M251.7 606.7h0M249.3 638.2h0M251.4 612.8h0M252.9 604.2h0M263.1 593.6h0M252.8 611.2h0M259.9 594.5h0M254.4 602.0h0M252.0 613.1h0M254.1 598.3h0M251.6 604.9h0M247.8 644.8h0M248.2 632.1h0M251.4 618.2h0M248.2 644.6h0M262.7 594.7h0M249.0 640.8h0M249.8 627.8h0M250.2 614.9h0M249.1 640.8h0M254.1 605.3h0M262.0 594.7h0M260.7 594.4h0M253.3 612.2h0M249.7 607.9h0M252.2 612.7h0M248.1 618.0h0M254.8 602.5h0M246.3 650.9h0M250.3 625.8h0M255.6 600.0h0M251.4 637.4h0M250.7 621.9h0M253.6 602.5h0M256.3 601.2h0M254.5 606.8h0M247.7 639.9h0M247.3 625.2h0M244.3 652.3h0M248.3 641.5h0M248.9 634.5h0M251.0 615.7h0M247.5 645.4h0M252.4 609.9h0M249.6 644.2h0M258.8 596.6h0M251.8 623.2h0M250.2 620.0h0M249.3 624.5h0M260.7 595.3h0M247.0 636.2h0M249.7 617.1h0M252.9 618.9h0M249.7 613.4h0M248.3 643.8h0M256.5 601.8h0M248.7 645.2h0M248.5 630.2h0M253.9 608.1h0M250.1 630.3h0M247.8 644.3h0M247.4 620.8h0M246.5 629.9h0M247.4 646.2h0M248.0 651.7h0M250.6 621.8h0M248.6 621.8h0M250.6 615.9h0M245.0 650.9h0M248.9 643.2h0M285.7 593.8h0M264.9 593.9h0M272.9 592.3h0M280.6 591.7h0M273.8 592.0h0M278.2 592.5h0M281.0 591.7h0M285.4 591.7h0M281.5 592.2h0M287.5 592.1h0M273.5 592.7h0M287.6 591.7h0M273.4 592.2h0M264.1 592.9h0M286.5 591.8h0M277.2 592.6h0M262.9 592.6h0M277.6 591.9h0M270.5 592.0h0M286.3 592.0h0M265.9 592.2h0M287.0 591.9h0M264.4 591.7h0M272.6 592.1h0M287.6 591.7h0M266.6 592.5h0M264.6 593.3h0M275.2 591.8h0M264.4 593.0h0M273.7 592.8h0M274.5 591.7h0M269.4 592.1h0M266.0 593.3h0M267.8 592.0h0M287.8 592.0h0M280.1 591.7h0M275.6 592.0h0M267.2 591.7h0M272.3 592.8h0M281.7 592.2h0M286.0 591.7h0M264.2 592.0h0M266.9 593.4h0M275.3 591.7h0M276.3 591.9h0M273.9 592.1h0M275.5 593.0h0M264.0 592.8h0M264.1 594.1h0M279.7 591.7h0M279.9 591.7h0M272.1 592.0h0M271.5 591.7h0M288.6 592.8h0M293.8 592.3h0M297.3 592.3h0M301.9 592.8h0M308.8 593.2h0M329.5 592.3h0M334.1 592.3h0M345.7 594.1h0M360.2 594.4h0M360.2 597.4h0M407.0 597.4h0M281.1 592.8h0" stroke="#FF7F00" stroke-width="2.3" stroke-linecap="round" fill="none"/>
<path d="M280.4 739.2h0M298.2 741.1h0M280.4 738.7h0M291.0 736.9h0M270.0 738.5h0M289.0 741.6h0M279.2 739.3h0M291.0 741.6h0M270.3 736.7h0M283.6 736.9h0M292.0 741.6h0M262.4 740.7h0M284.5 740.3h0M270.3 737.9h0M260.8 737.6h0M261.7 741.6h0M289.8 738.3h0M274.7 737.4h0M271.2 736.4h0M294.3 737.0h0M299.3 737.3h0M286.2 741.6h0M290.0 738.9h0M287.1 739.8h0M287.2 740.2h0M300.3 741.4h0M288.8 737.9h0M289.1 740.1h0M282.0 739.8h0M295.4 741.0h0M299.2 737.3h0M297.6 741.6h0M256.1 739.1h0M301.0 736.6h0M285.3 739.7h0M255.3 740.0h0M257.2 738.5h0M249.9 741.6h0M269.0 734.7h0M264.4 737.9h0M266.0 737.0h0M249.6 737.5h0M263.8 733.3h0M257.8 737.7h0M253.0 740.6h0M265.4 731.6h0M252.1 740.5h0M256.6 740.7h0M253.9 741.0h0M263.3 733.2h0M267.0 739.9h0M258.3 740.7h0M329.5 727.6h0M324.9 732.7h0M317.3 732.3h0M306.0 724.7h0M311.1 738.5h0M360.2 730.6h0M360.2 739.9h0M407.0 741.6h0M334.1 741.6h0M306.0 741.6h0" stroke="#E41A1C" stroke-width="2.3" stroke-linecap="round" fill="none"/>
<path d="M244.9 728.7h0M262.4 733.9h0M270.3 741.6h0M260.3 740.5h0M262.8 741.2h0M284.5 734.6h0M248.7 728.5h0M251.5 737.6h0M271.5 736.4h0M262.9 737.0h0M277.1 737.2h0M285.1 737.6h0M247.1 741.6h0M256.2 739.0h0M267.8 739.6h0M254.9 728.4h0M246.9 730.2h0M261.0 738.8h0M263.8 739.2h0M266.2 741.1h0M256.4 730.7h0M269.5 735.2h0M250.1 741.0h0M287.3 740.6h0M245.9 734.0h0M260.5 735.4h0M272.3 737.1h0M263.5 741.5h0M270.6 737.5h0M284.9 737.2h0M251.0 735.4h0M254.8 737.5h0M257.5 728.5h0M273.2 734.0h0M269.0 730.0h0M270.8 732.1h0M256.1 734.6h0M279.4 741.1h0M272.1 732.4h0M246.0 734.1h0M259.0 728.9h0M287.3 732.4h0M246.8 730.3h0M244.4 740.0h0M250.0 733.6h0M245.7 734.8h0M267.6 741.0h0M257.3 730.7h0M267.0 727.7h0M285.9 734.2h0M281.6 741.6h0M277.5 733.5h0M245.3 741.5h0M244.4 735.4h0M261.1 736.6h0M263.0 741.6h0M279.4 734.9h0M277.8 739.7h0M249.9 736.5h0M260.5 734.2h0M264.0 740.6h0M279.6 738.8h0M255.1 741.6h0M245.5 730.4h0M269.4 741.6h0M262.8 735.0h0M262.1 739.7h0M265.1 739.3h0M247.5 740.4h0M266.3 735.8h0M263.4 734.0h0M265.5 733.8h0M268.7 735.8h0M284.1 734.5h0M246.0 741.6h0M278.4 734.8h0M273.4 739.6h0M249.1 732.9h0M244.5 740.8h0M258.6 740.2h0M244.3 726.9h0M261.8 727.6h0M283.0 741.6h0M279.3 741.6h0M272.8 731.2h0M262.1 730.5h0M245.7 741.3h0M252.8 736.6h0M273.1 734.2h0M244.8 733.7h0M275.1 737.8h0M281.3 731.2h0M287.5 740.9h0M277.1 740.5h0M285.0 740.1h0M245.4 741.3h0M273.1 737.7h0M245.5 726.7h0M259.7 726.8h0M258.3 738.8h0M248.2 741.6h0M246.3 732.9h0M251.4 738.8h0M284.0 740.4h0M247.6 741.6h0M246.1 727.1h0M272.2 737.9h0M247.6 741.6h0M275.4 732.1h0M263.0 736.4h0M272.8 735.4h0M253.5 741.4h0M264.0 737.1h0M263.3 732.7h0M250.9 736.6h0M270.6 727.8h0M275.7 739.1h0M257.4 741.6h0M251.4 730.2h0M269.4 736.2h0M245.2 734.9h0M280.8 736.1h0M249.7 739.0h0M249.4 740.4h0M260.9 738.4h0M286.0 741.6h0M260.2 734.9h0M269.1 738.6h0M279.0 738.4h0M257.2 738.6h0M285.1 736.5h0M275.5 736.6h0M284.8 732.2h0M285.2 736.2h0M246.9 733.2h0M268.6 726.6h0M284.8 720.1h0M286.0 722.7h0M282.9 721.1h0M268.3 726.2h0M261.7 722.0h0M281.9 724.9h0M287.1 717.0h0M289.3 728.1h0M269.3 722.6h0M269.3 730.6h0M276.9 717.2h0M267.5 721.1h0M285.3 720.3h0M277.8 726.6h0M288.7 699.3h0M306.0 697.9h0M277.7 703.9h0M324.9 706.9h0M288.7 708.5h0M317.3 713.1h0M329.5 683.6h0M334.1 643.9h0M407.0 738.5h0M271.9 717.7h0M306.0 736.2h0" stroke="#377EB8" stroke-width="2.3" stroke-linecap="round" fill="none"/>
<path d="M276.4 676.8h0M245.7 736.8h0M245.8 741.5h0M247.5 705.8h0M277.5 685.5h0M253.7 703.3h0M243.3 724.0h0M285.5 680.5h0M265.2 685.8h0M255.7 712.2h0M247.7 709.3h0M246.9 718.9h0M249.1 702.1h0M282.0 670.8h0M258.0 686.6h0M269.8 685.3h0M259.6 700.7h0M271.9 682.3h0M249.6 737.4h0M257.7 691.7h0M277.7 675.5h0M268.4 681.3h0M265.5 687.8h0M260.4 691.8h0M263.6 686.0h0M288.0 676.1h0M248.8 709.5h0M245.5 716.2h0M251.4 723.1h0M256.7 697.1h0M250.2 711.1h0M247.0 721.0h0M251.4 725.0h0M276.9 682.0h0M248.0 721.3h0M277.6 673.8h0M255.8 700.0h0M243.3 731.1h0M251.1 716.7h0M258.3 699.7h0M245.6 725.0h0M255.7 697.0h0M244.3 735.0h0M258.9 691.2h0M267.9 690.5h0M273.9 687.0h0M250.1 702.9h0M254.9 707.6h0M262.9 692.2h0M246.3 735.1h0M243.2 724.7h0M243.4 736.0h0M248.7 714.8h0M272.0 681.8h0M257.0 703.3h0M259.0 699.8h0M255.1 701.5h0M245.8 717.2h0M250.6 712.2h0M249.5 718.0h0M275.4 686.5h0M243.4 740.4h0M251.3 731.3h0M244.3 723.6h0M248.3 740.8h0M271.3 685.1h0M250.8 693.8h0M242.9 734.0h0M248.1 716.0h0M245.1 723.1h0M265.1 688.4h0M257.5 702.9h0M271.7 683.7h0M272.2 681.2h0M242.9 722.8h0M265.3 692.9h0M252.2 710.7h0M264.3 689.5h0M264.5 689.2h0M280.7 674.5h0M267.5 680.4h0M249.5 712.8h0M245.8 711.8h0M245.4 727.8h0M275.4 675.8h0M249.4 731.3h0M242.9 738.5h0M273.4 675.5h0M245.1 734.8h0M243.9 735.6h0M268.0 694.8h0M284.0 672.0h0M272.1 684.2h0M246.7 699.7h0M245.6 727.0h0M264.8 690.4h0M272.8 678.7h0M251.9 711.4h0M242.9 731.6h0M243.4 741.6h0M249.4 725.9h0M269.1 684.0h0M264.1 685.1h0M250.4 731.9h0M248.2 722.6h0M242.9 720.7h0M243.6 718.8h0M246.6 740.9h0M267.6 685.0h0M260.3 691.5h0M250.0 699.0h0M282.8 678.7h0M254.7 696.8h0M242.9 730.2h0M247.5 707.4h0M271.3 684.3h0M249.2 704.9h0M252.7 710.7h0M246.8 734.6h0M255.7 701.6h0M275.8 672.6h0M278.2 680.4h0M257.5 694.6h0M243.1 718.6h0M275.3 685.0h0M250.8 724.7h0M248.7 705.8h0M251.4 703.8h0M266.7 684.0h0M252.3 700.1h0M253.6 697.7h0M254.6 703.1h0M244.0 716.0h0M245.5 731.4h0M252.0 733.1h0M248.4 737.3h0M244.7 731.7h0M247.1 725.3h0M244.4 736.8h0M244.9 717.0h0M256.1 736.6h0M248.6 735.9h0M247.4 728.1h0M259.7 738.1h0M249.2 713.9h0M244.6 719.6h0M250.8 733.3h0M258.9 721.4h0M258.7 719.8h0M254.4 731.0h0M257.2 734.7h0M257.0 716.5h0M253.1 719.5h0M256.5 729.0h0M246.2 721.2h0M259.7 725.0h0M257.4 738.3h0M249.4 734.5h0M252.5 740.2h0M258.2 725.2h0M257.5 720.7h0M246.0 725.6h0M256.3 735.5h0M258.6 735.8h0M257.6 740.2h0M271.9 660.1h0M269.6 665.9h0M291.5 664.7h0M293.8 657.8h0M317.3 665.9h0M285.7 680.8h0M297.3 683.1h0M301.4 679.7h0M311.1 679.7h0M329.5 620.9h0M334.1 599.0h0M345.7 657.3h0M345.7 675.1h0M345.7 687.3h0M360.2 671.2h0M306.0 643.9h0M281.1 672.8h0" stroke="#4DAF4A" stroke-width="2.3" stroke-linecap="round" fill="none"/>
<path d="M263.1 607.5h0M273.0 602.4h0M294.3 607.1h0M294.3 609.4h0M301.4 604.8h0M301.4 611.2h0M306.0 593.7h0M311.1 593.2h0M334.1 616.3h0M345.7 608.2h0M345.7 629.0h0M360.2 614.0h0M407.0 658.9h0M288.7 627.3h0M261.5 616.3h0M258.1 634.7h0M255.8 650.9h0M258.1 629.0h0M246.1 715.2h0M250.3 684.9h0M249.7 694.2h0M248.8 678.8h0M242.9 741.4h0M247.5 703.4h0M248.5 701.7h0M248.5 685.1h0M249.3 684.5h0M247.9 717.7h0M245.4 693.6h0M243.7 713.0h0M245.0 741.6h0M249.5 674.1h0M247.3 686.5h0M246.3 730.5h0M245.2 704.0h0M245.3 737.5h0M244.1 734.1h0M246.8 696.7h0M245.3 710.1h0M245.5 729.9h0M244.6 708.1h0M243.4 732.3h0M245.5 703.4h0M244.9 727.9h0M245.0 721.7h0M244.0 741.1h0M249.4 680.3h0M245.4 725.5h0M243.9 721.0h0M245.3 732.0h0M247.7 702.9h0M244.4 721.0h0M245.0 723.8h0M250.3 686.8h0M250.4 683.7h0M247.0 696.4h0M247.3 685.8h0M244.3 708.1h0M244.0 705.0h0M247.1 701.3h0M246.5 720.1h0M250.6 678.7h0M245.2 726.4h0M244.0 724.4h0M248.0 684.9h0M246.7 684.2h0M247.0 704.2h0M245.6 722.1h0M244.6 723.1h0M245.3 719.6h0M245.5 728.1h0M244.9 715.7h0M243.7 732.9h0M249.1 693.1h0M246.4 695.2h0M243.7 737.7h0M246.0 711.9h0M247.7 685.4h0M243.5 717.6h0M242.9 707.1h0M248.1 722.3h0M245.8 689.7h0M243.2 737.1h0M252.0 677.2h0M245.4 708.3h0M249.0 677.0h0M244.7 727.4h0M245.1 717.3h0M246.4 701.9h0M247.5 677.3h0M243.6 724.0h0M245.0 724.2h0M243.0 737.3h0M246.1 728.3h0M253.7 662.6h0M258.0 645.6h0M252.8 670.4h0M258.7 645.3h0M253.4 656.3h0M260.8 637.5h0M283.0 610.9h0M260.1 634.2h0M280.8 609.1h0M255.8 653.7h0M260.1 626.6h0M260.0 656.2h0M265.9 629.3h0M254.1 654.1h0M253.8 672.8h0M281.5 609.4h0M247.0 670.3h0M256.4 646.8h0M252.2 667.1h0M283.6 616.8h0M262.7 633.5h0M260.3 640.4h0M258.9 648.3h0M259.7 646.8h0M264.4 640.2h0M252.2 659.2h0M282.5 613.2h0M270.5 626.7h0M255.6 664.9h0M262.2 640.8h0M257.6 643.1h0M258.5 643.7h0M251.7 665.1h0M282.5 610.2h0M277.3 613.0h0M253.2 646.7h0M280.4 612.8h0M262.2 641.6h0M270.8 620.4h0M258.1 646.6h0M263.5 627.7h0M279.5 609.4h0M277.2 617.7h0M269.5 621.4h0M257.8 651.3h0M284.5 611.5h0M271.7 626.6h0M269.6 627.7h0M250.6 664.5h0M282.1 608.6h0M260.6 642.7h0M279.5 614.0h0M255.2 664.6h0M257.6 665.6h0M270.5 621.1h0M261.6 647.8h0M267.3 631.8h0M253.3 673.5h0M251.7 665.6h0M265.5 633.3h0M274.9 613.7h0M267.1 633.6h0M256.7 643.2h0M252.9 658.1h0M255.9 662.8h0M254.8 669.3h0M260.4 640.9h0M257.3 652.5h0M284.1 612.9h0M284.2 612.9h0M261.8 635.7h0M256.3 671.5h0M266.6 631.2h0M266.4 624.2h0M280.5 613.0h0M280.7 611.7h0M254.6 666.2h0M267.9 627.0h0M278.4 615.3h0M268.7 628.0h0M262.7 638.8h0M269.0 622.9h0M280.4 615.8h0M254.3 672.6h0M259.8 659.0h0M276.5 619.7h0M276.9 616.9h0M250.4 673.5h0M253.9 671.7h0M257.3 656.8h0M262.8 642.4h0M256.9 654.9h0M262.7 630.9h0M259.0 631.7h0M280.3 617.4h0M264.3 639.6h0M276.6 616.8h0M288.0 612.7h0M269.8 617.3h0M260.6 632.1h0M281.9 608.3h0M284.6 610.1h0M254.0 658.1h0M262.9 633.0h0M278.3 616.9h0M258.9 650.3h0M265.0 624.3h0M266.9 633.4h0M262.3 639.7h0M268.1 624.9h0M256.9 645.2h0M283.1 609.0h0M261.5 640.3h0M265.8 630.4h0M266.9 628.8h0M272.1 616.7h0M259.0 637.1h0M257.0 652.4h0M263.2 634.6h0M256.1 658.7h0M267.7 629.1h0M253.3 660.9h0M283.1 611.8h0M279.9 612.9h0M259.6 647.7h0M262.8 633.6h0M258.9 642.4h0M251.7 671.7h0M252.2 657.0h0M260.3 643.8h0M278.4 616.9h0M261.5 643.2h0M253.5 675.3h0M258.8 647.7h0M280.6 612.8h0M251.4 665.2h0M254.5 667.9h0M258.4 665.6h0M271.8 619.3h0M256.9 663.6h0M249.3 674.8h0M252.6 668.0h0M284.2 608.0h0M248.9 675.1h0M253.4 668.6h0M282.6 607.8h0M252.3 670.5h0M253.6 657.6h0M254.0 673.6h0M261.6 645.5h0M253.3 664.4h0M265.7 632.2h0M270.8 629.5h0M265.6 626.9h0M260.8 649.0h0M259.7 641.3h0M257.5 657.7h0M259.7 659.0h0M260.4 639.3h0M262.6 626.3h0M265.9 628.3h0M279.0 615.2h0M257.5 654.1h0M253.3 655.0h0M278.4 611.7h0M294.8 616.1h0M278.9 602.7h0M270.6 610.5h0M269.9 599.1h0M286.6 616.0h0M292.4 603.0h0M286.5 618.3h0M273.8 619.7h0M273.7 603.1h0M282.0 600.7h0M263.1 611.6h0" stroke="#984EA3" stroke-width="2.3" stroke-linecap="round" fill="none"/>
<path d="M245.5 686.4h0M247.4 669.1h0M246.8 694.2h0M246.1 676.3h0M245.8 667.3h0M245.5 691.9h0M246.4 682.9h0M244.5 707.1h0M245.3 663.3h0M243.7 726.3h0M243.2 721.8h0M246.7 652.8h0M244.0 702.5h0M243.3 711.6h0M247.3 682.2h0M244.5 703.2h0M244.1 700.3h0M245.6 670.2h0M242.9 735.1h0M243.6 721.1h0M245.5 655.5h0M246.7 664.1h0M246.8 683.4h0M247.3 678.8h0M245.5 690.7h0M244.2 725.3h0M243.2 701.5h0M246.3 665.9h0M246.1 721.6h0M242.9 736.7h0M243.8 673.7h0M247.3 652.5h0M243.2 727.5h0M246.8 665.2h0M245.4 675.8h0M246.2 669.5h0M245.9 690.5h0M245.6 700.6h0M247.4 668.5h0M244.9 676.0h0M246.1 655.6h0M245.6 659.9h0M244.1 704.4h0M246.1 695.2h0M244.0 731.3h0M246.7 666.1h0M245.5 665.1h0M245.9 665.4h0M246.5 677.6h0M243.9 729.6h0M246.9 670.1h0M245.8 706.0h0M244.9 722.4h0M246.7 661.5h0M246.1 689.7h0M243.3 731.7h0M246.6 688.1h0M245.6 685.7h0M245.1 687.8h0M245.3 682.3h0M247.2 654.0h0M244.9 734.3h0M245.2 683.4h0M246.0 681.3h0M248.0 667.4h0M247.6 682.0h0M246.5 664.6h0M246.2 677.8h0M245.2 715.1h0M245.3 680.9h0M243.6 736.5h0M244.5 700.9h0M245.3 684.6h0M246.4 679.7h0M245.5 696.0h0M243.0 719.8h0M247.4 659.7h0M244.6 737.0h0M247.2 660.0h0M243.0 738.2h0M244.6 711.2h0M244.9 671.2h0M244.2 695.5h0M246.5 665.5h0M244.5 736.0h0M244.6 703.9h0M243.1 725.5h0M246.0 665.0h0M246.3 669.4h0M244.6 708.5h0M245.5 656.0h0M244.6 713.9h0M246.1 680.0h0M246.2 673.1h0M247.0 669.6h0M243.6 733.3h0M244.3 710.9h0M245.5 656.7h0M244.2 717.1h0M244.4 703.8h0M244.6 704.7h0M243.0 722.3h0M246.8 655.3h0M244.0 690.3h0M244.4 741.6h0M242.9 725.6h0M244.2 711.0h0M246.3 667.8h0M244.8 683.0h0M243.2 741.6h0M244.1 731.9h0M242.9 732.0h0M246.8 662.8h0M246.7 671.7h0M243.8 733.9h0M246.8 663.8h0M246.1 668.1h0M245.2 713.0h0M243.4 715.7h0M244.6 674.4h0M244.7 698.4h0M244.3 718.6h0M245.1 706.9h0M247.4 659.8h0M247.4 655.0h0M243.1 699.1h0M246.7 678.9h0M258.1 599.4h0M254.0 603.1h0M248.4 610.3h0M254.4 606.2h0M251.0 610.5h0M250.0 635.8h0M249.6 614.8h0M246.8 650.5h0M251.7 619.5h0M252.4 603.2h0M251.3 616.0h0M255.8 600.8h0M248.3 637.4h0M246.8 650.5h0M247.6 630.0h0M251.6 617.9h0M249.7 607.7h0M251.9 623.6h0M251.9 610.0h0M251.0 627.3h0M246.0 644.3h0M253.0 608.5h0M250.4 628.2h0M250.1 638.7h0M248.3 626.1h0M252.7 603.2h0M247.3 639.7h0M250.3 617.9h0M260.5 596.2h0M250.9 614.3h0M252.1 615.4h0M261.4 593.1h0M250.3 610.9h0M246.2 648.5h0M253.5 606.9h0M254.9 599.5h0M261.0 595.5h0M255.0 602.3h0M250.2 612.8h0M263.5 593.9h0M251.4 607.9h0M251.4 610.3h0M247.0 650.1h0M255.5 606.0h0M248.4 623.1h0M250.6 616.6h0M245.1 651.1h0M250.8 626.4h0M248.0 643.0h0M254.8 598.9h0M252.4 616.3h0M257.2 595.6h0M250.2 609.3h0M247.5 640.5h0M257.7 596.6h0M246.3 636.2h0M248.8 629.1h0M248.1 632.4h0M250.6 622.0h0M247.7 646.2h0M247.2 628.0h0M255.2 603.7h0M256.6 602.7h0M247.8 646.6h0M246.9 651.7h0M257.0 598.9h0M246.0 648.0h0M247.3 638.3h0M252.0 609.4h0M248.9 633.0h0M249.8 618.1h0M251.1 601.9h0M246.3 641.8h0M248.9 629.6h0M247.7 651.8h0M247.0 641.5h0M254.7 600.7h0M250.4 612.5h0M259.1 592.1h0M249.0 624.6h0M254.9 599.2h0M258.9 595.3h0M256.6 602.4h0M250.1 615.8h0M247.0 649.2h0M248.0 622.9h0M251.4 611.2h0M261.3 592.9h0M249.7 621.4h0M260.0 595.0h0M252.0 613.6h0M248.4 649.9h0M247.4 642.9h0M252.7 612.7h0M249.1 635.6h0M250.1 616.9h0M247.7 643.6h0M248.8 648.3h0M262.4 593.1h0M248.1 641.8h0M256.0 600.6h0M250.4 615.8h0M246.5 645.2h0M245.0 650.3h0M252.0 609.8h0M258.9 596.2h0M248.2 647.0h0M249.7 625.2h0M252.1 614.7h0M251.3 614.9h0M246.1 653.6h0M250.8 628.7h0M249.3 628.4h0M246.5 652.4h0M247.6 632.7h0M246.7 645.7h0M253.0 615.1h0M259.6 597.6h0M252.6 620.3h0M249.5 650.7h0M252.7 605.4h0M257.5 597.9h0M249.1 619.9h0M249.6 644.1h0M247.4 644.6h0M247.7 639.1h0M250.4 626.0h0M252.1 632.9h0M249.1 619.7h0M247.4 651.0h0M251.0 627.2h0M264.4 593.7h0M248.2 642.0h0M249.3 633.1h0M257.2 597.0h0M255.7 602.6h0M258.5 598.6h0M246.4 630.6h0M249.1 619.8h0M255.9 599.5h0M248.7 630.3h0M255.2 606.1h0M248.5 644.6h0M250.6 610.5h0M252.7 611.3h0M254.9 602.0h0M253.7 607.3h0M248.6 626.8h0M256.9 598.3h0M247.7 632.9h0M251.5 613.2h0M251.7 612.5h0M246.7 648.2h0M246.1 649.4h0M247.1 648.5h0M251.9 614.4h0M251.7 611.1h0M256.3 600.2h0M262.2 593.5h0M254.7 605.9h0M247.1 638.7h0M247.6 645.3h0M254.6 603.4h0M254.1 601.2h0M250.4 609.4h0M248.1 647.6h0M249.5 620.0h0M247.6 652.0h0M247.3 652.3h0M250.0 616.8h0M252.2 610.4h0M265.0 592.2h0M286.1 591.7h0M277.7 591.7h0M273.6 591.7h0M273.1 592.1h0M276.4 592.0h0M273.3 592.8h0M268.7 593.2h0M275.3 591.8h0M280.3 591.7h0M278.4 591.7h0M262.2 593.1h0M268.0 593.1h0M279.0 592.2h0M267.1 594.1h0M280.6 593.9h0M262.3 594.4h0M276.4 591.7h0M264.6 592.8h0M270.6 591.7h0M284.0 592.9h0M278.3 591.7h0M264.3 593.3h0M283.8 593.0h0M285.7 591.7h0M269.9 593.4h0M267.1 591.7h0M270.4 591.8h0M268.0 591.7h0M272.1 591.7h0M272.2 591.7h0M267.9 591.8h0M277.8 591.7h0M273.2 592.2h0M273.6 591.7h0M269.9 591.7h0M280.3 592.5h0M276.7 591.7h0M270.4 592.3h0M271.0 592.6h0M269.1 591.7h0M266.8 591.7h0M267.6 592.3h0M273.7 591.7h0M273.2 593.0h0M275.4 591.9h0M265.8 592.5h0M269.9 591.7h0M266.0 592.0h0M264.6 594.0h0M274.5 591.7h0M262.6 592.2h0M269.7 591.7h0M283.2 591.7h0M282.7 591.9h0M273.2 591.7h0M270.3 591.8h0M268.8 592.2h0M276.8 591.7h0M270.5 591.7h0M277.5 591.7h0M284.3 592.0h0M281.9 591.7h0M274.4 591.7h0M272.1 592.1h0M281.9 592.5h0M267.2 592.6h0M263.2 592.7h0M266.0 593.8h0M270.4 591.7h0M279.6 591.7h0M285.8 592.7h0M269.7 592.5h0M266.2 591.7h0M285.3 591.7h0M283.4 591.7h0M290.3 592.3h0M305.3 592.3h0M311.1 592.3h0M317.3 592.3h0M324.9 592.3h0M334.1 594.1h0M345.7 592.3h0M284.6 593.2h0" stroke="#FF7F00" stroke-width="2.3" stroke-linecap="round" fill="none"/>
<rect x="418" y="565.2" width="180.6" height="19.2" fill="#D9D9D9"/>
<text x="508.3" y="581.4" font-size="18" text-anchor="middle" fill="#1A1A1A">Self GSEA-FDR</text>
<rect x="418" y="584.4" width="180.6" height="164.5" fill="#EBEBEB"/>
<path d="M418 722.73H598.6M418 685.34H598.6M418 647.96H598.6M418 610.57H598.6M446.73 584.4V748.9M487.78 584.4V748.9M528.82 584.4V748.9M569.87 584.4V748.9" stroke="#fff" stroke-opacity="0.75" stroke-width="0.9" fill="none"/>
<path d="M418 741.42H598.6M418 704.04H598.6M418 666.65H598.6M418 629.26H598.6M418 591.88H598.6M426.21 584.4V748.9M467.25 584.4V748.9M508.3 584.4V748.9M549.35 584.4V748.9M590.39 584.4V748.9" stroke="#fff" stroke-opacity="0.8" stroke-width="1.1" fill="none"/>
<path d="M426.21 748.9V750.7M467.25 748.9V750.7M508.3 748.9V750.7M549.35 748.9V750.7M590.39 748.9V750.7" stroke="#888" stroke-width="0.8" fill="none"/>
<text x="437.91" y="757.1" font-size="17.5" text-anchor="end" fill="#4D4D4D" transform="rotate(-60 437.91 757.1)">0.00</text>
<text x="478.95" y="757.1" font-size="17.5" text-anchor="end" fill="#4D4D4D" transform="rotate(-60 478.95 757.1)">0.05</text>
<text x="520" y="757.1" font-size="17.5" text-anchor="end" fill="#4D4D4D" transform="rotate(-60 520 757.1)">0.10</text>
<text x="561.05" y="757.1" font-size="17.5" text-anchor="end" fill="#4D4D4D" transform="rotate(-60 561.05 757.1)">0.15</text>
<text x="602.09" y="757.1" font-size="17.5" text-anchor="end" fill="#4D4D4D" transform="rotate(-60 602.09 757.1)">0.20</text>
<path d="M428.6 738.2h0M430.5 719.7h0M433.2 741.6h0M453.1 736.4h0M437.0 715.5h0M446.8 740.8h0M449.0 705.3h0M431.3 722.4h0M432.5 739.2h0M465.3 726.0h0M446.6 741.6h0M464.9 740.3h0M446.5 711.4h0M428.0 736.3h0M492.2 679.7h0M543.2 736.6h0M489.5 733.9h0M477.5 740.8h0M468.7 741.6h0M466.4 741.6h0" stroke="#E41A1C" stroke-width="2.3" stroke-linecap="round" fill="none"/>
<path d="M426.8 714.6h0M428.4 729.6h0M436.0 732.3h0M427.2 716.4h0M444.2 720.6h0M430.3 732.5h0M441.1 722.2h0M431.1 739.7h0M427.6 727.8h0M441.4 741.6h0M445.4 732.1h0M455.3 739.4h0M455.3 721.8h0M447.0 734.0h0M465.1 732.8h0M438.8 738.1h0M441.1 695.3h0M448.5 711.8h0M474.5 713.1h0M488.3 701.5h0M497.8 719.6h0M492.2 738.1h0M492.2 609.4h0M512.5 658.9h0M512.5 661.9h0M517.1 728.1h0M543.2 718.9h0M477.5 728.1h0M500.3 710.8h0" stroke="#377EB8" stroke-width="2.3" stroke-linecap="round" fill="none"/>
<path d="M435.2 651.8h0M437.5 631.1h0M431.1 648.2h0M431.6 639.9h0M431.9 657.8h0M430.2 653.4h0M470.6 714.5h0M461.0 738.3h0M433.8 741.6h0M436.3 741.0h0M428.6 718.2h0M444.4 731.1h0M443.2 718.6h0M461.0 735.8h0M430.5 727.8h0M446.7 737.0h0M444.8 727.7h0M426.8 705.5h0M429.8 729.5h0M458.9 719.6h0M432.7 741.6h0M427.8 737.6h0M470.7 727.7h0M428.4 738.0h0M445.1 707.6h0M456.3 696.2h0M501.3 735.2h0M486.9 737.3h0M501.5 715.4h0M460.7 618.6h0M489.5 597.4h0M471.7 606.4h0M528.7 664.0h0M590.0 693.5h0M543.2 688.9h0" stroke="#4DAF4A" stroke-width="2.3" stroke-linecap="round" fill="none"/>
<path d="M433.6 678.2h0M436.8 679.2h0M433.8 668.0h0M433.3 676.2h0M436.2 664.5h0M437.9 697.2h0M428.8 643.3h0M433.3 637.5h0M438.6 673.9h0M430.6 674.8h0M438.6 633.0h0M460.0 734.1h0M437.5 738.1h0M426.9 730.4h0M427.0 734.5h0M427.3 725.4h0M462.8 732.6h0M455.0 726.6h0M430.1 740.4h0M438.9 725.7h0M446.8 725.8h0M431.6 729.2h0M457.6 741.3h0M427.3 725.7h0M431.0 728.1h0M437.4 731.7h0M466.9 712.9h0M428.8 713.4h0M441.8 737.0h0M433.2 735.3h0M447.6 699.1h0M483.5 720.5h0M498.4 721.5h0M503.0 700.6h0M481.6 714.5h0M474.2 736.8h0M479.6 713.5h0M496.1 733.4h0M501.3 739.5h0M495.6 711.9h0M476.2 711.6h0M498.0 717.8h0M472.6 710.0h0M461.3 599.0h0M452.6 604.8h0M454.9 603.6h0M445.2 609.8h0M446.8 614.0h0M442.2 625.5h0M543.2 694.0h0M528.7 693.5h0M517.1 699.3h0" stroke="#984EA3" stroke-width="2.3" stroke-linecap="round" fill="none"/>
<path d="M430.4 659.9h0M430.6 651.3h0M436.5 685.9h0M430.2 666.1h0M435.0 701.1h0M432.3 703.0h0M436.5 658.3h0M435.5 684.9h0M433.7 676.5h0M437.5 682.2h0M438.7 675.3h0M430.4 653.3h0M431.2 649.4h0M432.5 657.6h0M435.5 674.8h0M435.2 687.1h0M436.3 691.4h0M432.0 650.1h0M435.6 650.6h0M438.1 700.6h0M447.5 717.5h0M429.3 741.2h0M449.9 738.0h0M450.4 724.3h0M440.7 720.5h0M437.1 723.4h0M460.3 735.4h0M450.5 721.9h0M441.9 731.7h0M428.7 716.2h0M469.6 725.4h0M438.9 714.9h0M429.8 738.8h0M460.5 735.8h0M450.8 731.4h0M436.9 720.4h0M427.0 718.8h0M427.2 725.5h0M451.9 740.8h0M436.2 737.7h0M452.4 723.0h0M451.9 737.9h0M430.3 741.4h0M442.5 728.6h0M439.3 733.4h0M461.5 736.4h0M466.4 733.4h0M441.6 709.7h0M444.2 721.0h0M454.3 734.4h0M438.6 723.3h0M463.8 740.2h0M428.0 738.8h0M437.6 734.3h0M453.8 723.9h0M429.1 727.7h0M448.1 733.0h0M438.5 741.6h0M440.7 741.6h0M432.0 729.9h0M427.9 740.4h0M429.1 738.2h0M429.0 732.2h0M456.0 726.9h0M448.3 732.0h0M440.9 737.2h0M431.6 733.3h0M439.1 733.4h0M427.0 739.2h0M456.4 706.6h0M429.3 737.4h0M437.6 741.6h0M442.6 737.1h0M433.0 734.0h0M444.9 738.0h0M436.4 741.5h0M443.5 740.0h0M444.1 738.8h0M443.0 739.3h0M436.0 735.7h0M445.5 734.1h0M452.4 738.3h0M453.0 737.2h0M456.9 740.0h0M435.9 735.2h0M453.8 734.4h0M447.6 741.6h0M450.3 740.4h0M447.5 741.1h0M427.1 735.2h0M438.7 736.4h0M436.3 741.6h0M437.7 739.6h0M456.2 741.6h0M449.8 739.5h0M427.0 741.6h0M450.2 741.2h0M429.3 738.8h0M449.4 741.6h0M427.1 737.3h0M450.1 738.9h0M427.9 739.9h0M445.2 738.7h0M435.4 736.6h0M427.6 737.0h0M438.2 735.4h0M457.6 738.4h0M429.4 741.6h0M427.1 734.7h0M447.8 738.5h0M431.3 734.0h0M440.7 739.6h0M444.5 741.6h0M445.0 734.2h0M477.8 729.1h0M473.0 705.6h0M478.1 706.0h0M488.7 705.6h0M474.8 699.3h0M438.3 593.7h0M454.9 595.5h0M452.1 600.6h0M461.3 599.7h0M446.8 603.6h0M445.2 607.1h0M431.4 609.4h0M431.4 619.7h0M492.2 591.7h0M512.5 591.7h0M543.2 666.3h0M543.2 699.3h0M507.9 696.3h0M465.3 680.1h0M457.2 687.3h0" stroke="#FF7F00" stroke-width="2.3" stroke-linecap="round" fill="none"/>
<path d="M434.9 731.7h0M428.9 728.6h0M436.2 714.5h0M428.3 709.7h0M447.9 739.9h0M450.8 723.1h0M446.0 714.4h0M426.9 741.6h0M427.8 740.8h0M517.1 639.3h0M512.5 718.9h0M528.7 740.3h0M507.9 735.0h0M590.0 741.6h0M500.3 732.7h0M484.9 731.6h0M484.9 741.6h0M480.3 736.2h0M480.3 739.6h0M471.7 741.6h0" stroke="#E41A1C" stroke-width="2.3" stroke-linecap="round" fill="none"/>
<path d="M443.6 714.2h0M441.5 739.9h0M426.8 732.1h0M436.3 711.8h0M429.7 738.6h0M429.0 719.3h0M440.0 732.6h0M433.6 740.7h0M442.9 730.1h0M431.9 723.3h0M436.4 728.5h0M435.8 740.2h0M427.2 725.2h0M436.2 741.6h0M459.2 692.2h0M512.5 723.0h0M528.7 714.3h0M528.7 724.2h0M474.0 728.1h0" stroke="#377EB8" stroke-width="2.3" stroke-linecap="round" fill="none"/>
<path d="M437.4 655.7h0M437.0 684.5h0M432.6 647.5h0M437.8 630.4h0M432.1 662.5h0M430.0 665.4h0M429.9 643.9h0M430.3 730.0h0M427.8 720.4h0M461.4 741.3h0M430.9 728.1h0M451.5 733.1h0M428.7 741.6h0M427.8 741.6h0M467.2 737.9h0M466.4 741.6h0M426.8 741.6h0M458.7 707.9h0M474.7 714.0h0M498.7 723.2h0M454.9 641.0h0M452.6 654.3h0M543.2 691.7h0M528.7 690.5h0M465.3 675.1h0M471.7 689.6h0M500.3 687.3h0M500.3 690.1h0" stroke="#4DAF4A" stroke-width="2.3" stroke-linecap="round" fill="none"/>
<path d="M429.6 704.4h0M437.5 651.1h0M430.7 641.6h0M432.1 703.1h0M429.1 698.8h0M432.6 696.3h0M436.7 670.7h0M436.7 646.4h0M436.6 681.9h0M433.4 666.1h0M434.3 666.2h0M435.6 667.2h0M431.3 684.9h0M429.8 683.5h0M452.4 735.9h0M452.6 719.2h0M428.6 717.0h0M461.6 723.6h0M429.1 737.8h0M448.0 737.1h0M440.4 726.4h0M429.0 735.4h0M438.5 725.0h0M438.2 736.0h0M439.3 730.9h0M440.1 740.4h0M441.2 741.6h0M448.8 706.9h0M470.6 741.4h0M435.3 738.3h0M454.0 738.9h0M434.5 720.3h0M443.4 714.2h0M443.8 705.5h0M449.4 704.8h0M491.4 731.6h0M438.3 592.1h0M489.5 593.2h0M543.2 664.0h0M500.3 675.1h0M471.7 687.8h0M500.3 696.5h0" stroke="#984EA3" stroke-width="2.3" stroke-linecap="round" fill="none"/>
<path d="M428.4 682.5h0M435.6 654.7h0M436.4 656.2h0M437.2 697.6h0M436.0 636.9h0M430.1 665.6h0M438.5 697.7h0M434.4 667.4h0M438.5 682.0h0M432.7 672.3h0M430.5 684.6h0M432.0 686.2h0M429.2 661.4h0M431.0 643.3h0M428.9 673.4h0M428.5 672.4h0M432.9 653.0h0M434.5 704.4h0M435.5 641.6h0M436.0 657.5h0M436.6 630.1h0M433.7 726.9h0M431.2 740.7h0M450.8 726.7h0M429.7 725.8h0M426.9 732.5h0M456.0 735.1h0M457.3 741.6h0M444.3 718.1h0M429.3 740.4h0M432.6 715.7h0M427.2 721.5h0M428.3 737.9h0M442.5 740.2h0M443.7 728.9h0M440.7 719.5h0M460.3 722.9h0M470.6 713.4h0M428.0 736.2h0M426.8 724.3h0M431.6 741.6h0M452.8 733.9h0M462.5 720.4h0M434.8 731.1h0M462.2 734.3h0M439.0 732.9h0M431.0 738.4h0M437.5 740.1h0M429.0 741.6h0M448.5 725.8h0M431.1 739.9h0M426.8 739.7h0M443.6 733.1h0M433.2 712.6h0M468.4 739.9h0M429.1 734.7h0M428.2 724.8h0M429.4 741.6h0M448.7 730.2h0M428.7 740.3h0M461.1 732.7h0M446.7 741.6h0M428.0 732.2h0M465.6 726.7h0M452.5 694.7h0M453.3 689.3h0M466.9 701.0h0M466.9 706.3h0M460.8 700.8h0M458.7 737.3h0M427.2 737.4h0M437.2 737.9h0M456.5 736.0h0M429.1 738.6h0M441.0 737.6h0M438.7 741.6h0M449.1 741.6h0M432.7 734.1h0M457.8 736.7h0M444.3 735.7h0M457.4 734.7h0M428.3 740.7h0M428.1 737.2h0M436.6 736.6h0M458.6 741.4h0M442.3 739.1h0M436.0 734.1h0M438.0 741.6h0M429.5 741.6h0M436.8 735.9h0M441.3 736.7h0M446.9 740.6h0M432.1 736.3h0M437.8 740.3h0M436.3 741.6h0M446.0 738.4h0M440.2 741.6h0M443.2 739.1h0M436.9 738.6h0M454.6 733.9h0M456.3 737.7h0M445.6 740.4h0M433.8 738.7h0M428.5 735.8h0M426.9 739.6h0M439.5 734.3h0M453.3 735.6h0M444.8 741.6h0M436.5 735.3h0M453.2 734.8h0M481.4 711.2h0M489.4 740.9h0M442.2 614.0h0M471.7 594.4h0M512.5 594.4h0M517.1 591.7h0M528.7 639.3h0M528.7 669.3h0M590.0 657.3h0M528.7 687.8h0M500.3 692.4h0" stroke="#FF7F00" stroke-width="2.3" stroke-linecap="round" fill="none"/>
<path d="M469.4 738.0h0M463.3 741.6h0M435.3 725.2h0M450.4 741.6h0M432.8 732.5h0M463.7 734.1h0M512.5 724.7h0M528.7 738.5h0M528.7 741.6h0M517.1 739.9h0M507.9 741.6h0M500.3 729.3h0M500.3 736.2h0M494.8 736.2h0M489.5 735.0h0M484.9 736.2h0M464.1 741.6h0" stroke="#E41A1C" stroke-width="2.3" stroke-linecap="round" fill="none"/>
<path d="M432.4 687.6h0M447.8 717.8h0M427.9 736.7h0M469.1 713.3h0M443.2 739.7h0M438.4 726.2h0M433.7 725.2h0M463.7 718.8h0M428.1 729.8h0M438.8 732.4h0M426.8 725.8h0M432.0 733.1h0M427.0 741.5h0M440.4 734.7h0M450.8 739.7h0M462.3 708.0h0M458.1 728.8h0M443.8 728.3h0M430.1 723.6h0M436.5 741.6h0M431.7 736.5h0M432.8 717.4h0M462.9 696.8h0M502.7 727.7h0M501.3 715.6h0M489.5 664.0h0M507.9 717.7h0M528.7 725.8h0M543.2 724.7h0M590.0 732.7h0M489.5 741.6h0M507.9 716.6h0" stroke="#377EB8" stroke-width="2.3" stroke-linecap="round" fill="none"/>
<path d="M436.8 653.7h0M437.3 703.2h0M432.2 683.3h0M451.5 730.8h0M471.0 739.5h0M460.4 736.3h0M443.6 722.1h0M466.3 734.1h0M458.1 733.2h0M428.4 726.3h0M434.3 733.0h0M429.8 718.6h0M467.6 733.3h0M468.7 740.6h0M430.0 739.0h0M467.5 736.9h0M438.5 740.7h0M427.6 734.0h0M428.4 741.6h0M464.3 729.5h0M451.0 718.6h0M426.9 730.1h0M469.8 737.1h0M441.2 715.2h0M454.1 700.1h0M444.0 710.3h0M457.3 704.6h0M475.4 732.8h0M484.8 723.9h0M471.5 699.1h0M452.1 630.1h0M455.6 643.5h0M512.5 600.6h0M528.7 697.7h0M445.2 660.1h0M446.8 669.3h0M445.2 678.1h0M477.5 684.3h0M484.9 690.5h0M489.5 693.5h0M494.8 687.8h0" stroke="#4DAF4A" stroke-width="2.3" stroke-linecap="round" fill="none"/>
<path d="M436.2 672.6h0M432.6 699.4h0M434.0 669.8h0M437.6 670.1h0M432.6 691.2h0M438.2 645.8h0M431.8 703.5h0M432.5 697.1h0M428.1 730.3h0M462.8 731.8h0M439.3 707.5h0M469.6 736.1h0M453.1 741.1h0M440.2 732.8h0M430.1 730.6h0M430.4 729.3h0M459.6 741.5h0M426.9 707.6h0M428.9 736.9h0M427.3 720.7h0M459.3 740.4h0M443.6 736.0h0M432.2 735.2h0M430.4 725.0h0M434.7 719.2h0M429.8 741.6h0M431.5 731.2h0M440.5 740.5h0M434.4 736.1h0M430.0 735.9h0M451.8 720.7h0M426.8 721.1h0M447.3 721.8h0M439.4 730.2h0M443.3 741.6h0M454.8 711.1h0M467.9 704.6h0M446.1 689.8h0M472.4 713.1h0M479.9 708.8h0M498.4 723.8h0M476.9 740.7h0M433.7 614.0h0M436.9 626.7h0M431.4 630.1h0M471.7 593.2h0M528.7 634.7h0M590.0 666.3h0" stroke="#984EA3" stroke-width="2.3" stroke-linecap="round" fill="none"/>
<path d="M436.3 653.8h0M438.3 687.9h0M438.1 666.6h0M429.5 655.8h0M430.4 632.7h0M429.3 643.0h0M432.4 680.3h0M437.7 696.0h0M438.1 696.6h0M437.0 688.7h0M435.6 634.3h0M436.9 649.8h0M437.8 653.8h0M434.0 652.8h0M430.6 633.8h0M431.2 684.6h0M437.3 686.9h0M430.7 689.5h0M430.4 641.5h0M427.1 739.6h0M435.1 735.5h0M426.9 721.0h0M431.0 710.6h0M435.9 733.2h0M427.3 740.4h0M435.1 717.2h0M426.8 727.7h0M446.3 724.7h0M435.1 738.5h0M427.7 740.2h0M444.6 736.7h0M444.7 714.1h0M469.9 715.3h0M450.8 738.0h0M428.6 724.1h0M437.6 723.2h0M426.8 714.3h0M427.6 705.9h0M446.9 740.1h0M457.7 739.4h0M428.6 727.8h0M428.2 731.4h0M447.6 741.0h0M448.6 740.5h0M448.0 736.6h0M432.5 741.6h0M453.1 722.1h0M427.5 734.3h0M432.2 723.8h0M439.9 722.1h0M470.7 739.7h0M444.7 730.5h0M427.8 741.4h0M442.6 725.5h0M427.6 735.2h0M454.2 739.9h0M436.1 734.3h0M461.5 716.0h0M450.1 730.6h0M453.0 724.0h0M437.8 735.5h0M449.9 739.1h0M448.6 700.9h0M457.5 691.0h0M453.7 690.6h0M457.4 699.0h0M434.2 736.4h0M443.8 736.7h0M446.3 735.9h0M454.3 735.5h0M435.5 734.8h0M458.5 741.6h0M435.6 735.1h0M445.1 736.9h0M448.2 741.6h0M456.9 741.6h0M428.5 734.4h0M455.6 741.0h0M445.7 738.5h0M457.6 737.5h0M446.5 737.7h0M430.3 736.1h0M440.8 736.0h0M434.2 741.6h0M429.3 734.5h0M433.5 736.4h0M455.8 737.6h0M433.5 738.9h0M429.6 739.3h0M449.4 738.6h0M438.7 741.6h0M452.8 738.6h0M438.5 741.6h0M445.4 740.2h0M429.1 740.6h0M432.2 740.6h0M454.0 740.3h0M429.4 735.4h0M448.6 735.5h0M441.5 736.1h0M454.9 738.7h0M477.4 698.1h0M503.2 722.0h0M455.6 599.0h0M433.7 602.0h0M436.4 634.7h0M500.3 664.0h0M477.5 687.3h0M461.3 690.5h0M451.4 693.5h0M494.8 691.2h0" stroke="#FF7F00" stroke-width="2.3" stroke-linecap="round" fill="none"/>
<rect x="601" y="565.2" width="180.6" height="19.2" fill="#D9D9D9"/>
<text x="691.3" y="581.4" font-size="18" text-anchor="middle" fill="#1A1A1A">sigPathway</text>
<rect x="601" y="584.4" width="180.6" height="164.5" fill="#EBEBEB"/>
<path d="M601 722.73H781.6M601 685.34H781.6M601 647.96H781.6M601 610.57H781.6M629.73 584.4V748.9M670.78 584.4V748.9M711.82 584.4V748.9M752.87 584.4V748.9" stroke="#fff" stroke-opacity="0.75" stroke-width="0.9" fill="none"/>
<path d="M601 741.42H781.6M601 704.04H781.6M601 666.65H781.6M601 629.26H781.6M601 591.88H781.6M609.21 584.4V748.9M650.25 584.4V748.9M691.3 584.4V748.9M732.35 584.4V748.9M773.39 584.4V748.9" stroke="#fff" stroke-opacity="0.8" stroke-width="1.1" fill="none"/>
<path d="M609.21 748.9V750.7M650.25 748.9V750.7M691.3 748.9V750.7M732.35 748.9V750.7M773.39 748.9V750.7" stroke="#888" stroke-width="0.8" fill="none"/>
<text x="620.91" y="757.1" font-size="17.5" text-anchor="end" fill="#4D4D4D" transform="rotate(-60 620.91 757.1)">0.00</text>
<text x="661.95" y="757.1" font-size="17.5" text-anchor="end" fill="#4D4D4D" transform="rotate(-60 661.95 757.1)">0.05</text>
<text x="703" y="757.1" font-size="17.5" text-anchor="end" fill="#4D4D4D" transform="rotate(-60 703 757.1)">0.10</text>
<text x="744.05" y="757.1" font-size="17.5" text-anchor="end" fill="#4D4D4D" transform="rotate(-60 744.05 757.1)">0.15</text>
<text x="785.09" y="757.1" font-size="17.5" text-anchor="end" fill="#4D4D4D" transform="rotate(-60 785.09 757.1)">0.20</text>
<path d="M637.0 726.8h0M650.6 739.2h0M645.5 741.6h0M648.4 741.6h0M654.0 741.6h0M667.9 720.7h0M672.5 720.7h0M683.5 738.5h0M677.8 738.5h0M672.5 738.5h0M667.9 741.6h0M657.5 741.6h0M695.5 708.5h0" stroke="#E41A1C" stroke-width="2.3" stroke-linecap="round" fill="none"/>
<path d="M611.6 657.3h0M610.4 652.6h0M611.7 625.4h0M617.5 655.6h0M620.4 635.1h0M619.1 666.5h0M645.2 733.9h0M639.2 734.3h0M648.6 736.4h0M647.9 692.5h0M641.5 707.4h0M642.0 702.7h0M632.9 705.3h0M644.7 710.8h0M620.1 684.1h0M628.0 719.8h0M647.9 721.9h0M648.3 701.3h0M631.8 718.8h0M624.0 736.1h0M626.1 707.7h0M625.5 739.6h0M613.0 693.9h0M619.5 719.1h0M643.9 682.8h0M643.5 728.0h0M628.0 738.6h0M622.9 720.6h0M644.2 684.3h0M648.5 707.5h0M627.2 731.8h0M629.1 713.6h0M680.1 717.1h0M657.4 700.4h0M678.8 712.2h0M643.7 600.6h0M654.7 600.6h0M639.0 632.0h0M628.2 637.7h0M667.9 630.8h0M663.7 661.9h0M635.1 653.2h0M726.2 675.1h0M677.8 694.7h0M672.5 672.1h0M677.1 672.1h0" stroke="#377EB8" stroke-width="2.3" stroke-linecap="round" fill="none"/>
<path d="M615.1 646.1h0M619.8 620.7h0M610.3 661.3h0M612.8 639.4h0M615.0 652.2h0M611.8 666.0h0M618.5 611.0h0M612.2 619.6h0M620.9 660.5h0M613.9 629.2h0M642.6 683.3h0M621.6 736.7h0M650.1 705.9h0M637.4 689.7h0M637.4 709.8h0M610.1 734.4h0M617.3 686.0h0M622.1 729.7h0M614.8 700.1h0M631.5 727.3h0M617.7 706.6h0M610.5 699.9h0M631.4 705.0h0M645.8 702.6h0M678.4 690.2h0M683.5 696.0h0M639.0 592.1h0M663.7 642.3h0M683.5 646.7h0M663.7 655.5h0M648.3 654.3h0M711.7 657.3h0" stroke="#4DAF4A" stroke-width="2.3" stroke-linecap="round" fill="none"/>
<path d="M619.5 679.1h0M610.5 673.5h0M611.7 599.7h0M618.5 649.3h0M612.4 658.6h0M619.5 612.9h0M617.7 635.3h0M612.9 652.1h0M612.8 669.9h0M615.3 666.1h0M619.6 648.5h0M610.6 630.2h0M611.7 637.9h0M618.2 615.5h0M620.1 609.1h0M610.6 673.5h0M610.8 648.5h0M616.7 677.9h0M612.9 727.4h0M616.7 737.6h0M633.2 713.9h0M646.3 713.6h0M620.4 684.2h0M632.7 683.5h0M625.1 681.7h0M643.8 716.2h0M644.2 702.0h0M617.3 701.2h0M612.7 714.1h0M634.8 694.1h0M618.7 679.4h0M613.1 704.1h0M623.2 719.8h0M628.2 694.7h0M611.4 723.6h0M610.8 728.4h0M637.0 735.3h0M640.8 724.9h0M618.0 682.7h0M627.2 741.6h0M646.1 733.4h0M611.8 717.6h0M628.1 681.6h0M622.4 734.8h0M623.0 732.9h0M621.4 703.7h0M650.6 739.9h0M635.3 705.9h0M618.0 715.1h0M648.2 722.6h0M612.4 698.3h0M636.8 719.9h0M632.0 703.1h0M650.4 700.0h0M658.4 693.0h0M679.8 675.7h0M686.6 676.6h0M688.6 684.3h0M637.9 595.5h0M660.5 617.0h0M683.5 651.6h0M672.5 651.6h0M644.8 651.6h0M726.2 672.8h0M683.5 677.4h0M683.5 683.8h0M683.5 711.5h0M677.8 692.4h0" stroke="#984EA3" stroke-width="2.3" stroke-linecap="round" fill="none"/>
<path d="M618.6 653.0h0M617.7 680.1h0M612.4 653.9h0M615.9 629.3h0M611.6 654.1h0M610.2 600.6h0M610.6 631.6h0M619.6 634.2h0M611.6 600.1h0M613.8 605.2h0M613.5 655.2h0M619.7 676.4h0M611.9 656.2h0M610.5 614.0h0M611.8 634.6h0M612.7 667.3h0M615.7 649.8h0M620.7 600.0h0M614.3 629.1h0M615.1 613.5h0M621.2 599.3h0M613.0 670.2h0M611.1 625.2h0M610.4 598.4h0M618.9 599.9h0M610.2 641.8h0M610.8 677.4h0M613.0 608.6h0M621.0 620.3h0M610.4 634.4h0M619.0 654.4h0M614.6 625.2h0M617.5 632.1h0M614.2 650.6h0M614.0 660.7h0M612.2 603.9h0M616.7 661.5h0M613.9 720.2h0M644.1 703.4h0M651.9 705.7h0M628.6 678.4h0M639.6 688.9h0M648.7 712.1h0M627.8 698.7h0M639.9 682.8h0M625.3 685.5h0M621.8 679.4h0M627.7 724.1h0M647.6 724.9h0M632.3 716.9h0M627.9 734.7h0M633.8 727.9h0M616.1 714.9h0M642.4 741.6h0M623.9 698.6h0M640.4 711.7h0M637.5 736.7h0M644.3 704.3h0M646.5 710.5h0M640.3 719.5h0M638.6 682.8h0M638.0 720.7h0M649.9 739.4h0M632.9 690.5h0M613.1 721.1h0M637.4 701.0h0M619.6 726.1h0M630.1 710.3h0M638.1 711.7h0M648.4 726.8h0M611.7 686.4h0M624.3 728.6h0M624.2 678.0h0M614.1 728.6h0M612.2 704.9h0M622.6 732.3h0M615.8 718.0h0M629.7 738.3h0M615.7 738.1h0M627.3 739.5h0M616.5 733.9h0M623.1 720.4h0M625.6 725.3h0M627.6 725.5h0M629.5 723.4h0M620.9 707.8h0M615.5 741.6h0M618.8 736.6h0M611.1 710.1h0M625.4 724.3h0M621.5 733.0h0M622.6 736.0h0M626.8 741.6h0M615.1 723.0h0M626.3 725.5h0M627.7 741.3h0M616.7 736.0h0M627.2 730.0h0M627.1 732.0h0M624.5 735.5h0M637.6 728.8h0M619.7 731.9h0M620.7 710.7h0M633.6 739.6h0M611.0 730.1h0M611.8 738.5h0M624.3 716.3h0M618.8 723.1h0M620.3 716.4h0M624.0 712.5h0M621.9 711.7h0M626.8 718.7h0M632.0 721.4h0M613.0 732.3h0M622.5 729.0h0M610.7 737.6h0M618.8 735.5h0M616.6 741.6h0M613.7 736.3h0M620.2 738.7h0M610.0 737.7h0M619.9 741.6h0M622.0 739.5h0M615.8 741.4h0M622.1 732.4h0M616.2 741.0h0M617.0 739.5h0M619.7 738.9h0M613.5 739.9h0M625.0 734.2h0M622.1 741.6h0M615.8 737.7h0M626.3 737.8h0M618.3 741.6h0M610.9 741.1h0M681.6 703.3h0M663.7 699.7h0M660.9 674.7h0M660.9 701.3h0M657.9 691.8h0M673.6 687.1h0M628.2 597.4h0M629.8 597.4h0M643.7 595.5h0M672.5 593.2h0M700.1 591.7h0M700.1 653.9h0M683.5 660.8h0" stroke="#FF7F00" stroke-width="2.3" stroke-linecap="round" fill="none"/>
<path d="M631.5 684.1h0M626.6 703.7h0M620.9 739.2h0M618.9 722.6h0M611.9 702.6h0M647.2 726.9h0M635.6 741.6h0M637.0 741.6h0M639.8 741.6h0M641.3 741.6h0M652.6 741.6h0M683.5 723.5h0M700.1 733.4h0M711.7 729.3h0M726.2 738.5h0M773.0 739.9h0M711.7 741.6h0M690.9 741.6h0M677.8 741.6h0M663.7 725.8h0M660.5 741.6h0M652.2 741.6h0" stroke="#E41A1C" stroke-width="2.3" stroke-linecap="round" fill="none"/>
<path d="M619.1 632.1h0M616.7 636.7h0M611.6 663.4h0M620.0 609.2h0M610.8 620.0h0M615.5 680.2h0M613.0 625.8h0M610.1 709.9h0M647.1 722.3h0M630.1 741.6h0M650.9 741.6h0M635.6 706.6h0M627.4 696.8h0M610.0 679.7h0M631.1 684.8h0M641.9 696.5h0M622.1 688.0h0M621.1 704.7h0M623.9 717.9h0M630.1 707.7h0M632.2 706.0h0M619.5 717.6h0M610.5 741.6h0M644.0 705.0h0M627.1 716.2h0M626.1 707.2h0M672.5 595.5h0M695.5 595.5h0M637.9 617.0h0M652.2 636.6h0M690.9 639.3h0M726.2 636.1h0M672.5 655.5h0M628.2 655.9h0M629.8 657.3h0M635.1 664.0h0M773.0 697.7h0M711.7 706.9h0M683.5 713.1h0" stroke="#377EB8" stroke-width="2.3" stroke-linecap="round" fill="none"/>
<path d="M611.0 671.2h0M617.9 661.6h0M614.7 679.1h0M619.4 644.6h0M614.6 612.1h0M611.9 626.0h0M610.4 658.9h0M615.4 637.1h0M611.1 605.3h0M653.1 720.1h0M625.0 718.5h0M631.9 699.5h0M621.0 704.4h0M612.2 728.6h0M625.4 696.6h0M618.4 678.9h0M644.6 688.0h0M632.5 690.3h0M617.6 716.4h0M617.1 684.7h0M641.9 731.6h0M629.5 691.1h0M627.6 696.7h0M640.5 710.2h0M635.6 726.6h0M614.8 692.8h0M630.2 736.3h0M629.3 725.7h0M637.1 701.4h0M630.9 683.6h0M651.4 737.6h0M628.4 739.5h0M638.2 687.3h0M638.2 731.2h0M635.2 682.5h0M624.3 689.4h0M654.8 699.5h0M661.2 677.3h0M635.1 602.0h0M624.7 629.0h0M667.9 632.4h0M726.2 639.3h0M672.5 646.7h0M700.1 664.2h0M711.7 696.3h0" stroke="#4DAF4A" stroke-width="2.3" stroke-linecap="round" fill="none"/>
<path d="M613.7 657.5h0M611.9 617.3h0M613.3 658.8h0M619.3 653.1h0M610.3 624.1h0M618.7 604.9h0M620.3 679.5h0M613.4 656.8h0M617.1 668.0h0M611.7 668.9h0M610.6 626.1h0M618.4 628.9h0M610.4 640.7h0M614.3 616.5h0M611.1 737.2h0M624.9 730.3h0M645.2 711.3h0M638.9 687.6h0M652.1 733.5h0M634.1 721.6h0M635.4 741.6h0M643.2 694.8h0M636.4 717.5h0M615.0 705.3h0M629.4 741.5h0M620.1 713.1h0M615.9 717.3h0M653.4 722.8h0M610.7 740.2h0M639.5 737.2h0M624.5 715.7h0M649.2 727.9h0M621.5 704.6h0M634.0 695.0h0M646.4 730.5h0M625.2 711.8h0M649.4 715.4h0M646.6 708.4h0M644.3 701.1h0M620.4 680.0h0M612.5 711.1h0M648.6 738.7h0M625.5 719.0h0M653.9 717.2h0M627.1 699.6h0M638.9 737.7h0M611.1 694.9h0M636.4 736.4h0M686.8 711.4h0M665.8 718.2h0M628.2 593.7h0M635.1 597.4h0M643.7 593.7h0M654.7 621.4h0M652.2 640.7h0M663.7 643.5h0M663.7 654.3h0M648.3 657.3h0M726.2 673.9h0M773.0 679.7h0M711.7 697.7h0" stroke="#984EA3" stroke-width="2.3" stroke-linecap="round" fill="none"/>
<path d="M611.0 609.2h0M615.6 616.0h0M612.1 611.7h0M613.3 641.8h0M614.8 616.0h0M611.4 659.7h0M614.3 632.2h0M613.7 669.1h0M612.4 644.7h0M615.9 644.8h0M615.9 632.0h0M615.1 670.5h0M612.9 622.6h0M610.5 606.1h0M612.8 641.0h0M620.9 607.3h0M616.3 674.4h0M620.9 604.6h0M613.1 655.9h0M614.9 632.0h0M613.2 623.9h0M614.3 602.6h0M610.6 668.2h0M610.7 653.4h0M616.3 620.0h0M619.2 616.5h0M615.2 653.2h0M631.0 723.2h0M631.1 686.5h0M646.1 731.4h0M616.2 680.3h0M641.9 683.4h0M618.7 692.8h0M630.6 702.4h0M641.8 735.9h0M650.4 727.1h0M619.8 739.3h0M644.9 727.2h0M641.6 711.7h0M649.4 698.7h0M618.8 704.2h0M630.7 734.8h0M633.6 729.4h0M631.3 741.6h0M637.5 739.5h0M646.3 687.1h0M614.6 688.0h0M631.3 701.1h0M647.8 724.0h0M620.9 688.0h0M643.7 736.0h0M649.5 735.9h0M640.9 739.9h0M624.0 726.0h0M632.4 740.3h0M625.4 717.7h0M631.3 697.4h0M615.2 709.6h0M633.3 740.6h0M635.8 699.1h0M647.4 738.7h0M645.0 699.8h0M639.5 725.6h0M635.5 725.4h0M617.6 701.2h0M639.8 694.1h0M622.6 679.9h0M640.2 698.7h0M635.8 723.0h0M615.2 688.5h0M628.3 730.1h0M620.7 725.4h0M615.8 729.6h0M615.7 728.6h0M630.5 728.3h0M629.1 735.6h0M614.0 718.0h0M637.3 733.1h0M629.0 727.4h0M620.7 735.2h0M619.6 727.4h0M637.5 732.0h0M621.2 722.4h0M618.7 730.1h0M617.2 711.9h0M620.6 721.4h0M612.5 731.0h0M614.4 741.6h0M620.5 720.5h0M615.2 741.4h0M612.0 714.9h0M623.8 727.0h0M631.1 717.6h0M631.1 728.1h0M618.7 723.8h0M632.6 723.5h0M625.0 741.3h0M628.8 719.6h0M617.6 717.9h0M618.8 711.4h0M634.3 734.9h0M628.1 720.4h0M625.2 740.8h0M626.6 719.9h0M625.4 741.6h0M634.3 730.6h0M615.8 724.0h0M621.7 741.3h0M612.4 741.6h0M623.0 739.3h0M619.9 735.0h0M615.8 730.5h0M611.7 733.2h0M621.2 730.9h0M617.5 741.6h0M622.4 729.9h0M619.8 731.6h0M609.4 734.9h0M620.4 738.8h0M612.0 733.1h0M611.6 741.6h0M624.8 737.2h0M613.2 738.3h0M614.3 740.8h0M625.3 740.9h0M615.7 741.3h0M614.1 730.2h0M666.7 719.0h0M660.5 711.0h0M664.4 689.4h0M614.4 593.7h0M621.3 591.7h0M639.0 593.7h0M654.7 595.5h0M675.2 591.7h0M726.2 651.6h0M672.5 657.3h0M711.7 662.4h0M700.1 664.7h0M683.5 675.5h0M677.8 705.1h0" stroke="#FF7F00" stroke-width="2.3" stroke-linecap="round" fill="none"/>
<path d="M642.8 683.2h0M631.9 719.0h0M631.3 741.2h0M626.8 737.3h0M630.1 731.1h0M626.5 741.6h0M638.4 741.6h0M642.7 741.6h0M644.1 741.6h0M646.9 741.6h0M649.8 741.6h0M651.2 741.6h0M695.5 728.1h0M726.2 720.5h0M690.9 732.7h0M683.5 741.6h0M672.5 741.6h0M663.7 732.7h0M654.7 738.5h0M649.4 738.5h0M647.1 741.6h0M643.7 741.6h0M675.2 597.4h0" stroke="#E41A1C" stroke-width="2.3" stroke-linecap="round" fill="none"/>
<path d="M617.7 634.5h0M618.4 622.5h0M610.7 637.6h0M613.2 610.2h0M648.8 688.4h0M623.9 734.8h0M621.8 712.1h0M637.4 710.0h0M618.2 719.8h0M615.4 713.6h0M628.1 705.8h0M641.6 727.9h0M643.5 731.2h0M615.5 707.2h0M625.1 721.9h0M647.3 697.3h0M635.1 708.3h0M610.2 737.7h0M638.6 716.4h0M626.4 729.5h0M632.8 711.3h0M620.3 707.3h0M635.6 694.0h0M644.8 728.7h0M652.3 714.8h0M628.0 704.0h0M650.5 739.5h0M635.8 730.7h0M624.4 729.8h0M649.9 648.6h0M683.5 641.2h0M711.7 675.1h0M690.9 676.7h0" stroke="#377EB8" stroke-width="2.3" stroke-linecap="round" fill="none"/>
<path d="M611.0 664.0h0M610.7 642.0h0M614.5 629.4h0M615.4 607.0h0M618.3 656.6h0M610.2 642.2h0M610.6 634.4h0M617.2 602.8h0M612.7 674.1h0M610.4 647.3h0M615.7 612.1h0M612.7 604.3h0M619.1 659.5h0M642.6 695.7h0M645.7 689.2h0M642.6 697.6h0M622.0 741.1h0M629.3 696.9h0M621.8 708.6h0M612.2 731.1h0M636.0 736.7h0M621.4 709.5h0M618.3 741.6h0M617.5 713.9h0M631.8 711.0h0M617.9 689.3h0M652.8 710.4h0M626.6 701.0h0M623.7 677.9h0M639.6 717.3h0M610.6 705.8h0M643.8 715.8h0M625.3 687.9h0M616.2 678.8h0M616.2 715.8h0M620.1 686.7h0M641.4 714.5h0M647.2 686.6h0M610.3 695.6h0M627.1 741.6h0M615.4 691.3h0M637.9 624.4h0M637.9 625.5h0M637.9 658.9h0M773.0 681.5h0M690.9 675.1h0" stroke="#4DAF4A" stroke-width="2.3" stroke-linecap="round" fill="none"/>
<path d="M618.3 642.6h0M610.7 645.2h0M618.0 665.5h0M616.2 605.6h0M621.0 643.2h0M618.4 654.5h0M617.5 636.2h0M616.1 634.3h0M616.4 609.0h0M615.2 632.2h0M611.8 621.3h0M610.7 614.3h0M619.5 666.8h0M615.7 658.4h0M612.5 648.0h0M614.3 632.0h0M617.6 646.4h0M620.0 638.8h0M612.1 659.7h0M612.9 651.3h0M635.1 694.3h0M630.9 724.1h0M613.7 729.0h0M629.0 716.4h0M640.7 682.7h0M631.5 705.1h0M625.7 695.2h0M637.6 733.8h0M633.2 712.2h0M627.6 715.9h0M651.1 700.0h0M620.2 684.3h0M628.0 700.3h0M622.4 682.5h0M635.8 727.3h0M629.8 697.3h0M633.7 716.0h0M648.1 714.8h0M630.3 706.8h0M628.5 706.3h0M615.1 705.7h0M624.4 740.4h0M649.8 717.2h0M651.0 733.1h0M649.1 691.3h0M624.2 712.7h0M617.7 682.3h0M631.5 695.6h0M650.8 711.8h0M631.8 727.6h0M624.0 698.2h0M637.7 688.1h0M639.0 737.1h0M682.9 698.8h0M673.6 721.2h0M668.7 682.1h0M665.3 686.9h0M683.2 678.9h0M665.6 691.0h0M661.2 687.9h0M660.5 619.7h0M667.9 637.7h0M649.9 643.9h0M690.9 640.7h0M726.2 643.5h0M639.0 664.0h0M640.7 664.0h0M711.7 669.8h0M690.9 666.3h0M683.5 680.8h0M672.5 669.3h0M677.1 669.8h0" stroke="#984EA3" stroke-width="2.3" stroke-linecap="round" fill="none"/>
<path d="M610.8 677.8h0M612.8 661.7h0M611.7 601.8h0M618.0 649.7h0M619.2 603.4h0M610.5 646.0h0M615.3 638.9h0M619.6 608.4h0M614.9 663.3h0M616.9 631.6h0M619.6 652.4h0M619.1 651.6h0M611.9 618.0h0M614.3 604.1h0M619.0 638.5h0M615.8 612.2h0M615.8 627.3h0M620.1 625.1h0M613.8 637.9h0M619.4 680.4h0M611.0 605.0h0M614.9 625.3h0M612.6 618.5h0M610.5 634.6h0M613.0 664.2h0M617.7 659.3h0M637.5 682.3h0M651.4 739.0h0M618.5 709.5h0M643.0 702.6h0M644.5 733.1h0M611.3 677.5h0M615.3 696.1h0M642.2 710.6h0M633.9 711.3h0M610.2 738.6h0M627.2 711.5h0M636.7 698.7h0M633.9 714.9h0M644.1 733.9h0M627.3 702.8h0M617.6 709.8h0M643.5 691.9h0M618.3 692.6h0M631.8 740.9h0M639.4 709.3h0M623.7 738.0h0M621.4 709.8h0M620.4 719.2h0M645.7 706.6h0M648.2 691.0h0M624.6 729.7h0M610.2 683.5h0M640.8 709.1h0M641.0 704.0h0M620.5 681.5h0M646.2 686.3h0M635.2 694.1h0M637.8 696.0h0M641.8 719.4h0M640.4 726.9h0M623.2 684.4h0M625.5 741.6h0M642.6 706.6h0M623.2 737.9h0M612.4 678.8h0M639.9 689.7h0M643.7 688.6h0M628.3 710.7h0M620.0 719.2h0M634.4 739.9h0M624.2 740.5h0M625.3 712.0h0M624.4 713.8h0M628.0 732.0h0M635.6 732.0h0M626.5 725.1h0M619.1 726.6h0M633.8 732.3h0M633.4 732.8h0M613.3 706.1h0M634.4 719.4h0M614.6 717.3h0M630.5 732.3h0M623.9 721.3h0M623.1 714.7h0M611.4 740.8h0M626.8 718.5h0M619.1 741.6h0M611.0 732.8h0M619.8 741.6h0M626.4 734.6h0M622.7 715.1h0M635.3 721.6h0M625.3 716.8h0M634.3 731.4h0M623.8 724.3h0M629.5 741.4h0M617.9 724.9h0M611.1 705.5h0M611.2 739.1h0M615.7 724.5h0M635.1 720.0h0M632.5 740.0h0M612.3 714.1h0M629.1 735.0h0M613.5 717.8h0M625.5 718.6h0M628.8 734.3h0M630.4 728.5h0M623.9 723.1h0M626.7 738.9h0M612.7 725.8h0M630.2 726.3h0M630.1 737.4h0M610.2 704.7h0M621.5 737.0h0M624.6 711.2h0M614.8 713.4h0M611.6 732.9h0M614.2 724.5h0M619.7 729.7h0M618.8 738.8h0M621.6 729.6h0M615.0 741.6h0M616.4 733.6h0M620.9 739.2h0M609.7 740.4h0M619.7 735.6h0M609.8 731.5h0M619.7 741.6h0M617.1 730.5h0M625.6 741.6h0M609.8 740.9h0M613.2 739.6h0M613.6 735.7h0M621.0 732.8h0M623.8 739.9h0M625.8 738.6h0M611.0 731.9h0M614.8 741.3h0M673.9 685.2h0M616.7 594.4h0M695.5 591.7h0M695.5 593.7h0M624.7 604.8h0M690.9 651.6h0M773.0 643.9h0M711.7 655.9h0M711.7 671.2h0M726.2 664.0h0M690.9 664.7h0M683.5 694.7h0M672.5 675.1h0M677.1 675.1h0" stroke="#FF7F00" stroke-width="2.3" stroke-linecap="round" fill="none"/>
<text x="49.2" y="747.52" font-size="16.6" text-anchor="end" fill="#4D4D4D">0.00</text>
<text x="49.2" y="710.14" font-size="16.6" text-anchor="end" fill="#4D4D4D">0.25</text>
<text x="49.2" y="672.75" font-size="16.6" text-anchor="end" fill="#4D4D4D">0.50</text>
<text x="49.2" y="635.36" font-size="16.6" text-anchor="end" fill="#4D4D4D">0.75</text>
<text x="49.2" y="597.98" font-size="16.6" text-anchor="end" fill="#4D4D4D">1.00</text>
<path d="M50.2 741.42H51.8M50.2 704.04H51.8M50.2 666.65H51.8M50.2 629.26H51.8M50.2 591.88H51.8" stroke="#888" stroke-width="0.8" fill="none"/>
<text x="14.3" y="666.65" font-size="17.7" text-anchor="middle" fill="#000" transform="rotate(-90 14.3 666.65)">Power</text>
<text x="416.7" y="802.7" font-size="17.7" text-anchor="middle" fill="#000">Overlap Prop</text>
<text x="416.7" y="824.7" font-size="19.5" text-anchor="middle" fill="#000"><tspan font-family="Liberation Serif">π</tspan>=1</text>
<rect x="51.8" y="827.9" width="180.6" height="19" fill="#D9D9D9"/>
<text x="142.1" y="844.1" font-size="18" text-anchor="middle" fill="#1A1A1A">CAMERA</text>
<rect x="51.8" y="846.9" width="180.6" height="136.5" fill="#EBEBEB"/>
<path d="M51.8 961.68H232.4M51.8 930.66H232.4M51.8 899.64H232.4M51.8 868.62H232.4M80.53 846.9V983.4M121.58 846.9V983.4M162.62 846.9V983.4M203.67 846.9V983.4" stroke="#fff" stroke-opacity="0.75" stroke-width="0.9" fill="none"/>
<path d="M51.8 977.2H232.4M51.8 946.17H232.4M51.8 915.15H232.4M51.8 884.13H232.4M51.8 853.1H232.4M60.01 846.9V983.4M101.05 846.9V983.4M142.1 846.9V983.4M183.15 846.9V983.4M224.19 846.9V983.4" stroke="#fff" stroke-opacity="0.8" stroke-width="1.1" fill="none"/>
<path d="M60.01 983.4V985.2M101.05 983.4V985.2M142.1 983.4V985.2M183.15 983.4V985.2M224.19 983.4V985.2" stroke="#888" stroke-width="0.8" fill="none"/>
<text x="71.71" y="991.6" font-size="17.5" text-anchor="end" fill="#4D4D4D" transform="rotate(-60 71.71 991.6)">0.00</text>
<text x="112.75" y="991.6" font-size="17.5" text-anchor="end" fill="#4D4D4D" transform="rotate(-60 112.75 991.6)">0.25</text>
<text x="153.8" y="991.6" font-size="17.5" text-anchor="end" fill="#4D4D4D" transform="rotate(-60 153.8 991.6)">0.50</text>
<text x="194.85" y="991.6" font-size="17.5" text-anchor="end" fill="#4D4D4D" transform="rotate(-60 194.85 991.6)">0.75</text>
<text x="235.89" y="991.6" font-size="17.5" text-anchor="end" fill="#4D4D4D" transform="rotate(-60 235.89 991.6)">1.00</text>
<path d="M138.5 880.0h0M141.9 934.8h0M95.8 976.8h0M100.9 976.8h0M105.0 976.8h0M106.9 976.8h0M108.5 976.8h0M110.8 975.0h0M112.4 976.8h0M114.7 969.7h0M118.9 976.8h0M122.3 976.1h0M123.5 975.0h0M124.6 974.5h0M129.2 973.4h0M129.2 974.5h0M103.2 976.8h0M121.2 976.8h0" stroke="#E41A1C" stroke-width="2.3" stroke-linecap="round" fill="none"/>
<path d="M100.9 859.0h0M108.5 859.0h0M106.6 865.4h0M104.6 869.4h0M87.3 912.7h0M96.3 918.5h0M100.9 935.8h0M92.4 966.9h0M92.4 968.5h0M96.3 968.5h0M80.8 972.2h0M87.3 972.2h0M92.4 976.1h0M93.5 976.8h0M88.9 976.8h0M85.4 976.1h0" stroke="#377EB8" stroke-width="2.3" stroke-linecap="round" fill="none"/>
<path d="M74.6 854.6h0M90.0 855.1h0M92.4 856.2h0M87.7 859.0h0M85.0 858.1h0M90.0 864.3h0M87.7 866.6h0M80.8 866.6h0M85.4 908.8h0M85.0 928.4h0M80.4 932.1h0M85.9 934.8h0M87.3 940.2h0M87.3 955.8h0M77.8 966.9h0M77.8 975.0h0M80.8 975.4h0M86.6 976.8h0M90.0 976.8h0M91.7 855.3h0" stroke="#4DAF4A" stroke-width="2.3" stroke-linecap="round" fill="none"/>
<path d="M85.0 854.6h0M77.8 858.1h0M81.5 856.2h0M83.1 858.5h0M83.1 869.1h0M83.1 889.2h0M83.1 900.0h0M80.4 911.1h0M80.1 952.1h0M83.6 972.2h0M84.3 976.1h0M83.1 976.8h0M82.0 975.0h0" stroke="#984EA3" stroke-width="2.3" stroke-linecap="round" fill="none"/>
<path d="M74.6 852.9h0M77.4 852.9h0M78.8 852.9h0M80.2 852.9h0M81.6 852.9h0M83.0 852.9h0M84.5 852.9h0M85.9 852.9h0M87.3 852.9h0M88.7 852.9h0M90.1 852.9h0M91.6 852.9h0M93.0 852.9h0M94.4 852.9h0M95.8 852.9h0M100.9 852.9h0M105.0 852.9h0M106.9 852.9h0M108.5 852.9h0M110.8 852.9h0M112.4 852.9h0M114.3 852.9h0M118.9 852.9h0M122.3 852.9h0M123.9 852.9h0M129.2 852.9h0M138.5 852.9h0M141.9 852.9h0M203.7 852.9h0M224.0 852.9h0M80.8 855.1h0M83.1 870.1h0M83.1 871.9h0M83.1 874.2h0M80.8 886.7h0M80.4 893.8h0M60.1 976.8h0M60.8 976.8h0M61.6 976.8h0M62.3 976.8h0M63.1 976.8h0M63.8 976.8h0M64.6 976.8h0M65.4 976.8h0M66.1 976.8h0M66.9 976.8h0M67.6 976.8h0M68.4 976.8h0M69.1 976.8h0M69.9 976.8h0M70.6 976.8h0M71.4 976.8h0M72.2 976.8h0M72.9 976.8h0M73.7 976.8h0M74.4 976.8h0M75.2 976.8h0M75.9 976.8h0M76.7 976.8h0M77.4 976.8h0M78.2 976.8h0M79.0 976.8h0M79.7 976.8h0M80.5 976.8h0M81.2 976.8h0M82.0 976.8h0" stroke="#FF7F00" stroke-width="2.3" stroke-linecap="round" fill="none"/>
<rect x="234.9" y="827.9" width="180.6" height="19" fill="#D9D9D9"/>
<text x="325.2" y="844.1" font-size="18" text-anchor="middle" fill="#1A1A1A">Comp GSEA-FDR</text>
<rect x="234.9" y="846.9" width="180.6" height="136.5" fill="#EBEBEB"/>
<path d="M234.9 961.68H415.5M234.9 930.66H415.5M234.9 899.64H415.5M234.9 868.62H415.5M263.63 846.9V983.4M304.68 846.9V983.4M345.72 846.9V983.4M386.77 846.9V983.4" stroke="#fff" stroke-opacity="0.75" stroke-width="0.9" fill="none"/>
<path d="M234.9 977.2H415.5M234.9 946.17H415.5M234.9 915.15H415.5M234.9 884.13H415.5M234.9 853.1H415.5M243.11 846.9V983.4M284.15 846.9V983.4M325.2 846.9V983.4M366.25 846.9V983.4M407.29 846.9V983.4" stroke="#fff" stroke-opacity="0.8" stroke-width="1.1" fill="none"/>
<path d="M243.11 983.4V985.2M284.15 983.4V985.2M325.2 983.4V985.2M366.25 983.4V985.2M407.29 983.4V985.2" stroke="#888" stroke-width="0.8" fill="none"/>
<text x="254.81" y="991.6" font-size="17.5" text-anchor="end" fill="#4D4D4D" transform="rotate(-60 254.81 991.6)">0.00</text>
<text x="295.85" y="991.6" font-size="17.5" text-anchor="end" fill="#4D4D4D" transform="rotate(-60 295.85 991.6)">0.25</text>
<text x="336.9" y="991.6" font-size="17.5" text-anchor="end" fill="#4D4D4D" transform="rotate(-60 336.9 991.6)">0.50</text>
<text x="377.95" y="991.6" font-size="17.5" text-anchor="end" fill="#4D4D4D" transform="rotate(-60 377.95 991.6)">0.75</text>
<text x="418.99" y="991.6" font-size="17.5" text-anchor="end" fill="#4D4D4D" transform="rotate(-60 418.99 991.6)">1.00</text>
<path d="M258.1 951.3h0M256.2 966.4h0M260.2 952.2h0M255.2 969.6h0M261.9 970.0h0M249.4 967.4h0M258.9 960.2h0M258.4 958.6h0M252.9 972.8h0M256.8 975.9h0M257.3 961.8h0M259.7 963.0h0M260.0 960.9h0M248.3 971.1h0M260.7 962.1h0M253.0 973.9h0M254.4 973.0h0M251.3 966.0h0M260.8 953.1h0M260.1 958.9h0M256.7 972.1h0M254.2 963.6h0M253.9 975.1h0M262.0 966.2h0M260.3 968.7h0M252.4 976.4h0M249.5 966.6h0M259.2 974.0h0M258.9 972.5h0M259.5 973.6h0M257.8 957.3h0M257.6 962.0h0M256.9 966.9h0M261.1 971.1h0M258.0 969.0h0M257.8 970.0h0M260.9 967.2h0M254.6 969.8h0M256.1 965.2h0M255.3 973.0h0M255.3 972.5h0M254.5 957.8h0M249.7 967.6h0M254.3 976.4h0M252.6 972.3h0M250.5 969.5h0M262.3 972.3h0M253.6 954.7h0M257.6 971.7h0M258.8 972.0h0M256.3 962.4h0M247.5 974.7h0M252.6 976.3h0M258.7 965.7h0M252.0 971.0h0M254.0 958.3h0M258.7 964.9h0M250.8 962.3h0M261.8 968.2h0M250.5 961.8h0M258.6 971.4h0M255.9 964.5h0M260.3 972.6h0M250.1 968.5h0M255.9 954.6h0M259.7 970.6h0M259.8 966.9h0M259.7 966.7h0M258.5 971.1h0M261.6 976.1h0M249.6 967.9h0M250.7 966.6h0M253.3 967.8h0M256.2 972.3h0M260.3 955.2h0M255.9 964.9h0M252.8 965.0h0M252.6 972.7h0M253.6 966.9h0M251.2 967.1h0M251.6 959.2h0M251.7 969.9h0M259.4 951.9h0M257.1 970.2h0M258.2 956.9h0M255.9 959.1h0M255.8 955.2h0M259.8 964.4h0M247.8 975.4h0M253.6 974.1h0M248.8 973.7h0M252.4 975.4h0M252.4 968.9h0M259.0 954.2h0M257.9 974.0h0M262.1 970.1h0M260.7 954.2h0M259.1 962.8h0M257.7 955.1h0M258.0 957.7h0M249.1 974.5h0M249.6 967.9h0M254.5 973.7h0M261.6 963.7h0M261.1 969.7h0M256.2 965.2h0M259.8 953.2h0M259.5 961.0h0M258.5 956.9h0M249.9 967.3h0M261.5 973.1h0M255.3 964.3h0M255.8 957.1h0M252.0 973.8h0M251.7 962.0h0M252.1 958.3h0M259.1 956.4h0M250.6 961.3h0M252.8 965.9h0M255.4 956.2h0M250.1 971.0h0M255.9 970.1h0M256.8 974.6h0M261.5 975.0h0M261.1 965.5h0M258.3 972.3h0M253.2 953.8h0M251.4 966.7h0M260.5 952.2h0M258.4 971.3h0M259.7 956.1h0M257.7 972.4h0M262.2 969.7h0M260.6 957.8h0M254.0 976.4h0M256.7 952.1h0M261.9 969.0h0M255.0 975.1h0M254.0 976.2h0M256.6 963.4h0M258.5 952.2h0M253.0 959.0h0M254.0 953.4h0M260.1 951.4h0M257.2 960.4h0M253.4 970.3h0M260.3 957.2h0M256.1 965.4h0M255.7 963.7h0M256.1 968.7h0M255.9 971.9h0M255.2 968.8h0M260.8 963.3h0M253.4 955.3h0M254.5 953.1h0M260.6 955.0h0M253.6 958.6h0M256.0 966.1h0M255.1 953.3h0M258.9 956.7h0M249.4 974.8h0M250.9 967.7h0M254.4 969.3h0M252.0 965.8h0M261.0 962.8h0M258.7 973.9h0M254.2 962.5h0M259.1 968.1h0M249.9 973.9h0M257.2 960.7h0M251.1 959.4h0M258.9 975.0h0M256.3 966.2h0M251.6 959.1h0M260.8 967.9h0M255.4 952.3h0M251.7 966.4h0M257.3 964.9h0M254.4 961.4h0M253.4 955.8h0M253.7 966.5h0M257.0 972.8h0M256.5 961.8h0M250.5 965.8h0M259.1 975.4h0M255.4 974.5h0M257.2 974.5h0M258.6 961.6h0M251.5 960.7h0M256.1 951.5h0M260.0 963.3h0M249.2 971.4h0M253.8 954.4h0M252.8 965.7h0M253.0 965.4h0M255.8 957.4h0M257.1 971.0h0M259.2 956.6h0M250.4 962.3h0M261.3 968.2h0M257.1 971.5h0M261.4 957.9h0M256.0 968.0h0M252.8 974.4h0M258.2 952.8h0M258.7 955.0h0M257.5 956.6h0M257.7 959.3h0M258.7 963.4h0M256.4 967.8h0M253.3 954.0h0M252.0 966.1h0M249.6 960.9h0M257.2 952.7h0M253.5 963.8h0M256.4 965.4h0M261.4 959.7h0M253.3 960.6h0M255.4 973.0h0M249.6 974.1h0M252.7 958.7h0M257.3 959.9h0M250.0 969.7h0M256.5 967.5h0M249.6 968.0h0M257.9 959.9h0M259.0 975.6h0M255.6 962.1h0M257.4 960.0h0M260.4 963.8h0M259.9 972.5h0M256.5 967.7h0M261.2 967.3h0M259.5 969.4h0M256.1 960.4h0M260.9 972.3h0M262.1 967.8h0M254.1 964.7h0M255.9 966.4h0M257.3 954.8h0M260.9 972.7h0M256.8 960.2h0M257.1 970.5h0M262.9 976.0h0M255.0 968.2h0M252.2 961.5h0M254.8 970.7h0M256.2 970.4h0M252.1 954.6h0M253.1 964.3h0M257.1 952.7h0M258.0 972.7h0M252.9 960.0h0M254.6 957.0h0M259.0 955.8h0M248.4 970.1h0M253.2 955.3h0M248.7 973.9h0M258.0 972.6h0M252.8 971.8h0M254.3 962.1h0M256.9 962.6h0M260.3 972.3h0M257.0 966.4h0M256.5 964.4h0M257.9 956.3h0M253.0 958.7h0M256.8 973.7h0M259.0 967.2h0M249.2 970.5h0M253.5 958.2h0M258.6 955.8h0M262.1 969.3h0M261.8 965.1h0M256.5 951.5h0M260.8 961.9h0M251.9 966.5h0M261.3 974.0h0M254.6 975.2h0M256.0 972.2h0M257.3 956.5h0M253.1 975.1h0M258.3 968.1h0M255.3 960.3h0M260.0 957.3h0M252.2 969.4h0M252.9 975.6h0M259.2 955.9h0M260.0 963.8h0M252.0 974.0h0M261.5 974.0h0M261.0 956.7h0M256.6 951.6h0M258.3 976.2h0M248.8 970.7h0M252.8 967.4h0M258.6 962.1h0M254.0 953.5h0M255.2 965.8h0M250.9 967.4h0M256.8 965.3h0M255.7 969.5h0M253.3 966.8h0M253.4 960.1h0M249.3 971.3h0M254.4 959.7h0M256.9 955.1h0M251.5 974.5h0M253.1 975.4h0M259.2 953.4h0M259.7 957.5h0M262.0 972.9h0M258.1 962.8h0M253.9 963.9h0M250.6 964.2h0M253.5 958.8h0M259.4 966.4h0M250.3 965.1h0M250.1 972.1h0M251.4 963.4h0M252.3 976.3h0M249.2 965.3h0M253.4 975.6h0M258.7 956.5h0M251.7 958.2h0M254.7 964.5h0M257.1 975.3h0M259.2 953.4h0M257.4 975.7h0M260.7 964.5h0M270.2 915.4h0M283.9 915.4h0M272.8 920.4h0M263.3 921.1h0M257.9 922.6h0M272.1 923.8h0M264.1 927.6h0M259.5 928.8h0M268.6 929.5h0M267.1 932.6h0M263.7 932.2h0M279.7 933.7h0M283.9 934.9h0M270.2 937.6h0M274.0 942.1h0M261.0 942.1h0M267.1 945.6h0M261.8 945.6h0M276.3 949.4h0M263.7 953.2h0M266.7 959.3h0M270.2 962.0h0M289.7 963.2h0M266.7 964.7h0M276.3 965.8h0M266.7 970.0h0M270.2 970.8h0M266.7 973.5h0M270.2 973.5h0M266.7 976.9h0M276.3 976.9h0M261.8 975.8h0M263.3 975.8h0M257.9 949.4h0M260.2 951.7h0M257.2 937.9h0M258.7 934.1h0M279.3 861.9h0M292.0 860.4h0M294.3 876.4h0M277.0 886.8h0M292.3 910.1h0M270.2 914.3h0M274.0 913.5h0M283.9 914.3h0M263.3 907.4h0M268.6 904.3h0M304.2 871.2h0M308.8 860.8h0M301.9 870.1h0M294.3 876.3h0M302.3 876.3h0M291.5 909.9h0M297.7 928.4h0M297.7 938.3h0M283.9 934.8h0M280.0 934.2h0M289.9 963.4h0M276.0 966.2h0M276.0 977.3h0M386.5 852.9h0M276.5 886.7h0M283.4 915.0h0" stroke="#E41A1C" stroke-width="2.3" stroke-linecap="round" fill="none"/>
<path d="M248.0 941.6h0M259.1 941.5h0M253.6 915.9h0M246.7 973.4h0M252.8 930.1h0M255.0 935.4h0M250.2 940.0h0M247.5 939.1h0M248.6 969.3h0M254.2 948.1h0M248.1 937.1h0M250.6 941.7h0M251.8 940.7h0M245.9 956.8h0M260.2 939.9h0M254.7 943.2h0M251.5 921.8h0M256.4 940.2h0M249.2 931.8h0M251.2 960.0h0M258.6 903.3h0M254.3 942.8h0M248.2 935.2h0M259.3 907.4h0M256.3 946.7h0M248.1 951.1h0M253.3 928.1h0M247.5 944.8h0M254.9 921.0h0M259.8 932.4h0M251.7 935.0h0M246.0 975.6h0M247.7 965.1h0M256.8 946.2h0M246.7 967.7h0M255.0 925.7h0M246.9 946.4h0M255.3 939.9h0M255.3 908.5h0M246.7 952.0h0M252.2 923.5h0M256.1 915.8h0M248.7 937.1h0M258.3 903.7h0M249.1 953.4h0M248.9 944.2h0M247.0 959.9h0M256.8 920.4h0M253.1 954.1h0M256.0 950.7h0M254.4 945.0h0M256.1 936.6h0M258.0 923.2h0M251.2 942.9h0M250.0 937.8h0M250.4 962.1h0M246.8 952.5h0M249.6 927.5h0M250.6 922.0h0M255.4 939.1h0M260.2 925.0h0M247.2 945.9h0M261.2 925.5h0M259.3 914.8h0M246.3 945.6h0M253.1 925.6h0M256.5 931.0h0M249.4 936.8h0M252.2 916.8h0M257.7 947.8h0M246.2 967.0h0M246.5 948.8h0M251.5 920.1h0M256.0 911.6h0M260.4 937.4h0M245.9 968.0h0M246.9 967.0h0M247.5 970.0h0M250.4 927.4h0M255.4 911.2h0M258.3 916.5h0M253.0 939.0h0M259.5 945.9h0M246.7 956.5h0M252.5 954.0h0M254.2 915.9h0M255.3 909.2h0M259.3 932.8h0M253.3 935.1h0M246.9 936.9h0M247.1 946.3h0M260.0 944.5h0M254.8 916.9h0M248.0 939.3h0M257.2 942.9h0M256.4 904.7h0M255.7 931.8h0M259.5 925.9h0M256.3 915.4h0M258.4 913.2h0M248.6 952.7h0M251.6 932.9h0M256.8 927.2h0M251.0 964.0h0M248.8 934.8h0M246.9 970.3h0M250.5 930.6h0M250.8 929.3h0M251.7 921.6h0M251.1 961.0h0M260.2 927.3h0M257.9 931.7h0M261.0 930.0h0M256.2 950.3h0M255.1 950.4h0M251.1 946.5h0M260.5 916.0h0M255.2 912.3h0M260.8 925.4h0M249.7 966.6h0M248.2 948.4h0M247.4 956.7h0M247.5 946.9h0M254.6 908.8h0M256.3 906.1h0M247.3 958.8h0M260.2 936.9h0M253.5 956.0h0M259.8 919.4h0M253.4 917.5h0M248.9 944.9h0M250.0 966.4h0M259.2 936.3h0M254.4 912.4h0M248.0 972.7h0M247.4 943.2h0M247.7 959.4h0M260.6 918.6h0M251.4 949.8h0M257.3 909.1h0M260.5 913.8h0M251.2 929.0h0M252.6 915.6h0M253.0 954.9h0M246.0 969.6h0M256.6 904.1h0M252.4 943.6h0M249.2 958.2h0M259.3 940.4h0M257.3 907.6h0M257.0 915.9h0M252.9 941.6h0M246.1 961.4h0M258.6 915.8h0M248.0 938.0h0M253.7 952.0h0M253.4 929.1h0M252.4 926.4h0M252.8 925.3h0M248.4 929.8h0M256.5 902.7h0M247.4 969.0h0M253.4 913.4h0M252.6 930.8h0M254.8 931.7h0M251.9 917.5h0M249.4 949.5h0M251.9 923.1h0M251.5 929.5h0M250.8 930.3h0M255.6 905.4h0M249.0 958.9h0M249.7 936.1h0M254.9 911.1h0M260.4 916.7h0M250.4 952.2h0M249.9 953.5h0M250.1 957.7h0M252.6 938.5h0M254.2 912.3h0M254.9 950.0h0M251.1 947.5h0M252.1 939.6h0M259.1 925.0h0M258.3 926.9h0M252.5 923.5h0M256.1 946.7h0M255.7 933.7h0M250.7 924.0h0M250.8 964.5h0M258.4 916.9h0M250.5 964.5h0M260.0 930.8h0M259.3 925.0h0M259.2 941.5h0M258.2 918.8h0M260.5 933.3h0M259.8 906.2h0M256.1 923.9h0M253.6 954.5h0M250.7 933.7h0M258.9 910.7h0M258.8 937.4h0M257.8 948.0h0M249.1 930.7h0M248.1 947.3h0M245.6 975.5h0M260.3 912.8h0M254.8 945.2h0M251.5 957.1h0M250.2 946.3h0M246.6 949.1h0M260.6 910.2h0M257.5 933.2h0M250.6 941.2h0M259.8 933.4h0M251.2 928.0h0M253.2 918.9h0M255.9 902.3h0M247.1 960.0h0M251.3 953.1h0M260.8 931.3h0M257.9 936.7h0M255.9 936.6h0M260.1 940.6h0M246.4 956.9h0M253.4 918.8h0M254.6 935.9h0M251.0 938.3h0M256.7 937.9h0M250.9 953.7h0M248.4 927.0h0M256.8 927.3h0M258.9 936.5h0M255.9 929.5h0M257.7 903.2h0M254.0 938.0h0M258.0 910.8h0M250.0 959.6h0M253.3 930.0h0M256.1 902.4h0M252.3 935.7h0M251.9 939.1h0M247.6 958.1h0M253.8 952.7h0M251.7 929.1h0M250.6 922.3h0M259.0 933.3h0M247.7 955.1h0M258.5 924.5h0M260.2 916.3h0M250.8 959.1h0M259.0 920.4h0M254.0 951.7h0M249.5 958.0h0M246.6 971.5h0M247.8 958.4h0M255.6 911.1h0M260.1 942.6h0M250.3 932.0h0M252.0 923.9h0M250.1 949.9h0M258.4 911.5h0M258.7 927.3h0M247.6 967.7h0M250.3 934.2h0M261.3 924.4h0M250.4 958.6h0M250.4 944.9h0M253.9 940.3h0M251.5 922.0h0M249.0 938.4h0M255.2 908.6h0M246.2 952.5h0M258.1 913.4h0M259.4 944.2h0M251.3 940.7h0M256.8 917.3h0M250.6 938.5h0M260.2 915.4h0M252.3 958.9h0M247.1 933.6h0M253.6 912.8h0M253.7 952.8h0M259.7 907.8h0M256.6 941.7h0M260.0 923.5h0M255.6 941.6h0M258.2 912.4h0M253.9 933.9h0M254.1 927.9h0M256.8 925.5h0M258.3 933.0h0M251.7 936.9h0M251.8 933.0h0M260.1 922.1h0M259.2 944.1h0M252.7 953.3h0M247.0 947.9h0M254.8 938.4h0M249.8 927.7h0M256.8 914.6h0M258.1 927.2h0M254.2 927.9h0M249.8 948.8h0M258.1 913.1h0M247.1 942.6h0M258.8 917.5h0M251.4 925.8h0M253.1 913.9h0M247.9 971.0h0M246.5 956.9h0M257.7 937.2h0M248.2 948.8h0M261.0 911.0h0M253.3 932.8h0M258.3 907.1h0M252.4 936.4h0M255.8 902.6h0M254.8 923.2h0M257.5 903.5h0M249.3 927.4h0M259.0 945.8h0M254.7 943.0h0M256.6 910.0h0M253.8 920.2h0M258.0 906.5h0M248.4 969.5h0M256.5 909.9h0M259.8 904.1h0M248.2 943.2h0M257.5 934.7h0M254.9 951.0h0M249.1 925.1h0M256.2 909.4h0M257.0 949.1h0M250.9 949.9h0M248.1 950.4h0M256.2 912.0h0M253.1 919.0h0M250.1 961.2h0M246.8 948.6h0M247.5 958.3h0M257.5 928.1h0M251.7 936.2h0M250.5 951.9h0M252.8 938.1h0M257.4 946.7h0M250.8 920.2h0M249.4 966.7h0M252.1 961.0h0M259.4 926.7h0M254.1 949.8h0M248.8 934.6h0M250.6 929.6h0M251.8 927.9h0M256.1 931.3h0M258.4 932.1h0M248.7 959.0h0M249.8 953.7h0M259.2 922.1h0M259.5 909.6h0M251.8 961.0h0M258.9 915.1h0M261.1 929.2h0M252.1 928.3h0M260.4 933.2h0M249.1 949.6h0M260.4 911.3h0M258.0 907.2h0M256.5 932.5h0M256.4 902.0h0M248.8 940.6h0M252.6 937.8h0M249.8 924.5h0M257.8 944.6h0M252.2 947.4h0M251.5 941.8h0M255.9 923.1h0M258.0 948.6h0M249.0 965.8h0M246.9 975.2h0M259.9 915.8h0M254.6 934.8h0M257.5 905.8h0M261.3 933.2h0M257.0 908.5h0M246.7 949.3h0M255.9 902.2h0M247.7 962.1h0M258.7 935.3h0M260.7 914.6h0M256.4 926.3h0M249.8 933.3h0M249.3 965.4h0M250.3 946.9h0M257.6 920.6h0M259.5 917.2h0M248.8 932.7h0M254.8 952.4h0M255.8 916.4h0M247.8 956.7h0M247.2 960.5h0M256.1 912.4h0M256.3 912.0h0M246.4 949.4h0M248.5 947.6h0M247.2 951.4h0M253.3 950.3h0M260.9 922.4h0M259.5 911.1h0M257.3 914.5h0M255.0 914.3h0M247.6 951.8h0M255.9 950.0h0M258.1 910.1h0M253.1 940.6h0M247.5 933.1h0M254.2 941.0h0M257.7 932.9h0M251.4 933.6h0M247.3 940.4h0M247.6 932.7h0M248.1 941.8h0M251.2 960.1h0M255.2 935.8h0M260.3 927.6h0M260.3 910.3h0M254.9 926.4h0M250.9 938.1h0M249.8 934.6h0M255.8 926.5h0M245.7 968.3h0M246.5 969.9h0M251.9 917.2h0M259.0 947.2h0M260.9 916.3h0M254.8 909.9h0M249.0 954.2h0M249.6 949.0h0M254.2 937.2h0M254.6 952.4h0M257.1 937.6h0M253.6 942.2h0M254.2 933.7h0M251.0 927.7h0M250.6 963.5h0M248.7 930.9h0M256.1 944.7h0M256.5 931.1h0M257.1 912.7h0M257.0 933.8h0M257.7 907.7h0M255.3 948.5h0M259.1 909.4h0M256.4 908.7h0M250.7 958.2h0M246.3 969.4h0M258.7 911.7h0M247.2 938.2h0M258.6 929.7h0M257.4 924.1h0M247.5 946.9h0M250.7 959.7h0M254.8 917.1h0M246.9 955.8h0M251.7 931.2h0M257.3 924.6h0M249.0 935.4h0M251.5 958.1h0M248.4 954.7h0M256.3 928.1h0M251.0 931.0h0M256.9 920.3h0M257.7 925.9h0M248.9 938.3h0M260.0 930.3h0M253.0 940.6h0M253.4 917.2h0M249.8 935.3h0M254.1 938.5h0M255.0 953.4h0M258.0 943.2h0M259.8 923.4h0M258.3 919.6h0M249.6 957.6h0M259.7 904.5h0M258.4 924.7h0M253.0 940.9h0M260.0 923.8h0M254.1 911.9h0M252.2 923.7h0M257.5 933.4h0M255.3 920.7h0M260.5 918.4h0M250.8 935.4h0M257.7 918.5h0M251.4 921.1h0M260.7 921.5h0M257.4 919.2h0M253.4 940.1h0M257.1 917.1h0M261.0 905.4h0M249.6 948.3h0M253.1 929.3h0M254.8 915.1h0M248.2 955.1h0M256.3 928.4h0M261.0 913.6h0M251.1 955.3h0M260.8 914.4h0M260.9 921.3h0M258.7 932.4h0M251.8 960.0h0M260.2 932.1h0M259.5 924.5h0M254.8 923.9h0M246.7 971.2h0M250.8 948.8h0M259.8 919.7h0M263.3 882.9h0M269.4 886.4h0M273.2 879.9h0M276.3 891.0h0M283.9 890.2h0M292.3 893.6h0M267.1 893.6h0M270.2 899.8h0M274.0 899.0h0M280.1 906.6h0M283.9 906.6h0M276.3 908.9h0M268.6 869.9h0M263.7 872.2h0M287.8 856.9h0M291.6 856.9h0M294.6 864.6h0M257.9 889.8h0M261.8 892.9h0M264.1 900.5h0M260.2 908.2h0M261.4 916.5h0M290.0 918.4h0M266.7 921.1h0M268.3 926.5h0M266.7 930.3h0M276.3 930.7h0M270.2 934.9h0M266.7 937.9h0M266.7 941.4h0M270.2 945.6h0M266.7 953.2h0M276.3 974.6h0M261.8 953.2h0M257.9 917.3h0M259.5 924.2h0M345.0 879.3h0M389.9 869.6h0M386.5 860.4h0M324.9 859.0h0M312.2 862.0h0M302.3 865.4h0M294.9 864.3h0M297.3 899.1h0M297.3 906.5h0M290.3 918.5h0M297.7 917.3h0M291.5 894.3h0M283.4 889.7h0" stroke="#377EB8" stroke-width="2.3" stroke-linecap="round" fill="none"/>
<path d="M250.2 911.8h0M257.4 877.5h0M253.1 904.6h0M254.8 910.2h0M251.5 884.1h0M245.9 925.9h0M249.7 885.8h0M248.3 882.9h0M253.6 884.8h0M247.1 877.8h0M255.9 873.8h0M257.2 880.0h0M249.5 870.8h0M250.8 869.8h0M253.6 877.0h0M249.9 896.5h0M251.8 907.9h0M247.3 903.3h0M245.1 960.4h0M248.0 890.4h0M252.0 890.6h0M246.2 926.1h0M250.6 896.1h0M251.2 882.6h0M251.1 868.2h0M249.5 885.8h0M255.5 873.2h0M255.1 874.0h0M249.4 917.5h0M251.9 912.9h0M246.3 934.2h0M253.0 880.0h0M255.0 872.5h0M248.2 902.4h0M250.1 869.0h0M248.0 913.9h0M258.9 876.8h0M252.4 880.1h0M247.3 908.6h0M250.0 882.0h0M252.8 879.9h0M253.8 897.9h0M247.6 909.3h0M253.3 875.9h0M253.5 887.7h0M255.0 866.4h0M255.1 905.0h0M246.7 908.9h0M254.9 899.2h0M245.4 934.4h0M255.5 901.2h0M257.1 894.1h0M247.7 897.8h0M249.3 912.6h0M254.1 875.2h0M246.3 899.5h0M252.7 902.0h0M254.1 872.4h0M247.4 907.3h0M246.8 895.3h0M249.7 876.6h0M246.2 941.1h0M246.6 902.1h0M247.3 906.4h0M255.5 894.5h0M248.4 896.2h0M247.6 919.5h0M254.5 905.9h0M255.6 890.1h0M253.0 866.6h0M254.6 883.1h0M251.4 899.1h0M247.6 899.2h0M254.9 891.0h0M251.3 879.4h0M247.6 890.9h0M252.7 903.2h0M246.9 925.7h0M252.2 910.9h0M249.9 865.6h0M245.2 948.3h0M247.6 920.4h0M245.4 922.2h0M246.4 897.8h0M246.8 905.9h0M248.2 867.2h0M256.7 895.0h0M250.1 878.0h0M250.1 887.7h0M245.5 939.0h0M245.7 908.9h0M254.2 883.7h0M255.3 898.1h0M248.1 893.4h0M246.6 939.0h0M245.5 925.8h0M251.8 878.3h0M250.5 917.9h0M255.5 877.9h0M253.8 865.8h0M253.5 900.8h0M250.1 919.8h0M251.2 913.5h0M249.4 884.0h0M249.7 882.0h0M246.2 950.8h0M253.4 890.5h0M259.0 874.7h0M254.8 909.8h0M253.6 905.5h0M247.2 921.5h0M259.4 882.2h0M253.8 909.6h0M250.5 906.4h0M254.2 868.2h0M247.3 914.9h0M249.7 876.3h0M248.2 910.6h0M252.9 869.4h0M250.4 883.1h0M257.3 873.1h0M257.8 879.0h0M259.5 879.5h0M254.3 905.5h0M255.1 879.3h0M256.8 899.4h0M259.7 875.0h0M252.1 883.7h0M251.6 913.9h0M256.0 882.4h0M254.6 886.1h0M251.5 902.1h0M258.8 884.3h0M257.5 882.4h0M251.4 866.8h0M247.2 917.6h0M245.5 960.8h0M256.4 903.8h0M249.3 874.7h0M245.4 954.1h0M255.0 896.7h0M252.7 913.0h0M246.8 933.5h0M253.7 895.6h0M254.9 876.7h0M255.9 903.3h0M248.7 898.1h0M247.7 922.2h0M249.1 891.4h0M249.9 898.5h0M245.6 971.7h0M251.3 894.3h0M255.5 888.0h0M248.1 876.8h0M248.5 919.3h0M254.9 865.0h0M255.8 873.0h0M256.4 871.5h0M248.0 900.2h0M252.8 886.6h0M254.9 892.8h0M248.9 884.1h0M250.3 903.1h0M256.7 880.2h0M247.3 894.0h0M249.0 881.5h0M246.1 896.7h0M254.5 866.0h0M246.8 906.7h0M259.0 874.1h0M258.8 872.5h0M249.9 905.7h0M250.4 913.9h0M247.7 883.6h0M250.8 869.2h0M254.5 882.1h0M256.6 877.5h0M246.0 942.8h0M246.2 911.7h0M245.6 935.0h0M247.0 883.8h0M257.3 886.9h0M249.8 866.9h0M249.3 894.8h0M248.1 902.6h0M254.0 909.7h0M251.9 888.7h0M248.5 910.6h0M247.8 895.6h0M248.0 873.0h0M254.7 870.5h0M251.9 869.5h0M252.3 900.6h0M256.1 879.3h0M257.3 896.5h0M245.0 956.2h0M246.4 941.9h0M251.6 899.0h0M249.8 879.4h0M244.9 957.6h0M249.4 923.1h0M253.9 901.3h0M249.8 891.5h0M253.9 914.2h0M246.3 945.7h0M247.9 874.7h0M245.0 961.3h0M249.3 911.0h0M249.3 866.3h0M254.2 891.8h0M245.6 975.5h0M250.6 870.1h0M246.8 933.3h0M255.3 890.2h0M247.4 890.2h0M257.6 874.7h0M258.6 877.6h0M256.1 899.3h0M252.4 866.6h0M247.9 875.3h0M249.0 893.4h0M250.7 893.4h0M252.6 885.3h0M255.7 893.7h0M248.6 924.9h0M251.3 902.5h0M248.9 869.5h0M254.4 898.2h0M254.7 867.8h0M249.3 907.4h0M254.6 885.4h0M245.4 959.1h0M249.2 872.0h0M246.0 905.2h0M251.2 872.4h0M255.9 873.8h0M256.0 878.4h0M254.2 864.3h0M257.8 880.3h0M249.3 906.7h0M253.7 904.4h0M259.0 872.8h0M252.2 911.0h0M252.0 901.1h0M246.2 937.5h0M249.8 881.9h0M250.4 907.3h0M255.9 907.8h0M249.2 895.3h0M254.9 908.1h0M253.2 884.7h0M251.5 877.3h0M253.8 879.3h0M257.0 875.3h0M255.5 878.0h0M257.1 868.7h0M251.8 869.8h0M246.4 935.8h0M248.0 883.4h0M253.5 910.0h0M257.4 871.1h0M253.1 898.0h0M245.6 955.1h0M253.6 884.4h0M246.2 918.5h0M249.0 915.4h0M257.5 891.9h0M255.7 869.0h0M254.8 875.7h0M244.9 959.9h0M255.4 876.5h0M248.0 893.5h0M245.9 966.9h0M247.0 901.0h0M245.3 973.5h0M248.5 913.8h0M246.3 908.4h0M251.3 897.8h0M258.6 873.9h0M245.2 950.1h0M254.5 899.1h0M245.4 967.9h0M252.1 906.9h0M251.7 881.4h0M254.2 873.7h0M252.9 870.2h0M254.0 867.8h0M247.4 908.5h0M250.0 892.8h0M255.4 884.7h0M246.0 964.8h0M254.4 894.5h0M253.3 877.9h0M257.3 878.5h0M254.2 911.7h0M246.8 890.3h0M248.3 926.5h0M255.8 883.9h0M247.2 900.9h0M247.7 883.2h0M246.4 935.5h0M258.4 887.0h0M254.8 866.5h0M245.3 955.4h0M248.0 885.1h0M246.8 912.4h0M254.6 873.7h0M258.3 883.3h0M255.5 894.6h0M246.5 895.0h0M253.5 873.6h0M253.5 900.2h0M256.3 902.4h0M248.3 873.9h0M245.9 926.3h0M251.8 903.8h0M247.7 890.8h0M253.2 892.3h0M254.0 908.0h0M247.6 871.5h0M250.5 868.2h0M249.8 910.9h0M245.9 971.5h0M248.9 872.8h0M249.2 918.8h0M248.4 874.4h0M253.1 881.6h0M257.0 871.8h0M251.6 902.7h0M253.7 908.1h0M246.2 915.9h0M248.2 891.6h0M247.8 892.2h0M252.4 901.9h0M257.8 881.6h0M251.1 896.4h0M250.1 866.3h0M245.6 940.4h0M246.6 891.3h0M245.9 954.1h0M256.2 900.5h0M246.6 918.7h0M249.5 888.9h0M252.2 865.0h0M252.5 914.2h0M254.7 899.4h0M257.1 887.9h0M254.1 869.9h0M245.0 957.1h0M254.0 864.7h0M256.7 872.9h0M249.6 868.4h0M254.8 883.5h0M245.0 966.6h0M248.1 884.9h0M251.7 894.1h0M252.0 863.8h0M255.7 906.3h0M247.2 913.2h0M251.3 864.4h0M247.6 921.6h0M246.5 907.6h0M249.1 902.2h0M246.7 931.6h0M252.6 909.0h0M246.2 952.0h0M252.0 888.0h0M252.9 888.6h0M253.9 884.1h0M248.6 898.5h0M245.7 936.3h0M248.5 906.9h0M248.0 893.0h0M253.3 885.4h0M255.2 898.0h0M249.0 910.7h0M252.4 888.6h0M255.8 895.6h0M258.3 879.4h0M250.3 882.2h0M250.7 912.4h0M257.5 893.4h0M255.7 896.7h0M259.0 874.3h0M251.3 871.7h0M246.0 905.2h0M252.1 891.2h0M248.3 913.9h0M247.6 914.9h0M254.8 876.4h0M251.8 874.3h0M250.0 912.4h0M248.6 920.4h0M257.2 880.4h0M248.7 888.3h0M249.0 897.6h0M251.7 904.1h0M245.7 973.2h0M258.5 875.0h0M253.3 891.9h0M249.7 880.5h0M250.8 918.6h0M255.0 867.9h0M255.4 905.9h0M256.8 886.9h0M254.2 864.9h0M246.7 917.4h0M248.5 896.8h0M255.2 870.2h0M248.3 911.8h0M253.1 879.0h0M252.5 869.0h0M254.6 867.6h0M255.1 888.1h0M252.8 875.9h0M251.4 871.6h0M252.0 914.2h0M245.8 923.9h0M245.7 937.5h0M245.2 958.2h0M247.1 891.0h0M253.0 907.0h0M249.0 889.1h0M247.8 869.7h0M258.9 876.9h0M249.9 877.1h0M250.3 881.8h0M257.2 893.7h0M254.1 903.1h0M250.0 869.2h0M245.2 972.5h0M246.9 902.5h0M245.4 962.7h0M255.9 869.1h0M254.8 865.0h0M250.3 899.1h0M250.3 901.0h0M247.1 916.0h0M245.3 941.3h0M254.7 909.3h0M253.5 870.9h0M253.3 884.3h0M245.1 946.1h0M245.1 962.4h0M257.8 889.0h0M248.2 906.8h0M245.5 934.0h0M250.7 879.6h0M245.7 911.4h0M252.2 911.2h0M249.7 915.4h0M256.1 884.6h0M250.7 909.6h0M251.6 901.4h0M245.8 961.7h0M256.3 874.0h0M254.1 869.6h0M260.0 877.6h0M247.0 887.5h0M249.2 898.0h0M256.6 883.2h0M248.5 912.6h0M248.2 910.3h0M245.9 931.2h0M259.0 873.1h0M253.9 895.4h0M246.8 909.1h0M253.4 869.4h0M247.9 886.4h0M251.2 896.9h0M247.1 892.3h0M253.9 906.5h0M256.0 905.5h0M245.9 912.3h0M245.8 975.9h0M251.0 908.7h0M251.8 863.4h0M247.6 917.9h0M247.8 890.6h0M253.5 890.5h0M250.6 888.0h0M249.0 922.5h0M247.9 884.3h0M245.5 956.8h0M253.8 882.1h0M246.0 926.7h0M246.5 908.8h0M251.9 900.5h0M251.1 867.0h0M247.1 879.0h0M255.1 902.4h0M249.1 867.7h0M246.8 906.0h0M258.8 878.9h0M254.1 908.4h0M253.2 909.5h0M256.4 867.3h0M257.4 880.1h0M246.6 937.6h0M251.4 908.7h0M256.3 877.4h0M250.2 891.0h0M252.6 893.2h0M256.4 896.3h0M255.0 883.9h0M258.8 884.2h0M256.1 873.2h0M245.8 935.9h0M246.3 892.1h0M247.2 926.3h0M252.3 882.5h0M249.2 921.7h0M260.3 876.3h0M245.6 950.7h0M248.6 905.5h0M256.0 876.4h0M248.1 878.2h0M252.4 900.3h0M251.5 888.7h0M247.1 880.9h0M246.9 903.5h0M249.7 906.0h0M245.9 902.0h0M252.9 865.7h0M251.2 879.5h0M248.4 875.8h0M247.2 883.6h0M246.1 912.6h0M255.9 881.2h0M246.5 920.4h0M251.8 910.1h0M259.5 880.6h0M246.6 919.8h0M258.8 873.2h0M257.1 869.1h0M244.7 976.1h0M252.0 895.6h0M258.1 887.4h0M246.6 906.0h0M245.8 929.5h0M256.6 891.9h0M247.4 875.8h0M254.1 895.9h0M247.3 921.2h0M249.6 917.3h0M244.9 975.4h0M247.3 879.1h0M256.2 891.9h0M245.6 919.1h0M252.9 909.1h0M247.6 895.9h0M246.6 938.4h0M248.8 920.8h0M246.8 897.1h0M256.1 871.0h0M256.2 872.0h0M253.6 907.7h0M256.1 901.6h0M250.5 877.7h0M252.4 904.7h0M248.5 922.6h0M253.7 870.5h0M246.8 902.2h0M245.7 942.5h0M254.5 878.5h0M246.8 898.7h0M255.9 882.8h0M250.9 890.2h0M256.7 869.6h0M257.5 879.5h0M249.4 873.7h0M256.1 902.4h0M248.7 910.0h0M253.4 885.3h0M249.8 904.9h0M246.7 880.9h0M250.1 917.3h0M249.9 899.2h0M256.9 894.1h0M248.1 883.8h0M247.9 909.1h0M247.8 908.1h0M248.8 867.7h0M258.2 874.5h0M259.2 883.0h0M251.1 874.8h0M250.2 872.4h0M250.7 914.9h0M246.1 922.0h0M254.3 891.2h0M252.8 914.4h0M249.3 879.8h0M248.2 926.5h0M249.8 909.9h0M248.7 916.0h0M250.6 907.1h0M245.7 949.0h0M249.1 903.1h0M256.3 889.4h0M245.8 973.1h0M247.6 902.8h0M257.0 886.5h0M258.5 874.0h0M257.7 878.0h0M258.0 875.9h0M257.7 871.6h0M250.7 903.9h0M248.0 870.5h0M248.6 890.3h0M253.9 914.2h0M254.5 907.7h0M252.2 893.9h0M257.0 873.6h0M249.9 870.7h0M256.7 878.0h0M253.8 898.9h0M248.6 868.4h0M248.5 900.0h0M249.0 884.2h0M259.7 876.7h0M271.5 886.1h0M274.4 873.7h0M262.0 889.2h0M273.4 893.3h0M267.2 895.5h0M263.0 892.1h0M265.5 875.6h0M257.0 872.0h0M258.5 878.5h0M256.3 871.8h0M259.6 881.2h0M270.6 889.6h0M270.9 881.0h0M267.4 896.8h0M280.3 877.0h0M281.9 897.5h0M255.5 896.8h0M261.1 868.9h0M255.5 860.5h0M268.3 861.9h0M259.6 864.5h0M263.7 887.9h0M278.5 884.7h0M256.2 866.6h0M272.7 874.2h0M261.2 872.6h0M266.8 874.2h0M275.4 867.3h0M266.8 878.3h0M271.6 865.6h0M262.2 866.3h0M272.1 892.0h0M277.7 888.2h0M282.0 871.6h0M270.6 870.6h0M255.3 865.8h0M272.0 875.4h0M255.4 888.0h0M255.4 872.7h0M258.0 879.1h0M259.3 875.9h0M256.3 861.8h0M267.7 895.6h0M258.7 884.8h0M271.4 858.4h0M261.0 857.7h0M267.1 859.2h0M271.7 862.3h0M274.8 860.8h0M276.3 866.1h0M274.0 869.2h0M276.3 875.3h0M265.6 877.6h0M280.1 882.2h0M283.9 882.2h0M290.0 879.9h0M292.3 873.0h0M283.9 860.4h0M294.6 860.4h0M267.1 886.8h0M276.3 896.7h0M270.2 911.2h0M266.7 897.5h0M264.8 866.1h0M257.9 863.8h0M295.4 857.4h0M301.9 859.0h0M305.3 857.4h0M313.4 856.2h0M386.5 886.7h0M406.8 852.9h0M297.7 882.7h0M297.7 885.0h0M297.3 912.7h0M276.3 922.3h0M270.2 924.9h0" stroke="#4DAF4A" stroke-width="2.3" stroke-linecap="round" fill="none"/>
<path d="M251.7 868.8h0M246.1 916.8h0M245.9 861.0h0M246.2 887.5h0M251.4 869.2h0M250.3 864.8h0M259.1 855.1h0M260.6 857.9h0M245.1 936.4h0M244.7 908.5h0M249.3 872.4h0M244.8 927.1h0M256.3 855.5h0M250.7 860.9h0M247.8 874.5h0M243.7 960.2h0M247.9 878.4h0M244.6 880.9h0M256.9 861.1h0M246.9 878.1h0M244.3 919.5h0M245.1 855.6h0M245.2 870.9h0M244.1 933.3h0M246.7 879.5h0M243.7 957.2h0M245.7 885.3h0M252.2 868.5h0M243.2 970.7h0M258.6 856.6h0M250.7 857.4h0M245.8 906.1h0M245.0 910.8h0M246.0 884.1h0M244.4 917.9h0M246.8 893.6h0M251.3 858.1h0M245.3 920.8h0M246.1 891.2h0M245.0 903.1h0M252.6 857.4h0M246.7 890.8h0M244.7 880.1h0M245.0 883.9h0M243.9 940.7h0M254.1 858.1h0M245.6 855.0h0M249.6 863.2h0M250.3 860.8h0M260.9 858.5h0M247.5 868.2h0M244.2 962.4h0M254.4 864.6h0M252.0 858.5h0M261.3 858.1h0M244.4 960.2h0M246.3 896.9h0M246.2 889.5h0M244.4 941.7h0M250.3 863.4h0M247.0 886.6h0M249.1 869.3h0M243.8 954.1h0M244.1 939.6h0M253.4 857.4h0M245.7 873.2h0M244.4 910.3h0M245.4 893.7h0M247.3 874.1h0M252.2 866.1h0M246.5 904.7h0M247.0 885.5h0M246.0 911.5h0M243.7 954.3h0M252.7 857.7h0M249.4 862.4h0M246.2 875.1h0M246.9 887.4h0M246.3 874.3h0M260.2 856.1h0M245.5 909.9h0M257.4 859.3h0M245.5 875.5h0M245.9 920.0h0M245.5 883.5h0M253.1 858.2h0M244.4 922.5h0M245.2 878.2h0M245.5 906.1h0M251.7 856.6h0M245.4 869.9h0M247.4 882.6h0M257.7 858.9h0M244.3 926.4h0M260.8 858.8h0M251.9 857.3h0M248.2 865.7h0M247.8 876.7h0M244.6 929.0h0M244.6 941.5h0M249.2 868.5h0M247.9 858.1h0M247.5 871.4h0M245.4 872.9h0M247.2 871.6h0M252.3 857.6h0M246.9 877.9h0M245.5 863.9h0M248.5 872.3h0M244.6 937.2h0M255.0 858.0h0M245.8 866.7h0M245.3 910.4h0M243.9 950.6h0M248.1 871.1h0M247.1 863.8h0M245.4 927.2h0M243.8 973.5h0M263.1 856.5h0M243.5 957.0h0M245.1 896.2h0M243.9 943.6h0M243.7 952.3h0M245.5 868.1h0M245.7 888.7h0M246.1 878.5h0M246.1 878.4h0M245.7 865.8h0M252.7 864.0h0M249.5 858.9h0M249.6 859.1h0M260.3 859.2h0M247.8 862.0h0M245.2 872.5h0M245.0 902.4h0M245.2 879.6h0M245.8 899.1h0M253.4 861.3h0M250.7 858.8h0M250.6 863.4h0M261.1 858.7h0M244.1 968.1h0M246.2 882.0h0M244.4 932.1h0M262.3 856.5h0M250.8 865.6h0M260.1 858.6h0M247.1 868.4h0M249.5 865.9h0M248.4 864.8h0M246.0 911.5h0M251.6 867.9h0M246.0 908.1h0M248.7 867.9h0M244.3 947.1h0M246.1 905.6h0M246.1 871.3h0M253.3 861.9h0M263.4 856.3h0M257.0 859.1h0M244.6 915.0h0M248.2 875.4h0M253.2 860.0h0M245.5 909.6h0M262.5 857.7h0M245.8 862.9h0M250.0 872.7h0M246.3 876.2h0M246.6 874.6h0M249.0 867.4h0M255.3 860.6h0M251.0 863.2h0M244.0 941.4h0M247.8 861.8h0M243.8 955.5h0M254.4 858.3h0M255.0 855.1h0M245.3 869.4h0M259.6 856.4h0M247.7 874.3h0M252.2 860.2h0M244.0 929.6h0M243.7 976.4h0M245.3 924.9h0M243.7 943.2h0M244.5 876.0h0M246.2 862.7h0M245.2 856.3h0M255.6 858.6h0M245.2 884.6h0M249.8 874.0h0M245.6 858.6h0M246.2 894.3h0M253.6 855.1h0M244.0 946.2h0M249.1 873.3h0M244.8 924.4h0M246.0 868.5h0M253.7 857.7h0M254.1 858.7h0M245.1 880.2h0M248.3 869.1h0M246.1 905.9h0M245.7 857.6h0M244.8 862.9h0M247.0 878.2h0M248.5 877.1h0M245.2 896.5h0M243.6 962.0h0M249.6 870.8h0M245.3 868.8h0M244.0 954.6h0M247.6 871.4h0M251.1 868.8h0M244.5 879.9h0M246.8 883.6h0M247.1 883.9h0M245.0 909.4h0M244.7 876.1h0M244.6 929.4h0M244.2 967.0h0M251.1 871.1h0M248.1 879.0h0M246.8 883.8h0M246.1 882.2h0M245.9 885.0h0M243.3 966.8h0M244.8 881.6h0M245.9 876.5h0M256.4 859.4h0M243.3 969.4h0M244.9 889.3h0M248.9 871.0h0M253.6 863.2h0M246.1 912.6h0M247.4 858.4h0M245.3 879.5h0M243.7 949.9h0M244.8 941.3h0M258.7 857.8h0M249.6 861.1h0M245.6 912.1h0M251.1 856.0h0M247.5 867.0h0M247.0 856.5h0M254.8 862.0h0M245.0 873.8h0M244.9 864.2h0M260.4 857.5h0M255.2 856.2h0M249.6 855.6h0M251.6 869.4h0M260.2 858.4h0M246.6 889.9h0M244.2 939.7h0M246.5 880.8h0M245.4 884.8h0M247.2 857.1h0M250.0 855.2h0M262.7 856.5h0M251.7 865.8h0M245.6 876.5h0M260.6 857.0h0M246.7 872.3h0M250.6 856.1h0M252.2 860.0h0M248.2 857.7h0M247.6 871.5h0M247.7 863.5h0M257.9 859.0h0M244.7 914.0h0M245.7 899.3h0M262.9 855.1h0M245.7 861.0h0M252.5 862.4h0M244.1 930.4h0M253.6 865.2h0M257.0 861.1h0M253.3 864.4h0M244.5 892.5h0M245.2 903.4h0M251.2 862.6h0M246.1 869.9h0M245.9 904.8h0M246.0 861.2h0M244.6 938.8h0M244.7 930.3h0M245.7 917.0h0M244.8 894.5h0M246.6 892.3h0M246.4 859.2h0M245.5 897.2h0M247.5 879.1h0M252.4 855.7h0M249.3 875.4h0M254.3 864.4h0M253.0 856.9h0M252.6 858.7h0M261.8 855.5h0M247.5 856.3h0M244.5 932.6h0M260.7 856.0h0M247.2 858.2h0M245.9 859.4h0M245.2 919.7h0M247.7 879.0h0M245.8 862.0h0M248.1 864.0h0M245.4 855.1h0M244.8 939.7h0M244.7 873.5h0M253.5 857.1h0M246.0 877.6h0M251.7 862.7h0M244.6 941.0h0M247.9 862.9h0M245.1 926.2h0M251.0 860.3h0M244.7 938.3h0M244.1 944.6h0M245.4 916.8h0M253.4 865.3h0M256.9 861.0h0M243.1 975.4h0M249.1 861.6h0M243.0 971.8h0M251.5 869.3h0M246.4 874.0h0M254.3 863.3h0M245.3 867.1h0M247.1 868.1h0M247.6 864.2h0M243.9 955.4h0M245.6 894.4h0M250.2 859.8h0M250.2 866.6h0M248.9 875.7h0M250.1 864.8h0M245.5 888.0h0M249.6 868.3h0M244.7 871.4h0M248.1 864.9h0M249.1 871.8h0M245.7 873.9h0M245.8 883.5h0M244.5 944.1h0M246.6 882.1h0M247.0 867.8h0M244.2 975.2h0M247.4 879.1h0M260.4 856.7h0M262.9 857.0h0M247.7 881.8h0M245.5 873.3h0M245.0 905.1h0M246.6 879.6h0M248.3 861.8h0M250.2 860.9h0M248.5 877.4h0M252.5 858.8h0M245.1 937.5h0M247.3 879.4h0M245.6 908.0h0M243.2 969.7h0M244.6 869.7h0M251.7 855.7h0M248.9 871.8h0M244.9 906.8h0M253.4 860.9h0M245.1 893.3h0M244.8 939.0h0M253.4 863.5h0M246.0 865.3h0M246.1 899.7h0M251.1 870.5h0M244.8 899.4h0M245.5 909.0h0M245.5 908.8h0M244.9 907.9h0M246.2 899.7h0M245.7 855.2h0M248.9 863.2h0M255.8 860.7h0M244.1 928.3h0M244.7 921.0h0M243.5 954.2h0M244.6 910.2h0M244.3 955.0h0M245.0 936.1h0M247.2 874.9h0M247.2 884.9h0M250.2 861.5h0M244.6 904.6h0M246.7 885.6h0M244.7 922.7h0M243.7 967.7h0M246.1 904.1h0M256.0 859.5h0M247.1 883.7h0M247.1 870.4h0M246.0 898.3h0M248.8 861.4h0M258.2 856.2h0M247.1 880.9h0M258.3 855.1h0M244.4 937.4h0M243.8 974.6h0M245.5 914.5h0M243.0 973.3h0M246.1 861.0h0M244.0 933.6h0M245.3 861.2h0M244.7 868.7h0M244.3 936.5h0M246.8 885.6h0M245.5 898.0h0M252.1 859.2h0M252.8 855.3h0M243.4 975.7h0M247.3 870.3h0M244.1 939.6h0M245.0 903.9h0M251.8 856.1h0M254.5 861.7h0M243.3 972.2h0M249.3 864.6h0M245.5 881.3h0M244.5 875.7h0M244.4 917.6h0M252.8 863.6h0M245.1 872.3h0M247.1 886.9h0M246.9 894.6h0M244.6 925.6h0M246.1 884.1h0M243.3 963.8h0M256.8 857.7h0M257.4 856.3h0M257.9 859.3h0M244.5 949.2h0M247.4 859.3h0M253.1 861.5h0M248.6 855.3h0M243.2 963.3h0M245.2 915.2h0M247.0 874.7h0M247.3 857.8h0M244.0 949.8h0M244.1 960.3h0M244.6 908.2h0M249.8 867.9h0M244.2 939.8h0M252.2 860.3h0M245.1 860.7h0M254.2 861.3h0M247.3 884.5h0M246.7 892.3h0M249.1 864.4h0M248.2 864.6h0M247.7 860.4h0M244.4 917.4h0M244.5 915.6h0M243.2 965.9h0M249.6 857.8h0M262.9 855.8h0M243.3 971.0h0M244.6 932.3h0M244.2 969.1h0M245.9 886.7h0M252.0 855.6h0M247.7 872.6h0M251.6 856.3h0M246.4 898.6h0M245.4 909.2h0M244.1 931.1h0M246.6 892.8h0M245.7 885.9h0M259.3 855.6h0M246.5 868.2h0M247.0 860.6h0M245.3 925.4h0M256.9 861.0h0M251.3 860.5h0M244.9 928.5h0M252.7 865.8h0M245.1 904.5h0M243.9 973.9h0M254.7 860.3h0M246.7 898.0h0M245.7 861.1h0M246.0 860.9h0M244.6 926.2h0M245.2 911.0h0M247.9 864.5h0M244.6 895.8h0M244.5 927.0h0M244.6 889.1h0M250.8 860.1h0M244.6 910.6h0M263.3 856.0h0M244.7 922.8h0M256.7 860.3h0M247.5 859.1h0M247.8 868.4h0M263.1 855.8h0M249.6 856.1h0M245.7 911.9h0M247.4 856.5h0M245.8 856.6h0M250.4 855.0h0M244.9 923.6h0M244.9 870.3h0M252.8 867.0h0M252.7 867.4h0M250.7 869.7h0M256.8 855.9h0M247.8 878.6h0M243.6 972.0h0M246.3 907.3h0M248.7 865.4h0M253.3 860.3h0M247.2 883.7h0M254.8 855.7h0M253.5 858.0h0M244.6 912.2h0M245.3 870.6h0M250.6 855.4h0M245.4 918.6h0M247.3 862.3h0M247.2 856.5h0M244.8 898.5h0M246.8 865.8h0M244.1 965.7h0M246.1 861.3h0M249.2 871.7h0M243.3 971.3h0M244.2 919.6h0M247.5 878.3h0M246.3 864.2h0M248.5 871.3h0M252.3 858.6h0M253.9 855.7h0M243.6 975.3h0M256.1 859.9h0M251.8 869.0h0M248.2 870.8h0M244.8 928.0h0M243.8 976.8h0M245.2 880.2h0M246.4 873.8h0M255.9 862.1h0M244.3 951.9h0M244.7 868.8h0M245.5 860.7h0M245.6 921.5h0M246.3 901.6h0M254.8 856.4h0M243.1 968.3h0M254.6 857.9h0M244.9 897.0h0M271.9 855.8h0M284.6 855.8h0M291.5 856.7h0M297.3 857.4h0M305.3 855.8h0M306.5 857.4h0M314.5 856.2h0M386.5 866.6h0M406.8 856.2h0M266.3 854.6h0M269.4 855.4h0M264.1 862.3h0M267.1 866.1h0M270.2 871.5h0M276.3 868.4h0M283.9 854.6h0M290.0 856.2h0M293.1 855.4h0" stroke="#984EA3" stroke-width="2.3" stroke-linecap="round" fill="none"/>
<path d="M244.4 858.0h0M244.9 857.5h0M244.8 861.1h0M244.4 934.1h0M244.7 913.8h0M244.0 878.7h0M244.8 871.3h0M245.4 878.7h0M244.3 897.3h0M245.5 868.6h0M245.5 879.2h0M244.3 900.8h0M245.4 861.4h0M244.8 864.6h0M244.3 911.4h0M244.0 883.3h0M243.8 944.0h0M244.8 870.4h0M244.0 862.2h0M245.6 870.4h0M244.3 853.6h0M243.5 906.0h0M245.2 895.1h0M244.0 865.2h0M245.8 861.7h0M245.8 870.7h0M243.8 914.8h0M243.7 914.8h0M244.0 886.4h0M245.9 856.7h0M244.5 891.9h0M244.2 880.1h0M243.5 935.6h0M244.4 931.4h0M243.8 877.6h0M245.8 861.3h0M243.9 939.8h0M245.1 897.3h0M244.3 900.5h0M245.1 855.9h0M244.3 867.3h0M243.9 911.4h0M243.5 905.9h0M246.1 853.5h0M243.4 908.8h0M244.3 871.4h0M244.0 861.0h0M244.7 863.6h0M244.0 946.1h0M244.9 882.9h0M244.6 904.2h0M244.4 863.2h0M243.9 885.9h0M243.8 913.2h0M244.0 910.4h0M245.2 902.5h0M245.3 880.9h0M244.7 920.4h0M243.7 904.4h0M244.8 916.3h0M243.7 935.7h0M245.3 890.0h0M244.0 855.4h0M244.4 857.9h0M243.7 901.3h0M244.4 869.6h0M243.4 909.2h0M245.1 863.1h0M243.4 949.7h0M243.9 890.6h0M245.0 871.6h0M243.8 911.3h0M244.7 903.8h0M245.1 889.2h0M244.2 875.6h0M244.2 872.7h0M245.2 855.2h0M244.1 920.9h0M244.8 909.3h0M245.9 860.1h0M243.7 886.0h0M243.9 932.7h0M244.4 857.3h0M244.7 883.4h0M245.8 860.1h0M243.8 948.8h0M243.5 909.3h0M244.9 903.8h0M244.5 870.0h0M244.9 875.0h0M244.2 926.0h0M244.9 895.1h0M245.2 893.7h0M243.8 944.6h0M244.3 890.4h0M244.5 869.9h0M244.2 857.4h0M243.9 866.7h0M245.2 860.9h0M245.0 883.4h0M245.1 880.4h0M244.8 904.3h0M243.6 887.8h0M244.7 882.6h0M244.8 916.6h0M243.5 934.9h0M244.3 895.3h0M244.8 904.5h0M244.5 905.2h0M243.9 922.2h0M244.0 924.9h0M244.8 861.6h0M245.1 890.2h0M245.7 869.1h0M243.9 917.1h0M243.9 875.5h0M244.7 906.8h0M244.4 914.3h0M245.0 892.1h0M243.6 903.1h0M243.7 895.6h0M244.5 881.4h0M245.4 855.6h0M244.6 911.1h0M244.9 877.1h0M244.5 880.2h0M244.5 854.1h0M244.9 875.7h0M245.5 879.2h0M244.5 930.0h0M245.3 896.2h0M244.5 870.2h0M243.7 939.3h0M243.7 902.0h0M244.1 863.0h0M243.9 910.3h0M244.4 922.8h0M244.8 916.8h0M243.7 891.8h0M244.4 887.4h0M245.3 886.9h0M243.9 924.3h0M244.3 922.3h0M245.0 859.2h0M244.0 930.6h0M244.6 900.3h0M243.7 882.9h0M246.0 861.1h0M244.9 878.4h0M244.1 912.1h0M245.8 863.1h0M244.0 862.9h0M243.6 887.8h0M244.0 854.1h0M244.0 924.9h0M244.2 895.8h0M245.6 884.0h0M244.2 931.8h0M243.9 862.8h0M244.0 914.0h0M244.1 918.7h0M245.4 894.0h0M243.7 916.6h0M244.9 878.4h0M244.6 911.9h0M246.1 856.5h0M244.2 939.1h0M243.8 872.5h0M244.5 897.1h0M244.5 881.6h0M244.0 865.9h0M244.6 875.5h0M243.7 937.7h0M244.7 882.5h0M245.1 875.4h0M245.3 881.5h0M244.1 899.3h0M244.6 900.5h0M244.6 909.9h0M244.1 937.4h0M244.0 870.6h0M243.4 914.4h0M244.4 886.4h0M245.7 857.0h0M245.0 867.9h0M244.6 914.1h0M243.4 939.8h0M243.8 915.1h0M244.3 927.2h0M243.8 905.9h0M244.3 858.0h0M243.5 900.7h0M245.9 866.8h0M244.0 935.1h0M243.9 920.8h0M245.0 878.7h0M244.7 854.2h0M243.5 949.5h0M243.9 871.9h0M244.8 883.6h0M244.0 949.6h0M244.5 908.1h0M243.6 892.7h0M244.7 885.0h0M243.8 916.8h0M244.7 860.9h0M243.9 896.2h0M244.8 891.5h0M244.6 853.6h0M245.1 884.1h0M243.7 923.8h0M244.8 887.1h0M244.0 930.2h0M244.3 909.0h0M244.2 880.1h0M244.3 932.8h0M244.1 863.9h0M244.7 917.8h0M243.9 934.6h0M243.8 888.2h0M244.9 900.2h0M244.2 864.6h0M244.6 891.5h0M244.7 893.3h0M243.7 884.0h0M244.2 927.9h0M245.6 856.8h0M244.3 920.0h0M243.5 937.0h0M244.8 910.9h0M243.6 932.6h0M243.6 919.7h0M243.5 912.3h0M243.9 856.1h0M244.5 875.1h0M243.7 933.6h0M244.0 932.2h0M244.1 916.5h0M244.8 915.5h0M243.9 939.7h0M245.2 875.4h0M243.7 918.3h0M243.4 941.3h0M245.7 859.0h0M244.7 919.7h0M244.2 875.1h0M245.6 862.4h0M243.9 866.7h0M244.2 889.6h0M243.8 881.5h0M244.0 914.1h0M244.6 901.4h0M245.2 896.0h0M244.7 878.6h0M243.6 933.1h0M244.0 890.8h0M244.5 895.0h0M245.3 862.5h0M244.5 929.6h0M243.7 909.8h0M252.5 853.9h0M262.2 853.6h0M249.1 854.7h0M244.1 854.7h0M253.4 854.5h0M244.6 854.0h0M252.5 854.4h0M266.7 854.3h0M268.6 853.1h0M244.1 853.8h0M260.4 854.4h0M258.5 854.4h0M253.9 854.1h0M244.6 854.5h0M256.3 854.8h0M249.6 854.6h0M264.6 853.1h0M260.4 852.9h0M258.9 854.0h0M258.5 853.8h0M248.8 854.2h0M254.7 854.5h0M255.7 853.8h0M254.5 854.8h0M248.1 852.9h0M260.8 853.7h0M254.9 854.7h0M265.5 854.0h0M262.6 854.2h0M269.1 853.0h0M249.6 854.2h0M260.8 853.9h0M261.0 854.1h0M255.2 853.6h0M267.3 854.2h0M248.3 853.5h0M266.6 854.2h0M269.6 853.2h0M244.5 853.5h0M244.4 853.2h0M256.7 854.0h0M252.4 854.2h0M247.1 853.3h0M268.2 853.1h0M253.3 854.1h0M246.7 854.0h0M244.3 853.2h0M257.9 853.1h0M245.4 853.4h0M251.6 853.2h0M260.6 853.1h0M260.0 854.0h0M269.4 853.6h0M247.2 853.6h0M261.4 853.9h0M247.6 852.9h0M271.3 853.6h0M251.1 852.9h0M247.8 854.7h0M265.0 854.7h0M263.0 853.1h0M267.5 853.5h0M244.2 852.9h0M260.5 853.6h0M263.7 854.8h0M249.1 852.9h0M268.3 854.6h0M257.9 854.8h0M260.5 853.5h0M252.2 854.5h0M271.1 853.8h0M262.0 852.9h0M245.1 853.8h0M251.6 854.5h0M252.8 854.6h0M264.1 853.7h0M246.4 852.9h0M269.1 853.4h0M245.6 854.6h0M248.6 854.7h0M267.2 852.9h0M248.8 853.5h0M264.7 854.7h0M265.9 853.4h0M268.8 853.1h0M267.9 853.4h0M246.9 853.9h0M251.1 854.6h0M261.7 852.9h0M255.3 854.6h0M247.4 854.7h0M266.0 853.7h0M268.2 853.7h0M247.5 854.5h0M260.6 854.5h0M249.8 852.9h0M244.0 854.3h0M262.8 854.3h0M250.7 853.4h0M260.9 854.7h0M267.1 853.9h0M253.9 853.8h0M260.6 853.1h0M251.0 854.4h0M269.0 853.5h0M261.1 853.5h0M257.0 853.1h0M263.3 853.0h0M267.9 854.6h0M267.6 852.9h0M246.1 853.3h0M251.3 852.9h0M256.1 854.4h0M258.2 853.0h0M246.4 853.7h0M260.7 854.6h0M253.1 853.3h0M256.1 854.3h0M270.7 854.2h0M261.8 854.7h0M243.9 976.1h0M243.8 976.1h0M244.2 976.6h0M244.5 976.1h0M243.5 976.7h0M243.7 977.1h0M243.6 976.6h0M245.5 976.5h0M246.4 977.2h0M242.9 977.3h0M272.5 853.1h0M274.8 853.1h0M277.8 853.1h0M280.9 853.1h0M283.9 853.1h0M287.8 853.1h0M290.0 853.1h0M292.3 853.1h0M294.3 853.1h0M280.0 852.9h0M283.4 852.9h0M288.0 852.9h0M291.5 852.9h0M294.9 852.9h0M297.3 852.9h0M301.9 852.9h0M305.3 852.9h0M307.6 852.9h0M321.5 852.9h0M324.9 852.9h0M386.5 854.4h0M406.8 858.1h0" stroke="#FF7F00" stroke-width="2.3" stroke-linecap="round" fill="none"/>
<rect x="418" y="827.9" width="180.6" height="19" fill="#D9D9D9"/>
<text x="508.3" y="844.1" font-size="18" text-anchor="middle" fill="#1A1A1A">Self GSEA-FDR</text>
<rect x="418" y="846.9" width="180.6" height="136.5" fill="#EBEBEB"/>
<path d="M418 961.68H598.6M418 930.66H598.6M418 899.64H598.6M418 868.62H598.6M446.73 846.9V983.4M487.78 846.9V983.4M528.82 846.9V983.4M569.87 846.9V983.4" stroke="#fff" stroke-opacity="0.75" stroke-width="0.9" fill="none"/>
<path d="M418 977.2H598.6M418 946.17H598.6M418 915.15H598.6M418 884.13H598.6M418 853.1H598.6M426.21 846.9V983.4M467.25 846.9V983.4M508.3 846.9V983.4M549.35 846.9V983.4M590.39 846.9V983.4" stroke="#fff" stroke-opacity="0.8" stroke-width="1.1" fill="none"/>
<path d="M426.21 983.4V985.2M467.25 983.4V985.2M508.3 983.4V985.2M549.35 983.4V985.2M590.39 983.4V985.2" stroke="#888" stroke-width="0.8" fill="none"/>
<text x="437.91" y="991.6" font-size="17.5" text-anchor="end" fill="#4D4D4D" transform="rotate(-60 437.91 991.6)">0.00</text>
<text x="478.95" y="991.6" font-size="17.5" text-anchor="end" fill="#4D4D4D" transform="rotate(-60 478.95 991.6)">0.25</text>
<text x="520" y="991.6" font-size="17.5" text-anchor="end" fill="#4D4D4D" transform="rotate(-60 520 991.6)">0.50</text>
<text x="561.05" y="991.6" font-size="17.5" text-anchor="end" fill="#4D4D4D" transform="rotate(-60 561.05 991.6)">0.75</text>
<text x="602.09" y="991.6" font-size="17.5" text-anchor="end" fill="#4D4D4D" transform="rotate(-60 602.09 991.6)">1.00</text>
<path d="M448.6 911.2h0M439.8 972.7h0M448.9 944.7h0M431.4 925.8h0M429.6 892.2h0M448.2 965.8h0M443.2 954.5h0M430.0 909.0h0M433.7 930.2h0M440.2 941.7h0M435.5 880.1h0M440.6 908.1h0M438.9 976.8h0M430.1 886.1h0M430.4 956.3h0M437.6 956.9h0M440.1 943.3h0M429.6 962.2h0M438.0 854.1h0M441.2 931.6h0M445.2 895.3h0M448.6 911.6h0M451.5 939.1h0M455.7 917.6h0M480.7 886.7h0M475.2 901.2h0M480.7 931.2h0M480.7 947.3h0M459.0 913.9h0M484.9 854.6h0" stroke="#E41A1C" stroke-width="2.3" stroke-linecap="round" fill="none"/>
<path d="M435.5 910.4h0M429.8 964.7h0M446.9 895.5h0M436.3 894.8h0M431.6 963.2h0M438.6 871.2h0M448.4 888.3h0M431.2 916.5h0M440.0 955.3h0M438.2 859.2h0M433.6 936.9h0M440.2 940.0h0M429.5 857.8h0M434.3 862.1h0M442.5 902.4h0M440.3 899.3h0M449.0 918.9h0M438.5 863.0h0M430.8 937.4h0M447.7 963.5h0M436.8 934.3h0M442.4 870.4h0M440.2 904.8h0M429.6 896.9h0M435.6 975.4h0M429.7 927.3h0M436.3 916.8h0M444.3 859.7h0M436.7 916.2h0M433.1 938.3h0M429.5 857.4h0M445.9 957.5h0M446.3 886.7h0M446.5 937.9h0M456.0 964.5h0M467.1 883.9h0M462.3 897.3h0M446.8 886.7h0" stroke="#377EB8" stroke-width="2.3" stroke-linecap="round" fill="none"/>
<path d="M442.7 977.2h0M445.6 874.1h0M434.0 934.6h0M429.5 921.2h0M443.0 854.3h0M442.1 890.1h0M446.5 876.4h0M437.5 888.0h0M441.4 858.7h0M434.0 946.7h0M441.4 862.7h0M431.5 896.7h0M440.4 901.8h0M442.0 965.9h0M433.7 863.7h0M434.0 867.6h0M430.6 865.0h0M440.5 976.2h0M435.2 970.1h0M436.1 902.7h0M429.6 914.0h0M439.6 872.8h0M449.4 966.0h0M447.6 951.5h0M430.6 875.1h0M445.2 870.2h0M429.7 876.3h0M463.0 974.8h0" stroke="#4DAF4A" stroke-width="2.3" stroke-linecap="round" fill="none"/>
<path d="M439.4 854.6h0M446.2 909.4h0M430.4 912.4h0M431.4 975.7h0M430.6 972.5h0M430.0 879.7h0M432.6 923.8h0M437.5 924.7h0M434.7 879.5h0M443.9 865.3h0M431.0 863.1h0M433.1 952.1h0M436.9 932.1h0M429.6 917.3h0M434.8 934.2h0M442.7 891.6h0M450.0 975.2h0M432.0 968.1h0M435.8 964.6h0M448.0 940.9h0M432.6 947.4h0M441.3 951.5h0M439.4 897.3h0M445.5 973.8h0M459.6 938.0h0M447.0 942.4h0M446.0 867.7h0M464.1 933.4h0M480.7 855.1h0" stroke="#984EA3" stroke-width="2.3" stroke-linecap="round" fill="none"/>
<path d="M433.5 887.1h0M449.3 885.6h0M447.9 954.2h0M437.4 968.6h0M430.3 944.0h0M429.9 857.6h0M440.5 894.0h0M430.6 946.9h0M429.5 942.0h0M448.1 973.4h0M443.9 947.3h0M429.5 861.5h0M450.2 935.9h0M441.9 972.8h0M440.8 915.3h0M436.3 948.4h0M433.1 902.2h0M458.2 948.2h0M432.1 926.1h0M432.9 853.3h0M441.3 856.1h0M435.1 883.2h0M444.5 956.1h0M432.7 932.4h0M441.5 955.4h0M441.5 964.5h0M429.3 941.3h0M431.9 895.6h0M442.4 959.2h0M431.0 897.6h0M431.7 939.1h0M428.4 974.2h0M436.9 969.3h0M439.3 972.2h0M437.0 948.3h0M435.9 869.3h0M432.3 920.0h0M434.6 873.1h0M435.1 877.9h0M435.9 921.3h0M427.7 977.3h0M430.5 967.1h0M435.1 882.0h0M436.6 858.8h0M436.1 951.4h0M442.5 974.5h0M430.0 858.0h0M442.8 855.8h0M433.1 949.1h0M430.9 960.5h0M433.2 905.3h0M433.8 961.0h0M439.7 962.9h0M435.2 927.4h0M426.3 919.8h0M440.9 974.7h0M432.8 936.9h0M434.9 916.3h0M427.7 907.9h0M429.9 972.3h0M434.2 930.9h0M436.6 889.6h0M434.6 886.8h0M427.6 875.8h0M434.2 864.4h0M431.5 884.4h0M440.5 857.5h0M426.8 938.2h0M438.4 865.0h0M438.2 953.3h0M430.7 902.2h0M431.4 963.6h0M426.7 908.2h0M435.9 934.8h0M433.2 879.4h0M436.2 895.1h0M428.0 947.6h0M426.2 893.7h0M434.1 935.0h0M426.9 910.4h0M427.1 969.4h0M428.4 938.5h0M429.1 921.0h0M428.5 885.8h0M431.3 890.9h0M428.9 904.8h0M437.3 862.7h0M442.9 976.6h0M431.8 929.9h0M428.4 880.5h0M428.1 885.2h0M428.5 863.4h0M434.7 860.5h0M434.9 873.1h0M438.1 853.2h0M426.8 923.1h0M432.9 861.7h0M429.7 859.1h0M429.9 974.8h0M428.0 935.1h0M428.8 905.1h0M428.2 942.5h0M427.6 922.8h0M437.1 945.1h0M440.5 970.2h0M443.3 962.9h0M434.9 876.1h0M436.7 899.4h0M426.1 877.1h0M430.9 887.8h0M429.0 909.7h0M430.8 927.3h0M428.8 859.6h0M440.0 860.0h0M435.6 873.8h0M429.8 937.2h0M433.4 921.1h0M433.8 872.0h0M437.0 960.4h0M430.9 949.0h0M444.0 972.2h0M426.9 974.5h0M434.7 945.8h0M426.7 920.6h0M431.6 927.2h0M433.5 879.8h0M437.9 968.8h0M440.2 961.0h0M432.7 889.3h0M429.1 923.3h0M443.3 956.7h0M435.7 915.7h0M431.7 938.7h0M429.1 941.8h0M441.1 952.1h0M430.7 957.1h0M427.7 971.9h0M443.2 963.6h0M433.0 903.5h0M430.1 896.5h0M431.4 971.2h0M428.6 892.2h0M430.3 872.1h0M427.0 874.0h0M429.7 975.5h0M439.1 975.5h0M430.0 958.9h0M441.2 854.6h0M429.6 960.5h0M427.0 936.8h0M434.0 967.4h0M446.6 852.9h0M435.8 886.6h0M430.2 924.9h0M429.8 959.8h0M442.4 863.2h0M427.8 926.9h0M432.6 893.2h0M433.8 905.1h0M426.2 938.9h0M441.8 856.6h0M429.6 866.2h0M431.9 939.2h0M430.6 899.8h0M432.5 872.0h0M438.8 951.2h0M427.9 965.3h0M442.4 957.2h0M432.7 860.8h0M439.4 963.7h0M443.1 955.1h0M426.5 865.4h0M436.8 864.3h0M429.9 926.3h0M429.8 863.6h0M436.1 926.0h0M439.7 951.4h0M437.3 972.8h0M428.3 909.5h0M427.1 967.0h0M428.2 898.8h0M434.3 926.5h0M435.5 874.1h0M445.2 855.0h0M435.5 906.8h0M434.5 944.1h0M427.2 861.4h0M426.7 895.3h0M441.2 972.1h0M426.3 952.1h0M428.9 890.6h0M430.3 860.1h0M443.6 959.9h0M430.7 855.8h0M444.8 857.7h0M441.1 964.6h0M437.7 954.0h0M431.5 966.8h0M437.4 862.1h0M426.2 957.6h0M438.3 959.7h0M436.5 951.6h0M433.3 939.4h0M428.4 880.5h0M438.3 949.5h0M436.0 975.0h0M426.3 895.2h0M428.7 895.4h0M430.8 861.2h0M436.9 858.9h0M447.4 855.1h0M430.3 923.2h0M450.0 853.6h0M433.7 881.6h0M430.0 902.0h0M442.1 860.0h0M432.2 924.7h0M436.7 937.5h0M438.0 857.3h0M435.7 957.0h0M438.4 956.0h0M433.9 873.0h0M443.1 853.1h0M433.8 920.1h0M434.7 925.3h0M427.0 856.8h0M443.0 852.9h0M436.8 928.9h0M448.9 853.7h0M434.6 952.3h0M432.0 956.6h0M427.2 865.5h0M430.4 962.3h0M440.5 865.2h0M426.7 864.7h0M436.4 906.7h0M430.7 887.2h0M436.6 957.2h0M438.9 852.9h0M436.8 902.8h0M429.4 938.4h0M430.8 950.7h0M428.7 957.9h0M447.5 855.0h0M426.5 909.0h0M436.8 965.4h0M441.6 976.2h0M436.5 959.4h0M437.6 951.9h0M432.3 927.2h0M433.9 977.2h0M439.0 854.9h0M429.8 917.8h0M435.1 853.7h0M426.5 873.7h0M434.9 882.3h0M428.6 852.9h0M449.3 852.9h0M443.2 852.9h0M457.0 853.1h0M430.7 852.9h0M454.9 853.2h0M447.7 853.5h0M460.3 852.9h0M434.2 852.9h0M443.1 853.0h0M427.3 852.9h0M463.6 852.9h0M483.7 852.9h0M507.9 852.9h0M472.9 860.8h0M459.0 940.4h0" stroke="#FF7F00" stroke-width="2.3" stroke-linecap="round" fill="none"/>
<path d="M432.9 893.4h0M431.8 954.6h0M442.0 916.7h0M430.9 939.5h0M446.9 956.3h0M434.6 943.7h0M438.9 941.3h0M433.9 940.2h0M436.1 882.4h0M433.1 936.4h0M449.2 975.6h0M434.2 927.3h0M442.4 975.0h0M444.9 898.6h0M433.5 944.8h0M441.0 892.9h0M446.7 938.0h0M429.6 954.9h0M438.4 938.7h0M434.6 965.3h0M448.7 944.2h0M443.0 932.2h0M450.5 899.9h0M446.8 928.1h0M447.7 855.3h0M445.7 964.9h0M460.9 871.5h0M453.7 904.6h0M472.9 951.2h0M456.7 917.3h0M459.0 976.8h0M449.8 976.8h0" stroke="#E41A1C" stroke-width="2.3" stroke-linecap="round" fill="none"/>
<path d="M438.7 926.8h0M437.0 899.7h0M442.6 895.8h0M446.2 939.7h0M432.1 958.8h0M446.8 950.7h0M431.0 923.5h0M436.5 885.3h0M429.8 939.0h0M431.0 976.0h0M430.7 884.7h0M433.1 943.0h0M433.3 858.7h0M433.4 938.8h0M430.5 976.8h0M444.4 865.6h0M437.9 940.2h0M430.1 860.5h0M441.0 889.9h0M430.1 963.3h0M439.9 924.8h0M434.9 915.2h0M429.5 943.4h0M445.0 961.2h0M431.5 885.5h0M443.3 877.0h0M447.2 880.6h0M463.5 929.2h0M458.7 891.3h0M459.9 856.4h0M449.8 888.0h0M459.0 973.1h0M454.9 863.1h0" stroke="#377EB8" stroke-width="2.3" stroke-linecap="round" fill="none"/>
<path d="M440.0 862.5h0M437.4 860.0h0M432.1 873.8h0M432.0 866.0h0M445.7 944.3h0M444.9 971.8h0M449.6 888.2h0M449.6 925.8h0M449.1 928.7h0M430.1 881.4h0M431.3 977.2h0M447.6 868.4h0M430.2 864.7h0M430.2 949.7h0M448.0 856.5h0M433.0 962.3h0M434.2 880.7h0M445.8 882.1h0M433.4 942.9h0M442.9 917.1h0M436.3 859.2h0M431.3 875.7h0M435.3 936.2h0M431.4 939.8h0M448.2 918.7h0M448.0 868.2h0M447.3 954.8h0M451.4 864.9h0M456.8 887.4h0M449.7 942.2h0M452.9 857.7h0M451.0 854.5h0M455.6 900.0h0M480.7 860.8h0" stroke="#4DAF4A" stroke-width="2.3" stroke-linecap="round" fill="none"/>
<path d="M435.6 916.0h0M447.3 907.7h0M440.7 912.7h0M448.6 971.1h0M430.8 919.9h0M436.9 951.6h0M431.7 975.7h0M433.2 906.9h0M432.9 893.3h0M429.7 865.3h0M441.2 973.3h0M430.6 890.2h0M448.6 895.8h0M440.8 915.5h0M437.4 975.1h0M437.6 864.5h0M433.1 906.5h0M430.0 967.3h0M432.1 869.2h0M441.9 875.8h0M433.1 866.6h0M432.1 867.0h0M438.6 916.0h0M429.7 861.2h0M447.6 880.9h0M439.4 872.0h0M447.5 879.3h0M448.9 885.4h0M452.4 961.1h0M451.5 972.7h0M459.5 868.2h0M472.9 859.0h0" stroke="#984EA3" stroke-width="2.3" stroke-linecap="round" fill="none"/>
<path d="M447.8 897.7h0M431.5 884.4h0M431.2 894.7h0M438.0 867.1h0M436.0 877.6h0M449.8 866.3h0M438.0 952.0h0M445.2 974.9h0M449.8 962.9h0M431.7 938.9h0M430.5 973.4h0M443.7 919.1h0M433.8 958.8h0M429.9 952.7h0M433.6 944.9h0M430.2 953.9h0M431.1 935.5h0M441.7 957.2h0M457.1 927.9h0M450.6 956.6h0M461.5 965.1h0M448.6 936.0h0M451.7 900.4h0M430.6 953.1h0M444.2 857.3h0M427.3 954.0h0M436.6 912.6h0M429.0 856.7h0M427.9 907.5h0M430.2 932.0h0M454.6 854.0h0M431.8 924.7h0M434.8 955.9h0M431.3 861.3h0M426.9 953.0h0M436.3 899.7h0M444.5 974.1h0M440.1 968.5h0M439.0 975.3h0M429.5 858.4h0M433.7 951.0h0M428.5 959.6h0M437.1 956.8h0M435.2 899.8h0M432.4 853.0h0M427.2 907.1h0M436.7 895.2h0M450.8 854.4h0M436.5 853.6h0M434.1 948.7h0M440.1 860.4h0M427.3 880.8h0M433.3 933.5h0M428.2 897.4h0M432.9 941.9h0M427.4 865.3h0M427.2 874.5h0M430.7 956.4h0M430.1 899.5h0M427.8 861.0h0M426.7 958.3h0M435.9 946.4h0M431.0 933.2h0M430.4 865.2h0M434.5 914.5h0M438.4 960.1h0M430.6 931.5h0M433.4 942.5h0M426.7 940.9h0M430.0 932.8h0M433.0 857.1h0M426.9 931.1h0M430.1 894.8h0M439.9 966.1h0M436.2 971.9h0M433.2 879.9h0M435.2 961.0h0M439.5 869.8h0M439.9 960.2h0M437.5 862.7h0M438.0 963.7h0M428.0 927.8h0M439.6 961.5h0M427.5 853.1h0M434.5 956.7h0M428.8 975.5h0M426.4 862.8h0M441.1 966.2h0M437.2 946.5h0M430.9 938.4h0M440.1 860.6h0M428.2 910.1h0M432.8 958.8h0M442.7 961.1h0M433.4 968.7h0M435.0 877.3h0M433.3 883.5h0M431.9 936.2h0M436.4 925.6h0M436.5 947.5h0M433.0 890.1h0M438.8 865.5h0M431.5 894.5h0M434.4 901.5h0M428.1 859.5h0M429.8 946.2h0M439.0 964.0h0M442.6 965.4h0M427.1 867.7h0M442.2 961.8h0M431.4 882.6h0M434.0 906.9h0M434.1 878.2h0M434.2 934.1h0M432.6 925.7h0M426.1 852.9h0M430.3 860.7h0M439.4 864.6h0M435.5 881.1h0M440.6 950.9h0M430.9 867.7h0M426.3 963.3h0M438.9 862.1h0M430.0 922.7h0M440.1 863.6h0M432.7 897.0h0M434.7 950.2h0M428.5 924.3h0M432.5 896.9h0M427.4 873.0h0M435.1 914.8h0M436.3 967.6h0M434.6 886.4h0M433.0 903.5h0M440.1 956.7h0M429.8 934.2h0M432.4 950.3h0M432.9 941.2h0M433.9 875.7h0M444.0 970.9h0M437.5 951.0h0M426.3 915.0h0M430.5 877.6h0M428.6 883.3h0M428.2 891.9h0M438.9 947.0h0M433.4 948.4h0M444.1 959.1h0M427.8 883.9h0M432.0 897.1h0M433.2 903.0h0M441.9 854.6h0M428.3 879.1h0M431.0 887.9h0M439.2 959.5h0M435.5 937.3h0M426.9 909.7h0M438.4 852.9h0M436.6 873.1h0M433.1 893.9h0M432.2 928.0h0M427.0 960.5h0M433.7 936.9h0M438.5 859.7h0M427.2 926.9h0M426.8 877.2h0M436.6 911.6h0M432.2 891.8h0M435.3 962.7h0M432.2 871.0h0M428.9 950.7h0M432.0 907.1h0M431.0 870.0h0M441.0 859.3h0M436.2 956.5h0M434.3 879.6h0M431.5 954.7h0M435.7 894.1h0M443.6 854.5h0M434.3 924.9h0M430.7 918.1h0M434.4 913.2h0M431.8 863.6h0M434.2 858.7h0M437.9 952.5h0M436.1 913.4h0M435.9 875.7h0M434.5 889.3h0M433.4 875.6h0M437.8 866.6h0M431.7 927.9h0M427.3 864.8h0M443.7 960.4h0M427.4 938.3h0M429.2 913.6h0M431.7 895.8h0M435.0 961.0h0M437.1 964.9h0M431.7 883.2h0M429.5 970.1h0M435.4 873.2h0M444.2 959.1h0M430.7 936.7h0M427.2 920.9h0M434.1 914.0h0M443.7 955.9h0M433.0 884.1h0M434.1 926.6h0M430.4 958.2h0M430.2 973.4h0M448.9 852.9h0M434.5 936.8h0M429.9 884.2h0M427.4 938.3h0M440.2 974.1h0M434.9 867.0h0M434.1 969.7h0M435.9 959.0h0M427.0 948.0h0M435.4 911.7h0M442.1 976.8h0M430.3 932.5h0M439.7 958.6h0M430.2 926.1h0M434.1 879.5h0M429.5 927.7h0M435.2 853.0h0M433.0 930.6h0M435.3 869.6h0M442.3 964.4h0M435.1 960.4h0M431.9 938.1h0M435.9 937.9h0M439.9 970.4h0M427.7 865.0h0M434.9 960.0h0M430.5 861.5h0M436.5 961.4h0M433.0 962.5h0M435.7 923.0h0M436.5 950.6h0M427.3 937.1h0M427.3 873.6h0M431.4 931.8h0M430.4 907.9h0M430.0 882.0h0M432.2 918.7h0M430.1 864.9h0M439.8 949.4h0M428.2 932.7h0M427.1 897.8h0M440.2 864.9h0M429.7 862.4h0M442.3 852.9h0M436.9 923.5h0M430.2 943.5h0M431.0 875.8h0M432.5 853.8h0M427.7 956.6h0M433.7 891.8h0M426.7 927.1h0M433.4 882.6h0M430.4 894.4h0M430.0 939.7h0M444.6 859.8h0M443.3 854.1h0M443.7 859.2h0M426.9 939.6h0M436.6 887.5h0M432.5 924.0h0M433.4 944.5h0M437.9 870.6h0M436.8 859.6h0M429.2 896.4h0M433.0 874.3h0M431.4 971.0h0M453.1 852.9h0M432.5 852.9h0M455.4 852.9h0M460.4 852.9h0M431.9 853.3h0M428.7 853.6h0M436.2 852.9h0M461.3 853.6h0M431.4 852.9h0M439.5 852.9h0M430.4 852.9h0M456.6 853.4h0M433.8 852.9h0M432.5 853.3h0M469.9 852.9h0M495.2 852.9h0M590.0 852.9h0M480.7 858.1h0M480.7 862.7h0M459.0 961.1h0" stroke="#FF7F00" stroke-width="2.3" stroke-linecap="round" fill="none"/>
<path d="M447.5 956.1h0M442.4 919.2h0M433.8 972.4h0M437.9 931.6h0M435.9 944.5h0M436.2 970.1h0M446.9 940.4h0M441.8 962.5h0M435.1 963.7h0M432.3 918.4h0M430.7 961.0h0M430.2 955.7h0M437.4 928.9h0M430.1 916.0h0M430.0 913.8h0M440.5 934.0h0M438.0 903.3h0M430.2 934.5h0M435.3 911.6h0M441.0 950.6h0M448.3 931.7h0M431.1 974.0h0M445.7 946.8h0M451.0 947.8h0M456.7 902.8h0M446.8 889.2h0M462.3 955.4h0" stroke="#E41A1C" stroke-width="2.3" stroke-linecap="round" fill="none"/>
<path d="M433.2 911.1h0M446.4 909.3h0M433.7 882.2h0M430.3 924.2h0M430.8 856.6h0M431.4 969.6h0M431.5 967.8h0M430.1 944.2h0M438.2 900.3h0M436.4 865.3h0M438.4 886.1h0M443.9 916.4h0M437.5 970.0h0M430.8 969.1h0M440.1 973.4h0M440.6 894.5h0M429.6 967.0h0M447.9 886.3h0M442.2 869.1h0M448.8 936.0h0M432.9 920.1h0M441.2 922.7h0M431.7 947.4h0M447.8 901.8h0M446.7 949.2h0M439.7 933.3h0M429.7 893.5h0M433.6 901.4h0M431.1 912.8h0M436.8 899.2h0M432.4 920.6h0M446.2 900.4h0M446.9 943.5h0M456.7 969.5h0M454.0 917.7h0M459.2 909.1h0M480.7 889.0h0M459.0 896.1h0M451.4 894.3h0M459.0 970.4h0" stroke="#377EB8" stroke-width="2.3" stroke-linecap="round" fill="none"/>
<path d="M438.3 897.2h0M430.3 976.0h0M436.2 890.0h0M443.9 926.5h0M442.2 909.5h0M444.9 944.8h0M431.6 856.2h0M433.1 914.6h0M440.9 856.0h0M430.1 915.4h0M429.5 962.9h0M430.3 870.4h0M430.3 943.3h0M429.7 869.9h0M433.0 874.1h0M441.9 868.9h0M429.7 874.7h0M438.5 943.8h0M448.4 918.2h0M443.6 889.5h0M430.9 860.8h0M432.5 855.5h0M442.2 946.5h0M436.8 973.0h0M433.5 891.3h0M446.9 941.0h0M462.6 879.9h0M454.8 872.0h0M472.9 862.7h0M459.0 955.4h0" stroke="#4DAF4A" stroke-width="2.3" stroke-linecap="round" fill="none"/>
<path d="M430.1 971.7h0M429.6 872.7h0M440.5 941.1h0M436.0 937.1h0M433.9 951.3h0M431.1 864.6h0M431.0 874.1h0M440.2 928.3h0M450.1 889.8h0M447.4 947.0h0M434.1 951.2h0M430.9 930.7h0M439.6 889.4h0M439.6 950.9h0M444.1 884.5h0M442.0 858.3h0M440.8 962.5h0M436.0 937.0h0M430.9 926.1h0M445.7 940.6h0M438.9 967.6h0M452.8 856.5h0M449.3 862.5h0M459.0 942.0h0" stroke="#984EA3" stroke-width="2.3" stroke-linecap="round" fill="none"/>
<path d="M442.3 861.6h0M439.8 861.3h0M444.8 964.7h0M439.5 856.3h0M441.1 949.0h0M432.5 874.8h0M429.9 968.3h0M431.9 891.0h0M430.3 906.5h0M430.6 906.6h0M447.1 867.1h0M433.5 971.5h0M430.8 907.5h0M440.9 947.1h0M429.7 895.4h0M430.6 912.9h0M440.1 896.6h0M440.2 950.3h0M435.7 911.2h0M438.1 969.8h0M440.7 976.0h0M449.7 939.2h0M438.2 954.0h0M447.6 887.8h0M456.7 952.0h0M453.9 947.6h0M427.5 874.6h0M431.2 966.1h0M436.6 933.1h0M443.9 977.4h0M431.2 860.8h0M428.4 866.9h0M426.7 950.4h0M428.4 916.5h0M432.5 976.3h0M439.3 870.7h0M426.4 886.9h0M441.1 950.6h0M432.6 954.6h0M438.7 971.8h0M426.2 969.9h0M441.6 953.1h0M435.4 855.4h0M433.2 910.8h0M435.2 891.7h0M434.3 929.6h0M432.9 973.9h0M427.8 870.3h0M431.3 917.3h0M442.2 975.3h0M442.6 958.6h0M428.0 883.5h0M436.5 944.8h0M441.9 859.6h0M427.1 952.7h0M432.7 881.5h0M441.0 975.7h0M446.1 853.5h0M430.6 870.9h0M436.0 902.8h0M426.6 944.2h0M430.6 853.8h0M431.0 919.5h0M427.6 906.1h0M433.5 922.6h0M440.5 862.8h0M427.7 923.6h0M429.6 943.0h0M434.2 932.0h0M427.9 952.4h0M430.6 881.6h0M430.9 936.5h0M429.0 900.2h0M427.1 873.9h0M427.8 854.9h0M429.5 974.3h0M438.9 866.5h0M434.7 874.9h0M430.9 898.5h0M427.9 949.2h0M428.3 863.0h0M427.6 921.3h0M434.5 866.5h0M442.3 969.0h0M432.2 952.3h0M441.0 950.3h0M427.0 926.0h0M431.5 970.7h0M432.2 910.0h0M442.4 974.0h0M436.5 933.2h0M432.0 948.1h0M435.7 861.7h0M428.5 881.2h0M426.9 930.2h0M427.1 899.1h0M440.5 975.1h0M428.7 897.6h0M428.5 917.0h0M429.8 899.6h0M427.1 940.5h0M428.9 957.8h0M431.0 931.0h0M432.1 913.4h0M435.4 942.5h0M430.8 855.2h0M438.6 872.2h0M426.3 889.3h0M438.2 854.4h0M429.8 897.0h0M427.2 889.3h0M428.2 967.4h0M430.2 904.3h0M431.7 942.1h0M428.8 869.6h0M428.1 893.6h0M426.4 855.1h0M434.2 865.0h0M436.2 881.8h0M441.2 863.5h0M429.3 959.0h0M430.9 884.2h0M433.1 920.0h0M436.4 893.4h0M428.9 870.4h0M436.2 870.8h0M440.9 966.6h0M440.1 952.4h0M436.9 902.6h0M431.6 940.2h0M432.9 886.7h0M433.9 965.1h0M434.8 944.8h0M432.6 895.5h0M429.7 887.2h0M444.3 973.2h0M437.0 944.6h0M436.3 872.9h0M447.5 854.4h0M427.9 969.9h0M427.1 975.1h0M436.9 877.2h0M428.6 934.2h0M435.0 970.2h0M436.8 930.6h0M435.9 932.1h0M439.5 865.0h0M442.6 861.0h0M427.7 895.6h0M433.9 960.5h0M432.9 855.1h0M429.2 915.9h0M432.7 921.4h0M434.0 885.9h0M434.9 875.3h0M430.8 907.2h0M427.7 863.9h0M434.3 925.0h0M442.0 974.0h0M434.1 954.7h0M433.2 888.7h0M435.5 962.6h0M429.0 971.5h0M438.7 973.0h0M435.4 897.6h0M429.3 879.8h0M435.8 959.2h0M432.1 901.8h0M440.7 949.8h0M439.0 864.2h0M435.6 961.7h0M437.0 874.9h0M444.0 854.8h0M437.0 949.1h0M426.6 901.1h0M432.3 938.5h0M429.1 884.6h0M429.2 885.1h0M439.2 854.0h0M438.2 866.9h0M439.8 953.4h0M445.5 856.4h0M433.2 974.5h0M432.5 864.7h0M433.2 905.1h0M435.4 916.4h0M436.8 890.1h0M430.4 964.0h0M435.5 974.4h0M430.0 856.3h0M441.3 957.0h0M429.5 884.6h0M426.6 916.9h0M427.5 926.0h0M431.1 927.6h0M434.2 965.4h0M434.3 860.5h0M429.9 900.1h0M430.1 945.5h0M426.9 904.3h0M428.9 937.3h0M432.0 971.0h0M430.7 946.3h0M434.6 865.0h0M432.8 889.2h0M432.4 972.5h0M429.9 954.3h0M443.8 960.2h0M426.7 966.8h0M430.0 925.6h0M432.5 960.8h0M427.8 933.5h0M433.1 877.9h0M428.5 860.9h0M440.9 953.7h0M432.7 965.6h0M429.9 904.5h0M431.5 858.7h0M437.2 858.7h0M430.0 876.4h0M435.8 896.1h0M430.5 887.7h0M426.6 880.4h0M430.8 899.7h0M430.4 902.0h0M434.6 927.1h0M433.4 855.5h0M444.0 853.9h0M434.0 971.7h0M429.2 960.1h0M450.2 852.9h0M434.8 925.0h0M441.5 861.8h0M430.7 968.4h0M435.8 907.5h0M435.2 882.5h0M432.4 899.8h0M432.7 964.2h0M440.1 855.8h0M428.0 855.6h0M439.4 964.5h0M429.7 916.7h0M437.2 960.9h0M430.1 862.2h0M443.9 963.0h0M437.7 957.0h0M437.9 864.1h0M435.5 956.0h0M434.8 918.4h0M430.6 882.7h0M429.2 867.5h0M447.7 852.9h0M436.4 873.2h0M447.3 852.9h0M430.3 925.0h0M432.2 971.7h0M429.2 874.5h0M427.7 955.4h0M437.3 964.1h0M436.5 943.9h0M435.5 936.6h0M441.8 957.3h0M429.8 897.1h0M434.9 898.1h0M427.2 887.8h0M435.1 852.9h0M435.9 880.2h0M434.7 939.1h0M436.6 957.8h0M432.3 898.8h0M438.6 977.4h0M436.3 960.4h0M459.3 853.4h0M436.0 853.6h0M438.1 852.9h0M443.6 853.3h0M453.6 852.9h0M429.0 852.9h0M432.3 852.9h0M429.1 852.9h0M443.5 852.9h0M440.3 852.9h0M427.3 852.9h0M446.8 852.9h0M438.4 852.9h0M439.9 852.9h0M442.7 853.2h0M435.1 853.0h0M441.5 853.5h0M466.4 852.9h0M473.3 852.9h0M480.3 852.9h0M487.2 852.9h0M504.5 852.9h0M569.7 852.9h0" stroke="#FF7F00" stroke-width="2.3" stroke-linecap="round" fill="none"/>
<path d="M429.5 887.1h0M432.0 889.8h0M435.5 928.0h0M429.5 888.2h0M432.6 919.3h0M433.8 886.1h0M429.5 925.9h0M430.0 934.6h0M429.7 932.2h0M435.2 919.9h0M445.7 918.9h0M435.2 890.9h0M444.1 871.5h0M429.7 944.4h0M449.8 949.0h0M431.1 916.5h0M441.6 889.7h0M431.0 905.2h0M442.3 947.2h0M430.0 976.5h0M429.5 972.7h0M435.6 973.6h0M430.1 871.1h0M453.6 927.5h0M453.0 886.2h0M467.1 901.2h0M459.0 902.3h0M467.1 947.3h0M459.0 963.4h0M453.7 976.8h0" stroke="#E41A1C" stroke-width="2.3" stroke-linecap="round" fill="none"/>
<path d="M442.3 976.4h0M436.7 943.5h0M443.1 921.9h0M435.5 976.7h0M434.2 920.6h0M446.2 937.3h0M445.8 976.2h0M445.8 964.0h0M435.0 935.7h0M445.4 912.2h0M432.8 888.8h0M440.4 863.5h0M429.8 890.9h0M431.7 919.4h0M447.8 960.1h0M431.8 905.4h0M431.1 867.5h0M443.6 917.4h0M447.2 932.5h0M440.1 954.2h0M436.7 947.7h0M431.8 967.3h0M447.0 930.6h0M440.4 862.0h0M432.0 914.9h0M442.2 899.9h0M446.4 872.5h0M437.1 976.2h0M435.9 940.8h0M431.0 967.6h0M447.4 859.6h0M448.1 962.0h0M448.9 893.2h0M480.7 882.7h0M472.9 890.1h0M467.1 859.0h0M452.6 860.8h0" stroke="#377EB8" stroke-width="2.3" stroke-linecap="round" fill="none"/>
<path d="M430.2 867.3h0M433.9 972.7h0M437.8 918.3h0M431.5 865.9h0M435.0 870.8h0M430.8 919.4h0M443.2 857.4h0M435.1 928.1h0M433.9 879.8h0M432.6 856.0h0M434.5 914.6h0M429.5 971.6h0M439.8 859.2h0M431.5 883.9h0M432.5 957.9h0M436.2 859.5h0M432.0 967.0h0M436.3 935.4h0M436.4 875.6h0M448.5 871.4h0M430.4 973.9h0M432.0 890.5h0M429.6 907.4h0M440.8 934.9h0M429.7 874.4h0M441.2 974.9h0M448.0 955.1h0M447.7 894.1h0M446.2 962.4h0M450.3 929.2h0M453.0 929.7h0M459.0 966.9h0" stroke="#4DAF4A" stroke-width="2.3" stroke-linecap="round" fill="none"/>
<path d="M442.5 893.9h0M430.7 898.6h0M444.5 947.1h0M435.9 869.3h0M434.4 966.2h0M436.6 971.2h0M447.8 855.9h0M430.5 899.6h0M437.1 857.6h0M437.5 880.4h0M429.8 976.1h0M433.8 879.5h0M430.1 960.0h0M444.0 974.7h0M434.0 897.9h0M432.7 897.6h0M431.4 900.8h0M441.4 908.2h0M429.6 912.9h0M429.6 877.5h0M438.4 919.3h0M439.1 859.3h0M446.0 876.4h0M448.3 935.8h0M447.3 920.0h0M434.6 939.7h0M430.7 924.7h0M445.9 907.2h0M451.1 969.0h0M463.0 874.3h0M445.7 923.7h0" stroke="#984EA3" stroke-width="2.3" stroke-linecap="round" fill="none"/>
<path d="M430.2 942.9h0M435.7 960.8h0M429.7 955.7h0M439.3 975.8h0M430.2 958.1h0M445.3 951.5h0M431.1 878.6h0M432.7 954.1h0M432.5 961.9h0M436.1 930.6h0M436.9 909.3h0M429.5 871.4h0M447.2 958.4h0M443.1 919.0h0M460.7 928.5h0M463.6 977.3h0M432.3 862.7h0M440.3 853.6h0M435.9 872.7h0M426.4 916.0h0M439.0 958.6h0M437.7 858.5h0M437.0 860.7h0M430.3 969.3h0M428.9 965.7h0M433.9 870.5h0M427.8 885.1h0M437.2 874.9h0M429.0 898.8h0M436.5 948.0h0M427.8 907.1h0M431.8 947.5h0M428.3 860.5h0M445.5 852.9h0M431.6 969.1h0M437.0 948.7h0M438.7 967.4h0M441.5 858.3h0M429.4 930.2h0M426.8 934.6h0M435.3 852.9h0M431.1 908.8h0M432.2 863.2h0M427.6 898.5h0M430.7 920.6h0M432.3 953.7h0M435.7 898.9h0M436.5 966.4h0M436.6 939.7h0M436.4 941.5h0M428.6 892.3h0M445.0 853.3h0M435.4 950.2h0M431.9 886.8h0M432.9 943.7h0M427.3 945.2h0M426.8 923.7h0M440.0 951.4h0M435.5 968.7h0M442.7 966.1h0M443.8 858.1h0M435.8 949.7h0M430.4 930.6h0M431.1 960.8h0M430.2 914.4h0M440.1 973.8h0M428.2 945.3h0M433.6 869.0h0M427.4 867.5h0M453.6 853.7h0M436.7 943.5h0M427.0 910.1h0M427.8 931.5h0M436.2 917.5h0M429.8 874.5h0M426.3 854.6h0M426.4 948.2h0M442.7 976.0h0M432.2 932.6h0M454.4 854.0h0M434.4 855.3h0M441.7 861.7h0M436.0 888.2h0M429.8 854.1h0M434.6 888.4h0M432.0 919.9h0M427.7 927.6h0M434.8 955.1h0M433.9 928.9h0M427.8 908.6h0M427.0 860.2h0M429.1 887.8h0M431.0 894.5h0M434.1 938.7h0M430.7 967.3h0M426.2 903.8h0M427.2 953.1h0M433.6 893.3h0M436.8 969.6h0M426.7 863.2h0M430.3 969.7h0M429.7 927.5h0M435.9 868.3h0M435.7 954.5h0M429.4 958.9h0M440.7 972.9h0M441.4 963.3h0M427.3 860.8h0M433.2 961.3h0M438.9 863.0h0M441.5 967.8h0M428.0 933.3h0M436.4 911.8h0M428.8 976.3h0M436.6 968.1h0M431.8 933.7h0M442.3 976.1h0M431.0 871.1h0M438.6 865.9h0M441.1 965.4h0M432.7 944.0h0M434.8 866.7h0M437.7 860.2h0M434.4 970.9h0M434.4 933.1h0M430.0 887.1h0M429.0 950.7h0M428.2 935.5h0M427.1 859.2h0M437.6 872.0h0M430.5 865.7h0M433.8 890.2h0M428.1 944.5h0M426.1 873.8h0M432.2 888.5h0M438.8 953.7h0M443.7 962.2h0M431.7 960.2h0M430.0 900.1h0M436.5 927.3h0M426.8 950.3h0M430.2 912.7h0M436.7 913.3h0M444.2 964.0h0M438.8 870.0h0M430.7 927.7h0M430.3 909.9h0M436.4 935.2h0M441.5 861.9h0M430.0 925.5h0M435.2 862.2h0M427.5 854.3h0M429.3 921.2h0M430.8 853.8h0M441.5 973.5h0M433.8 881.0h0M431.9 853.3h0M431.5 854.9h0M446.6 855.1h0M437.1 969.3h0M440.3 860.9h0M432.6 933.0h0M429.8 967.8h0M427.1 876.3h0M426.4 952.0h0M426.9 907.6h0M431.0 859.3h0M433.0 873.1h0M429.6 905.2h0M427.8 901.8h0M430.1 948.6h0M436.9 958.5h0M431.6 936.7h0M430.7 870.0h0M433.4 885.5h0M433.6 960.8h0M436.2 901.3h0M435.6 904.0h0M427.8 957.9h0M429.0 889.8h0M444.5 858.8h0M427.6 870.6h0M436.1 924.6h0M436.1 927.1h0M430.9 930.1h0M436.1 880.6h0M428.1 933.7h0M429.8 885.0h0M436.7 976.0h0M434.5 910.9h0M433.5 947.2h0M434.9 903.1h0M436.1 977.3h0M429.8 924.4h0M435.1 858.3h0M432.1 890.1h0M431.0 899.6h0M435.6 885.4h0M435.5 907.5h0M433.1 881.5h0M438.6 966.4h0M434.8 922.6h0M426.4 942.6h0M430.0 890.4h0M437.2 854.6h0M428.8 968.2h0M428.5 857.0h0M439.5 966.9h0M431.0 873.1h0M430.6 892.1h0M427.2 924.4h0M437.4 964.5h0M433.1 898.9h0M432.9 897.5h0M441.8 952.2h0M436.5 860.9h0M434.0 922.2h0M442.9 859.6h0M435.3 937.5h0M441.9 863.6h0M444.0 975.0h0M427.6 902.4h0M428.2 896.3h0M428.8 935.8h0M426.3 862.0h0M429.9 863.9h0M432.1 950.4h0M435.7 971.2h0M436.7 896.2h0M457.5 852.9h0M459.0 852.9h0M427.3 852.9h0M439.8 852.9h0M449.8 852.9h0M453.8 852.9h0M455.4 853.0h0M427.6 853.1h0M429.1 853.1h0M459.9 853.6h0M427.7 852.9h0M454.8 852.9h0M436.5 852.9h0M430.8 853.3h0M462.2 852.9h0M435.6 852.9h0M427.4 852.9h0M476.8 852.9h0M490.6 852.9h0" stroke="#FF7F00" stroke-width="2.3" stroke-linecap="round" fill="none"/>
<rect x="601" y="827.9" width="180.6" height="19" fill="#D9D9D9"/>
<text x="691.3" y="844.1" font-size="18" text-anchor="middle" fill="#1A1A1A">sigPathway</text>
<rect x="601" y="846.9" width="180.6" height="136.5" fill="#EBEBEB"/>
<path d="M601 961.68H781.6M601 930.66H781.6M601 899.64H781.6M601 868.62H781.6M629.73 846.9V983.4M670.78 846.9V983.4M711.82 846.9V983.4M752.87 846.9V983.4" stroke="#fff" stroke-opacity="0.75" stroke-width="0.9" fill="none"/>
<path d="M601 977.2H781.6M601 946.17H781.6M601 915.15H781.6M601 884.13H781.6M601 853.1H781.6M609.21 846.9V983.4M650.25 846.9V983.4M691.3 846.9V983.4M732.35 846.9V983.4M773.39 846.9V983.4" stroke="#fff" stroke-opacity="0.8" stroke-width="1.1" fill="none"/>
<path d="M609.21 983.4V985.2M650.25 983.4V985.2M691.3 983.4V985.2M732.35 983.4V985.2M773.39 983.4V985.2" stroke="#888" stroke-width="0.8" fill="none"/>
<text x="620.91" y="991.6" font-size="17.5" text-anchor="end" fill="#4D4D4D" transform="rotate(-60 620.91 991.6)">0.00</text>
<text x="661.95" y="991.6" font-size="17.5" text-anchor="end" fill="#4D4D4D" transform="rotate(-60 661.95 991.6)">0.25</text>
<text x="703" y="991.6" font-size="17.5" text-anchor="end" fill="#4D4D4D" transform="rotate(-60 703 991.6)">0.50</text>
<text x="744.05" y="991.6" font-size="17.5" text-anchor="end" fill="#4D4D4D" transform="rotate(-60 744.05 991.6)">0.75</text>
<text x="785.09" y="991.6" font-size="17.5" text-anchor="end" fill="#4D4D4D" transform="rotate(-60 785.09 991.6)">1.00</text>
<path d="M619.4 873.4h0M619.4 870.5h0M620.1 932.2h0M620.4 929.8h0M619.8 952.5h0M616.3 969.7h0M618.4 877.0h0M617.7 894.5h0M628.9 878.2h0M617.8 880.9h0M632.7 880.9h0M624.0 861.3h0M618.3 860.3h0M615.5 934.4h0M615.3 903.9h0M617.8 886.2h0M617.3 883.5h0M629.2 871.0h0M622.0 886.2h0M620.2 886.1h0M637.9 933.1h0M629.8 867.8h0M635.1 878.1h0M625.2 894.3h0M631.0 856.2h0M628.7 860.8h0" stroke="#E41A1C" stroke-width="2.3" stroke-linecap="round" fill="none"/>
<path d="M622.5 932.5h0M619.8 863.1h0M615.8 902.7h0M624.3 870.6h0M623.7 918.0h0M617.4 876.1h0M619.9 915.1h0M618.5 943.3h0M625.5 941.8h0M629.8 959.4h0M619.7 941.3h0M626.3 954.3h0M625.5 889.6h0M623.3 924.5h0M615.5 919.7h0M615.7 964.9h0M628.4 934.1h0M616.7 878.4h0M629.1 906.4h0M623.4 906.1h0M628.8 954.2h0M616.4 886.0h0M625.3 933.5h0M619.1 935.1h0M619.8 909.1h0M624.9 955.6h0M618.5 888.9h0M617.4 905.5h0M624.8 936.8h0M627.6 889.7h0M637.9 913.5h0M632.3 927.9h0M639.4 938.7h0M637.2 910.1h0M632.8 920.8h0M632.8 938.8h0M626.4 859.7h0" stroke="#377EB8" stroke-width="2.3" stroke-linecap="round" fill="none"/>
<path d="M617.7 946.9h0M627.5 937.5h0M618.5 863.7h0M629.8 910.1h0M618.6 967.7h0M615.0 961.0h0M615.7 909.4h0M629.9 904.4h0M631.2 947.7h0M614.9 905.9h0M615.1 917.6h0M632.7 950.4h0M625.5 929.2h0M624.8 872.2h0M630.1 924.0h0M627.1 910.3h0M631.8 860.8h0M618.8 967.8h0M631.7 890.3h0M639.8 975.0h0M638.1 952.4h0M636.1 974.1h0" stroke="#4DAF4A" stroke-width="2.3" stroke-linecap="round" fill="none"/>
<path d="M622.9 918.4h0M621.1 870.6h0M619.6 925.0h0M617.9 937.5h0M623.8 922.8h0M628.5 935.0h0M619.9 973.4h0M616.9 930.3h0M617.3 929.7h0M615.9 949.4h0M628.4 908.9h0M615.6 975.0h0M631.5 869.9h0M616.5 922.1h0M621.9 908.9h0M625.7 969.2h0M628.4 934.9h0M625.6 977.3h0M615.6 859.7h0M616.3 869.9h0M619.4 884.3h0M626.3 859.0h0M641.6 972.1h0M633.8 975.6h0M641.7 966.9h0M636.7 918.5h0" stroke="#984EA3" stroke-width="2.3" stroke-linecap="round" fill="none"/>
<path d="M628.3 902.9h0M627.7 898.4h0M616.6 912.2h0M624.5 955.3h0M629.6 897.5h0M631.7 916.0h0M614.9 879.3h0M631.1 960.6h0M630.5 925.7h0M640.3 929.9h0M610.0 852.9h0M614.6 875.7h0M619.2 899.8h0M618.2 852.9h0M619.0 926.8h0M612.2 889.2h0M616.7 963.3h0M612.6 875.6h0M617.6 899.1h0M612.8 873.5h0M611.3 919.5h0M615.0 886.6h0M610.8 969.6h0M615.7 856.0h0M619.3 885.2h0M619.2 904.2h0M611.7 924.9h0M615.5 935.9h0M615.7 918.6h0M611.2 895.6h0M618.3 951.3h0M615.0 973.3h0M624.8 955.6h0M609.7 907.7h0M609.2 908.1h0M613.3 860.1h0M614.5 943.4h0M617.0 893.5h0M614.4 914.6h0M611.0 977.4h0M619.9 898.5h0M616.4 896.3h0M625.0 964.4h0M610.8 975.4h0M612.7 854.9h0M609.5 904.0h0M612.3 975.1h0M611.8 962.8h0M622.1 954.6h0M619.3 930.0h0M611.7 899.5h0M611.3 976.8h0M614.2 971.6h0M612.0 976.4h0M623.2 961.5h0M613.6 877.4h0M621.8 975.3h0M609.5 907.2h0M617.5 858.4h0M613.9 926.2h0M624.6 955.0h0M614.3 855.2h0M610.2 894.5h0M614.3 902.8h0M623.1 961.1h0M618.2 948.8h0M610.3 925.4h0M611.4 946.8h0M614.3 881.0h0M620.1 879.2h0M611.4 888.5h0M618.7 941.0h0M617.4 933.2h0M617.6 957.0h0M611.4 918.8h0M613.8 928.6h0M614.7 912.5h0M624.2 958.9h0M609.8 959.9h0M620.3 960.2h0M617.0 884.7h0M615.5 949.5h0M616.8 961.6h0M611.1 897.0h0M615.4 947.0h0M611.5 878.2h0M623.2 958.9h0M609.9 954.1h0M622.5 961.4h0M611.1 874.4h0M612.2 947.6h0M617.8 969.3h0M611.0 931.0h0M612.5 876.8h0M614.7 966.0h0M618.3 909.0h0M612.5 942.3h0M611.9 956.7h0M620.2 953.7h0M613.1 896.8h0M621.0 874.8h0M614.4 954.0h0M610.4 908.1h0M616.2 923.8h0M613.8 940.0h0M618.2 956.8h0M617.0 903.9h0M617.8 868.7h0M620.8 961.1h0M612.2 860.9h0M616.3 972.0h0M619.4 906.3h0M617.6 864.3h0M618.8 868.8h0M620.1 884.8h0M609.5 856.2h0M613.3 941.0h0M620.0 958.5h0M615.1 890.4h0M620.0 907.8h0M614.4 929.3h0M615.7 871.2h0M614.4 929.9h0M612.3 949.1h0M618.9 954.7h0M620.5 858.5h0M616.4 937.1h0M609.3 961.8h0M618.8 975.2h0M619.7 906.6h0M611.8 884.3h0M619.4 882.2h0M610.4 904.7h0M609.2 905.9h0M622.5 967.1h0M613.6 904.1h0M610.4 937.5h0M613.6 896.1h0M610.7 876.4h0M618.9 933.8h0M613.7 923.1h0M616.3 965.1h0M614.8 954.7h0M615.2 940.3h0M616.2 963.5h0M612.3 924.6h0M613.1 883.3h0M612.4 874.2h0M609.8 897.0h0M611.8 888.6h0M616.2 951.6h0M625.1 974.4h0M612.7 940.1h0M614.2 882.9h0M621.2 856.4h0M611.9 915.6h0M618.8 871.3h0M618.3 920.5h0M619.3 944.6h0M613.3 968.8h0M610.9 958.0h0M621.6 954.1h0M618.9 878.1h0M613.8 954.5h0M611.2 852.9h0M624.0 977.1h0M620.8 859.5h0M610.8 888.1h0M612.1 972.0h0M611.3 960.9h0M613.2 888.5h0M616.9 928.1h0M619.3 855.5h0M611.4 958.3h0M620.7 864.9h0M613.4 927.6h0M620.8 870.1h0M623.8 959.3h0M610.3 867.0h0M615.2 918.7h0M621.5 949.7h0M609.7 956.1h0M625.0 952.5h0M621.6 967.8h0M620.7 858.9h0M625.9 973.3h0M613.3 908.3h0M621.1 889.4h0M612.3 974.6h0M616.8 972.9h0M610.4 874.4h0M612.6 958.6h0M619.7 901.5h0M612.7 878.1h0M610.0 867.7h0M620.0 893.3h0M618.4 962.6h0M620.7 906.0h0M614.0 908.1h0M614.1 951.6h0M623.6 973.1h0M610.7 953.5h0M615.7 873.6h0M612.1 934.0h0M618.8 910.2h0M613.5 906.9h0M621.5 898.3h0M620.5 962.6h0M618.5 909.2h0M621.8 892.0h0M609.8 861.3h0M613.1 866.9h0M611.0 969.4h0M610.4 873.5h0M619.4 871.5h0M620.5 899.4h0M617.8 948.7h0M621.7 881.6h0M625.8 963.3h0M617.2 903.2h0M614.7 941.8h0M614.4 906.5h0M613.1 915.4h0M616.1 885.1h0M618.8 911.2h0M615.0 892.3h0M618.0 878.8h0M619.6 852.9h0M636.5 853.1h0M610.2 852.9h0M634.2 852.9h0M620.2 852.9h0M626.1 852.9h0M622.4 852.9h0M611.6 852.9h0M641.3 852.9h0M611.3 853.3h0M621.4 852.9h0M611.3 852.9h0M611.2 853.1h0M610.5 852.9h0M639.5 852.9h0M633.2 852.9h0M618.9 852.9h0M611.9 853.2h0M612.4 852.9h0M611.3 852.9h0M626.2 852.9h0M615.9 852.9h0M655.9 852.9h0M661.4 852.9h0M663.7 852.9h0M667.9 852.9h0M629.8 935.8h0" stroke="#FF7F00" stroke-width="2.3" stroke-linecap="round" fill="none"/>
<path d="M621.9 853.9h0M629.5 867.2h0M616.1 898.7h0M627.0 902.8h0M622.4 916.0h0M623.3 936.2h0M624.9 876.2h0M624.3 941.4h0M619.0 859.0h0M629.0 902.4h0M616.1 885.1h0M622.1 854.3h0M615.4 862.4h0M632.0 857.3h0M617.4 867.5h0M625.3 884.9h0M629.1 864.3h0M630.3 879.7h0M618.5 903.5h0M615.1 910.8h0M621.3 929.3h0M615.9 866.8h0M620.7 872.0h0M618.4 916.0h0M615.5 881.0h0M623.8 899.6h0M618.8 897.1h0M617.5 865.6h0M616.3 904.0h0M624.2 886.0h0M641.7 960.5h0M637.7 947.1h0M640.2 868.2h0M625.2 870.1h0M634.0 883.9h0M632.8 904.0h0M632.1 857.4h0M633.3 859.7h0M639.0 855.8h0M642.0 965.1h0M636.7 975.0h0M632.8 971.5h0M635.6 862.0h0" stroke="#E41A1C" stroke-width="2.3" stroke-linecap="round" fill="none"/>
<path d="M624.7 879.8h0M622.7 887.9h0M617.0 889.5h0M629.1 915.1h0M626.2 976.0h0M622.0 918.7h0M630.2 892.1h0M615.0 905.9h0M631.2 923.0h0M626.6 939.9h0M632.9 873.9h0M624.5 922.9h0M624.8 864.3h0M623.8 865.1h0M617.2 886.3h0M624.8 899.1h0M620.4 868.7h0M622.3 902.1h0M631.1 936.8h0M616.7 863.8h0M617.5 901.4h0M620.5 921.8h0M624.4 862.0h0M628.8 909.3h0M642.7 910.1h0M639.3 922.1h0M629.8 918.0h0M641.4 942.4h0M629.8 895.4h0" stroke="#377EB8" stroke-width="2.3" stroke-linecap="round" fill="none"/>
<path d="M618.4 936.8h0M628.8 943.6h0M625.7 956.9h0M617.4 921.9h0M625.8 898.9h0M617.7 944.0h0M623.6 952.6h0M620.3 962.2h0M624.8 972.3h0M618.5 863.0h0M621.8 954.2h0M617.3 926.5h0M623.2 946.1h0M625.3 867.2h0M618.6 973.8h0M615.8 943.7h0M633.4 943.3h0M636.9 923.9h0M632.8 913.9h0" stroke="#4DAF4A" stroke-width="2.3" stroke-linecap="round" fill="none"/>
<path d="M623.4 963.7h0M631.8 969.4h0M626.9 927.9h0M616.4 887.9h0M622.5 956.6h0M622.2 953.6h0M629.2 972.1h0M615.5 860.3h0M622.4 914.0h0M619.3 860.3h0M617.4 969.8h0M615.9 945.5h0M632.2 923.8h0M616.1 897.7h0M632.0 859.7h0M633.0 864.7h0M618.2 922.1h0M619.0 971.3h0M614.9 875.9h0M617.3 912.3h0M638.8 908.0h0M643.3 966.4h0" stroke="#984EA3" stroke-width="2.3" stroke-linecap="round" fill="none"/>
<path d="M621.6 972.3h0M615.9 947.7h0M625.4 856.3h0M624.3 955.1h0M618.0 971.4h0M626.8 971.4h0M615.0 971.2h0M616.0 914.8h0M619.1 931.4h0M631.5 957.2h0M633.1 938.7h0M630.9 958.1h0M615.0 941.9h0M624.3 863.7h0M628.9 902.7h0M619.6 965.7h0M625.5 957.7h0M622.8 975.2h0M626.6 970.8h0M633.2 916.7h0M632.4 960.5h0M640.4 943.1h0M620.6 857.4h0M621.2 968.5h0M616.2 915.8h0M625.3 969.1h0M616.6 892.9h0M609.4 965.2h0M614.6 945.8h0M615.9 908.8h0M614.4 924.3h0M619.3 914.3h0M611.4 939.7h0M612.6 870.2h0M619.1 959.2h0M614.9 916.6h0M614.2 947.1h0M614.5 890.2h0M620.1 889.4h0M619.3 901.8h0M613.1 932.3h0M621.1 888.8h0M621.1 901.7h0M611.4 976.1h0M622.0 974.8h0M612.2 938.8h0M614.8 910.4h0M611.9 882.2h0M621.1 905.4h0M618.4 916.6h0M616.1 869.5h0M619.4 858.0h0M620.5 859.8h0M619.7 903.6h0M618.7 931.5h0M609.3 904.5h0M611.1 967.3h0M611.1 915.3h0M613.7 862.2h0M616.5 880.4h0M621.7 888.2h0M623.9 967.6h0M619.6 914.3h0M610.8 853.7h0M619.2 937.9h0M617.3 939.8h0M613.4 949.1h0M621.4 903.2h0M613.6 970.4h0M617.4 919.7h0M612.3 903.8h0M622.3 960.8h0M622.0 866.9h0M618.3 925.8h0M609.7 863.8h0M613.0 940.9h0M614.3 935.1h0M615.2 939.0h0M618.1 950.8h0M613.8 939.4h0M612.5 966.8h0M618.3 932.6h0M612.4 936.6h0M622.3 951.5h0M618.1 899.2h0M625.3 960.8h0M617.7 879.6h0M609.5 927.0h0M616.4 895.2h0M617.6 943.6h0M622.0 859.8h0M620.8 890.3h0M619.1 885.1h0M609.7 956.4h0M616.3 911.0h0M611.5 959.2h0M613.2 883.8h0M614.2 894.6h0M610.4 942.7h0M612.9 921.3h0M617.0 965.8h0M620.2 870.4h0M610.3 858.5h0M619.1 926.0h0M625.5 962.1h0M611.1 888.6h0M623.1 971.5h0M614.6 869.0h0M610.2 922.4h0M626.3 975.6h0M618.8 909.6h0M610.1 865.7h0M622.3 965.5h0M611.5 945.6h0M615.9 967.3h0M615.9 975.6h0M611.5 854.2h0M611.7 952.2h0M618.1 965.3h0M610.7 907.8h0M615.6 863.2h0M613.4 893.8h0M611.8 886.2h0M618.2 900.7h0M621.7 892.4h0M617.6 866.8h0M620.6 897.3h0M619.9 868.7h0M612.3 902.6h0M620.4 861.8h0M613.8 950.6h0M617.0 972.4h0M612.7 930.7h0M612.7 886.3h0M613.8 916.8h0M617.0 908.1h0M620.2 950.4h0M612.4 947.2h0M622.2 961.5h0M619.0 903.9h0M612.9 908.6h0M616.4 945.0h0M616.9 910.2h0M615.6 896.5h0M619.2 932.2h0M611.5 932.5h0M609.3 859.8h0M612.5 951.9h0M610.7 858.9h0M619.8 952.1h0M617.5 898.9h0M618.7 933.5h0M616.9 873.7h0M622.0 961.8h0M612.2 947.6h0M609.7 932.0h0M615.3 911.7h0M619.0 949.1h0M618.5 857.3h0M620.4 859.8h0M612.8 958.3h0M612.5 917.9h0M611.0 937.0h0M612.9 942.9h0M612.1 896.2h0M611.2 964.0h0M614.0 930.0h0M627.0 973.5h0M615.8 957.3h0M614.9 972.9h0M617.3 918.0h0M621.4 977.4h0M611.1 878.7h0M615.0 936.2h0M611.2 902.4h0M615.0 903.2h0M615.6 935.0h0M612.5 914.2h0M619.6 966.1h0M619.2 881.3h0M612.3 973.4h0M619.5 869.5h0M612.3 947.6h0M626.2 961.7h0M619.7 893.9h0M610.7 869.2h0M611.5 903.0h0M614.8 928.3h0M616.0 900.4h0M614.6 896.1h0M611.1 897.6h0M619.2 889.4h0M618.2 896.9h0M618.7 883.1h0M617.7 874.4h0M609.2 947.2h0M619.1 876.8h0M612.2 956.1h0M612.5 887.8h0M613.7 866.7h0M618.6 879.0h0M613.5 944.4h0M610.4 954.1h0M625.4 953.9h0M616.6 976.1h0M609.9 871.6h0M614.7 892.2h0M613.0 970.4h0M617.3 868.6h0M609.8 971.9h0M614.5 972.2h0M617.3 920.0h0M609.4 891.0h0M613.0 939.4h0M615.6 890.7h0M620.6 860.8h0M610.0 899.8h0M618.5 933.9h0M618.0 969.9h0M614.6 862.9h0M619.4 940.2h0M611.9 868.6h0M619.7 966.5h0M612.0 913.5h0M609.1 898.3h0M612.1 936.8h0M612.2 876.5h0M618.4 899.0h0M611.4 959.4h0M616.9 971.9h0M619.3 893.4h0M617.8 895.8h0M616.0 868.8h0M616.7 885.6h0M612.5 934.3h0M612.4 853.0h0M612.8 852.9h0M614.2 852.9h0M636.8 852.9h0M637.3 852.9h0M637.2 852.9h0M611.8 852.9h0M611.3 852.9h0M642.5 852.9h0M619.9 852.9h0M610.4 853.2h0M617.9 852.9h0M640.6 852.9h0M654.0 852.9h0M659.8 852.9h0M687.5 852.9h0M752.7 852.9h0" stroke="#FF7F00" stroke-width="2.3" stroke-linecap="round" fill="none"/>
<path d="M620.3 869.0h0M631.4 916.6h0M619.1 874.8h0M628.4 899.8h0M616.4 963.8h0M616.5 883.3h0M619.0 867.9h0M615.0 880.7h0M616.5 975.5h0M621.7 884.7h0M622.3 902.6h0M618.3 885.0h0M621.8 885.1h0M620.9 876.4h0M624.4 876.4h0M632.7 895.8h0M620.5 889.8h0M616.7 856.1h0M616.5 898.8h0M632.8 872.7h0M620.1 881.7h0M618.3 938.4h0M637.6 955.9h0M638.6 933.4h0M637.6 934.7h0M646.0 856.7h0M655.9 864.3h0M635.6 865.4h0M636.7 866.6h0M628.7 900.0h0" stroke="#E41A1C" stroke-width="2.3" stroke-linecap="round" fill="none"/>
<path d="M632.5 883.3h0M623.3 855.6h0M621.6 939.3h0M630.3 919.7h0M627.9 945.2h0M614.9 933.6h0M632.9 915.0h0M633.2 913.9h0M615.8 943.4h0M614.8 857.7h0M629.7 905.1h0M629.6 926.3h0M625.9 932.8h0M623.8 914.1h0M615.5 897.6h0M624.8 868.7h0M626.6 897.1h0M619.0 914.4h0M628.3 912.4h0M623.2 861.4h0M614.9 915.0h0M633.1 918.4h0M626.4 902.3h0M642.0 930.0h0M628.7 856.2h0" stroke="#377EB8" stroke-width="2.3" stroke-linecap="round" fill="none"/>
<path d="M629.8 867.7h0M618.8 899.3h0M631.6 902.5h0M617.6 972.8h0M630.2 857.5h0M615.3 939.5h0M630.2 912.1h0M630.1 939.0h0M632.5 950.1h0M636.7 927.2h0" stroke="#4DAF4A" stroke-width="2.3" stroke-linecap="round" fill="none"/>
<path d="M632.3 948.0h0M627.0 968.9h0M628.5 949.1h0M629.4 884.4h0M622.6 939.5h0M629.8 936.8h0M619.1 975.2h0M626.7 976.1h0M628.0 926.4h0M622.7 896.3h0M615.0 880.9h0M617.1 861.9h0M619.2 971.2h0M625.0 969.3h0M642.0 909.7h0M632.8 908.8h0" stroke="#984EA3" stroke-width="2.3" stroke-linecap="round" fill="none"/>
<path d="M631.8 948.4h0M621.3 948.7h0M625.3 894.6h0M625.6 922.2h0M624.5 912.8h0M625.5 947.5h0M618.0 955.2h0M642.8 945.7h0M632.0 946.3h0M638.1 971.4h0M612.8 949.8h0M616.2 915.6h0M621.2 853.0h0M613.5 916.2h0M619.6 899.0h0M621.2 853.2h0M619.9 913.2h0M613.3 853.1h0M614.7 918.3h0M611.8 875.1h0M620.1 890.8h0M610.2 880.1h0M612.1 957.6h0M611.4 963.6h0M609.5 944.0h0M619.9 969.0h0M609.3 886.9h0M613.5 943.5h0M618.2 945.8h0M616.7 954.0h0M613.3 880.6h0M623.0 955.0h0M622.2 972.5h0M619.2 922.9h0M609.6 914.1h0M617.8 876.3h0M624.6 964.6h0M617.0 945.8h0M617.6 881.8h0M615.0 877.5h0M616.9 922.1h0M617.5 949.9h0M622.0 962.9h0M615.4 950.4h0M621.5 882.7h0M618.9 925.8h0M617.0 895.0h0M615.2 972.5h0M613.9 962.8h0M625.6 968.1h0M627.1 969.4h0M614.0 882.0h0M612.5 887.0h0M626.1 974.9h0M611.7 879.4h0M614.9 954.6h0M615.0 897.2h0M610.2 870.8h0M610.3 912.2h0M614.0 948.4h0M610.2 922.2h0M610.4 893.5h0M616.5 896.9h0M617.2 925.5h0M613.1 868.3h0M612.6 975.1h0M612.8 899.3h0M621.7 903.1h0M614.8 944.3h0M613.0 943.7h0M614.5 872.3h0M616.2 855.2h0M616.0 906.3h0M610.0 933.7h0M625.9 973.7h0M626.7 958.6h0M611.3 864.7h0M618.3 893.2h0M616.2 852.9h0M615.1 971.7h0M614.9 965.0h0M618.7 896.8h0M612.5 864.7h0M624.9 954.8h0M610.3 933.1h0M614.3 940.7h0M612.1 854.7h0M611.1 931.4h0M618.8 915.4h0M612.9 892.3h0M616.8 912.3h0M619.4 917.6h0M615.8 937.9h0M616.7 906.8h0M616.8 945.6h0M612.5 910.5h0M609.2 868.9h0M609.5 958.6h0M610.8 915.7h0M612.7 893.9h0M621.6 875.5h0M615.5 912.2h0M621.2 878.3h0M619.1 922.0h0M616.7 946.6h0M616.5 858.4h0M612.1 920.4h0M614.5 915.6h0M623.5 966.1h0M612.2 967.2h0M610.8 891.9h0M612.3 901.7h0M619.5 874.1h0M617.2 898.5h0M615.8 918.6h0M609.9 967.1h0M614.3 883.8h0M618.2 879.0h0M609.7 964.0h0M618.5 875.3h0M624.2 974.7h0M612.2 873.2h0M611.0 889.1h0M613.3 878.7h0M618.1 871.0h0M612.1 927.2h0M620.8 862.7h0M619.2 922.3h0M613.2 904.9h0M620.1 967.9h0M616.5 960.0h0M618.6 951.8h0M622.0 866.5h0M614.5 902.4h0M615.2 910.5h0M611.8 977.4h0M614.7 942.4h0M622.2 972.0h0M616.4 953.0h0M617.5 906.6h0M611.8 944.7h0M609.4 925.4h0M613.3 874.5h0M613.8 905.3h0M612.1 966.7h0M615.0 880.8h0M611.8 913.3h0M625.1 973.8h0M626.7 965.7h0M610.3 894.0h0M616.1 860.3h0M614.1 866.2h0M618.8 857.6h0M618.8 935.9h0M616.4 926.9h0M610.9 860.7h0M620.1 908.5h0M625.5 975.3h0M612.3 890.8h0M623.0 949.9h0M610.0 925.0h0M621.4 901.1h0M610.9 968.0h0M612.8 966.9h0M625.4 958.2h0M614.3 914.9h0M611.6 957.3h0M619.1 939.3h0M614.7 916.1h0M620.0 904.7h0M623.8 957.6h0M610.2 870.5h0M613.1 918.4h0M609.3 916.5h0M616.3 917.5h0M610.0 872.7h0M611.6 882.6h0M610.4 856.0h0M610.5 869.2h0M616.7 918.5h0M612.3 916.1h0M611.2 918.8h0M609.7 878.9h0M618.7 947.9h0M615.1 930.9h0M614.9 939.9h0M615.6 933.5h0M620.8 964.5h0M611.7 954.5h0M613.3 946.3h0M612.2 941.4h0M613.8 864.6h0M620.4 970.0h0M621.5 967.9h0M618.8 904.5h0M609.5 913.3h0M617.0 892.7h0M609.6 965.4h0M614.9 859.1h0M620.6 883.8h0M611.0 958.3h0M618.6 888.1h0M618.5 853.1h0M618.1 966.6h0M620.6 879.1h0M610.6 916.8h0M619.1 939.9h0M620.0 897.5h0M613.0 863.8h0M613.5 908.8h0M613.6 877.7h0M617.6 872.4h0M615.0 963.4h0M611.9 925.3h0M621.0 952.4h0M610.8 859.7h0M613.3 865.9h0M626.2 960.4h0M613.5 901.3h0M612.3 941.9h0M612.2 962.2h0M611.6 921.5h0M621.2 896.2h0M614.5 969.8h0M621.6 883.1h0M617.5 966.8h0M619.6 913.0h0M614.4 868.3h0M614.9 894.5h0M621.2 976.1h0M610.1 939.5h0M615.5 949.6h0M619.0 903.4h0M619.2 928.2h0M617.8 929.4h0M609.3 906.8h0M626.8 964.3h0M627.3 972.8h0M613.3 911.8h0M614.8 904.3h0M617.4 958.8h0M617.0 928.9h0M615.1 966.2h0M611.1 897.1h0M610.8 939.0h0M614.3 913.7h0M614.3 852.9h0M630.3 852.9h0M612.5 852.9h0M619.4 853.0h0M634.6 852.9h0M620.9 852.9h0M638.4 853.3h0M640.9 852.9h0M625.8 853.1h0M631.9 852.9h0M610.4 852.9h0M620.1 852.9h0M614.6 853.1h0M620.1 852.9h0M636.4 852.9h0M624.7 852.9h0M657.5 852.9h0M672.9 852.9h0M690.9 852.9h0M773.0 852.9h0" stroke="#FF7F00" stroke-width="2.3" stroke-linecap="round" fill="none"/>
<path d="M615.2 857.5h0M616.4 946.0h0M615.6 961.7h0M631.2 953.9h0M615.2 952.9h0M623.0 974.2h0M623.2 959.9h0M622.7 863.9h0M625.1 891.7h0M615.6 855.1h0M618.6 893.0h0M618.4 899.0h0M625.2 897.8h0M623.3 933.3h0M621.1 940.9h0M618.8 869.0h0M626.0 899.6h0M628.8 882.0h0M615.5 882.4h0M617.8 878.8h0M615.0 875.0h0M631.7 888.3h0M627.6 939.8h0M621.3 876.1h0M634.2 960.0h0M650.1 862.0h0M631.0 886.2h0M642.0 854.4h0M632.8 975.0h0M663.7 854.6h0M626.4 881.6h0" stroke="#E41A1C" stroke-width="2.3" stroke-linecap="round" fill="none"/>
<path d="M631.0 921.7h0M617.1 942.6h0M629.5 869.1h0M617.0 857.6h0M624.9 955.7h0M624.9 919.9h0M621.6 921.2h0M621.0 911.3h0M620.2 893.4h0M627.2 892.6h0M625.9 927.2h0M628.0 871.8h0M631.5 901.4h0M620.4 966.8h0M626.8 871.4h0M628.6 926.3h0M631.3 915.4h0M619.6 914.6h0M628.1 925.9h0M618.5 917.0h0M624.3 892.9h0M622.9 870.1h0M621.8 894.5h0M618.2 861.6h0M624.2 917.2h0M622.3 885.3h0M617.5 963.1h0M620.6 899.5h0M615.4 934.1h0M625.6 873.8h0M619.7 937.1h0M617.1 888.1h0M616.7 931.0h0M617.9 902.6h0M640.1 968.6h0M636.7 938.8h0" stroke="#377EB8" stroke-width="2.3" stroke-linecap="round" fill="none"/>
<path d="M615.8 962.8h0M630.3 942.2h0M627.4 889.5h0M622.0 910.1h0M622.5 922.2h0M620.8 924.0h0M623.9 948.1h0M624.4 953.6h0M626.7 920.4h0M616.6 874.7h0M614.8 944.8h0M623.4 972.9h0M624.7 932.1h0M629.8 888.5h0M642.0 923.8h0M642.0 976.1h0" stroke="#4DAF4A" stroke-width="2.3" stroke-linecap="round" fill="none"/>
<path d="M631.5 955.4h0M625.7 924.8h0M616.6 943.3h0M621.2 937.8h0M618.6 942.1h0M627.1 907.4h0M615.4 932.1h0M618.7 953.3h0M624.7 950.0h0M616.9 959.7h0M618.3 867.8h0M631.3 872.2h0M616.8 880.8h0M625.7 858.5h0M632.1 975.5h0M619.5 939.4h0M628.3 928.1h0M625.2 975.4h0M637.8 952.2h0M640.3 904.7h0M635.6 940.0h0M642.0 908.2h0M642.0 913.2h0M642.0 969.9h0" stroke="#984EA3" stroke-width="2.3" stroke-linecap="round" fill="none"/>
<path d="M632.3 894.4h0M616.3 942.7h0M617.3 916.0h0M615.0 967.4h0M620.1 945.4h0M615.1 904.5h0M619.6 915.3h0M623.0 964.6h0M631.9 866.2h0M621.3 863.7h0M622.7 961.4h0M621.0 976.1h0M617.1 863.2h0M615.8 880.2h0M620.4 860.8h0M611.4 949.1h0M618.7 941.2h0M623.8 972.7h0M610.5 970.2h0M618.0 907.4h0M620.4 903.5h0M617.8 913.2h0M615.7 907.5h0M612.2 928.7h0M609.1 956.4h0M624.5 965.2h0M612.4 901.5h0M614.7 911.7h0M618.6 903.2h0M621.5 963.7h0M615.1 945.0h0M615.1 910.3h0M620.0 910.4h0M613.0 902.6h0M612.7 876.2h0M618.9 907.1h0M609.1 927.9h0M611.7 882.0h0M620.3 908.1h0M610.2 929.2h0M617.1 908.1h0M616.7 942.4h0M610.1 852.9h0M615.8 968.1h0M625.2 977.4h0M615.3 977.4h0M612.7 887.6h0M616.6 915.4h0M613.2 955.6h0M618.3 974.4h0M620.9 863.6h0M618.7 921.7h0M613.2 968.3h0M615.3 904.4h0M612.4 969.6h0M613.5 926.1h0M610.2 933.6h0M616.5 919.2h0M613.3 866.3h0M619.1 852.9h0M615.8 934.9h0M617.1 875.7h0M616.8 969.7h0M613.6 878.9h0M617.9 918.5h0M620.4 910.1h0M620.2 891.5h0M624.7 964.3h0M621.6 948.7h0M623.6 959.5h0M618.8 879.8h0M611.2 856.8h0M610.2 871.2h0M625.1 969.3h0M618.4 869.6h0M613.8 965.2h0M613.0 871.3h0M615.9 893.4h0M611.8 892.3h0M619.3 852.9h0M609.6 898.1h0M614.0 861.2h0M610.9 974.7h0M627.4 977.2h0M611.4 891.8h0M612.3 903.4h0M618.4 893.4h0M621.6 898.2h0M611.0 883.1h0M613.1 964.3h0M619.8 856.2h0M609.3 926.1h0M618.6 872.1h0M615.0 944.5h0M627.2 972.0h0M613.9 864.1h0M612.3 881.8h0M614.6 891.0h0M618.8 928.4h0M614.7 928.9h0M611.5 871.8h0M612.5 941.7h0M615.8 970.6h0M627.0 971.2h0M610.6 944.1h0M622.2 972.9h0M621.6 880.1h0M618.0 955.5h0M610.3 890.5h0M613.3 854.8h0M616.3 921.7h0M615.3 946.7h0M614.5 864.0h0M612.3 882.2h0M614.5 870.6h0M619.9 946.7h0M614.4 879.8h0M613.5 968.5h0M614.9 900.4h0M621.3 878.3h0M613.7 925.3h0M614.3 879.4h0M616.7 950.3h0M609.6 904.2h0M612.5 892.6h0M618.7 865.8h0M611.0 870.5h0M617.1 868.2h0M614.1 902.1h0M614.5 964.5h0M618.4 967.5h0M619.3 855.2h0M620.2 891.8h0M618.1 917.1h0M616.2 855.9h0M610.0 967.9h0M618.7 880.0h0M611.7 931.7h0M611.3 960.9h0M614.2 877.5h0M626.2 972.3h0M612.6 937.0h0M611.3 962.7h0M609.3 867.8h0M616.7 881.2h0M618.8 940.7h0M616.3 914.1h0M621.5 977.3h0M611.4 969.3h0M617.4 921.1h0M620.4 900.3h0M612.0 938.1h0M611.2 955.8h0M619.4 961.8h0M615.3 945.9h0M627.3 975.4h0M619.8 971.5h0M615.9 888.3h0M619.4 938.9h0M623.1 951.7h0M612.4 940.0h0M610.2 953.1h0M612.6 947.4h0M614.0 943.1h0M623.3 953.7h0M620.1 889.7h0M619.8 951.1h0M610.6 954.8h0M611.6 960.9h0M616.4 906.3h0M614.6 894.6h0M611.7 875.8h0M613.9 896.6h0M612.2 917.2h0M621.4 858.8h0M616.3 971.4h0M616.5 871.6h0M626.3 956.6h0M615.1 866.5h0M623.4 963.3h0M611.3 937.4h0M619.5 865.5h0M618.0 856.3h0M609.5 946.1h0M610.3 866.8h0M609.6 883.1h0M623.4 961.1h0M618.9 915.3h0M620.1 966.3h0M609.2 936.0h0M621.8 952.4h0M613.3 856.1h0M619.1 946.7h0M622.0 972.0h0M615.4 895.1h0M618.8 893.4h0M609.8 880.3h0M609.3 873.4h0M615.2 863.7h0M626.9 976.8h0M611.9 853.0h0M613.4 887.8h0M617.4 853.3h0M611.4 967.3h0M611.1 872.9h0M621.9 951.3h0M620.0 889.4h0M619.5 963.9h0M624.6 965.7h0M615.2 860.5h0M614.1 943.9h0M610.9 881.7h0M612.6 948.3h0M615.1 860.1h0M615.2 892.0h0M616.1 929.8h0M615.2 865.7h0M615.5 953.6h0M617.6 950.8h0M619.1 924.7h0M616.0 925.1h0M620.0 955.2h0M617.9 935.5h0M616.6 949.8h0M615.2 916.5h0M612.3 853.4h0M611.2 852.9h0M617.1 852.9h0M617.0 852.9h0M638.7 852.9h0M626.2 853.2h0M616.9 852.9h0M611.7 853.2h0M614.1 852.9h0M618.4 852.9h0M642.9 852.9h0M627.5 853.1h0M641.8 852.9h0M622.7 852.9h0M627.5 852.9h0M613.8 852.9h0M637.2 852.9h0M625.6 852.9h0M612.5 853.3h0M649.9 852.9h0M671.3 852.9h0M678.2 852.9h0M642.0 908.1h0M636.7 912.7h0M642.0 939.9h0" stroke="#FF7F00" stroke-width="2.3" stroke-linecap="round" fill="none"/>
<text x="49.2" y="983.3" font-size="16.6" text-anchor="end" fill="#4D4D4D">0.00</text>
<text x="49.2" y="952.27" font-size="16.6" text-anchor="end" fill="#4D4D4D">0.25</text>
<text x="49.2" y="921.25" font-size="16.6" text-anchor="end" fill="#4D4D4D">0.50</text>
<text x="49.2" y="890.23" font-size="16.6" text-anchor="end" fill="#4D4D4D">0.75</text>
<text x="49.2" y="859.2" font-size="16.6" text-anchor="end" fill="#4D4D4D">1.00</text>
<path d="M50.2 977.2H51.8M50.2 946.17H51.8M50.2 915.15H51.8M50.2 884.13H51.8M50.2 853.1H51.8" stroke="#888" stroke-width="0.8" fill="none"/>
<text x="14.3" y="915.15" font-size="17.7" text-anchor="middle" fill="#000" transform="rotate(-90 14.3 915.15)">Power</text>
<text x="416.7" y="1038.1" font-size="17.7" text-anchor="middle" fill="#000">Overlap Prop</text>
<text x="319.5" y="1057.7" font-size="17" fill="#000" font-family="Liberation Serif">τ</text>
<rect x="329.7" y="1045.2" width="14.1" height="14" fill="#F0F0F0"/>
<circle cx="336.75" cy="1052.2" r="0.85" fill="#666"/>
<text x="345.8" y="1058.9" font-size="17" fill="#000">0.25</text>
<rect x="382.5" y="1045.2" width="14.1" height="14" fill="#F0F0F0"/>
<circle cx="389.55" cy="1052.2" r="0.85" fill="#666"/>
<text x="398.6" y="1058.9" font-size="17" fill="#000">0.5</text>
<rect x="425" y="1045.2" width="14.1" height="14" fill="#F0F0F0"/>
<circle cx="432.05" cy="1052.2" r="0.85" fill="#666"/>
<text x="441.1" y="1058.9" font-size="17" fill="#000">1</text>
<rect x="451.8" y="1045.2" width="14.1" height="14" fill="#F0F0F0"/>
<circle cx="458.85" cy="1052.2" r="0.85" fill="#666"/>
<text x="467.6" y="1058.9" font-size="17" fill="#000">2</text>
<rect x="479" y="1045.2" width="14.1" height="14" fill="#F0F0F0"/>
<circle cx="486.05" cy="1052.2" r="0.85" fill="#666"/>
<text x="495.3" y="1058.9" font-size="17" fill="#000">10</text>
</svg>
</body></html>
